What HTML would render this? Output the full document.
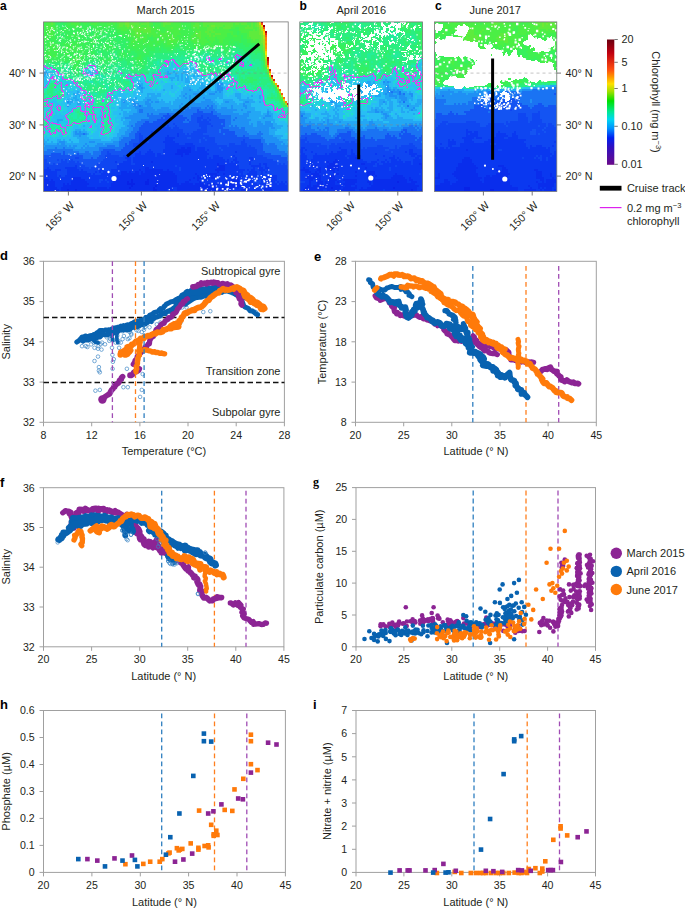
<!DOCTYPE html><html><head><meta charset="utf-8"><style>html,body{margin:0;padding:0;background:#fff;}svg{display:block;}</style></head><body><svg width="685" height="909" viewBox="0 0 685 909">
<rect width="685" height="909" fill="#fff"/>
<rect x="43.5" y="261.3" width="240.9" height="161" fill="none" stroke="#a0a0a0" stroke-width="1"/>
<line x1="43.5" y1="422.3" x2="43.5" y2="426.3" stroke="#a0a0a0" stroke-width="1" stroke-linecap="butt"/>
<text x="43.5" y="438.6" font-size="10.6" text-anchor="middle" font-weight="normal" fill="#231f20" font-family='"Liberation Sans", sans-serif'>8</text>
<line x1="91.7" y1="422.3" x2="91.7" y2="426.3" stroke="#a0a0a0" stroke-width="1" stroke-linecap="butt"/>
<text x="91.7" y="438.6" font-size="10.6" text-anchor="middle" font-weight="normal" fill="#231f20" font-family='"Liberation Sans", sans-serif'>12</text>
<line x1="139.9" y1="422.3" x2="139.9" y2="426.3" stroke="#a0a0a0" stroke-width="1" stroke-linecap="butt"/>
<text x="139.9" y="438.6" font-size="10.6" text-anchor="middle" font-weight="normal" fill="#231f20" font-family='"Liberation Sans", sans-serif'>16</text>
<line x1="188" y1="422.3" x2="188" y2="426.3" stroke="#a0a0a0" stroke-width="1" stroke-linecap="butt"/>
<text x="188" y="438.6" font-size="10.6" text-anchor="middle" font-weight="normal" fill="#231f20" font-family='"Liberation Sans", sans-serif'>20</text>
<line x1="236.2" y1="422.3" x2="236.2" y2="426.3" stroke="#a0a0a0" stroke-width="1" stroke-linecap="butt"/>
<text x="236.2" y="438.6" font-size="10.6" text-anchor="middle" font-weight="normal" fill="#231f20" font-family='"Liberation Sans", sans-serif'>24</text>
<line x1="284.4" y1="422.3" x2="284.4" y2="426.3" stroke="#a0a0a0" stroke-width="1" stroke-linecap="butt"/>
<text x="284.4" y="438.6" font-size="10.6" text-anchor="middle" font-weight="normal" fill="#231f20" font-family='"Liberation Sans", sans-serif'>28</text>
<line x1="39.5" y1="261.3" x2="43.5" y2="261.3" stroke="#a0a0a0" stroke-width="1" stroke-linecap="butt"/>
<text x="34.7" y="265.1" font-size="10.6" text-anchor="end" font-weight="normal" fill="#231f20" font-family='"Liberation Sans", sans-serif'>36</text>
<line x1="39.5" y1="301.6" x2="43.5" y2="301.6" stroke="#a0a0a0" stroke-width="1" stroke-linecap="butt"/>
<text x="34.7" y="305.4" font-size="10.6" text-anchor="end" font-weight="normal" fill="#231f20" font-family='"Liberation Sans", sans-serif'>35</text>
<line x1="39.5" y1="341.8" x2="43.5" y2="341.8" stroke="#a0a0a0" stroke-width="1" stroke-linecap="butt"/>
<text x="34.7" y="345.6" font-size="10.6" text-anchor="end" font-weight="normal" fill="#231f20" font-family='"Liberation Sans", sans-serif'>34</text>
<line x1="39.5" y1="382.1" x2="43.5" y2="382.1" stroke="#a0a0a0" stroke-width="1" stroke-linecap="butt"/>
<text x="34.7" y="385.9" font-size="10.6" text-anchor="end" font-weight="normal" fill="#231f20" font-family='"Liberation Sans", sans-serif'>33</text>
<line x1="39.5" y1="422.3" x2="43.5" y2="422.3" stroke="#a0a0a0" stroke-width="1" stroke-linecap="butt"/>
<text x="34.7" y="426.1" font-size="10.6" text-anchor="end" font-weight="normal" fill="#231f20" font-family='"Liberation Sans", sans-serif'>32</text>
<text x="163.9" y="455" font-size="11" text-anchor="middle" font-weight="normal" fill="#231f20" font-family='"Liberation Sans", sans-serif'>Temperature (°C)</text>
<text x="10" y="341.8" font-size="11" text-anchor="middle" font-weight="normal" fill="#231f20" font-family='"Liberation Sans", sans-serif' transform="rotate(-90 10 341.8)">Salinity</text>
<text x="0" y="260" font-size="13" text-anchor="start" font-weight="bold" fill="#000" font-family='"Liberation Sans", sans-serif'>d</text>
<line x1="43.5" y1="317.5" x2="284.4" y2="317.5" stroke="#111" stroke-width="1.5" stroke-dasharray="5.5,3" stroke-linecap="butt"/>
<line x1="43.5" y1="382.5" x2="284.4" y2="382.5" stroke="#111" stroke-width="1.5" stroke-dasharray="5.5,3" stroke-linecap="butt"/>
<text x="280.5" y="275.3" font-size="11" text-anchor="end" font-weight="normal" fill="#231f20" font-family='"Liberation Sans", sans-serif'>Subtropical gyre</text>
<text x="280.5" y="375" font-size="11" text-anchor="end" font-weight="normal" fill="#231f20" font-family='"Liberation Sans", sans-serif'>Transition zone</text>
<text x="280.5" y="416" font-size="11" text-anchor="end" font-weight="normal" fill="#231f20" font-family='"Liberation Sans", sans-serif'>Subpolar gyre</text>
<circle cx="85.8" cy="346.1" r="1.8" fill="none" stroke="#3a84c4" stroke-width="0.8" opacity="0.85"/>
<circle cx="94.5" cy="347.8" r="1.8" fill="none" stroke="#3a84c4" stroke-width="0.8" opacity="0.85"/>
<circle cx="98" cy="348.7" r="1.8" fill="none" stroke="#3a84c4" stroke-width="0.8" opacity="0.85"/>
<circle cx="101.5" cy="349.6" r="1.8" fill="none" stroke="#3a84c4" stroke-width="0.8" opacity="0.85"/>
<circle cx="98" cy="356.6" r="1.8" fill="none" stroke="#3a84c4" stroke-width="0.8" opacity="0.85"/>
<circle cx="94.5" cy="361" r="1.8" fill="none" stroke="#3a84c4" stroke-width="0.8" opacity="0.85"/>
<circle cx="98.9" cy="367.1" r="1.8" fill="none" stroke="#3a84c4" stroke-width="0.8" opacity="0.85"/>
<circle cx="99.8" cy="372.3" r="1.8" fill="none" stroke="#3a84c4" stroke-width="0.8" opacity="0.85"/>
<circle cx="95.4" cy="390.7" r="1.8" fill="none" stroke="#3a84c4" stroke-width="0.8" opacity="0.85"/>
<circle cx="99.8" cy="389.9" r="1.8" fill="none" stroke="#3a84c4" stroke-width="0.8" opacity="0.85"/>
<circle cx="105" cy="344.3" r="1.8" fill="none" stroke="#3a84c4" stroke-width="0.8" opacity="0.85"/>
<circle cx="112" cy="347.8" r="1.8" fill="none" stroke="#3a84c4" stroke-width="0.8" opacity="0.85"/>
<circle cx="112.4" cy="354.8" r="1.8" fill="none" stroke="#3a84c4" stroke-width="0.8" opacity="0.85"/>
<circle cx="112.9" cy="361.8" r="1.8" fill="none" stroke="#3a84c4" stroke-width="0.8" opacity="0.85"/>
<circle cx="112.6" cy="368.8" r="1.8" fill="none" stroke="#3a84c4" stroke-width="0.8" opacity="0.85"/>
<circle cx="117.3" cy="335.6" r="1.8" fill="none" stroke="#3a84c4" stroke-width="0.8" opacity="0.85"/>
<circle cx="118.2" cy="340.8" r="1.8" fill="none" stroke="#3a84c4" stroke-width="0.8" opacity="0.85"/>
<circle cx="119.1" cy="347.8" r="1.8" fill="none" stroke="#3a84c4" stroke-width="0.8" opacity="0.85"/>
<circle cx="122.6" cy="339.1" r="1.8" fill="none" stroke="#3a84c4" stroke-width="0.8" opacity="0.85"/>
<circle cx="127.8" cy="339.1" r="1.8" fill="none" stroke="#3a84c4" stroke-width="0.8" opacity="0.85"/>
<circle cx="131.3" cy="334.7" r="1.8" fill="none" stroke="#3a84c4" stroke-width="0.8" opacity="0.85"/>
<circle cx="141.8" cy="332" r="1.8" fill="none" stroke="#3a84c4" stroke-width="0.8" opacity="0.85"/>
<circle cx="126.9" cy="368.8" r="1.8" fill="none" stroke="#3a84c4" stroke-width="0.8" opacity="0.85"/>
<circle cx="123.4" cy="387.2" r="1.8" fill="none" stroke="#3a84c4" stroke-width="0.8" opacity="0.85"/>
<circle cx="127.8" cy="387.2" r="1.8" fill="none" stroke="#3a84c4" stroke-width="0.8" opacity="0.85"/>
<circle cx="141.8" cy="389.9" r="1.8" fill="none" stroke="#3a84c4" stroke-width="0.8" opacity="0.85"/>
<circle cx="140.1" cy="396.9" r="1.8" fill="none" stroke="#3a84c4" stroke-width="0.8" opacity="0.85"/>
<circle cx="142.7" cy="374.1" r="1.8" fill="none" stroke="#3a84c4" stroke-width="0.8" opacity="0.85"/>
<circle cx="182.1" cy="307.5" r="1.8" fill="none" stroke="#3a84c4" stroke-width="0.8" opacity="0.85"/>
<circle cx="186.5" cy="307.5" r="1.8" fill="none" stroke="#3a84c4" stroke-width="0.8" opacity="0.85"/>
<circle cx="93.7" cy="342.6" r="1.8" fill="none" stroke="#3a84c4" stroke-width="0.8" opacity="0.85"/>
<circle cx="96.3" cy="341.7" r="1.8" fill="none" stroke="#3a84c4" stroke-width="0.8" opacity="0.85"/>
<circle cx="100.7" cy="344.3" r="1.8" fill="none" stroke="#3a84c4" stroke-width="0.8" opacity="0.85"/>
<circle cx="106.8" cy="337.3" r="1.8" fill="none" stroke="#3a84c4" stroke-width="0.8" opacity="0.85"/>
<circle cx="110.3" cy="339.1" r="1.8" fill="none" stroke="#3a84c4" stroke-width="0.8" opacity="0.85"/>
<circle cx="115.6" cy="342.6" r="1.8" fill="none" stroke="#3a84c4" stroke-width="0.8" opacity="0.85"/>
<circle cx="120.8" cy="342.6" r="1.8" fill="none" stroke="#3a84c4" stroke-width="0.8" opacity="0.85"/>
<circle cx="113.8" cy="359.2" r="1.8" fill="none" stroke="#3a84c4" stroke-width="0.8" opacity="0.85"/>
<circle cx="98.9" cy="370.6" r="1.8" fill="none" stroke="#3a84c4" stroke-width="0.8" opacity="0.85"/>
<circle cx="122.6" cy="331.2" r="1.8" fill="none" stroke="#3a84c4" stroke-width="0.8" opacity="0.85"/>
<circle cx="129.6" cy="332" r="1.8" fill="none" stroke="#3a84c4" stroke-width="0.8" opacity="0.85"/>
<circle cx="136.6" cy="330.3" r="1.8" fill="none" stroke="#3a84c4" stroke-width="0.8" opacity="0.85"/>
<circle cx="145.3" cy="326.8" r="1.8" fill="none" stroke="#3a84c4" stroke-width="0.8" opacity="0.85"/>
<circle cx="152.3" cy="321.5" r="1.8" fill="none" stroke="#3a84c4" stroke-width="0.8" opacity="0.85"/>
<circle cx="161.1" cy="316.3" r="1.8" fill="none" stroke="#3a84c4" stroke-width="0.8" opacity="0.85"/>
<circle cx="177" cy="306.8" r="1.8" fill="none" stroke="#3a84c4" stroke-width="0.8" opacity="0.85"/>
<circle cx="180.5" cy="303.3" r="1.8" fill="none" stroke="#3a84c4" stroke-width="0.8" opacity="0.85"/>
<circle cx="185.8" cy="305" r="1.8" fill="none" stroke="#3a84c4" stroke-width="0.8" opacity="0.85"/>
<circle cx="191" cy="299.8" r="1.8" fill="none" stroke="#3a84c4" stroke-width="0.8" opacity="0.85"/>
<circle cx="196.3" cy="298" r="1.8" fill="none" stroke="#3a84c4" stroke-width="0.8" opacity="0.85"/>
<circle cx="203.3" cy="312" r="1.8" fill="none" stroke="#3a84c4" stroke-width="0.8" opacity="0.85"/>
<circle cx="210.3" cy="311.2" r="1.8" fill="none" stroke="#3a84c4" stroke-width="0.8" opacity="0.85"/>
<circle cx="231.3" cy="292.8" r="1.8" fill="none" stroke="#3a84c4" stroke-width="0.8" opacity="0.85"/>
<circle cx="243.6" cy="298" r="1.8" fill="none" stroke="#3a84c4" stroke-width="0.8" opacity="0.85"/>
<circle cx="248.8" cy="308.5" r="1.8" fill="none" stroke="#3a84c4" stroke-width="0.8" opacity="0.85"/>
<circle cx="252.3" cy="310.3" r="1.8" fill="none" stroke="#3a84c4" stroke-width="0.8" opacity="0.85"/>
<circle cx="255.8" cy="312" r="1.8" fill="none" stroke="#3a84c4" stroke-width="0.8" opacity="0.85"/>
<circle cx="257.6" cy="313.8" r="1.8" fill="none" stroke="#3a84c4" stroke-width="0.8" opacity="0.85"/>
<circle cx="180.5" cy="322.6" r="1.8" fill="none" stroke="#3a84c4" stroke-width="0.8" opacity="0.85"/>
<circle cx="177" cy="327.8" r="1.8" fill="none" stroke="#3a84c4" stroke-width="0.8" opacity="0.85"/>
<polyline points="76.8,342.1 78.4,340.9 79.4,340.3 79.9,339.5 81,338.4 82.2,336.9 83.9,336.9 85.2,335.9 87.7,336.9 89.4,336 91.7,335.4 93.3,335.6 93.7,334.4 95.3,334.5 96.5,333.2 98.6,331.9 99.9,330.5 100.7,330.5 103,330.6 104,330.5 105.7,329.9 107.7,330.2 108.4,329.8 110.3,330 112.1,328.7 113.9,328 114.6,328.5 115.6,327.7 116.9,327.5 119.4,326.9 121.1,326.1 122.3,326.2 123.7,325.6 125.6,325.9 126.5,325.1 127.4,324.8 129.8,324.9 131.5,323.4 132.4,323.4 133.4,322.6 135.1,321.6 136.4,322 138,320.8 139.9,321.2 140.9,319.9 143.1,319.8 144.9,319 145.6,317.6 147.2,317.6 149.5,315.8 149.8,315 151.4,314.5 153.3,313.3 154,312.7 155.9,312 158.2,311.3 158.9,310.3 160.5,308.6 162.1,308.8 163.4,307.9 164,306.5 164.9,306 166.2,304.3 167.7,303.5 169.4,302.6 170.4,302 172,301.6 173.4,301.6 175.8,299.8 176.8,299.3 178.4,298.2 180.4,298.5 181.1,296.7 181.8,295.2 183.4,294.4 185.3,293.3 185.4,293.4 187.4,291.2 185.8,292.5 184.1,295.2 185.9,294.1 186.5,292.9 187.7,292.8 189.7,292.1 190.8,290.6 193,291.5 194.5,291 196,290.6 196.6,290 198.3,289.1 199.4,289.2 201.2,289.5 203.7,289 205.2,289.5 206.8,288.4 207.3,288 208.8,287.8 210.9,288.5 212.8,287.7 214,288 214.7,287.6 217.4,287.7 218.7,287.1 219.3,287.4 221.1,287.3 223.5,286.6 224.2,287.3 226,287 226.6,287.9 229.1,289.7 229.4,290.6 232,291.2 232.4,292 233.4,292.1 235.9,293.9 236.6,295.2 237.8,295.9 239.7,295.9 240.2,296.9 241.5,298.2 241.9,299.7 242.2,302.1 242.9,303.2 243.7,305.6 244.6,306.8 245.9,307.4 247.1,307.8 248.8,309 249.9,310.7 251.9,311.1 254,312.1 254.7,312.9 256.4,314.2 257.6,314.7" fill="none" stroke="#0862b0" stroke-width="4.9559999999999995" stroke-linejoin="round" stroke-linecap="round"/>
<polyline points="82.9,340.9 84.7,339.8 87.4,339.8 88.3,340 90.6,338.7 91.4,338.4 92.6,338.4 93.9,337.5 95.4,338 97.4,337.4 99.5,335.4 100,336.7 102.1,334.4 101.9,334.8 103.2,333.9 104.7,334.6 107.8,334.8 107.8,334 110.5,332.2 112.5,333.9 112.3,333.5 114.2,332 117.1,332.4 116.6,331.1 118.9,330.5 119.6,330.1 122.3,329 123.3,329.7 123.5,329 126.4,329.1 126.5,329.9 129.7,329.4 129.6,327.3 130.9,328.1 132.9,326.1 134.7,327.5 137.1,325.5 137,326.7 139.4,325.7 139.7,323.7 142.6,324.2 142.6,324.7 145.4,323.8 145.6,323.2 147,322.6 149.4,320.7 151.1,321.4 151.9,318.9 153.9,318.5 154.4,317.6 155.7,317.1 157.7,316.6 160.1,315.8 160.8,314.8 161.7,313.7 162.8,313 165.3,313.5 165.3,312.6 168.4,311 169.5,311 170,311.3 171.1,309.8 173.1,309.9 173.4,308.5 175.5,307 176,305.3 176.4,303.8 177.7,304.2 179.3,301.8 180.1,302.5 182.3,300.6" fill="none" stroke="#0862b0" stroke-width="5.31" stroke-linejoin="round" stroke-linecap="round"/>
<circle cx="82" cy="346.2" r="1.8" fill="none" stroke="#3a84c4" stroke-width="0.8" opacity="0.85"/>
<circle cx="91.1" cy="344.4" r="1.8" fill="none" stroke="#3a84c4" stroke-width="0.8" opacity="0.85"/>
<circle cx="102" cy="342.6" r="1.8" fill="none" stroke="#3a84c4" stroke-width="0.8" opacity="0.85"/>
<circle cx="109.3" cy="340.8" r="1.8" fill="none" stroke="#3a84c4" stroke-width="0.8" opacity="0.85"/>
<circle cx="116.6" cy="338.9" r="1.8" fill="none" stroke="#3a84c4" stroke-width="0.8" opacity="0.85"/>
<circle cx="123.9" cy="336" r="1.8" fill="none" stroke="#3a84c4" stroke-width="0.8" opacity="0.85"/>
<circle cx="131.2" cy="333.5" r="1.8" fill="none" stroke="#3a84c4" stroke-width="0.8" opacity="0.85"/>
<circle cx="138.5" cy="330.9" r="1.8" fill="none" stroke="#3a84c4" stroke-width="0.8" opacity="0.85"/>
<circle cx="149.5" cy="327.3" r="1.8" fill="none" stroke="#3a84c4" stroke-width="0.8" opacity="0.85"/>
<circle cx="160.4" cy="322.5" r="1.8" fill="none" stroke="#3a84c4" stroke-width="0.8" opacity="0.85"/>
<circle cx="167.7" cy="318.9" r="1.8" fill="none" stroke="#3a84c4" stroke-width="0.8" opacity="0.85"/>
<circle cx="175" cy="313.4" r="1.8" fill="none" stroke="#3a84c4" stroke-width="0.8" opacity="0.85"/>
<circle cx="87.4" cy="347" r="1.8" fill="none" stroke="#3a84c4" stroke-width="0.8" opacity="0.85"/>
<circle cx="98.4" cy="346.2" r="1.8" fill="none" stroke="#3a84c4" stroke-width="0.8" opacity="0.85"/>
<circle cx="118.5" cy="342.6" r="1.8" fill="none" stroke="#3a84c4" stroke-width="0.8" opacity="0.85"/>
<circle cx="129.4" cy="338.2" r="1.8" fill="none" stroke="#3a84c4" stroke-width="0.8" opacity="0.85"/>
<circle cx="144" cy="329.8" r="1.8" fill="none" stroke="#3a84c4" stroke-width="0.8" opacity="0.85"/>
<circle cx="156.8" cy="324.3" r="1.8" fill="none" stroke="#3a84c4" stroke-width="0.8" opacity="0.85"/>
<polyline points="93.3,336.7 93,337.5 93.6,339.3 94,340.7 95.9,342.3 98,342.6" fill="none" stroke="#0862b0" stroke-width="4.13" stroke-linejoin="round" stroke-linecap="round"/>
<polyline points="112.7,332.1 111.9,334.5 112.1,335.3 111.9,337.1 112.7,339.1 112.9,340.8" fill="none" stroke="#0862b0" stroke-width="3.54" stroke-linejoin="round" stroke-linecap="round"/>
<polyline points="116.9,335.6 116.7,337 116.9,338.9 116.9,340.1 117.7,342.6" fill="none" stroke="#0862b0" stroke-width="3.54" stroke-linejoin="round" stroke-linecap="round"/>
<polygon points="178.8,305 184,292.8 192.8,289.3 205,286.6 215.6,284.9 224.3,284.9 231.3,287.5 222.6,291 208.5,294.5 196.3,299.8 185.8,306.8" fill="#0862b0"/>
<polyline points="180.2,301.1 182.1,301.1 183.9,300.8 185.3,300.6 186.4,299.3 188.7,298.5 189.8,298.7 190.4,298.5 193.1,298 194.5,298.1 195.2,297.5 197.3,297.7 199.2,297.5 200.5,297.4 202.2,296.9 203.1,295.8 204.5,296.1 206,296.3 208.1,295.5 209.7,295 211,293.6 213,294.1 214.1,293.3 215.8,292.2 217.4,292.2 217.9,291.9 220.4,291.6 221.9,292.5 223,291.4 224.5,291.5 226.4,291.2 227.8,290.9 228.6,291.7 230.9,292.2 232.2,292.3 232.9,293.2 235.3,294.3 236.8,294.2 238.1,295 239.5,295 241.6,295.6 243.3,297.2 243.4,297 246,298.2 247.1,298" fill="none" stroke="#0862b0" stroke-width="4.72" stroke-linejoin="round" stroke-linecap="round"/>
<circle cx="102.4" cy="399.5" r="4.2" fill="#8c2494" stroke="none" stroke-width="0"/>
<polyline points="102.3,399.2 103.1,399.1 104.2,397.6 105.3,396.5 107.6,395 108.5,394.5 109.7,393.8 109.9,393.1 111.2,390.6 111.5,390.1 113.1,388.6 113.6,387.4 114.7,386.9 115.2,385.6 117.4,383.5 118.5,383.1 119.4,381.3 119.5,380.2 121.4,379.3 121.4,377.8 122.6,376.7" fill="none" stroke="#8c2494" stroke-width="5.664" stroke-linejoin="round" stroke-linecap="round"/>
<polyline points="130.1,375.2 131.1,375.3 132.6,374.5 133.8,372.5 135.5,371.4 136.5,371.5 138.5,370.3 139.2,368.8" fill="none" stroke="#8c2494" stroke-width="5.8999999999999995" stroke-linejoin="round" stroke-linecap="round"/>
<polyline points="133.3,364.2 134.6,362.3 135.1,360.3 136,359.6 136.9,358.5 137.3,356.3 139.3,355 139.7,353.9 140.5,353.1 142.5,351 143.4,349.7 144.5,348.5 145.3,346.9 146.7,346.6 148,344.2 149.4,343.9 149.6,341.2 150.1,339.6 151.2,338.2 152,337 153.3,336.4 154.5,334.3 154.8,333 155.7,331.2 156.1,329.7 158.3,328 158.8,327.6 160.5,325.8 160.8,324.7 162.1,323.8 164.1,323.2 165.1,320.8 165.2,320.8 167.7,319.5 168.5,317.8 169.5,318.1 171.3,317 172.8,315.2 172.8,314 174.4,313.5 176,312.3 176.6,311.2 177.3,309.6 177.7,308.7 179,307.6 180.6,305.5 181,304.2 182.9,303.7 183.3,301.6 185.1,301.2 186.1,299.5 187.4,298.8" fill="none" stroke="#8c2494" stroke-width="5.31" stroke-linejoin="round" stroke-linecap="round"/>
<polyline points="192.9,286.8 193.9,286.8 196.4,286.4 197.7,285.6 198.2,284.6 200.7,284.6 201.3,283 203.1,283.8 204.5,283.1 206.4,283.9 207.3,282.5 209,282.9 211,282.4 212.7,283.1 213.8,282.2 216.2,282.7 217.8,282.9 218.7,284 220.5,284.7 222.6,283.6 223.9,283.9 226.3,284.7 227.3,283.9 229.2,285.6 230.8,285.1 232.4,286.5 234.5,288.5 235.2,290 236.3,290.3 236.1,292.5 237.8,292.5 238.6,294.4 238.6,295.8 238.8,296.8 239.5,298.8 241,300 241.5,301.6 241.1,304 241.8,305" fill="none" stroke="#8c2494" stroke-width="5.664" stroke-linejoin="round" stroke-linecap="round"/>
<polyline points="120.4,354.7 120.4,353.8 122,353.4 122.9,351.6 125,350.1 125.4,350.3 127.1,348.2 127.1,347.2 129.8,346.4 131,346.3 131.8,344.3 134.1,343.8 134.5,342.9 135.9,341.4 136.7,341.2 139.4,340.1 140.7,338.4 141.2,338.4 143.7,338.5 144.3,336.9 145.8,336.7 148,335.7 149.3,335.9 150.8,335.5 151.9,334.4 153,334 155.1,333.2 155.7,333.7 157.2,332.3 158.4,332.4 160.3,332.4 162.7,331.7 163.3,329.8 164.5,329.8 166.9,329.1 167.7,328.4 169.8,328.5 171.5,328.5 172.8,327.2 174.6,327.2 175.7,327.1 177.5,326.6 178.6,326.8" fill="none" stroke="#ff7a0a" stroke-width="5.8999999999999995" stroke-linejoin="round" stroke-linecap="round"/>
<polyline points="120.4,351.8 121.6,353.6 123.5,353.7 124.6,355.5 126.1,355.3 127.8,354.6 129.4,352.5 130,352.2 131.3,350.4" fill="none" stroke="#ff7a0a" stroke-width="4.72" stroke-linejoin="round" stroke-linecap="round"/>
<polyline points="144.1,350.2 144.4,349.6 146,349.9 148.8,350.8 150.2,350.9 151.6,351.4 152.2,352.2 154.7,351.6 155.7,352.6 156.7,352.5 158.1,352.5 159.7,353.3 161.8,353 162.4,353.4 164.6,353.9" fill="none" stroke="#ff7a0a" stroke-width="5.31" stroke-linejoin="round" stroke-linecap="round"/>
<polyline points="136,371.9 135.8,370.2 136.8,368.9 136.1,366.5 136.9,365.4 137.6,363 137.2,362.4 137.8,360.3 137.9,359.7 138.2,357.7 138.5,356 139.5,355.3 139,352.6 139.7,351.1 138.7,350.6 139.5,349 139.6,347.6 139.8,345.1 139.3,344.1 140.1,342.6" fill="none" stroke="#ff7a0a" stroke-width="5.31" stroke-linejoin="round" stroke-linecap="round"/>
<polyline points="170.2,326.7 170.9,325.7 172.7,324.9 173.9,324 175.9,324.3 176.7,323.1 179.2,323.2 179.2,320.6 181.1,320.3 181.4,317.5 182.9,316.6 183.7,315.4 184.5,313.3 185.9,312.8 186.8,313.1 188.9,311.6 189.4,311.3 191.3,310.7 192.2,309.9 194.6,310.3 195,309.2 197.5,307.9 199.1,307.4 200.2,307.4 201.7,306.5 202.6,305.7 203.8,304.7 205,303.2 205.5,302.3 207.4,300.6 208.9,300.2 209.9,298.3 211.3,297.1 212.2,296.5 213.6,295.5 215.6,293.9 217.1,292.9 218.7,292.8 219.8,290.7 221.2,290.1 223.2,288.7 224.8,290 226.4,289.7 227.4,290 229.6,289.9 231.9,288.4 233.5,289 234.2,287.7 236.9,287 238.5,287.9 239.8,288.4 240.8,290.2 241.8,290 243.6,290.8 244.1,291.7 245.4,294 247.3,295.1 247.8,296.1 248.9,296.9 250.8,297.8 252.5,299.2 253.5,300.7 254.2,301.9 256.4,302.1 258,302.9 259.7,304.4 260.2,305.8 261.7,306 263.6,306.8 264.6,308.5" fill="none" stroke="#ff7a0a" stroke-width="5.8999999999999995" stroke-linejoin="round" stroke-linecap="round"/>
<polyline points="244,294.2 244.9,296.4 246,297.1 246.8,297.3 247.6,298.7 249.6,300.3 250.6,302.1 251.5,301.8 253.6,302.2 254.1,303.4 255.6,304.1 257.2,305.2 259,305.7 260.4,307.2 261,309 262.9,309.4" fill="none" stroke="#ff7a0a" stroke-width="5.8999999999999995" stroke-linejoin="round" stroke-linecap="round"/>
<line x1="112.4" y1="261.3" x2="112.4" y2="422.3" stroke="#a04cb4" stroke-width="1.3" stroke-dasharray="4.8,3.2" stroke-linecap="butt"/>
<line x1="135.5" y1="261.3" x2="135.5" y2="422.3" stroke="#ff7f1e" stroke-width="1.3" stroke-dasharray="4.8,3.2" stroke-linecap="butt"/>
<line x1="144.1" y1="261.3" x2="144.1" y2="422.3" stroke="#2f7fc0" stroke-width="1.3" stroke-dasharray="4.8,3.2" stroke-linecap="butt"/>
<rect x="355.5" y="261.3" width="240.8" height="161" fill="none" stroke="#a0a0a0" stroke-width="1"/>
<line x1="355.5" y1="422.3" x2="355.5" y2="426.3" stroke="#a0a0a0" stroke-width="1" stroke-linecap="butt"/>
<text x="355.5" y="438.6" font-size="10.6" text-anchor="middle" font-weight="normal" fill="#231f20" font-family='"Liberation Sans", sans-serif'>20</text>
<line x1="403.7" y1="422.3" x2="403.7" y2="426.3" stroke="#a0a0a0" stroke-width="1" stroke-linecap="butt"/>
<text x="403.7" y="438.6" font-size="10.6" text-anchor="middle" font-weight="normal" fill="#231f20" font-family='"Liberation Sans", sans-serif'>25</text>
<line x1="451.8" y1="422.3" x2="451.8" y2="426.3" stroke="#a0a0a0" stroke-width="1" stroke-linecap="butt"/>
<text x="451.8" y="438.6" font-size="10.6" text-anchor="middle" font-weight="normal" fill="#231f20" font-family='"Liberation Sans", sans-serif'>30</text>
<line x1="500" y1="422.3" x2="500" y2="426.3" stroke="#a0a0a0" stroke-width="1" stroke-linecap="butt"/>
<text x="500" y="438.6" font-size="10.6" text-anchor="middle" font-weight="normal" fill="#231f20" font-family='"Liberation Sans", sans-serif'>35</text>
<line x1="548.1" y1="422.3" x2="548.1" y2="426.3" stroke="#a0a0a0" stroke-width="1" stroke-linecap="butt"/>
<text x="548.1" y="438.6" font-size="10.6" text-anchor="middle" font-weight="normal" fill="#231f20" font-family='"Liberation Sans", sans-serif'>40</text>
<line x1="596.3" y1="422.3" x2="596.3" y2="426.3" stroke="#a0a0a0" stroke-width="1" stroke-linecap="butt"/>
<text x="596.3" y="438.6" font-size="10.6" text-anchor="middle" font-weight="normal" fill="#231f20" font-family='"Liberation Sans", sans-serif'>45</text>
<line x1="351.5" y1="261.3" x2="355.5" y2="261.3" stroke="#a0a0a0" stroke-width="1" stroke-linecap="butt"/>
<text x="346.7" y="265.1" font-size="10.6" text-anchor="end" font-weight="normal" fill="#231f20" font-family='"Liberation Sans", sans-serif'>28</text>
<line x1="351.5" y1="301.6" x2="355.5" y2="301.6" stroke="#a0a0a0" stroke-width="1" stroke-linecap="butt"/>
<text x="346.7" y="305.4" font-size="10.6" text-anchor="end" font-weight="normal" fill="#231f20" font-family='"Liberation Sans", sans-serif'>23</text>
<line x1="351.5" y1="341.8" x2="355.5" y2="341.8" stroke="#a0a0a0" stroke-width="1" stroke-linecap="butt"/>
<text x="346.7" y="345.6" font-size="10.6" text-anchor="end" font-weight="normal" fill="#231f20" font-family='"Liberation Sans", sans-serif'>18</text>
<line x1="351.5" y1="382.1" x2="355.5" y2="382.1" stroke="#a0a0a0" stroke-width="1" stroke-linecap="butt"/>
<text x="346.7" y="385.9" font-size="10.6" text-anchor="end" font-weight="normal" fill="#231f20" font-family='"Liberation Sans", sans-serif'>13</text>
<line x1="351.5" y1="422.3" x2="355.5" y2="422.3" stroke="#a0a0a0" stroke-width="1" stroke-linecap="butt"/>
<text x="346.7" y="426.1" font-size="10.6" text-anchor="end" font-weight="normal" fill="#231f20" font-family='"Liberation Sans", sans-serif'>8</text>
<text x="475.9" y="455" font-size="11" text-anchor="middle" font-weight="normal" fill="#231f20" font-family='"Liberation Sans", sans-serif'>Latitude (° N)</text>
<text x="326" y="342" font-size="11" text-anchor="middle" font-weight="normal" fill="#231f20" font-family='"Liberation Sans", sans-serif' transform="rotate(-90 326 342)">Temperature (°C)</text>
<text x="314" y="261" font-size="13" text-anchor="start" font-weight="bold" fill="#000" font-family='"Liberation Sans", sans-serif'>e</text>
<line x1="472.8" y1="266" x2="472.8" y2="422.3" stroke="#2f7fc0" stroke-width="1.3" stroke-dasharray="4.8,3.2" stroke-linecap="butt"/>
<line x1="526" y1="266" x2="526" y2="422.3" stroke="#ff7f1e" stroke-width="1.3" stroke-dasharray="4.8,3.2" stroke-linecap="butt"/>
<line x1="558.7" y1="266" x2="558.7" y2="422.3" stroke="#a04cb4" stroke-width="1.3" stroke-dasharray="4.8,3.2" stroke-linecap="butt"/>
<polyline points="375.2,295.8 376.3,297.7 379.3,298.9 379.7,298.6 380.2,300.2 383.1,299 384.9,298.7 387.1,298.7 387.3,298.6 387.6,299.1 389.1,299.8 389.1,302.3 389.7,303.2 392.4,303.6 391.6,306 393,307.4 394.4,307.7 394,309.3 394.5,311.7 397.2,312.4 396.6,313.8 399.3,314 400.4,315.1 400.4,315.5 402,314.9 403.9,316 406.3,315.7 408,314.1 409.3,314.7 411.5,315.2 412,315.7 415.1,315 416.6,314.9 416.9,315.6 419.6,317.4 421.2,316.4 423.1,316.9 423.3,318.8 425.7,318.9 427.3,320 428.4,320.3 430.5,320.9 431.5,321.2 433.2,321.1 433.8,322.6 434.8,324 436.3,323 437.6,325.7 439.5,324.8 440.2,325.4 443,327.5 444.1,328.9 443.8,329.8 445.6,331.4 447.7,332.7 447.1,333.8 450,335.1 449.4,334.7 450.5,335.4 453.2,338.4 453.8,339.7 454.9,339.8 454.9,340.6 457.8,340.7 458.5,341 459.4,340.5 461.5,341.3 463.3,340.3 466.1,340.6 467.4,340.7 467.2,340.8 469.7,342.1 471,342.5 473,342 475.3,342.3 476.7,343.1 476.5,343.7 479.4,346.3 479.1,346.2 481.4,347.8 481.9,348.1 483.5,349.7 484.6,350.9 485.9,350.3 488.4,351.4 488.7,352.3 490.2,353.1 493.1,353.7 494.5,353.3 495.5,353.9 497.3,354.6" fill="none" stroke="#8c2494" stroke-width="5.31" stroke-linejoin="round" stroke-linecap="round"/>
<polyline points="473.1,335.9 474.3,337 474.1,338.7 476.8,340.5 476.9,342.5 477.8,342.8 480.1,343.9 482.2,344.1 483,343.8 484.2,345.3 486.9,345.5 487.3,345.4 490.1,346.3 490.1,346.6 493.2,346.7 493.2,347.5 495.8,349.2 496,348.3 497.9,348.8 500.2,348.7 501.5,348.9 504.6,350.2 504.4,350.9 506.1,349.8 508.7,352.2 508.9,353 508.4,355 508.9,355.6 510.2,356.7 510.9,359.9 513.2,359.6 514.8,359.9 515.4,360.5 517.7,361.2 520.5,360.8 521.5,361.9 522.7,360.9 524.9,362.4 526.5,362.1 528.2,362.2 529.3,361.9 530.1,362.4 531.2,362 533.6,362.3" fill="none" stroke="#8c2494" stroke-width="5.31" stroke-linejoin="round" stroke-linecap="round"/>
<polyline points="541.3,371 542.5,369.5 543.6,369.4 545.6,368.8 547.2,369.4 547.7,368.3 550.5,367.2 551.4,369.5 552,369.6 553.8,371.1 557,371.6 556.2,373.1 558.2,374.7 559.1,375.9 560.9,377 561,379.3 561.6,380.1 563.6,380.7 564.6,381.6 566.8,380 568.2,381.1 569.3,381.6 571.8,382.6 573.3,382.1 574.7,383.5 577.9,383.4 578.5,383.8" fill="none" stroke="#8c2494" stroke-width="5.664" stroke-linejoin="round" stroke-linecap="round"/>
<polyline points="368.6,279.7 369.9,279.9 370.3,282.6 372.6,283.8 372.8,285.1 373.2,287.4 374.4,288.1 376.9,289.1 377.6,288.5 379.2,288.7 381.3,289.7 382.8,290.1 383.2,290.6 384.6,289.6 385,289.9 386.9,288 388.3,287.6 389.9,287 392.1,286.5 394.5,287.5 394.3,287.5 397.9,287.4 398,287.5 400.7,286.5 401,289.4 404.1,288.7 404.5,289.3 405.9,291.7 407.2,291.5 409.5,293.9 409,295.3 411.1,296.1 411.9,296.6" fill="none" stroke="#0862b0" stroke-width="4.9559999999999995" stroke-linejoin="round" stroke-linecap="round"/>
<polyline points="377.4,293.4 379,294.1 378.7,294.5 380.9,295.5 382,296.8 383.6,295.9 384,296.4 386.1,297.1 387.3,298.2 388.7,300.1 390.1,302 390.1,302.3 392.9,301.9 394.9,303.1 395.5,302.2 398.7,301.6 399.2,303.6 398.5,304.6 401.5,306.6 401.6,307.8 403.2,307.5 405.4,307.3 406,310.1 405.3,312.2 405.7,312.6 406.5,314.9 406,315.4 407,317.2 408.5,317.9 409.5,317 409.5,315.4 410.5,316.2 411.9,314.5 411.9,311.9 412.8,311.4 414.8,310.8 414,309.4 417.4,307.7 415.7,305.5 416.3,303.7 419.7,303.5 419.7,302.5 421.1,300.6 421,299.2 421.5,300.7 421.8,301.2 422,303.6 422.5,304.2 421.1,305.7 423.1,309.8 423.1,309.9 423.8,312.8 424.2,312.3 424.5,313.9 425.6,315 427.7,317.6 427.1,317.6 428.1,317.4 431.4,319.8 432.8,320.5 431.8,321 435,323.2 437.7,322.5 437.6,322 439.9,323 440,323 441.2,325.6 443.1,326.4 444.7,326.1 446.4,323.7 449.8,324.3 450.8,325.4 449.8,328.3 452.7,329.7 453.7,328.7 454.4,331.8 454.9,333.6 455.3,334.9 457.6,333.4 456.5,336.4 460.1,335.7 459.9,338.6 460.7,339.9 462.9,338.5 463.8,340.9 465.2,342.2 465.6,343.4 467,344.5 468.5,345.3 468.5,347.8 470.9,349.2 470.5,349.3 469.8,352.7 473.3,352.8 473.9,352.7 477.4,353.9 477.9,353 478.2,356 478.9,356.8 480.4,358.8 481.8,358.4 480.3,359.7 482.3,362 484.3,364.2 482.9,365.4 486.7,366.1 487.7,364.9 490.1,367 491.3,367.9 491.4,366.6 493.1,369.7 493.2,370.7 496.4,370.3 496.5,372.7 497.2,372.4 498.2,374.8 501.2,374.9 500.7,376.8 504.2,376 505,377.6" fill="none" stroke="#0862b0" stroke-width="5.8999999999999995" stroke-linejoin="round" stroke-linecap="round"/>
<polyline points="445,310.7 446.9,310.7 447.2,311.8 447.8,311.8 449,314 450.7,314.6 452,315.4 452.7,315.2 455.2,317.5 453.6,319.5 455.7,319.9 455.7,321.8 456,322.5 455.3,326.2 457.8,326.5 457.6,327.4 458.6,329.3 460.6,329.5 462,329.5 462.2,326.7 463.8,326.5 464.1,327.7 465.9,331.3 466.3,333 468,332.5 467.8,334.8 467.3,337.7 468.9,338.2" fill="none" stroke="#0862b0" stroke-width="5.31" stroke-linejoin="round" stroke-linecap="round"/>
<polyline points="459.3,337 461.9,339.1 463.6,338.5 464.4,338.9 467.5,342.3 466.2,341 467.2,343.4 469.9,346.4 470.6,345.4 471.3,348.8 471.8,351 471,350.1 474.4,353 475.5,351.9 476.6,353.9 476.6,353.3 478.4,353.4 480.4,354.2 480.7,355.7 483,356.8 484.1,358.9 483.2,362.5 485.3,363.6 488.6,364.5 488.1,364.2 489.5,366.6 492.9,367 493,367.4 495.3,369 495.9,369.3 496,370.3 498.4,373.2 497.8,375.7 499.2,375.9 499.9,377 503.2,376.5 502.6,376.3 504.4,376.8 505.2,376.3 506.4,375.4 509.5,372.7 509.7,374.3 509.7,375.4 510.7,379.1 513.2,380.2 511.3,379.8 514.3,380.5 514.5,382.5 515.9,383.1 516.1,385.4 515.4,385.6 518.6,388.4 518,389.3 521.3,389.9 521.5,390.9 521.6,393.8 524.4,393.1 523.8,393.8 526.5,396 527.4,397.1" fill="none" stroke="#0862b0" stroke-width="5.8999999999999995" stroke-linejoin="round" stroke-linecap="round"/>
<polyline points="463.5,323.8 464.7,326.7 465.5,328.1 464.4,328.6 466,331.1 466.3,332 466.9,334.3 467.6,337 467.5,336.3 469.2,338.8 469.7,339.6 468.8,342.4 469.9,342.1 470.6,344.5 470.4,345.7 472.3,347" fill="none" stroke="#0862b0" stroke-width="5.31" stroke-linejoin="round" stroke-linecap="round"/>
<polyline points="374.6,290.1 375.3,289.2 376.9,287.8" fill="none" stroke="#ff7a0a" stroke-width="5.31" stroke-linejoin="round" stroke-linecap="round"/>
<polyline points="380.9,278.8 381.3,278 383,277.7 383.8,277.5 387.3,276.2 387.9,275.9 389.5,274.6 392,274.9 391.9,274.5 393.6,275.9 394.6,274.1 397.7,274.2 397.8,274.9 400.4,275.1 402.1,274.6 404,276.3 403.6,275.4 406.1,276.5 407.1,276.1 408.9,276.6 410.9,278.6 411.5,278.5 414.3,278 416.1,280.2 416.7,279.5 419.2,280.2 419.8,281.6 422.2,280.8 422.6,281.2 424.6,283.1 427,283.4 428.6,283.7 428.5,283.5 431.5,285.5 431.1,285.5 433,286.5 433.9,286.9 434.8,288.9 435,289.3 438.1,291.7 439.1,292.5 439.7,294.4 440.8,293.8 441.1,295.7 442.1,297 442.7,299.7 444.4,298.7 445.8,299.6 448.3,299.7 448.4,301 449.6,301.3 453,301.6 453,302 455,302 455.5,302.6 457.2,303.9 458.5,304.3 459.5,305.6 462.5,306.4 463.3,307.2 463.8,308 465.5,308.7 466.9,309.7 467.4,310.3 468.3,312 469.7,313.2 470,313.8 472.9,314.6 473.4,316.3 473.5,318.8 474.3,319.8 474.7,319.8 477,322 475.9,323.4 477.5,325.6 477.5,325.9 480.1,328.5 479.1,329.1 480.1,331.4 481.3,333.3 482.4,334.2 482.8,336.2 483.5,337.2 484.2,339.3 485.1,339.6 486.4,339.7 487.7,341.3 488.6,342.5 490.2,341.7 492.1,343 493.2,342.3 494.2,343.2 496.1,343.6 496.7,344.9 498,345.1 500.3,347 501,346.8 501.6,347.3 502.9,348.6 505,349.2" fill="none" stroke="#ff7a0a" stroke-width="5.664" stroke-linejoin="round" stroke-linecap="round"/>
<polyline points="401.2,287 403.5,287.2 404.9,287.9 406.7,286.3 407.1,287.5 407.7,285.3 410.5,286 412.8,286.2 413.5,287 415,286.1 416.9,286.1 417.8,286.7 419.3,287.7 421.5,287 421.8,286.9 424,287.5 425.9,288.4 428.3,287.8 428.3,289.1 430.8,289.5 431,291.4 431.4,291.3 434.4,293.4 434.6,292.8 436.6,295.1 437.7,296.7 439,296.4 438.7,297.1 440.7,298.6 441.2,298.8 443.4,300.7 444,302.5 445.8,301.5 446.5,304 447.5,304.8 448.1,304.9 451.3,306.4 452.3,306.3 453.3,307.9 454.1,309 456.1,310.5 457.5,310.1 457.9,310.4 460.7,311.1 460.3,312.3 462.3,314.8 463.6,315.9 463.5,315.3 466.2,317 467.1,318.2 467.1,319.1 468,321.6 470,321.6 470.6,322.9 470.7,325.3 472.8,326.7 473.4,327.2 473.9,327.2 475.4,329.4" fill="none" stroke="#ff7a0a" stroke-width="5.31" stroke-linejoin="round" stroke-linecap="round"/>
<polyline points="460.9,308.9 461,309.7 463.4,309.1 464.3,311.2 465.4,311.9 466.3,311.3 468.6,311.7 468.8,314.4 470.2,315.6 470.7,315.6 472,317 474.3,318.6 474.4,319.6 475,321.7 475.3,322.4 475.2,325.5 476.3,325.7 476.6,327.3 477.2,328.2 478.7,330.3 478.3,332.5 478.9,332.9 481.2,333.9 481,336.8 482.5,336.7 482.2,339.3 483.6,340.5 484.6,341.2 486.6,340.3 487.8,340.8 489.7,341.7 491.5,343.1 491.8,343.2 493.8,344 495.8,344.7 496.5,346.5 497.5,347.9 499.2,348.5 501,348.6 501.8,349.3 502.5,352.1 504,352.9 504.7,353.9 506.4,354.9 507.4,355.1 508.6,356.6 509.9,358 512,357.7 515,358.8 516.7,359.4 516.8,358.4 518.3,359.7 521.1,359.5 522,360.8 524.1,360.5 525.9,361.3 526.8,361.5 527.2,363.7 530,363.8 529.5,363.6 530.8,365.3 532.1,366.9 532.6,368.1 534.9,369.1 536.4,371.2 537.1,371.8 537.5,374 538.4,373.8 540.4,376.7 540.3,376.4 542.5,378.9 541.8,379.4 543,381.9 544.2,383.4 546.4,382.9 547.6,384.6 549.1,386.5 549.5,386 552.3,387.7 553.6,389.3 554.5,390.6 555.7,390.7 556,392.1 558.2,392.6 560.8,392.6 561.9,393.3 563.2,395.8 563.7,396.2 566.7,397.2 567.2,397.1 567.6,398.2 569.8,398.7 571.4,400.1" fill="none" stroke="#ff7a0a" stroke-width="5.8999999999999995" stroke-linejoin="round" stroke-linecap="round"/>
<polyline points="518,339.4 518.6,341.7 518.1,342.9 518.5,344.8 519.1,346.3 518.4,348.6 518.3,349.9 518.6,351.9 518.9,353.4 518.4,354.9 518.8,356.3 519,358.3 518.1,359.2 518.4,360.7 517.9,362.4 518,364.5 518.3,365.4 518.2,367.4" fill="none" stroke="#ff7a0a" stroke-width="4.9559999999999995" stroke-linejoin="round" stroke-linecap="round"/>
<rect x="43.5" y="487.7" width="240.4" height="159.1" fill="none" stroke="#a0a0a0" stroke-width="1"/>
<line x1="43.5" y1="646.8" x2="43.5" y2="650.8" stroke="#a0a0a0" stroke-width="1" stroke-linecap="butt"/>
<text x="43.5" y="663.1" font-size="10.6" text-anchor="middle" font-weight="normal" fill="#231f20" font-family='"Liberation Sans", sans-serif'>20</text>
<line x1="91.6" y1="646.8" x2="91.6" y2="650.8" stroke="#a0a0a0" stroke-width="1" stroke-linecap="butt"/>
<text x="91.6" y="663.1" font-size="10.6" text-anchor="middle" font-weight="normal" fill="#231f20" font-family='"Liberation Sans", sans-serif'>25</text>
<line x1="139.7" y1="646.8" x2="139.7" y2="650.8" stroke="#a0a0a0" stroke-width="1" stroke-linecap="butt"/>
<text x="139.7" y="663.1" font-size="10.6" text-anchor="middle" font-weight="normal" fill="#231f20" font-family='"Liberation Sans", sans-serif'>30</text>
<line x1="187.7" y1="646.8" x2="187.7" y2="650.8" stroke="#a0a0a0" stroke-width="1" stroke-linecap="butt"/>
<text x="187.7" y="663.1" font-size="10.6" text-anchor="middle" font-weight="normal" fill="#231f20" font-family='"Liberation Sans", sans-serif'>35</text>
<line x1="235.8" y1="646.8" x2="235.8" y2="650.8" stroke="#a0a0a0" stroke-width="1" stroke-linecap="butt"/>
<text x="235.8" y="663.1" font-size="10.6" text-anchor="middle" font-weight="normal" fill="#231f20" font-family='"Liberation Sans", sans-serif'>40</text>
<line x1="283.9" y1="646.8" x2="283.9" y2="650.8" stroke="#a0a0a0" stroke-width="1" stroke-linecap="butt"/>
<text x="283.9" y="663.1" font-size="10.6" text-anchor="middle" font-weight="normal" fill="#231f20" font-family='"Liberation Sans", sans-serif'>45</text>
<line x1="39.5" y1="487.7" x2="43.5" y2="487.7" stroke="#a0a0a0" stroke-width="1" stroke-linecap="butt"/>
<text x="34.7" y="491.5" font-size="10.6" text-anchor="end" font-weight="normal" fill="#231f20" font-family='"Liberation Sans", sans-serif'>36</text>
<line x1="39.5" y1="527.5" x2="43.5" y2="527.5" stroke="#a0a0a0" stroke-width="1" stroke-linecap="butt"/>
<text x="34.7" y="531.3" font-size="10.6" text-anchor="end" font-weight="normal" fill="#231f20" font-family='"Liberation Sans", sans-serif'>35</text>
<line x1="39.5" y1="567.2" x2="43.5" y2="567.2" stroke="#a0a0a0" stroke-width="1" stroke-linecap="butt"/>
<text x="34.7" y="571" font-size="10.6" text-anchor="end" font-weight="normal" fill="#231f20" font-family='"Liberation Sans", sans-serif'>34</text>
<line x1="39.5" y1="607" x2="43.5" y2="607" stroke="#a0a0a0" stroke-width="1" stroke-linecap="butt"/>
<text x="34.7" y="610.8" font-size="10.6" text-anchor="end" font-weight="normal" fill="#231f20" font-family='"Liberation Sans", sans-serif'>33</text>
<line x1="39.5" y1="646.8" x2="43.5" y2="646.8" stroke="#a0a0a0" stroke-width="1" stroke-linecap="butt"/>
<text x="34.7" y="650.6" font-size="10.6" text-anchor="end" font-weight="normal" fill="#231f20" font-family='"Liberation Sans", sans-serif'>32</text>
<text x="163.7" y="680.4" font-size="11" text-anchor="middle" font-weight="normal" fill="#231f20" font-family='"Liberation Sans", sans-serif'>Latitude (° N)</text>
<text x="10" y="566.8" font-size="11" text-anchor="middle" font-weight="normal" fill="#231f20" font-family='"Liberation Sans", sans-serif' transform="rotate(-90 10 566.8)">Salinity</text>
<text x="0" y="487" font-size="13" text-anchor="start" font-weight="bold" fill="#000" font-family='"Liberation Sans", sans-serif'>f</text>
<line x1="161.7" y1="490.7" x2="161.7" y2="646.8" stroke="#2f7fc0" stroke-width="1.3" stroke-dasharray="4.8,3.2" stroke-linecap="butt"/>
<line x1="214.4" y1="490.7" x2="214.4" y2="646.8" stroke="#ff7f1e" stroke-width="1.3" stroke-dasharray="4.8,3.2" stroke-linecap="butt"/>
<line x1="246" y1="490.7" x2="246" y2="646.8" stroke="#a04cb4" stroke-width="1.3" stroke-dasharray="4.8,3.2" stroke-linecap="butt"/>
<circle cx="57.7" cy="542.4" r="1.8" fill="none" stroke="#3a84c4" stroke-width="0.8" opacity="0.85"/>
<circle cx="127.7" cy="540.2" r="1.8" fill="none" stroke="#3a84c4" stroke-width="0.8" opacity="0.85"/>
<circle cx="124.4" cy="535.8" r="1.8" fill="none" stroke="#3a84c4" stroke-width="0.8" opacity="0.85"/>
<circle cx="131" cy="534.7" r="1.8" fill="none" stroke="#3a84c4" stroke-width="0.8" opacity="0.85"/>
<circle cx="122.3" cy="530.4" r="1.8" fill="none" stroke="#3a84c4" stroke-width="0.8" opacity="0.85"/>
<circle cx="128.8" cy="528.2" r="1.8" fill="none" stroke="#3a84c4" stroke-width="0.8" opacity="0.85"/>
<circle cx="168.2" cy="561" r="1.8" fill="none" stroke="#3a84c4" stroke-width="0.8" opacity="0.85"/>
<circle cx="172.6" cy="563.2" r="1.8" fill="none" stroke="#3a84c4" stroke-width="0.8" opacity="0.85"/>
<circle cx="177" cy="562.1" r="1.8" fill="none" stroke="#3a84c4" stroke-width="0.8" opacity="0.85"/>
<circle cx="169.4" cy="562.9" r="1.8" fill="none" stroke="#3a84c4" stroke-width="0.8" opacity="0.85"/>
<circle cx="172.5" cy="563.9" r="1.8" fill="none" stroke="#3a84c4" stroke-width="0.8" opacity="0.85"/>
<circle cx="198" cy="593.6" r="1.8" fill="none" stroke="#3a84c4" stroke-width="0.8" opacity="0.85"/>
<circle cx="205.2" cy="552.7" r="1.8" fill="none" stroke="#3a84c4" stroke-width="0.8" opacity="0.85"/>
<circle cx="162.3" cy="538.4" r="1.8" fill="none" stroke="#3a84c4" stroke-width="0.8" opacity="0.85"/>
<circle cx="158.2" cy="546.6" r="1.8" fill="none" stroke="#3a84c4" stroke-width="0.8" opacity="0.85"/>
<polyline points="62.7,512.8 64.5,511.5 65.4,510.6 69.2,511.8 68.7,511.2 71.1,512.4 69.3,513.9 70.4,514.8 70.9,516 72.1,519.2 71.7,521.6 72,521.6 71.3,522.9 71.5,525.9 74.2,526.2 74.1,528.2" fill="none" stroke="#8c2494" stroke-width="5.31" stroke-linejoin="round" stroke-linecap="round"/>
<polyline points="75.4,515.4 78,514.8 76.8,512.9 79.4,511.4 79.5,509.6 82.5,509.9 82.7,510.5 84.2,511.2 85.4,508.8 87.9,510.4 90.1,510.5 91.9,511.1 92.2,509.7 92.8,509 95.6,508.5 97.4,508.8 98.2,511.2 98.7,508.7 101.3,509.2 103.6,508.8 105.5,511.3 106.9,510.2 107,511 109.2,510.4 110.2,510.9 112.7,512.5 115,511.1 114.8,512.4 117.1,512.6 117.6,512.3 119.6,513.8 122.9,515.7 124,516.4 125.8,515.9 126.8,514.9 127.9,517 128.2,517.4 131.2,518.3 131.4,518.8 131.7,521.6 131.8,520.7 134.8,522.5 134.2,524.3 135.5,525.5 136.1,526.8 137,527.9 136.2,528.7 139,531.2 137.2,533.6 138.1,532.8 139.4,534.8 139.7,537.1 139.9,538.4 140.5,539.5 142.8,539.5 143.3,540.7 144.3,544.2 145.6,545.1 147.1,544.6 149.5,546.3 148.7,546.6 151.3,544.7 154.7,545.9 155.9,544.6 156.6,543 155.8,542.4 155.9,541.6 157.2,539.3 159.3,538.2 159.5,536.9" fill="none" stroke="#8c2494" stroke-width="6.194999999999999" stroke-linejoin="round" stroke-linecap="round"/>
<polyline points="138.5,528.5 139.2,529.8 140,532 139,533.1 140.1,534.6 141.7,536.3 141.1,536.6 143.3,539.5 144,538.8 144.4,540.3 145.5,543 145.7,544.2 148.3,543.5 148.4,544.9 151.2,546.2 150.7,545.8 152.9,547.9" fill="none" stroke="#8c2494" stroke-width="5.31" stroke-linejoin="round" stroke-linecap="round"/>
<polyline points="148.8,541.4 150.2,541.8 151.8,543.5 153.3,543 156.1,545.5 156.7,547.5 158.8,546.1 158.2,547.5 160,550.8 162.2,549.2 161.5,552.7 164.4,552.4 165,552.7 167.4,554.4 168.9,555.7 167.9,555.4 169.8,557.8 172.4,555.8 172.5,557.4 174.8,558.7 176,558.6 176.3,559.9 178.7,558.8 180.5,562.4 180.3,561 183.2,562.7 183,564.7 184,566.2 185.9,568.7 188.3,567.1 188,570.7 190,571.9 190.4,572.7 190.7,572.7 193.3,575.8 194.9,576.3 194.1,577.8 196.6,578.1 197.4,578.8 197.8,580.3 197,581.5 198.5,584.9 199.7,584.3 199.6,585.3 200.6,586.3 199.9,590.3 201.6,590.7 202.3,591.9 201.4,592.9 202.2,595.4 203.8,597.8 206.1,597.6 207.7,598.7 206.7,597.9 209.9,600.8 210.9,600.6 212.8,600.5 213.4,599 217.7,598 217.4,596.9 218.8,597.3 221.5,597.7" fill="none" stroke="#8c2494" stroke-width="5.7584" stroke-linejoin="round" stroke-linecap="round"/>
<polyline points="230.3,602.9 231.1,602.9 233.4,604.9 235.3,602.8 237.2,605.2 238.5,602.5 240.9,605 239.9,604.2 240,607 242.6,608.8 243.3,609 241.9,612.2 243.5,612.7 244.1,614 242.6,615.8 243.8,617.7 245.9,618.5 248,619 248.8,619.4 251.5,622.4 253.2,621.6 253.6,624.4 254.2,623.2 255.2,624.1 258.8,623.6 260.7,624.3 261.5,624.5 263.3,624.4 265.1,623 266.5,623.2" fill="none" stroke="#8c2494" stroke-width="5.31" stroke-linejoin="round" stroke-linecap="round"/>
<polyline points="58.4,539.5 59.4,539.9 60.6,537.5 61.7,538.3 61.9,535.2 63.2,536 63.4,532.5 65.7,533.4 67.9,531.7 69.8,530.5 70.4,529.2 69,527.7 69.7,527.2 71.7,524.8 73.5,523.7 71.8,521.6 74.1,522.2 73.1,518.1 76.3,518.3 78.4,518.7 78.9,517.9 80.8,517.8 80.9,518.8 81.7,517.9 83.1,517.3 85.5,517.5 86,516.3 88.6,517.3 91.8,516.5 91.4,515.4 93.1,515.9 94.7,515.3 97.8,516.5 98.1,517.6 99.5,516.3 100.9,517.4 104.5,515.9 105.7,517.7 105.9,516.5 108,518.3 108.6,518 111.4,517.5 112.9,519 113.3,519.2 115.3,519.1 118.2,518.3 119.7,521.6 119.5,519.7 120.4,523.3 121.6,524.1 123.4,524.5 124.2,524.2 126.7,525.2 126.6,528.9 128.6,530.1 128.8,530.4" fill="none" stroke="#0862b0" stroke-width="6.194999999999999" stroke-linejoin="round" stroke-linecap="round"/>
<polyline points="73.3,522.4 72.8,525.2 75.7,523.6 76.8,524.7 78.3,524.8 78.6,526.9 81.1,526.1 82.1,524.5 83.7,523.9 85.4,524.2 86.8,523.9 89.4,521.6 90.6,522.4 93.7,521.6 93.3,523.1 96.8,522.1 96.6,520.2 98.1,519.6 99,520.5 101.7,520.7 103.3,519.1 105.8,520.9 107.1,520.6 109.1,521.9 111.3,521.1 111.6,520 113.5,520.5" fill="none" stroke="#0862b0" stroke-width="5.31" stroke-linejoin="round" stroke-linecap="round"/>
<polyline points="124.2,525.3 125.6,522.9 127.1,521.7 130.4,520.8 130.6,523.2 131,521.7 132.8,520.1 133.7,519.2 137.2,520.8 138.9,518 139.8,519.5 141.2,520.8 141.7,522.8 142.3,522.7 146.5,522.6 147.3,524.7 147.7,524.2 150.6,524.3 151.8,525.2 152.6,526.8 154.3,526.7 155.5,528.3 155.6,529.4 157,531.2 159,531.5 160.4,531.6 160.8,531.4 163.9,533.9 163.6,535.1 165.5,535.5 164.4,538.6 166.2,539.2 168.3,541.3 169.4,539.9 169.3,543.1 172.2,541.6 171.5,542.7 172.8,543.8 176.5,545 176.9,544.4 178.1,547.7 180.5,546.5 181.3,548.1 183.6,546.5 184.9,547.7 185.8,547.8 186.8,548.6 188.3,548.1 189.2,550.3 190.4,549.4 194.1,550.1 194.5,550.4 197.7,550.3 198.8,553 200,552.3" fill="none" stroke="#0862b0" stroke-width="6.194999999999999" stroke-linejoin="round" stroke-linecap="round"/>
<polyline points="122.6,525.8 124.4,527.9 123.8,528.2 124.3,530.6 125.3,532.1 125,534.5 125.5,535.8" fill="none" stroke="#0862b0" stroke-width="5.31" stroke-linejoin="round" stroke-linecap="round"/>
<polyline points="131.8,525.6 131.3,527.8 133.1,528.5 133.8,531.4 133.2,532.6" fill="none" stroke="#0862b0" stroke-width="4.425" stroke-linejoin="round" stroke-linecap="round"/>
<polyline points="149.6,530.7 150.8,529.6 153.5,531.2 154.2,532.3 156.7,533.7 155.3,533.9 158.1,534.2 160.6,534.7 160.8,536.9 162.1,536.3 163.7,538.4 165.5,539.1 166,538 168.3,540.6 169.9,542.3 169.2,541.6 170.7,544 172.3,542.2 175.8,544.2 175.2,545.1 178.8,545 178.2,546.1 180.9,546.3 184.3,547.6 185.2,546.1 184.9,548 185.2,550.1 187.4,548.6 188.9,549.2 192,550.8 192.3,551.1 192.2,551.4 196.1,553.6 197.5,552.5 197,552.5 199.5,554.1 200.7,555 202.5,555.2 204.7,555.3 206.5,557 205.3,557.2 208.3,558.5 210,559.3 210.6,561.8 212,562.9 215,563.9 215.4,565" fill="none" stroke="#0862b0" stroke-width="7.08" stroke-linejoin="round" stroke-linecap="round"/>
<polyline points="70.7,528.3 72.1,527.6 72.5,525.8 75.7,524.1 77.9,523.7 78.6,523.4 81.1,524 82.2,523.2 83.3,523.2 83.8,521.6 86.9,521.1 88.7,520.9 88,520.3 91.5,522.4 92,521.3 93.1,521.7 96,519.4 95.8,520.8 97.4,521.1 99.8,519.2 102.2,519.3 103.8,518.7 106.5,519 107.9,518.4 109.4,520.9 109.9,518.3 111.5,520.2 112.7,520.1 114,520 117.4,520 118.9,519.3 120.1,520.5" fill="none" stroke="#0862b0" stroke-width="7.08" stroke-linejoin="round" stroke-linecap="round"/>
<polyline points="167.1,555.9 168.7,559 170.1,558.9 169.9,559.5 172.4,560.9 174.2,560.9 174.5,562.9" fill="none" stroke="#0862b0" stroke-width="4.425" stroke-linejoin="round" stroke-linecap="round"/>
<polyline points="74,540 75.1,537.8 74.6,535.3 75.7,535.7 77.8,532.6 78.8,530.7 78.7,531.5 79.2,532.5 81,531.5 81.3,533.5 82.2,535.3 81.9,537 82,536.8 82.5,538.5 82.3,541.7 82.3,542.5 80.8,544.2 81.7,545.7" fill="none" stroke="#ff7a0a" stroke-width="5.31" stroke-linejoin="round" stroke-linecap="round"/>
<polyline points="90.4,530.8 92,529.5 94.1,527.8 96.5,526.1 95.8,530.2 97,531.7 99.2,532.5 98,530.1 101,528.8 100.8,528.7 100.6,527.2 101.6,526.1 104,526.7 104.6,527.9 106.1,528.2 107.3,529 109.1,527.7 108.8,526.4 111.3,524.6 113,525.4 113.4,526.7 114.7,526.4 115.4,525.4 117.9,523.7 120.1,521.8 120.3,520.8 121.4,521.3 122.9,518.2 122.6,518.6 125.8,515.9 125.9,516.7 127.5,514.6 129.3,515.1 131.4,514.1 133.2,515.4 133.4,514.7 134.7,516.8 137.5,515.3 138.1,515.4 139.2,515.8 141.2,518.1 144.6,517.8 144.7,517.1 147.1,518.4 148.2,518.7 147.7,519.8 150.6,521.3 149.5,522.2 151.4,521.7 154.3,524.3 154.7,523.8 156,527.2 157,528.1 157.5,529.8 157.6,530.2 159,532.6 159.8,532.7 160.8,534.8 161.6,535 162.5,538.3 161.2,539.8 162,539.3 163.5,540.8 164.4,544.1 165.8,544.9 165.7,546.5 167.8,547.5 169.2,549.1 168.6,548.3 170.2,551.7 170.3,552.2 172.6,554 171.2,554.4 172.7,554.1 176.4,555.7 177.3,556.5 178,556.5 179.5,559.1 181.7,558.2 181.8,558.5 185.1,559.3 186.5,560.6 186.5,560.6 187.9,561.3 189.9,560 193.6,560.6 192.6,563.4 194.8,564.7 195.3,564.8 198,566 199.2,566.4 199.8,567.6 200,569.8" fill="none" stroke="#ff7a0a" stroke-width="5.7584" stroke-linejoin="round" stroke-linecap="round"/>
<polyline points="150.1,522.6 150.4,526.4 152.6,527 153.4,526.7 154.3,528.3 157.9,529.2 157.8,531.5 160.2,532.2 158.7,533.5 160.6,535.9 161.3,536.5 162.9,537.2 163.5,539.5 165.5,540.4 164.5,543.3 164.2,544.3 166.6,545 166.5,547 168.4,548.4 168.5,547.9 167.9,549.6 170.9,553 169.7,553.2 172.1,552.9 172.8,556 174.6,555.9 176.2,557.1 176.7,558.6 179.6,558.9 180.9,558.7 181.3,559.1 184,558 184.4,556.2 187,557.7 189,557.4 188.5,558.9 192,558.9 192.9,559.9 193.1,560.6 194.4,562.6 197.7,564.9 196.8,563.7 200.3,564.1 199.9,565.5 200.6,565.6 202.8,566.7 206,567.4 205.4,570.2 207.6,571 209.7,571.9 210.4,570.5 213.3,571.8 214.3,572.8 216.5,572.1 217,574.3 219.1,573.5 220.9,574.5 222.8,574.9 223.6,577.2" fill="none" stroke="#ff7a0a" stroke-width="6.194999999999999" stroke-linejoin="round" stroke-linecap="round"/>
<polyline points="205.8,571.2 205,573.6 204.9,574 204.6,576.3 205.9,578.2 205.4,580.2 204.8,580.9 206,583.9 206.1,585.1 206.4,586.2 206.8,588.6 205.8,589.6 206.2,591.5" fill="none" stroke="#ff7a0a" stroke-width="4.425" stroke-linejoin="round" stroke-linecap="round"/>
<circle cx="122.3" cy="530.4" r="1.8" fill="none" stroke="#3a84c4" stroke-width="0.8" opacity="0.85"/>
<circle cx="126.6" cy="539.1" r="1.8" fill="none" stroke="#3a84c4" stroke-width="0.8" opacity="0.85"/>
<circle cx="131" cy="534.7" r="1.8" fill="none" stroke="#3a84c4" stroke-width="0.8" opacity="0.85"/>
<circle cx="125.5" cy="533.6" r="1.8" fill="none" stroke="#3a84c4" stroke-width="0.8" opacity="0.85"/>
<circle cx="168.2" cy="561" r="1.8" fill="none" stroke="#3a84c4" stroke-width="0.8" opacity="0.85"/>
<circle cx="172.6" cy="564.3" r="1.8" fill="none" stroke="#3a84c4" stroke-width="0.8" opacity="0.85"/>
<circle cx="177" cy="563.2" r="1.8" fill="none" stroke="#3a84c4" stroke-width="0.8" opacity="0.85"/>
<circle cx="159.5" cy="543.5" r="1.8" fill="none" stroke="#3a84c4" stroke-width="0.8" opacity="0.85"/>
<circle cx="157.3" cy="539.1" r="1.8" fill="none" stroke="#3a84c4" stroke-width="0.8" opacity="0.85"/>
<circle cx="170.4" cy="563.9" r="1.8" fill="none" stroke="#3a84c4" stroke-width="0.8" opacity="0.85"/>
<circle cx="174.5" cy="564.6" r="1.8" fill="none" stroke="#3a84c4" stroke-width="0.8" opacity="0.85"/>
<circle cx="198" cy="594" r="1.8" fill="none" stroke="#3a84c4" stroke-width="0.8" opacity="0.85"/>
<circle cx="205.2" cy="552.7" r="1.8" fill="none" stroke="#3a84c4" stroke-width="0.8" opacity="0.85"/>
<circle cx="158.2" cy="546.6" r="1.8" fill="none" stroke="#3a84c4" stroke-width="0.8" opacity="0.85"/>
<rect x="356" y="487.6" width="239.5" height="159.2" fill="none" stroke="#a0a0a0" stroke-width="1"/>
<line x1="356" y1="646.8" x2="356" y2="650.8" stroke="#a0a0a0" stroke-width="1" stroke-linecap="butt"/>
<text x="356" y="663.1" font-size="10.6" text-anchor="middle" font-weight="normal" fill="#231f20" font-family='"Liberation Sans", sans-serif'>20</text>
<line x1="403.9" y1="646.8" x2="403.9" y2="650.8" stroke="#a0a0a0" stroke-width="1" stroke-linecap="butt"/>
<text x="403.9" y="663.1" font-size="10.6" text-anchor="middle" font-weight="normal" fill="#231f20" font-family='"Liberation Sans", sans-serif'>25</text>
<line x1="451.8" y1="646.8" x2="451.8" y2="650.8" stroke="#a0a0a0" stroke-width="1" stroke-linecap="butt"/>
<text x="451.8" y="663.1" font-size="10.6" text-anchor="middle" font-weight="normal" fill="#231f20" font-family='"Liberation Sans", sans-serif'>30</text>
<line x1="499.7" y1="646.8" x2="499.7" y2="650.8" stroke="#a0a0a0" stroke-width="1" stroke-linecap="butt"/>
<text x="499.7" y="663.1" font-size="10.6" text-anchor="middle" font-weight="normal" fill="#231f20" font-family='"Liberation Sans", sans-serif'>35</text>
<line x1="547.6" y1="646.8" x2="547.6" y2="650.8" stroke="#a0a0a0" stroke-width="1" stroke-linecap="butt"/>
<text x="547.6" y="663.1" font-size="10.6" text-anchor="middle" font-weight="normal" fill="#231f20" font-family='"Liberation Sans", sans-serif'>40</text>
<line x1="595.5" y1="646.8" x2="595.5" y2="650.8" stroke="#a0a0a0" stroke-width="1" stroke-linecap="butt"/>
<text x="595.5" y="663.1" font-size="10.6" text-anchor="middle" font-weight="normal" fill="#231f20" font-family='"Liberation Sans", sans-serif'>45</text>
<line x1="352" y1="487.6" x2="356" y2="487.6" stroke="#a0a0a0" stroke-width="1" stroke-linecap="butt"/>
<text x="347.2" y="491.4" font-size="10.6" text-anchor="end" font-weight="normal" fill="#231f20" font-family='"Liberation Sans", sans-serif'>25</text>
<line x1="352" y1="519.4" x2="356" y2="519.4" stroke="#a0a0a0" stroke-width="1" stroke-linecap="butt"/>
<text x="347.2" y="523.2" font-size="10.6" text-anchor="end" font-weight="normal" fill="#231f20" font-family='"Liberation Sans", sans-serif'>20</text>
<line x1="352" y1="551.3" x2="356" y2="551.3" stroke="#a0a0a0" stroke-width="1" stroke-linecap="butt"/>
<text x="347.2" y="555.1" font-size="10.6" text-anchor="end" font-weight="normal" fill="#231f20" font-family='"Liberation Sans", sans-serif'>15</text>
<line x1="352" y1="583.1" x2="356" y2="583.1" stroke="#a0a0a0" stroke-width="1" stroke-linecap="butt"/>
<text x="347.2" y="586.9" font-size="10.6" text-anchor="end" font-weight="normal" fill="#231f20" font-family='"Liberation Sans", sans-serif'>10</text>
<line x1="352" y1="615" x2="356" y2="615" stroke="#a0a0a0" stroke-width="1" stroke-linecap="butt"/>
<text x="347.2" y="618.8" font-size="10.6" text-anchor="end" font-weight="normal" fill="#231f20" font-family='"Liberation Sans", sans-serif'>5</text>
<line x1="352" y1="646.8" x2="356" y2="646.8" stroke="#a0a0a0" stroke-width="1" stroke-linecap="butt"/>
<text x="347.2" y="650.6" font-size="10.6" text-anchor="end" font-weight="normal" fill="#231f20" font-family='"Liberation Sans", sans-serif'>0</text>
<text x="475.8" y="680.4" font-size="11" text-anchor="middle" font-weight="normal" fill="#231f20" font-family='"Liberation Sans", sans-serif'>Latitude (° N)</text>
<text x="323" y="566.8" font-size="11" text-anchor="middle" font-weight="normal" fill="#231f20" font-family='"Liberation Sans", sans-serif' transform="rotate(-90 323 566.8)">Particulate carbon (µM)</text>
<text x="313" y="486" font-size="12" text-anchor="start" font-weight="bold" fill="#000" font-family='"Liberation Serif", serif'>g</text>
<line x1="473.2" y1="490.6" x2="473.2" y2="646.8" stroke="#2f7fc0" stroke-width="1.3" stroke-dasharray="4.8,3.2" stroke-linecap="butt"/>
<line x1="526" y1="490.6" x2="526" y2="646.8" stroke="#ff7f1e" stroke-width="1.3" stroke-dasharray="4.8,3.2" stroke-linecap="butt"/>
<line x1="558" y1="490.6" x2="558" y2="646.8" stroke="#a04cb4" stroke-width="1.3" stroke-dasharray="4.8,3.2" stroke-linecap="butt"/>
<circle cx="469.5" cy="627.8" r="2.3" fill="#8c2494" stroke="none" stroke-width="0"/>
<circle cx="515.3" cy="632.7" r="2.3" fill="#8c2494" stroke="none" stroke-width="0"/>
<circle cx="380.6" cy="624.4" r="2.3" fill="#8c2494" stroke="none" stroke-width="0"/>
<circle cx="474.2" cy="625.1" r="2.3" fill="#8c2494" stroke="none" stroke-width="0"/>
<circle cx="447.7" cy="619.5" r="2.3" fill="#8c2494" stroke="none" stroke-width="0"/>
<circle cx="464" cy="623.6" r="2.3" fill="#8c2494" stroke="none" stroke-width="0"/>
<circle cx="423.4" cy="621.4" r="2.3" fill="#8c2494" stroke="none" stroke-width="0"/>
<circle cx="403.7" cy="623.2" r="2.3" fill="#8c2494" stroke="none" stroke-width="0"/>
<circle cx="469" cy="624.2" r="2.3" fill="#8c2494" stroke="none" stroke-width="0"/>
<circle cx="505.8" cy="624.8" r="2.3" fill="#8c2494" stroke="none" stroke-width="0"/>
<circle cx="522.3" cy="631.2" r="2.3" fill="#8c2494" stroke="none" stroke-width="0"/>
<circle cx="515.4" cy="629.9" r="2.3" fill="#8c2494" stroke="none" stroke-width="0"/>
<circle cx="412.6" cy="622.7" r="2.3" fill="#8c2494" stroke="none" stroke-width="0"/>
<circle cx="520.2" cy="630.4" r="2.3" fill="#8c2494" stroke="none" stroke-width="0"/>
<circle cx="432.7" cy="618.1" r="2.3" fill="#8c2494" stroke="none" stroke-width="0"/>
<circle cx="389.3" cy="623.7" r="2.3" fill="#8c2494" stroke="none" stroke-width="0"/>
<circle cx="380.6" cy="626.2" r="2.3" fill="#8c2494" stroke="none" stroke-width="0"/>
<circle cx="425.8" cy="620.8" r="2.3" fill="#8c2494" stroke="none" stroke-width="0"/>
<circle cx="422.7" cy="618.3" r="2.3" fill="#8c2494" stroke="none" stroke-width="0"/>
<circle cx="389.4" cy="626.4" r="2.3" fill="#8c2494" stroke="none" stroke-width="0"/>
<circle cx="488.2" cy="624.8" r="2.3" fill="#8c2494" stroke="none" stroke-width="0"/>
<circle cx="491.8" cy="623" r="2.3" fill="#8c2494" stroke="none" stroke-width="0"/>
<circle cx="383.4" cy="624.4" r="2.3" fill="#8c2494" stroke="none" stroke-width="0"/>
<circle cx="518.4" cy="625.9" r="2.3" fill="#8c2494" stroke="none" stroke-width="0"/>
<circle cx="515.4" cy="628.4" r="2.3" fill="#8c2494" stroke="none" stroke-width="0"/>
<circle cx="428" cy="619.3" r="2.3" fill="#8c2494" stroke="none" stroke-width="0"/>
<circle cx="396.1" cy="627.2" r="2.3" fill="#8c2494" stroke="none" stroke-width="0"/>
<circle cx="508.3" cy="624.8" r="2.3" fill="#8c2494" stroke="none" stroke-width="0"/>
<circle cx="392.3" cy="622.5" r="2.3" fill="#8c2494" stroke="none" stroke-width="0"/>
<circle cx="509.8" cy="623.6" r="2.3" fill="#8c2494" stroke="none" stroke-width="0"/>
<circle cx="457.9" cy="621.7" r="2.3" fill="#8c2494" stroke="none" stroke-width="0"/>
<circle cx="406.9" cy="621.5" r="2.3" fill="#8c2494" stroke="none" stroke-width="0"/>
<circle cx="480.4" cy="624.5" r="2.3" fill="#8c2494" stroke="none" stroke-width="0"/>
<circle cx="390.2" cy="626.2" r="2.3" fill="#8c2494" stroke="none" stroke-width="0"/>
<circle cx="438.8" cy="617.7" r="2.3" fill="#8c2494" stroke="none" stroke-width="0"/>
<circle cx="497.1" cy="624.8" r="2.3" fill="#8c2494" stroke="none" stroke-width="0"/>
<circle cx="389.3" cy="626.5" r="2.3" fill="#8c2494" stroke="none" stroke-width="0"/>
<circle cx="451.6" cy="623.3" r="2.3" fill="#8c2494" stroke="none" stroke-width="0"/>
<circle cx="488" cy="625.3" r="2.3" fill="#8c2494" stroke="none" stroke-width="0"/>
<circle cx="495.1" cy="623.6" r="2.3" fill="#8c2494" stroke="none" stroke-width="0"/>
<circle cx="402.8" cy="623.7" r="2.3" fill="#8c2494" stroke="none" stroke-width="0"/>
<circle cx="449.1" cy="621.5" r="2.3" fill="#8c2494" stroke="none" stroke-width="0"/>
<circle cx="518.2" cy="629.2" r="2.3" fill="#8c2494" stroke="none" stroke-width="0"/>
<circle cx="483.5" cy="624.3" r="2.3" fill="#8c2494" stroke="none" stroke-width="0"/>
<circle cx="439.4" cy="618.7" r="2.3" fill="#8c2494" stroke="none" stroke-width="0"/>
<circle cx="524.6" cy="631" r="2.3" fill="#8c2494" stroke="none" stroke-width="0"/>
<circle cx="451.5" cy="621.9" r="2.3" fill="#8c2494" stroke="none" stroke-width="0"/>
<circle cx="420.3" cy="623.8" r="2.3" fill="#8c2494" stroke="none" stroke-width="0"/>
<circle cx="432.9" cy="622.2" r="2.3" fill="#8c2494" stroke="none" stroke-width="0"/>
<circle cx="478.4" cy="627.3" r="2.3" fill="#8c2494" stroke="none" stroke-width="0"/>
<circle cx="432.1" cy="620.6" r="2.3" fill="#8c2494" stroke="none" stroke-width="0"/>
<circle cx="450.3" cy="625.2" r="2.3" fill="#8c2494" stroke="none" stroke-width="0"/>
<circle cx="425.2" cy="620.2" r="2.3" fill="#8c2494" stroke="none" stroke-width="0"/>
<circle cx="466" cy="623.6" r="2.3" fill="#8c2494" stroke="none" stroke-width="0"/>
<circle cx="415.4" cy="622.5" r="2.3" fill="#8c2494" stroke="none" stroke-width="0"/>
<circle cx="495.6" cy="628" r="2.3" fill="#8c2494" stroke="none" stroke-width="0"/>
<circle cx="428.4" cy="621.1" r="2.3" fill="#8c2494" stroke="none" stroke-width="0"/>
<circle cx="497.1" cy="622.5" r="2.3" fill="#8c2494" stroke="none" stroke-width="0"/>
<circle cx="503.3" cy="630.9" r="2.3" fill="#8c2494" stroke="none" stroke-width="0"/>
<circle cx="515.2" cy="629.3" r="2.3" fill="#8c2494" stroke="none" stroke-width="0"/>
<circle cx="406.7" cy="626" r="2.3" fill="#8c2494" stroke="none" stroke-width="0"/>
<circle cx="447.7" cy="624.9" r="2.3" fill="#8c2494" stroke="none" stroke-width="0"/>
<circle cx="486.8" cy="621.6" r="2.3" fill="#8c2494" stroke="none" stroke-width="0"/>
<circle cx="462.6" cy="625.5" r="2.3" fill="#8c2494" stroke="none" stroke-width="0"/>
<circle cx="470.2" cy="627.1" r="2.3" fill="#8c2494" stroke="none" stroke-width="0"/>
<circle cx="484.9" cy="624.3" r="2.3" fill="#8c2494" stroke="none" stroke-width="0"/>
<circle cx="442.8" cy="622.2" r="2.3" fill="#8c2494" stroke="none" stroke-width="0"/>
<circle cx="478.4" cy="624.9" r="2.3" fill="#8c2494" stroke="none" stroke-width="0"/>
<circle cx="448.1" cy="621.3" r="2.3" fill="#8c2494" stroke="none" stroke-width="0"/>
<circle cx="399.1" cy="621.5" r="2.3" fill="#8c2494" stroke="none" stroke-width="0"/>
<circle cx="410.3" cy="621.3" r="2.3" fill="#8c2494" stroke="none" stroke-width="0"/>
<circle cx="433" cy="621.2" r="2.3" fill="#8c2494" stroke="none" stroke-width="0"/>
<circle cx="414.7" cy="621.1" r="2.3" fill="#8c2494" stroke="none" stroke-width="0"/>
<circle cx="438.1" cy="618.3" r="2.3" fill="#8c2494" stroke="none" stroke-width="0"/>
<circle cx="398" cy="625" r="2.3" fill="#8c2494" stroke="none" stroke-width="0"/>
<circle cx="385.4" cy="626.2" r="2.3" fill="#8c2494" stroke="none" stroke-width="0"/>
<circle cx="457.2" cy="621.1" r="2.3" fill="#8c2494" stroke="none" stroke-width="0"/>
<circle cx="518.6" cy="630.9" r="2.3" fill="#8c2494" stroke="none" stroke-width="0"/>
<circle cx="495.9" cy="626.6" r="2.3" fill="#8c2494" stroke="none" stroke-width="0"/>
<circle cx="398.8" cy="623.8" r="2.3" fill="#8c2494" stroke="none" stroke-width="0"/>
<circle cx="520.2" cy="629.5" r="2.3" fill="#8c2494" stroke="none" stroke-width="0"/>
<circle cx="430.8" cy="618.8" r="2.3" fill="#8c2494" stroke="none" stroke-width="0"/>
<circle cx="393.6" cy="624.9" r="2.3" fill="#8c2494" stroke="none" stroke-width="0"/>
<circle cx="397.9" cy="625.4" r="2.3" fill="#8c2494" stroke="none" stroke-width="0"/>
<circle cx="433" cy="618.9" r="2.3" fill="#8c2494" stroke="none" stroke-width="0"/>
<circle cx="424.1" cy="619.7" r="2.3" fill="#8c2494" stroke="none" stroke-width="0"/>
<circle cx="520.4" cy="630.5" r="2.3" fill="#8c2494" stroke="none" stroke-width="0"/>
<circle cx="420" cy="620.6" r="2.3" fill="#8c2494" stroke="none" stroke-width="0"/>
<circle cx="437.6" cy="615.5" r="2.3" fill="#8c2494" stroke="none" stroke-width="0"/>
<circle cx="450.3" cy="620.3" r="2.3" fill="#8c2494" stroke="none" stroke-width="0"/>
<circle cx="396.5" cy="624.5" r="2.3" fill="#8c2494" stroke="none" stroke-width="0"/>
<circle cx="423.2" cy="622.8" r="2.3" fill="#8c2494" stroke="none" stroke-width="0"/>
<circle cx="381.3" cy="625.2" r="2.3" fill="#8c2494" stroke="none" stroke-width="0"/>
<circle cx="514.8" cy="629.5" r="2.3" fill="#8c2494" stroke="none" stroke-width="0"/>
<circle cx="422.1" cy="615.4" r="2.3" fill="#8c2494" stroke="none" stroke-width="0"/>
<circle cx="420.8" cy="620.7" r="2.3" fill="#8c2494" stroke="none" stroke-width="0"/>
<circle cx="470.4" cy="626.4" r="2.3" fill="#8c2494" stroke="none" stroke-width="0"/>
<circle cx="397.6" cy="624.9" r="2.3" fill="#8c2494" stroke="none" stroke-width="0"/>
<circle cx="456" cy="621.7" r="2.3" fill="#8c2494" stroke="none" stroke-width="0"/>
<circle cx="454.6" cy="622.7" r="2.3" fill="#8c2494" stroke="none" stroke-width="0"/>
<circle cx="486.9" cy="624.8" r="2.3" fill="#8c2494" stroke="none" stroke-width="0"/>
<circle cx="412.6" cy="619.4" r="2.3" fill="#8c2494" stroke="none" stroke-width="0"/>
<circle cx="507.6" cy="626.4" r="2.3" fill="#8c2494" stroke="none" stroke-width="0"/>
<circle cx="489.9" cy="623.6" r="2.3" fill="#8c2494" stroke="none" stroke-width="0"/>
<circle cx="480.5" cy="626.1" r="2.3" fill="#8c2494" stroke="none" stroke-width="0"/>
<circle cx="509.8" cy="625.8" r="2.3" fill="#8c2494" stroke="none" stroke-width="0"/>
<circle cx="503.2" cy="624.3" r="2.3" fill="#8c2494" stroke="none" stroke-width="0"/>
<circle cx="502.9" cy="624" r="2.3" fill="#8c2494" stroke="none" stroke-width="0"/>
<circle cx="478.6" cy="623.9" r="2.3" fill="#8c2494" stroke="none" stroke-width="0"/>
<circle cx="493.4" cy="625.3" r="2.3" fill="#8c2494" stroke="none" stroke-width="0"/>
<circle cx="405.8" cy="607.3" r="2.3" fill="#8c2494" stroke="none" stroke-width="0"/>
<circle cx="433.6" cy="607.3" r="2.3" fill="#8c2494" stroke="none" stroke-width="0"/>
<circle cx="431.7" cy="613" r="2.3" fill="#8c2494" stroke="none" stroke-width="0"/>
<circle cx="486.3" cy="617.5" r="2.3" fill="#8c2494" stroke="none" stroke-width="0"/>
<circle cx="463.3" cy="618.1" r="2.3" fill="#8c2494" stroke="none" stroke-width="0"/>
<circle cx="559.6" cy="609.2" r="2.3" fill="#8c2494" stroke="none" stroke-width="0"/>
<circle cx="559.2" cy="618.5" r="2.3" fill="#8c2494" stroke="none" stroke-width="0"/>
<circle cx="568.8" cy="605.6" r="2.3" fill="#8c2494" stroke="none" stroke-width="0"/>
<circle cx="568.9" cy="610.9" r="2.3" fill="#8c2494" stroke="none" stroke-width="0"/>
<circle cx="539.3" cy="632" r="2.3" fill="#8c2494" stroke="none" stroke-width="0"/>
<circle cx="574.3" cy="596.9" r="2.3" fill="#8c2494" stroke="none" stroke-width="0"/>
<circle cx="570.2" cy="603.9" r="2.3" fill="#8c2494" stroke="none" stroke-width="0"/>
<circle cx="573" cy="601.5" r="2.3" fill="#8c2494" stroke="none" stroke-width="0"/>
<circle cx="558.1" cy="625.9" r="2.3" fill="#8c2494" stroke="none" stroke-width="0"/>
<circle cx="561.9" cy="595" r="2.3" fill="#8c2494" stroke="none" stroke-width="0"/>
<circle cx="563.2" cy="594.4" r="2.3" fill="#8c2494" stroke="none" stroke-width="0"/>
<circle cx="559.8" cy="616.9" r="2.3" fill="#8c2494" stroke="none" stroke-width="0"/>
<circle cx="562" cy="605.1" r="2.3" fill="#8c2494" stroke="none" stroke-width="0"/>
<circle cx="546.5" cy="621.6" r="2.3" fill="#8c2494" stroke="none" stroke-width="0"/>
<circle cx="559.7" cy="596.4" r="2.3" fill="#8c2494" stroke="none" stroke-width="0"/>
<circle cx="561" cy="616.3" r="2.3" fill="#8c2494" stroke="none" stroke-width="0"/>
<circle cx="547.7" cy="625.5" r="2.3" fill="#8c2494" stroke="none" stroke-width="0"/>
<circle cx="570.6" cy="605" r="2.3" fill="#8c2494" stroke="none" stroke-width="0"/>
<circle cx="555.4" cy="626.7" r="2.3" fill="#8c2494" stroke="none" stroke-width="0"/>
<circle cx="565.1" cy="602" r="2.3" fill="#8c2494" stroke="none" stroke-width="0"/>
<circle cx="553" cy="621.9" r="2.3" fill="#8c2494" stroke="none" stroke-width="0"/>
<circle cx="550.1" cy="627.8" r="2.3" fill="#8c2494" stroke="none" stroke-width="0"/>
<circle cx="543.8" cy="624.4" r="2.3" fill="#8c2494" stroke="none" stroke-width="0"/>
<circle cx="546.1" cy="623.9" r="2.3" fill="#8c2494" stroke="none" stroke-width="0"/>
<circle cx="570.2" cy="606.3" r="2.3" fill="#8c2494" stroke="none" stroke-width="0"/>
<circle cx="568.9" cy="604.8" r="2.3" fill="#8c2494" stroke="none" stroke-width="0"/>
<circle cx="543.4" cy="618" r="2.3" fill="#8c2494" stroke="none" stroke-width="0"/>
<circle cx="564" cy="594.4" r="2.3" fill="#8c2494" stroke="none" stroke-width="0"/>
<circle cx="572.6" cy="602.8" r="2.3" fill="#8c2494" stroke="none" stroke-width="0"/>
<circle cx="547.1" cy="624.6" r="2.3" fill="#8c2494" stroke="none" stroke-width="0"/>
<circle cx="553.5" cy="621.8" r="2.3" fill="#8c2494" stroke="none" stroke-width="0"/>
<circle cx="558.3" cy="619" r="2.3" fill="#8c2494" stroke="none" stroke-width="0"/>
<circle cx="567.9" cy="611.6" r="2.3" fill="#8c2494" stroke="none" stroke-width="0"/>
<circle cx="561.2" cy="615.2" r="2.3" fill="#8c2494" stroke="none" stroke-width="0"/>
<circle cx="560.6" cy="599.7" r="2.3" fill="#8c2494" stroke="none" stroke-width="0"/>
<circle cx="560.1" cy="615.4" r="2.3" fill="#8c2494" stroke="none" stroke-width="0"/>
<circle cx="554.4" cy="622.9" r="2.3" fill="#8c2494" stroke="none" stroke-width="0"/>
<circle cx="561" cy="608" r="2.3" fill="#8c2494" stroke="none" stroke-width="0"/>
<circle cx="562.1" cy="611.5" r="2.3" fill="#8c2494" stroke="none" stroke-width="0"/>
<circle cx="559.8" cy="612.5" r="2.3" fill="#8c2494" stroke="none" stroke-width="0"/>
<circle cx="549.4" cy="620.8" r="2.3" fill="#8c2494" stroke="none" stroke-width="0"/>
<circle cx="560.1" cy="617.9" r="2.3" fill="#8c2494" stroke="none" stroke-width="0"/>
<circle cx="555.5" cy="624.1" r="2.3" fill="#8c2494" stroke="none" stroke-width="0"/>
<circle cx="557.5" cy="622.3" r="2.3" fill="#8c2494" stroke="none" stroke-width="0"/>
<circle cx="541.3" cy="625.3" r="2.3" fill="#8c2494" stroke="none" stroke-width="0"/>
<circle cx="572.1" cy="605.3" r="2.3" fill="#8c2494" stroke="none" stroke-width="0"/>
<circle cx="561.4" cy="609.3" r="2.3" fill="#8c2494" stroke="none" stroke-width="0"/>
<circle cx="563.1" cy="590.5" r="2.3" fill="#8c2494" stroke="none" stroke-width="0"/>
<circle cx="565.5" cy="598.4" r="2.3" fill="#8c2494" stroke="none" stroke-width="0"/>
<circle cx="539.8" cy="623" r="2.3" fill="#8c2494" stroke="none" stroke-width="0"/>
<circle cx="561" cy="615.8" r="2.3" fill="#8c2494" stroke="none" stroke-width="0"/>
<circle cx="557" cy="622.9" r="2.3" fill="#8c2494" stroke="none" stroke-width="0"/>
<circle cx="565.1" cy="602" r="2.3" fill="#8c2494" stroke="none" stroke-width="0"/>
<circle cx="553.4" cy="631.4" r="2.3" fill="#8c2494" stroke="none" stroke-width="0"/>
<circle cx="560.1" cy="589.4" r="2.3" fill="#8c2494" stroke="none" stroke-width="0"/>
<circle cx="540.3" cy="622.6" r="2.3" fill="#8c2494" stroke="none" stroke-width="0"/>
<circle cx="561.5" cy="613.5" r="2.3" fill="#8c2494" stroke="none" stroke-width="0"/>
<circle cx="573.1" cy="597.1" r="2.3" fill="#8c2494" stroke="none" stroke-width="0"/>
<circle cx="546.8" cy="620.5" r="2.3" fill="#8c2494" stroke="none" stroke-width="0"/>
<circle cx="561.4" cy="607.4" r="2.3" fill="#8c2494" stroke="none" stroke-width="0"/>
<circle cx="556" cy="624.6" r="2.3" fill="#8c2494" stroke="none" stroke-width="0"/>
<circle cx="542.2" cy="620.7" r="2.3" fill="#8c2494" stroke="none" stroke-width="0"/>
<circle cx="558.1" cy="623.6" r="2.3" fill="#8c2494" stroke="none" stroke-width="0"/>
<circle cx="574.3" cy="595.3" r="2.3" fill="#8c2494" stroke="none" stroke-width="0"/>
<circle cx="559.5" cy="615.5" r="2.3" fill="#8c2494" stroke="none" stroke-width="0"/>
<circle cx="559.1" cy="620.9" r="2.3" fill="#8c2494" stroke="none" stroke-width="0"/>
<circle cx="570.5" cy="606" r="2.3" fill="#8c2494" stroke="none" stroke-width="0"/>
<circle cx="554.3" cy="624.3" r="2.3" fill="#8c2494" stroke="none" stroke-width="0"/>
<circle cx="560" cy="608.6" r="2.3" fill="#8c2494" stroke="none" stroke-width="0"/>
<circle cx="562.3" cy="600.8" r="2.3" fill="#8c2494" stroke="none" stroke-width="0"/>
<circle cx="576.2" cy="591.5" r="2.3" fill="#8c2494" stroke="none" stroke-width="0"/>
<circle cx="579" cy="596.2" r="2.3" fill="#8c2494" stroke="none" stroke-width="0"/>
<circle cx="578.6" cy="608.5" r="2.3" fill="#8c2494" stroke="none" stroke-width="0"/>
<circle cx="578.6" cy="591.8" r="2.3" fill="#8c2494" stroke="none" stroke-width="0"/>
<circle cx="579.3" cy="595.1" r="2.3" fill="#8c2494" stroke="none" stroke-width="0"/>
<circle cx="578.3" cy="576.9" r="2.3" fill="#8c2494" stroke="none" stroke-width="0"/>
<circle cx="579" cy="570.2" r="2.3" fill="#8c2494" stroke="none" stroke-width="0"/>
<circle cx="577.9" cy="593.2" r="2.3" fill="#8c2494" stroke="none" stroke-width="0"/>
<circle cx="577.5" cy="583.4" r="2.3" fill="#8c2494" stroke="none" stroke-width="0"/>
<circle cx="579.6" cy="580.4" r="2.3" fill="#8c2494" stroke="none" stroke-width="0"/>
<circle cx="577.1" cy="568.2" r="2.3" fill="#8c2494" stroke="none" stroke-width="0"/>
<circle cx="576.7" cy="568" r="2.3" fill="#8c2494" stroke="none" stroke-width="0"/>
<circle cx="578" cy="570.5" r="2.3" fill="#8c2494" stroke="none" stroke-width="0"/>
<circle cx="577.8" cy="563.7" r="2.3" fill="#8c2494" stroke="none" stroke-width="0"/>
<circle cx="578.7" cy="604.9" r="2.3" fill="#8c2494" stroke="none" stroke-width="0"/>
<circle cx="578.2" cy="571.3" r="2.3" fill="#8c2494" stroke="none" stroke-width="0"/>
<circle cx="578" cy="567.2" r="2.3" fill="#8c2494" stroke="none" stroke-width="0"/>
<circle cx="579" cy="605.7" r="2.3" fill="#8c2494" stroke="none" stroke-width="0"/>
<circle cx="579.8" cy="562.5" r="2.3" fill="#8c2494" stroke="none" stroke-width="0"/>
<circle cx="577.3" cy="596.1" r="2.3" fill="#8c2494" stroke="none" stroke-width="0"/>
<circle cx="579.8" cy="591.2" r="2.3" fill="#8c2494" stroke="none" stroke-width="0"/>
<circle cx="578.2" cy="564.4" r="2.3" fill="#8c2494" stroke="none" stroke-width="0"/>
<circle cx="579.1" cy="577.5" r="2.3" fill="#8c2494" stroke="none" stroke-width="0"/>
<circle cx="580.2" cy="586.1" r="2.3" fill="#8c2494" stroke="none" stroke-width="0"/>
<circle cx="577.2" cy="599.4" r="2.3" fill="#8c2494" stroke="none" stroke-width="0"/>
<circle cx="577.1" cy="583.2" r="2.3" fill="#8c2494" stroke="none" stroke-width="0"/>
<circle cx="579.6" cy="567.8" r="2.3" fill="#8c2494" stroke="none" stroke-width="0"/>
<circle cx="577.8" cy="556" r="2.3" fill="#8c2494" stroke="none" stroke-width="0"/>
<circle cx="577.9" cy="563.9" r="2.3" fill="#8c2494" stroke="none" stroke-width="0"/>
<circle cx="579.7" cy="554.5" r="2.3" fill="#8c2494" stroke="none" stroke-width="0"/>
<circle cx="579.1" cy="584.1" r="2.3" fill="#8c2494" stroke="none" stroke-width="0"/>
<circle cx="578.1" cy="596.5" r="2.3" fill="#8c2494" stroke="none" stroke-width="0"/>
<circle cx="577.1" cy="575.9" r="2.3" fill="#8c2494" stroke="none" stroke-width="0"/>
<circle cx="577.7" cy="595.2" r="2.3" fill="#8c2494" stroke="none" stroke-width="0"/>
<circle cx="579.5" cy="558" r="2.3" fill="#8c2494" stroke="none" stroke-width="0"/>
<circle cx="577.7" cy="574.6" r="2.3" fill="#8c2494" stroke="none" stroke-width="0"/>
<circle cx="577.9" cy="563.2" r="2.3" fill="#8c2494" stroke="none" stroke-width="0"/>
<circle cx="579.7" cy="598.6" r="2.3" fill="#8c2494" stroke="none" stroke-width="0"/>
<circle cx="578.9" cy="556.2" r="2.3" fill="#8c2494" stroke="none" stroke-width="0"/>
<circle cx="577.3" cy="595.2" r="2.3" fill="#8c2494" stroke="none" stroke-width="0"/>
<circle cx="578.6" cy="576.7" r="2.3" fill="#8c2494" stroke="none" stroke-width="0"/>
<circle cx="576.7" cy="609.5" r="2.3" fill="#8c2494" stroke="none" stroke-width="0"/>
<circle cx="577.5" cy="598.4" r="2.3" fill="#8c2494" stroke="none" stroke-width="0"/>
<circle cx="577.8" cy="606.6" r="2.3" fill="#8c2494" stroke="none" stroke-width="0"/>
<circle cx="577.9" cy="585" r="2.3" fill="#8c2494" stroke="none" stroke-width="0"/>
<circle cx="579.3" cy="558.8" r="2.3" fill="#8c2494" stroke="none" stroke-width="0"/>
<circle cx="577.6" cy="573.1" r="2.3" fill="#8c2494" stroke="none" stroke-width="0"/>
<circle cx="577.3" cy="563.2" r="2.3" fill="#8c2494" stroke="none" stroke-width="0"/>
<circle cx="577.3" cy="572" r="2.3" fill="#8c2494" stroke="none" stroke-width="0"/>
<circle cx="579.2" cy="604.6" r="2.3" fill="#8c2494" stroke="none" stroke-width="0"/>
<circle cx="578.4" cy="580.4" r="2.3" fill="#8c2494" stroke="none" stroke-width="0"/>
<circle cx="579.1" cy="593.3" r="2.3" fill="#8c2494" stroke="none" stroke-width="0"/>
<circle cx="580" cy="568.3" r="2.3" fill="#8c2494" stroke="none" stroke-width="0"/>
<circle cx="580.6" cy="573.4" r="2.3" fill="#8c2494" stroke="none" stroke-width="0"/>
<circle cx="579.2" cy="574" r="2.3" fill="#8c2494" stroke="none" stroke-width="0"/>
<circle cx="578.6" cy="573.4" r="2.3" fill="#8c2494" stroke="none" stroke-width="0"/>
<circle cx="578.5" cy="554.5" r="2.3" fill="#8c2494" stroke="none" stroke-width="0"/>
<circle cx="578.2" cy="579.3" r="2.3" fill="#8c2494" stroke="none" stroke-width="0"/>
<circle cx="579" cy="585.5" r="2.3" fill="#8c2494" stroke="none" stroke-width="0"/>
<circle cx="579.6" cy="560.9" r="2.3" fill="#8c2494" stroke="none" stroke-width="0"/>
<circle cx="579.6" cy="586.4" r="2.3" fill="#8c2494" stroke="none" stroke-width="0"/>
<circle cx="578" cy="580.7" r="2.3" fill="#8c2494" stroke="none" stroke-width="0"/>
<circle cx="578.5" cy="558.6" r="2.3" fill="#8c2494" stroke="none" stroke-width="0"/>
<circle cx="576.5" cy="597.7" r="2.3" fill="#8c2494" stroke="none" stroke-width="0"/>
<circle cx="576.9" cy="602.9" r="2.3" fill="#8c2494" stroke="none" stroke-width="0"/>
<circle cx="579.6" cy="596.3" r="2.3" fill="#8c2494" stroke="none" stroke-width="0"/>
<circle cx="579.6" cy="565.5" r="2.3" fill="#8c2494" stroke="none" stroke-width="0"/>
<circle cx="577" cy="585.4" r="2.3" fill="#8c2494" stroke="none" stroke-width="0"/>
<circle cx="578" cy="557.7" r="2.3" fill="#8c2494" stroke="none" stroke-width="0"/>
<circle cx="579" cy="576.2" r="2.3" fill="#8c2494" stroke="none" stroke-width="0"/>
<circle cx="590.9" cy="603.5" r="2.3" fill="#8c2494" stroke="none" stroke-width="0"/>
<circle cx="590.1" cy="575.2" r="2.3" fill="#8c2494" stroke="none" stroke-width="0"/>
<circle cx="588.7" cy="579.1" r="2.3" fill="#8c2494" stroke="none" stroke-width="0"/>
<circle cx="591" cy="569.2" r="2.3" fill="#8c2494" stroke="none" stroke-width="0"/>
<circle cx="590.7" cy="565.1" r="2.3" fill="#8c2494" stroke="none" stroke-width="0"/>
<circle cx="588.1" cy="567.4" r="2.3" fill="#8c2494" stroke="none" stroke-width="0"/>
<circle cx="589" cy="598.6" r="2.3" fill="#8c2494" stroke="none" stroke-width="0"/>
<circle cx="590.4" cy="582" r="2.3" fill="#8c2494" stroke="none" stroke-width="0"/>
<circle cx="590.3" cy="598.2" r="2.3" fill="#8c2494" stroke="none" stroke-width="0"/>
<circle cx="591.3" cy="573.7" r="2.3" fill="#8c2494" stroke="none" stroke-width="0"/>
<circle cx="590.6" cy="572.8" r="2.3" fill="#8c2494" stroke="none" stroke-width="0"/>
<circle cx="592.3" cy="573" r="2.3" fill="#8c2494" stroke="none" stroke-width="0"/>
<circle cx="590.3" cy="575.4" r="2.3" fill="#8c2494" stroke="none" stroke-width="0"/>
<circle cx="590.5" cy="601" r="2.3" fill="#8c2494" stroke="none" stroke-width="0"/>
<circle cx="588.1" cy="587.1" r="2.3" fill="#8c2494" stroke="none" stroke-width="0"/>
<circle cx="590.8" cy="568.3" r="2.3" fill="#8c2494" stroke="none" stroke-width="0"/>
<circle cx="589.3" cy="578.7" r="2.3" fill="#8c2494" stroke="none" stroke-width="0"/>
<circle cx="588.5" cy="574.6" r="2.3" fill="#8c2494" stroke="none" stroke-width="0"/>
<circle cx="592.4" cy="582.8" r="2.3" fill="#8c2494" stroke="none" stroke-width="0"/>
<circle cx="589.9" cy="606.1" r="2.3" fill="#8c2494" stroke="none" stroke-width="0"/>
<circle cx="590.7" cy="590.3" r="2.3" fill="#8c2494" stroke="none" stroke-width="0"/>
<circle cx="589.5" cy="593.1" r="2.3" fill="#8c2494" stroke="none" stroke-width="0"/>
<circle cx="589.4" cy="585.3" r="2.3" fill="#8c2494" stroke="none" stroke-width="0"/>
<circle cx="590.1" cy="574.1" r="2.3" fill="#8c2494" stroke="none" stroke-width="0"/>
<circle cx="588.6" cy="588.6" r="2.3" fill="#8c2494" stroke="none" stroke-width="0"/>
<circle cx="590.9" cy="579.9" r="2.3" fill="#8c2494" stroke="none" stroke-width="0"/>
<circle cx="589.5" cy="595.4" r="2.3" fill="#8c2494" stroke="none" stroke-width="0"/>
<circle cx="590.8" cy="591.8" r="2.3" fill="#8c2494" stroke="none" stroke-width="0"/>
<circle cx="588.7" cy="557.6" r="2.3" fill="#8c2494" stroke="none" stroke-width="0"/>
<circle cx="590.7" cy="558.7" r="2.3" fill="#8c2494" stroke="none" stroke-width="0"/>
<circle cx="591.7" cy="565.8" r="2.3" fill="#8c2494" stroke="none" stroke-width="0"/>
<circle cx="590.6" cy="588.4" r="2.3" fill="#8c2494" stroke="none" stroke-width="0"/>
<circle cx="588.7" cy="582.1" r="2.3" fill="#8c2494" stroke="none" stroke-width="0"/>
<circle cx="590.4" cy="598.9" r="2.3" fill="#8c2494" stroke="none" stroke-width="0"/>
<circle cx="589.3" cy="584.3" r="2.3" fill="#8c2494" stroke="none" stroke-width="0"/>
<circle cx="591.4" cy="593.5" r="2.3" fill="#8c2494" stroke="none" stroke-width="0"/>
<circle cx="590.8" cy="580.5" r="2.3" fill="#8c2494" stroke="none" stroke-width="0"/>
<circle cx="588.3" cy="566.5" r="2.3" fill="#8c2494" stroke="none" stroke-width="0"/>
<circle cx="588.8" cy="563.4" r="2.3" fill="#8c2494" stroke="none" stroke-width="0"/>
<circle cx="591.7" cy="604.4" r="2.3" fill="#8c2494" stroke="none" stroke-width="0"/>
<circle cx="591.3" cy="588.4" r="2.3" fill="#8c2494" stroke="none" stroke-width="0"/>
<circle cx="586.7" cy="555.7" r="2.3" fill="#8c2494" stroke="none" stroke-width="0"/>
<circle cx="590.3" cy="569.3" r="2.3" fill="#8c2494" stroke="none" stroke-width="0"/>
<circle cx="587" cy="565" r="2.3" fill="#8c2494" stroke="none" stroke-width="0"/>
<circle cx="590" cy="554.7" r="2.3" fill="#8c2494" stroke="none" stroke-width="0"/>
<circle cx="588.8" cy="592.8" r="2.3" fill="#8c2494" stroke="none" stroke-width="0"/>
<circle cx="590.3" cy="572.3" r="2.3" fill="#8c2494" stroke="none" stroke-width="0"/>
<circle cx="590.8" cy="582.8" r="2.3" fill="#8c2494" stroke="none" stroke-width="0"/>
<circle cx="590.3" cy="562.4" r="2.3" fill="#8c2494" stroke="none" stroke-width="0"/>
<circle cx="591.1" cy="610" r="2.3" fill="#8c2494" stroke="none" stroke-width="0"/>
<circle cx="590.3" cy="575.5" r="2.3" fill="#8c2494" stroke="none" stroke-width="0"/>
<circle cx="590" cy="560.6" r="2.3" fill="#8c2494" stroke="none" stroke-width="0"/>
<circle cx="588.9" cy="596.7" r="2.3" fill="#8c2494" stroke="none" stroke-width="0"/>
<circle cx="588.4" cy="566.4" r="2.3" fill="#8c2494" stroke="none" stroke-width="0"/>
<circle cx="586.7" cy="599.6" r="2.3" fill="#8c2494" stroke="none" stroke-width="0"/>
<circle cx="590.2" cy="570.9" r="2.3" fill="#8c2494" stroke="none" stroke-width="0"/>
<circle cx="589" cy="573" r="2.3" fill="#8c2494" stroke="none" stroke-width="0"/>
<circle cx="587.1" cy="585.1" r="2.3" fill="#8c2494" stroke="none" stroke-width="0"/>
<circle cx="588.9" cy="595.2" r="2.3" fill="#8c2494" stroke="none" stroke-width="0"/>
<circle cx="589.7" cy="580.3" r="2.3" fill="#8c2494" stroke="none" stroke-width="0"/>
<circle cx="589.7" cy="582.7" r="2.3" fill="#8c2494" stroke="none" stroke-width="0"/>
<circle cx="588.6" cy="566.8" r="2.3" fill="#8c2494" stroke="none" stroke-width="0"/>
<circle cx="589.9" cy="576.6" r="2.3" fill="#8c2494" stroke="none" stroke-width="0"/>
<circle cx="590.9" cy="581.1" r="2.3" fill="#8c2494" stroke="none" stroke-width="0"/>
<circle cx="590.7" cy="589.1" r="2.3" fill="#8c2494" stroke="none" stroke-width="0"/>
<circle cx="588.3" cy="587.6" r="2.3" fill="#8c2494" stroke="none" stroke-width="0"/>
<circle cx="588" cy="588.6" r="2.3" fill="#8c2494" stroke="none" stroke-width="0"/>
<circle cx="593" cy="561.3" r="2.3" fill="#8c2494" stroke="none" stroke-width="0"/>
<circle cx="591.1" cy="587.7" r="2.3" fill="#8c2494" stroke="none" stroke-width="0"/>
<circle cx="588" cy="601.8" r="2.3" fill="#8c2494" stroke="none" stroke-width="0"/>
<circle cx="569" cy="584.4" r="2.3" fill="#8c2494" stroke="none" stroke-width="0"/>
<circle cx="567.3" cy="601.8" r="2.3" fill="#8c2494" stroke="none" stroke-width="0"/>
<circle cx="568.2" cy="605" r="2.3" fill="#8c2494" stroke="none" stroke-width="0"/>
<circle cx="573.2" cy="584.9" r="2.3" fill="#8c2494" stroke="none" stroke-width="0"/>
<circle cx="570" cy="610.4" r="2.3" fill="#8c2494" stroke="none" stroke-width="0"/>
<circle cx="570.3" cy="608.2" r="2.3" fill="#8c2494" stroke="none" stroke-width="0"/>
<circle cx="570.2" cy="606.1" r="2.3" fill="#8c2494" stroke="none" stroke-width="0"/>
<circle cx="570.6" cy="605.6" r="2.3" fill="#8c2494" stroke="none" stroke-width="0"/>
<circle cx="569.4" cy="597.1" r="2.3" fill="#8c2494" stroke="none" stroke-width="0"/>
<circle cx="570.8" cy="604.1" r="2.3" fill="#8c2494" stroke="none" stroke-width="0"/>
<circle cx="584.2" cy="586" r="2.3" fill="#8c2494" stroke="none" stroke-width="0"/>
<circle cx="568.8" cy="616.4" r="2.3" fill="#8c2494" stroke="none" stroke-width="0"/>
<circle cx="571.3" cy="612.9" r="2.3" fill="#8c2494" stroke="none" stroke-width="0"/>
<circle cx="570.8" cy="590.6" r="2.3" fill="#8c2494" stroke="none" stroke-width="0"/>
<circle cx="575.3" cy="584.4" r="2.3" fill="#8c2494" stroke="none" stroke-width="0"/>
<circle cx="573.6" cy="588.9" r="2.3" fill="#8c2494" stroke="none" stroke-width="0"/>
<circle cx="585.3" cy="584.6" r="2.3" fill="#8c2494" stroke="none" stroke-width="0"/>
<circle cx="577.4" cy="585.9" r="2.3" fill="#8c2494" stroke="none" stroke-width="0"/>
<circle cx="561.7" cy="567.5" r="2.3" fill="#8c2494" stroke="none" stroke-width="0"/>
<circle cx="564.6" cy="561.5" r="2.3" fill="#8c2494" stroke="none" stroke-width="0"/>
<circle cx="564.8" cy="559.6" r="2.3" fill="#8c2494" stroke="none" stroke-width="0"/>
<circle cx="562.4" cy="565.5" r="2.3" fill="#8c2494" stroke="none" stroke-width="0"/>
<circle cx="561.4" cy="562.8" r="2.3" fill="#8c2494" stroke="none" stroke-width="0"/>
<circle cx="563.2" cy="563.1" r="2.3" fill="#8c2494" stroke="none" stroke-width="0"/>
<circle cx="563.1" cy="565.9" r="2.3" fill="#8c2494" stroke="none" stroke-width="0"/>
<circle cx="561.9" cy="566" r="2.3" fill="#8c2494" stroke="none" stroke-width="0"/>
<circle cx="432.3" cy="631.7" r="2.3" fill="#0862b0" stroke="none" stroke-width="0"/>
<circle cx="397.8" cy="629.5" r="2.3" fill="#0862b0" stroke="none" stroke-width="0"/>
<circle cx="472.4" cy="623.8" r="2.3" fill="#0862b0" stroke="none" stroke-width="0"/>
<circle cx="511.2" cy="617.6" r="2.3" fill="#0862b0" stroke="none" stroke-width="0"/>
<circle cx="440.4" cy="629.5" r="2.3" fill="#0862b0" stroke="none" stroke-width="0"/>
<circle cx="453.7" cy="629.9" r="2.3" fill="#0862b0" stroke="none" stroke-width="0"/>
<circle cx="491.4" cy="624.6" r="2.3" fill="#0862b0" stroke="none" stroke-width="0"/>
<circle cx="385.5" cy="630" r="2.3" fill="#0862b0" stroke="none" stroke-width="0"/>
<circle cx="506.3" cy="615.8" r="2.3" fill="#0862b0" stroke="none" stroke-width="0"/>
<circle cx="469.3" cy="626.4" r="2.3" fill="#0862b0" stroke="none" stroke-width="0"/>
<circle cx="487.5" cy="621.8" r="2.3" fill="#0862b0" stroke="none" stroke-width="0"/>
<circle cx="468.6" cy="629.3" r="2.3" fill="#0862b0" stroke="none" stroke-width="0"/>
<circle cx="379" cy="634.4" r="2.3" fill="#0862b0" stroke="none" stroke-width="0"/>
<circle cx="467.2" cy="628.3" r="2.3" fill="#0862b0" stroke="none" stroke-width="0"/>
<circle cx="431.7" cy="627.9" r="2.3" fill="#0862b0" stroke="none" stroke-width="0"/>
<circle cx="378.4" cy="636.4" r="2.3" fill="#0862b0" stroke="none" stroke-width="0"/>
<circle cx="505.4" cy="619.4" r="2.3" fill="#0862b0" stroke="none" stroke-width="0"/>
<circle cx="400.8" cy="633.7" r="2.3" fill="#0862b0" stroke="none" stroke-width="0"/>
<circle cx="506.5" cy="619.8" r="2.3" fill="#0862b0" stroke="none" stroke-width="0"/>
<circle cx="433.5" cy="628.3" r="2.3" fill="#0862b0" stroke="none" stroke-width="0"/>
<circle cx="456.2" cy="625.9" r="2.3" fill="#0862b0" stroke="none" stroke-width="0"/>
<circle cx="453.5" cy="630.8" r="2.3" fill="#0862b0" stroke="none" stroke-width="0"/>
<circle cx="444.4" cy="625.5" r="2.3" fill="#0862b0" stroke="none" stroke-width="0"/>
<circle cx="385.7" cy="632.9" r="2.3" fill="#0862b0" stroke="none" stroke-width="0"/>
<circle cx="519.2" cy="619.1" r="2.3" fill="#0862b0" stroke="none" stroke-width="0"/>
<circle cx="405" cy="633.5" r="2.3" fill="#0862b0" stroke="none" stroke-width="0"/>
<circle cx="436" cy="625.5" r="2.3" fill="#0862b0" stroke="none" stroke-width="0"/>
<circle cx="508.5" cy="616.5" r="2.3" fill="#0862b0" stroke="none" stroke-width="0"/>
<circle cx="509.1" cy="614.6" r="2.3" fill="#0862b0" stroke="none" stroke-width="0"/>
<circle cx="451.4" cy="627" r="2.3" fill="#0862b0" stroke="none" stroke-width="0"/>
<circle cx="511.7" cy="618.3" r="2.3" fill="#0862b0" stroke="none" stroke-width="0"/>
<circle cx="508.4" cy="620.8" r="2.3" fill="#0862b0" stroke="none" stroke-width="0"/>
<circle cx="412.9" cy="633.1" r="2.3" fill="#0862b0" stroke="none" stroke-width="0"/>
<circle cx="442" cy="632.3" r="2.3" fill="#0862b0" stroke="none" stroke-width="0"/>
<circle cx="390.8" cy="628.2" r="2.3" fill="#0862b0" stroke="none" stroke-width="0"/>
<circle cx="488.5" cy="618" r="2.3" fill="#0862b0" stroke="none" stroke-width="0"/>
<circle cx="390.1" cy="631.4" r="2.3" fill="#0862b0" stroke="none" stroke-width="0"/>
<circle cx="434.6" cy="632.5" r="2.3" fill="#0862b0" stroke="none" stroke-width="0"/>
<circle cx="393.9" cy="633.4" r="2.3" fill="#0862b0" stroke="none" stroke-width="0"/>
<circle cx="458.8" cy="624.3" r="2.3" fill="#0862b0" stroke="none" stroke-width="0"/>
<circle cx="376.8" cy="635.2" r="2.3" fill="#0862b0" stroke="none" stroke-width="0"/>
<circle cx="485.6" cy="619.8" r="2.3" fill="#0862b0" stroke="none" stroke-width="0"/>
<circle cx="463.1" cy="625.7" r="2.3" fill="#0862b0" stroke="none" stroke-width="0"/>
<circle cx="510.7" cy="616.7" r="2.3" fill="#0862b0" stroke="none" stroke-width="0"/>
<circle cx="506.3" cy="618" r="2.3" fill="#0862b0" stroke="none" stroke-width="0"/>
<circle cx="434.4" cy="629.2" r="2.3" fill="#0862b0" stroke="none" stroke-width="0"/>
<circle cx="470.6" cy="630.5" r="2.3" fill="#0862b0" stroke="none" stroke-width="0"/>
<circle cx="371.5" cy="638" r="2.3" fill="#0862b0" stroke="none" stroke-width="0"/>
<circle cx="499.6" cy="623.3" r="2.3" fill="#0862b0" stroke="none" stroke-width="0"/>
<circle cx="497.6" cy="623.5" r="2.3" fill="#0862b0" stroke="none" stroke-width="0"/>
<circle cx="478.5" cy="624.1" r="2.3" fill="#0862b0" stroke="none" stroke-width="0"/>
<circle cx="464.5" cy="628.1" r="2.3" fill="#0862b0" stroke="none" stroke-width="0"/>
<circle cx="449.8" cy="628.1" r="2.3" fill="#0862b0" stroke="none" stroke-width="0"/>
<circle cx="488.7" cy="623.6" r="2.3" fill="#0862b0" stroke="none" stroke-width="0"/>
<circle cx="450.7" cy="627.5" r="2.3" fill="#0862b0" stroke="none" stroke-width="0"/>
<circle cx="404.9" cy="632.7" r="2.3" fill="#0862b0" stroke="none" stroke-width="0"/>
<circle cx="407.5" cy="635" r="2.3" fill="#0862b0" stroke="none" stroke-width="0"/>
<circle cx="427.5" cy="631" r="2.3" fill="#0862b0" stroke="none" stroke-width="0"/>
<circle cx="414.9" cy="630.8" r="2.3" fill="#0862b0" stroke="none" stroke-width="0"/>
<circle cx="458.9" cy="630.4" r="2.3" fill="#0862b0" stroke="none" stroke-width="0"/>
<circle cx="435" cy="624.3" r="2.3" fill="#0862b0" stroke="none" stroke-width="0"/>
<circle cx="423.4" cy="632.3" r="2.3" fill="#0862b0" stroke="none" stroke-width="0"/>
<circle cx="437.5" cy="629.6" r="2.3" fill="#0862b0" stroke="none" stroke-width="0"/>
<circle cx="410" cy="632.5" r="2.3" fill="#0862b0" stroke="none" stroke-width="0"/>
<circle cx="381.8" cy="633.3" r="2.3" fill="#0862b0" stroke="none" stroke-width="0"/>
<circle cx="382.9" cy="631.9" r="2.3" fill="#0862b0" stroke="none" stroke-width="0"/>
<circle cx="490.3" cy="621.6" r="2.3" fill="#0862b0" stroke="none" stroke-width="0"/>
<circle cx="374.1" cy="640" r="2.3" fill="#0862b0" stroke="none" stroke-width="0"/>
<circle cx="467.2" cy="629.7" r="2.3" fill="#0862b0" stroke="none" stroke-width="0"/>
<circle cx="481.8" cy="627.5" r="2.3" fill="#0862b0" stroke="none" stroke-width="0"/>
<circle cx="377.7" cy="641.4" r="2.3" fill="#0862b0" stroke="none" stroke-width="0"/>
<circle cx="402.1" cy="630.7" r="2.3" fill="#0862b0" stroke="none" stroke-width="0"/>
<circle cx="383.7" cy="631.9" r="2.3" fill="#0862b0" stroke="none" stroke-width="0"/>
<circle cx="405.6" cy="631.5" r="2.3" fill="#0862b0" stroke="none" stroke-width="0"/>
<circle cx="415.1" cy="633.5" r="2.3" fill="#0862b0" stroke="none" stroke-width="0"/>
<circle cx="399.5" cy="633.9" r="2.3" fill="#0862b0" stroke="none" stroke-width="0"/>
<circle cx="476.2" cy="622.2" r="2.3" fill="#0862b0" stroke="none" stroke-width="0"/>
<circle cx="438.3" cy="628.2" r="2.3" fill="#0862b0" stroke="none" stroke-width="0"/>
<circle cx="439.9" cy="632.9" r="2.3" fill="#0862b0" stroke="none" stroke-width="0"/>
<circle cx="500.4" cy="625.1" r="2.3" fill="#0862b0" stroke="none" stroke-width="0"/>
<circle cx="507.3" cy="622.9" r="2.3" fill="#0862b0" stroke="none" stroke-width="0"/>
<circle cx="431.5" cy="632.5" r="2.3" fill="#0862b0" stroke="none" stroke-width="0"/>
<circle cx="504.9" cy="623.1" r="2.3" fill="#0862b0" stroke="none" stroke-width="0"/>
<circle cx="397.6" cy="630" r="2.3" fill="#0862b0" stroke="none" stroke-width="0"/>
<circle cx="474.8" cy="627" r="2.3" fill="#0862b0" stroke="none" stroke-width="0"/>
<circle cx="452.8" cy="630" r="2.3" fill="#0862b0" stroke="none" stroke-width="0"/>
<circle cx="381.8" cy="634.6" r="2.3" fill="#0862b0" stroke="none" stroke-width="0"/>
<circle cx="391.1" cy="632" r="2.3" fill="#0862b0" stroke="none" stroke-width="0"/>
<circle cx="391" cy="631.7" r="2.3" fill="#0862b0" stroke="none" stroke-width="0"/>
<circle cx="364.5" cy="639" r="2.3" fill="#0862b0" stroke="none" stroke-width="0"/>
<circle cx="495.5" cy="615.5" r="2.3" fill="#0862b0" stroke="none" stroke-width="0"/>
<circle cx="381.5" cy="633" r="2.3" fill="#0862b0" stroke="none" stroke-width="0"/>
<circle cx="374.8" cy="636.6" r="2.3" fill="#0862b0" stroke="none" stroke-width="0"/>
<circle cx="443.8" cy="631.2" r="2.3" fill="#0862b0" stroke="none" stroke-width="0"/>
<circle cx="508.7" cy="621.5" r="2.3" fill="#0862b0" stroke="none" stroke-width="0"/>
<circle cx="393.1" cy="630.7" r="2.3" fill="#0862b0" stroke="none" stroke-width="0"/>
<circle cx="496.5" cy="619.2" r="2.3" fill="#0862b0" stroke="none" stroke-width="0"/>
<circle cx="498" cy="620.2" r="2.3" fill="#0862b0" stroke="none" stroke-width="0"/>
<circle cx="401.3" cy="634.9" r="2.3" fill="#0862b0" stroke="none" stroke-width="0"/>
<circle cx="383.2" cy="635.9" r="2.3" fill="#0862b0" stroke="none" stroke-width="0"/>
<circle cx="421.2" cy="634.3" r="2.3" fill="#0862b0" stroke="none" stroke-width="0"/>
<circle cx="416.4" cy="631.9" r="2.3" fill="#0862b0" stroke="none" stroke-width="0"/>
<circle cx="452.3" cy="625.8" r="2.3" fill="#0862b0" stroke="none" stroke-width="0"/>
<circle cx="510.2" cy="619.9" r="2.3" fill="#0862b0" stroke="none" stroke-width="0"/>
<circle cx="445.9" cy="627.3" r="2.3" fill="#0862b0" stroke="none" stroke-width="0"/>
<circle cx="391.9" cy="629.2" r="2.3" fill="#0862b0" stroke="none" stroke-width="0"/>
<circle cx="379.1" cy="635.3" r="2.3" fill="#0862b0" stroke="none" stroke-width="0"/>
<circle cx="415.6" cy="629.5" r="2.3" fill="#0862b0" stroke="none" stroke-width="0"/>
<circle cx="512.7" cy="617.8" r="2.3" fill="#0862b0" stroke="none" stroke-width="0"/>
<circle cx="423.5" cy="630.4" r="2.3" fill="#0862b0" stroke="none" stroke-width="0"/>
<circle cx="422.9" cy="625.8" r="2.3" fill="#0862b0" stroke="none" stroke-width="0"/>
<circle cx="444.3" cy="625.1" r="2.3" fill="#0862b0" stroke="none" stroke-width="0"/>
<circle cx="418.7" cy="633.1" r="2.3" fill="#0862b0" stroke="none" stroke-width="0"/>
<circle cx="505.4" cy="619.6" r="2.3" fill="#0862b0" stroke="none" stroke-width="0"/>
<circle cx="412.8" cy="625.6" r="2.3" fill="#0862b0" stroke="none" stroke-width="0"/>
<circle cx="445.2" cy="625.2" r="2.3" fill="#0862b0" stroke="none" stroke-width="0"/>
<circle cx="497.4" cy="622.3" r="2.3" fill="#0862b0" stroke="none" stroke-width="0"/>
<circle cx="468.9" cy="627.7" r="2.3" fill="#0862b0" stroke="none" stroke-width="0"/>
<circle cx="436.7" cy="626.5" r="2.3" fill="#0862b0" stroke="none" stroke-width="0"/>
<circle cx="504.1" cy="617.6" r="2.3" fill="#0862b0" stroke="none" stroke-width="0"/>
<circle cx="461.2" cy="627.6" r="2.3" fill="#0862b0" stroke="none" stroke-width="0"/>
<circle cx="438" cy="629.4" r="2.3" fill="#0862b0" stroke="none" stroke-width="0"/>
<circle cx="385.9" cy="638.9" r="2.3" fill="#0862b0" stroke="none" stroke-width="0"/>
<circle cx="382.3" cy="631.5" r="2.3" fill="#0862b0" stroke="none" stroke-width="0"/>
<circle cx="412.7" cy="631.5" r="2.3" fill="#0862b0" stroke="none" stroke-width="0"/>
<circle cx="440.8" cy="626.3" r="2.3" fill="#0862b0" stroke="none" stroke-width="0"/>
<circle cx="471.7" cy="625.2" r="2.3" fill="#0862b0" stroke="none" stroke-width="0"/>
<circle cx="495.8" cy="624.9" r="2.3" fill="#0862b0" stroke="none" stroke-width="0"/>
<circle cx="394.3" cy="631.6" r="2.3" fill="#0862b0" stroke="none" stroke-width="0"/>
<circle cx="469.6" cy="622.5" r="2.3" fill="#0862b0" stroke="none" stroke-width="0"/>
<circle cx="427.5" cy="636.3" r="2.3" fill="#0862b0" stroke="none" stroke-width="0"/>
<circle cx="510.7" cy="615.4" r="2.3" fill="#0862b0" stroke="none" stroke-width="0"/>
<circle cx="525.9" cy="614.7" r="2.3" fill="#0862b0" stroke="none" stroke-width="0"/>
<circle cx="479.7" cy="623.4" r="2.3" fill="#0862b0" stroke="none" stroke-width="0"/>
<circle cx="391.1" cy="628.6" r="2.3" fill="#0862b0" stroke="none" stroke-width="0"/>
<circle cx="431.1" cy="625.1" r="2.3" fill="#0862b0" stroke="none" stroke-width="0"/>
<circle cx="434.7" cy="630.8" r="2.3" fill="#0862b0" stroke="none" stroke-width="0"/>
<circle cx="417.6" cy="629.7" r="2.3" fill="#0862b0" stroke="none" stroke-width="0"/>
<circle cx="471.1" cy="622.4" r="2.3" fill="#0862b0" stroke="none" stroke-width="0"/>
<circle cx="453.8" cy="627.1" r="2.3" fill="#0862b0" stroke="none" stroke-width="0"/>
<circle cx="488.7" cy="620.3" r="2.3" fill="#0862b0" stroke="none" stroke-width="0"/>
<circle cx="466.6" cy="620.8" r="2.3" fill="#0862b0" stroke="none" stroke-width="0"/>
<circle cx="374.1" cy="633.9" r="2.3" fill="#0862b0" stroke="none" stroke-width="0"/>
<circle cx="452.1" cy="627.2" r="2.3" fill="#0862b0" stroke="none" stroke-width="0"/>
<circle cx="522.4" cy="620.3" r="2.3" fill="#0862b0" stroke="none" stroke-width="0"/>
<circle cx="440.8" cy="628.2" r="2.3" fill="#0862b0" stroke="none" stroke-width="0"/>
<circle cx="400.7" cy="632.1" r="2.3" fill="#0862b0" stroke="none" stroke-width="0"/>
<circle cx="408.4" cy="630.7" r="2.3" fill="#0862b0" stroke="none" stroke-width="0"/>
<circle cx="522.6" cy="624.6" r="2.3" fill="#0862b0" stroke="none" stroke-width="0"/>
<circle cx="498.6" cy="623.4" r="2.3" fill="#0862b0" stroke="none" stroke-width="0"/>
<circle cx="395" cy="631.1" r="2.3" fill="#0862b0" stroke="none" stroke-width="0"/>
<circle cx="395.6" cy="635.3" r="2.3" fill="#0862b0" stroke="none" stroke-width="0"/>
<circle cx="369.3" cy="631.2" r="2.3" fill="#0862b0" stroke="none" stroke-width="0"/>
<circle cx="500.1" cy="625.5" r="2.3" fill="#0862b0" stroke="none" stroke-width="0"/>
<circle cx="507.8" cy="620.3" r="2.3" fill="#0862b0" stroke="none" stroke-width="0"/>
<circle cx="457.6" cy="626.3" r="2.3" fill="#0862b0" stroke="none" stroke-width="0"/>
<circle cx="408" cy="630.8" r="2.3" fill="#0862b0" stroke="none" stroke-width="0"/>
<circle cx="381.5" cy="630.5" r="2.3" fill="#0862b0" stroke="none" stroke-width="0"/>
<circle cx="512.5" cy="618.3" r="2.3" fill="#0862b0" stroke="none" stroke-width="0"/>
<circle cx="482.4" cy="625" r="2.3" fill="#0862b0" stroke="none" stroke-width="0"/>
<circle cx="428.4" cy="625.5" r="2.3" fill="#0862b0" stroke="none" stroke-width="0"/>
<circle cx="501.7" cy="623.1" r="2.3" fill="#0862b0" stroke="none" stroke-width="0"/>
<circle cx="395.3" cy="632.1" r="2.3" fill="#0862b0" stroke="none" stroke-width="0"/>
<circle cx="406.3" cy="631.4" r="2.3" fill="#0862b0" stroke="none" stroke-width="0"/>
<circle cx="405.3" cy="627.4" r="2.3" fill="#0862b0" stroke="none" stroke-width="0"/>
<circle cx="458.7" cy="622.4" r="2.3" fill="#0862b0" stroke="none" stroke-width="0"/>
<circle cx="402" cy="632.4" r="2.3" fill="#0862b0" stroke="none" stroke-width="0"/>
<circle cx="459.6" cy="631.3" r="2.3" fill="#0862b0" stroke="none" stroke-width="0"/>
<circle cx="446.8" cy="631.1" r="2.3" fill="#0862b0" stroke="none" stroke-width="0"/>
<circle cx="477.3" cy="624.1" r="2.3" fill="#0862b0" stroke="none" stroke-width="0"/>
<circle cx="389.5" cy="641.1" r="2.3" fill="#0862b0" stroke="none" stroke-width="0"/>
<circle cx="411.6" cy="640.4" r="2.3" fill="#0862b0" stroke="none" stroke-width="0"/>
<circle cx="447" cy="643" r="2.3" fill="#0862b0" stroke="none" stroke-width="0"/>
<circle cx="490.1" cy="643" r="2.3" fill="#0862b0" stroke="none" stroke-width="0"/>
<circle cx="514.1" cy="639.2" r="2.3" fill="#0862b0" stroke="none" stroke-width="0"/>
<circle cx="480.5" cy="608.6" r="2.3" fill="#0862b0" stroke="none" stroke-width="0"/>
<circle cx="494.9" cy="602.2" r="2.3" fill="#0862b0" stroke="none" stroke-width="0"/>
<circle cx="499.7" cy="589.5" r="2.3" fill="#0862b0" stroke="none" stroke-width="0"/>
<circle cx="502.6" cy="584.4" r="2.3" fill="#0862b0" stroke="none" stroke-width="0"/>
<circle cx="514.1" cy="583.1" r="2.3" fill="#0862b0" stroke="none" stroke-width="0"/>
<circle cx="518.9" cy="579.9" r="2.3" fill="#0862b0" stroke="none" stroke-width="0"/>
<circle cx="511.2" cy="595.9" r="2.3" fill="#0862b0" stroke="none" stroke-width="0"/>
<circle cx="521.7" cy="602.2" r="2.3" fill="#0862b0" stroke="none" stroke-width="0"/>
<circle cx="516.9" cy="592.7" r="2.3" fill="#0862b0" stroke="none" stroke-width="0"/>
<circle cx="507.4" cy="599" r="2.3" fill="#0862b0" stroke="none" stroke-width="0"/>
<circle cx="485.3" cy="611.8" r="2.3" fill="#0862b0" stroke="none" stroke-width="0"/>
<circle cx="497.8" cy="615" r="2.3" fill="#0862b0" stroke="none" stroke-width="0"/>
<circle cx="505.4" cy="607.3" r="2.3" fill="#0862b0" stroke="none" stroke-width="0"/>
<circle cx="509.3" cy="604.8" r="2.3" fill="#0862b0" stroke="none" stroke-width="0"/>
<circle cx="463.3" cy="615" r="2.3" fill="#0862b0" stroke="none" stroke-width="0"/>
<circle cx="466.2" cy="616.2" r="2.3" fill="#0862b0" stroke="none" stroke-width="0"/>
<circle cx="506.7" cy="612.6" r="2.3" fill="#0862b0" stroke="none" stroke-width="0"/>
<circle cx="513.7" cy="605.5" r="2.3" fill="#0862b0" stroke="none" stroke-width="0"/>
<circle cx="511.6" cy="615.3" r="2.3" fill="#0862b0" stroke="none" stroke-width="0"/>
<circle cx="506.6" cy="616" r="2.3" fill="#0862b0" stroke="none" stroke-width="0"/>
<circle cx="503.1" cy="607.3" r="2.3" fill="#0862b0" stroke="none" stroke-width="0"/>
<circle cx="510.9" cy="613.3" r="2.3" fill="#0862b0" stroke="none" stroke-width="0"/>
<circle cx="505.4" cy="613.4" r="2.3" fill="#0862b0" stroke="none" stroke-width="0"/>
<circle cx="498.6" cy="614.8" r="2.3" fill="#0862b0" stroke="none" stroke-width="0"/>
<circle cx="509" cy="610.6" r="2.3" fill="#0862b0" stroke="none" stroke-width="0"/>
<circle cx="504.7" cy="608.9" r="2.3" fill="#0862b0" stroke="none" stroke-width="0"/>
<circle cx="524.2" cy="606.9" r="2.3" fill="#0862b0" stroke="none" stroke-width="0"/>
<circle cx="514.3" cy="611.3" r="2.3" fill="#0862b0" stroke="none" stroke-width="0"/>
<circle cx="499.9" cy="602.9" r="2.3" fill="#0862b0" stroke="none" stroke-width="0"/>
<circle cx="507.4" cy="606.3" r="2.3" fill="#0862b0" stroke="none" stroke-width="0"/>
<circle cx="512.2" cy="605.8" r="2.3" fill="#0862b0" stroke="none" stroke-width="0"/>
<circle cx="510.9" cy="609.5" r="2.3" fill="#0862b0" stroke="none" stroke-width="0"/>
<circle cx="522.1" cy="612" r="2.3" fill="#0862b0" stroke="none" stroke-width="0"/>
<circle cx="490.5" cy="614.9" r="2.3" fill="#0862b0" stroke="none" stroke-width="0"/>
<circle cx="502.9" cy="617.3" r="2.3" fill="#0862b0" stroke="none" stroke-width="0"/>
<circle cx="508.3" cy="616" r="2.3" fill="#0862b0" stroke="none" stroke-width="0"/>
<circle cx="519.9" cy="616.8" r="2.3" fill="#0862b0" stroke="none" stroke-width="0"/>
<circle cx="515.8" cy="603.5" r="2.3" fill="#0862b0" stroke="none" stroke-width="0"/>
<circle cx="518.7" cy="607.8" r="2.3" fill="#0862b0" stroke="none" stroke-width="0"/>
<circle cx="496.8" cy="613.2" r="2.3" fill="#0862b0" stroke="none" stroke-width="0"/>
<circle cx="516.1" cy="616.1" r="2.3" fill="#0862b0" stroke="none" stroke-width="0"/>
<circle cx="412" cy="638.9" r="2.3" fill="#ff7a0a" stroke="none" stroke-width="0"/>
<circle cx="412.8" cy="638.3" r="2.3" fill="#ff7a0a" stroke="none" stroke-width="0"/>
<circle cx="414.7" cy="638.6" r="2.3" fill="#ff7a0a" stroke="none" stroke-width="0"/>
<circle cx="410.2" cy="639.4" r="2.3" fill="#ff7a0a" stroke="none" stroke-width="0"/>
<circle cx="413.5" cy="638.6" r="2.3" fill="#ff7a0a" stroke="none" stroke-width="0"/>
<circle cx="410.9" cy="640.7" r="2.3" fill="#ff7a0a" stroke="none" stroke-width="0"/>
<circle cx="507.1" cy="630.4" r="2.3" fill="#ff7a0a" stroke="none" stroke-width="0"/>
<circle cx="480.2" cy="637.7" r="2.3" fill="#ff7a0a" stroke="none" stroke-width="0"/>
<circle cx="500.2" cy="625.4" r="2.3" fill="#ff7a0a" stroke="none" stroke-width="0"/>
<circle cx="481.3" cy="636.8" r="2.3" fill="#ff7a0a" stroke="none" stroke-width="0"/>
<circle cx="510.3" cy="637" r="2.3" fill="#ff7a0a" stroke="none" stroke-width="0"/>
<circle cx="475.8" cy="633" r="2.3" fill="#ff7a0a" stroke="none" stroke-width="0"/>
<circle cx="492.9" cy="630.1" r="2.3" fill="#ff7a0a" stroke="none" stroke-width="0"/>
<circle cx="464.1" cy="634.5" r="2.3" fill="#ff7a0a" stroke="none" stroke-width="0"/>
<circle cx="456" cy="636.3" r="2.3" fill="#ff7a0a" stroke="none" stroke-width="0"/>
<circle cx="464" cy="636.8" r="2.3" fill="#ff7a0a" stroke="none" stroke-width="0"/>
<circle cx="489.5" cy="634.2" r="2.3" fill="#ff7a0a" stroke="none" stroke-width="0"/>
<circle cx="477.5" cy="631.1" r="2.3" fill="#ff7a0a" stroke="none" stroke-width="0"/>
<circle cx="470.3" cy="634.2" r="2.3" fill="#ff7a0a" stroke="none" stroke-width="0"/>
<circle cx="448.3" cy="630.5" r="2.3" fill="#ff7a0a" stroke="none" stroke-width="0"/>
<circle cx="517.3" cy="626.2" r="2.3" fill="#ff7a0a" stroke="none" stroke-width="0"/>
<circle cx="460.5" cy="637.2" r="2.3" fill="#ff7a0a" stroke="none" stroke-width="0"/>
<circle cx="445.3" cy="636.1" r="2.3" fill="#ff7a0a" stroke="none" stroke-width="0"/>
<circle cx="450.2" cy="637" r="2.3" fill="#ff7a0a" stroke="none" stroke-width="0"/>
<circle cx="475.7" cy="637.6" r="2.3" fill="#ff7a0a" stroke="none" stroke-width="0"/>
<circle cx="509.9" cy="621.6" r="2.3" fill="#ff7a0a" stroke="none" stroke-width="0"/>
<circle cx="443.6" cy="638.3" r="2.3" fill="#ff7a0a" stroke="none" stroke-width="0"/>
<circle cx="437.2" cy="627.1" r="2.3" fill="#ff7a0a" stroke="none" stroke-width="0"/>
<circle cx="498.8" cy="636.4" r="2.3" fill="#ff7a0a" stroke="none" stroke-width="0"/>
<circle cx="436.9" cy="633.2" r="2.3" fill="#ff7a0a" stroke="none" stroke-width="0"/>
<circle cx="517.2" cy="629.4" r="2.3" fill="#ff7a0a" stroke="none" stroke-width="0"/>
<circle cx="520.2" cy="628.7" r="2.3" fill="#ff7a0a" stroke="none" stroke-width="0"/>
<circle cx="441.4" cy="634.3" r="2.3" fill="#ff7a0a" stroke="none" stroke-width="0"/>
<circle cx="474" cy="626.3" r="2.3" fill="#ff7a0a" stroke="none" stroke-width="0"/>
<circle cx="476.7" cy="628.2" r="2.3" fill="#ff7a0a" stroke="none" stroke-width="0"/>
<circle cx="457.3" cy="634.2" r="2.3" fill="#ff7a0a" stroke="none" stroke-width="0"/>
<circle cx="462" cy="635" r="2.3" fill="#ff7a0a" stroke="none" stroke-width="0"/>
<circle cx="480.7" cy="637.1" r="2.3" fill="#ff7a0a" stroke="none" stroke-width="0"/>
<circle cx="481.4" cy="631.6" r="2.3" fill="#ff7a0a" stroke="none" stroke-width="0"/>
<circle cx="442.1" cy="634.2" r="2.3" fill="#ff7a0a" stroke="none" stroke-width="0"/>
<circle cx="437.1" cy="639.1" r="2.3" fill="#ff7a0a" stroke="none" stroke-width="0"/>
<circle cx="456.3" cy="631.5" r="2.3" fill="#ff7a0a" stroke="none" stroke-width="0"/>
<circle cx="457.5" cy="638" r="2.3" fill="#ff7a0a" stroke="none" stroke-width="0"/>
<circle cx="448.6" cy="632.7" r="2.3" fill="#ff7a0a" stroke="none" stroke-width="0"/>
<circle cx="486.2" cy="627.6" r="2.3" fill="#ff7a0a" stroke="none" stroke-width="0"/>
<circle cx="446.6" cy="641.1" r="2.3" fill="#ff7a0a" stroke="none" stroke-width="0"/>
<circle cx="497.6" cy="630.3" r="2.3" fill="#ff7a0a" stroke="none" stroke-width="0"/>
<circle cx="507.9" cy="630.2" r="2.3" fill="#ff7a0a" stroke="none" stroke-width="0"/>
<circle cx="460.9" cy="633.4" r="2.3" fill="#ff7a0a" stroke="none" stroke-width="0"/>
<circle cx="447.3" cy="633" r="2.3" fill="#ff7a0a" stroke="none" stroke-width="0"/>
<circle cx="510.1" cy="628.2" r="2.3" fill="#ff7a0a" stroke="none" stroke-width="0"/>
<circle cx="454.4" cy="637.6" r="2.3" fill="#ff7a0a" stroke="none" stroke-width="0"/>
<circle cx="480.9" cy="635" r="2.3" fill="#ff7a0a" stroke="none" stroke-width="0"/>
<circle cx="519.1" cy="621.4" r="2.3" fill="#ff7a0a" stroke="none" stroke-width="0"/>
<circle cx="513.8" cy="631" r="2.3" fill="#ff7a0a" stroke="none" stroke-width="0"/>
<circle cx="443" cy="631.5" r="2.3" fill="#ff7a0a" stroke="none" stroke-width="0"/>
<circle cx="515.4" cy="629.2" r="2.3" fill="#ff7a0a" stroke="none" stroke-width="0"/>
<circle cx="466.5" cy="632.7" r="2.3" fill="#ff7a0a" stroke="none" stroke-width="0"/>
<circle cx="454.1" cy="635.3" r="2.3" fill="#ff7a0a" stroke="none" stroke-width="0"/>
<circle cx="454.6" cy="630.7" r="2.3" fill="#ff7a0a" stroke="none" stroke-width="0"/>
<circle cx="489" cy="639.7" r="2.3" fill="#ff7a0a" stroke="none" stroke-width="0"/>
<circle cx="441" cy="637.3" r="2.3" fill="#ff7a0a" stroke="none" stroke-width="0"/>
<circle cx="454.1" cy="640.5" r="2.3" fill="#ff7a0a" stroke="none" stroke-width="0"/>
<circle cx="486" cy="631.3" r="2.3" fill="#ff7a0a" stroke="none" stroke-width="0"/>
<circle cx="475.1" cy="631.6" r="2.3" fill="#ff7a0a" stroke="none" stroke-width="0"/>
<circle cx="454.1" cy="634" r="2.3" fill="#ff7a0a" stroke="none" stroke-width="0"/>
<circle cx="517.6" cy="625.4" r="2.3" fill="#ff7a0a" stroke="none" stroke-width="0"/>
<circle cx="462.2" cy="638.3" r="2.3" fill="#ff7a0a" stroke="none" stroke-width="0"/>
<circle cx="457.1" cy="640.2" r="2.3" fill="#ff7a0a" stroke="none" stroke-width="0"/>
<circle cx="439.5" cy="635.7" r="2.3" fill="#ff7a0a" stroke="none" stroke-width="0"/>
<circle cx="491.1" cy="629.7" r="2.3" fill="#ff7a0a" stroke="none" stroke-width="0"/>
<circle cx="460.9" cy="636.9" r="2.3" fill="#ff7a0a" stroke="none" stroke-width="0"/>
<circle cx="478.2" cy="636.5" r="2.3" fill="#ff7a0a" stroke="none" stroke-width="0"/>
<circle cx="514.3" cy="626" r="2.3" fill="#ff7a0a" stroke="none" stroke-width="0"/>
<circle cx="514.9" cy="631.2" r="2.3" fill="#ff7a0a" stroke="none" stroke-width="0"/>
<circle cx="505.1" cy="631.6" r="2.3" fill="#ff7a0a" stroke="none" stroke-width="0"/>
<circle cx="473.8" cy="633.3" r="2.3" fill="#ff7a0a" stroke="none" stroke-width="0"/>
<circle cx="495.7" cy="628.9" r="2.3" fill="#ff7a0a" stroke="none" stroke-width="0"/>
<circle cx="443.9" cy="635.7" r="2.3" fill="#ff7a0a" stroke="none" stroke-width="0"/>
<circle cx="464.4" cy="632.4" r="2.3" fill="#ff7a0a" stroke="none" stroke-width="0"/>
<circle cx="515.1" cy="630.5" r="2.3" fill="#ff7a0a" stroke="none" stroke-width="0"/>
<circle cx="524.2" cy="623.9" r="2.3" fill="#ff7a0a" stroke="none" stroke-width="0"/>
<circle cx="491.6" cy="625.2" r="2.3" fill="#ff7a0a" stroke="none" stroke-width="0"/>
<circle cx="489.7" cy="633.8" r="2.3" fill="#ff7a0a" stroke="none" stroke-width="0"/>
<circle cx="508.2" cy="624.7" r="2.3" fill="#ff7a0a" stroke="none" stroke-width="0"/>
<circle cx="500" cy="628.1" r="2.3" fill="#ff7a0a" stroke="none" stroke-width="0"/>
<circle cx="470.1" cy="635" r="2.3" fill="#ff7a0a" stroke="none" stroke-width="0"/>
<circle cx="474.2" cy="635.1" r="2.3" fill="#ff7a0a" stroke="none" stroke-width="0"/>
<circle cx="461.3" cy="634.1" r="2.3" fill="#ff7a0a" stroke="none" stroke-width="0"/>
<circle cx="481.2" cy="637.5" r="2.3" fill="#ff7a0a" stroke="none" stroke-width="0"/>
<circle cx="496.1" cy="639.5" r="2.3" fill="#ff7a0a" stroke="none" stroke-width="0"/>
<circle cx="477.4" cy="631.4" r="2.3" fill="#ff7a0a" stroke="none" stroke-width="0"/>
<circle cx="469.8" cy="638.3" r="2.3" fill="#ff7a0a" stroke="none" stroke-width="0"/>
<circle cx="451.4" cy="636.7" r="2.3" fill="#ff7a0a" stroke="none" stroke-width="0"/>
<circle cx="498.3" cy="631.4" r="2.3" fill="#ff7a0a" stroke="none" stroke-width="0"/>
<circle cx="488.3" cy="631.3" r="2.3" fill="#ff7a0a" stroke="none" stroke-width="0"/>
<circle cx="499.6" cy="629.1" r="2.3" fill="#ff7a0a" stroke="none" stroke-width="0"/>
<circle cx="507.7" cy="634.6" r="2.3" fill="#ff7a0a" stroke="none" stroke-width="0"/>
<circle cx="474.1" cy="630.1" r="2.3" fill="#ff7a0a" stroke="none" stroke-width="0"/>
<circle cx="453.9" cy="639.3" r="2.3" fill="#ff7a0a" stroke="none" stroke-width="0"/>
<circle cx="464.9" cy="634.7" r="2.3" fill="#ff7a0a" stroke="none" stroke-width="0"/>
<circle cx="498.5" cy="634.4" r="2.3" fill="#ff7a0a" stroke="none" stroke-width="0"/>
<circle cx="456.8" cy="638.4" r="2.3" fill="#ff7a0a" stroke="none" stroke-width="0"/>
<circle cx="486.9" cy="630.2" r="2.3" fill="#ff7a0a" stroke="none" stroke-width="0"/>
<circle cx="479.9" cy="637" r="2.3" fill="#ff7a0a" stroke="none" stroke-width="0"/>
<circle cx="485.4" cy="632.2" r="2.3" fill="#ff7a0a" stroke="none" stroke-width="0"/>
<circle cx="531.3" cy="619.4" r="2.3" fill="#ff7a0a" stroke="none" stroke-width="0"/>
<circle cx="533.2" cy="609.9" r="2.3" fill="#ff7a0a" stroke="none" stroke-width="0"/>
<circle cx="542.8" cy="599" r="2.3" fill="#ff7a0a" stroke="none" stroke-width="0"/>
<circle cx="536.1" cy="589.5" r="2.3" fill="#ff7a0a" stroke="none" stroke-width="0"/>
<circle cx="546.6" cy="562.7" r="2.3" fill="#ff7a0a" stroke="none" stroke-width="0"/>
<circle cx="552.4" cy="583.1" r="2.3" fill="#ff7a0a" stroke="none" stroke-width="0"/>
<circle cx="562" cy="573.6" r="2.3" fill="#ff7a0a" stroke="none" stroke-width="0"/>
<circle cx="563.9" cy="562.7" r="2.3" fill="#ff7a0a" stroke="none" stroke-width="0"/>
<circle cx="566.8" cy="560.8" r="2.3" fill="#ff7a0a" stroke="none" stroke-width="0"/>
<circle cx="564.8" cy="530.9" r="2.3" fill="#ff7a0a" stroke="none" stroke-width="0"/>
<circle cx="550.5" cy="548.7" r="2.3" fill="#ff7a0a" stroke="none" stroke-width="0"/>
<circle cx="559.1" cy="548.7" r="2.3" fill="#ff7a0a" stroke="none" stroke-width="0"/>
<circle cx="553.3" cy="588.2" r="2.3" fill="#ff7a0a" stroke="none" stroke-width="0"/>
<circle cx="557.2" cy="585.7" r="2.3" fill="#ff7a0a" stroke="none" stroke-width="0"/>
<circle cx="549.5" cy="584.4" r="2.3" fill="#ff7a0a" stroke="none" stroke-width="0"/>
<circle cx="559.1" cy="576.8" r="2.3" fill="#ff7a0a" stroke="none" stroke-width="0"/>
<circle cx="568.7" cy="566.6" r="2.3" fill="#ff7a0a" stroke="none" stroke-width="0"/>
<circle cx="566.8" cy="570.4" r="2.3" fill="#ff7a0a" stroke="none" stroke-width="0"/>
<circle cx="562.9" cy="568.5" r="2.3" fill="#ff7a0a" stroke="none" stroke-width="0"/>
<circle cx="561" cy="571" r="2.3" fill="#ff7a0a" stroke="none" stroke-width="0"/>
<circle cx="551.4" cy="590.8" r="2.3" fill="#ff7a0a" stroke="none" stroke-width="0"/>
<circle cx="555.3" cy="592.7" r="2.3" fill="#ff7a0a" stroke="none" stroke-width="0"/>
<circle cx="524.6" cy="618.8" r="2.3" fill="#ff7a0a" stroke="none" stroke-width="0"/>
<circle cx="520.8" cy="613" r="2.3" fill="#ff7a0a" stroke="none" stroke-width="0"/>
<circle cx="513.1" cy="622.6" r="2.3" fill="#ff7a0a" stroke="none" stroke-width="0"/>
<circle cx="528.4" cy="604.8" r="2.3" fill="#ff7a0a" stroke="none" stroke-width="0"/>
<rect x="43.5" y="710.5" width="241.9" height="161.9" fill="none" stroke="#a0a0a0" stroke-width="1"/>
<line x1="43.5" y1="872.4" x2="43.5" y2="876.4" stroke="#a0a0a0" stroke-width="1" stroke-linecap="butt"/>
<text x="43.5" y="888.7" font-size="10.6" text-anchor="middle" font-weight="normal" fill="#231f20" font-family='"Liberation Sans", sans-serif'>20</text>
<line x1="91.9" y1="872.4" x2="91.9" y2="876.4" stroke="#a0a0a0" stroke-width="1" stroke-linecap="butt"/>
<text x="91.9" y="888.7" font-size="10.6" text-anchor="middle" font-weight="normal" fill="#231f20" font-family='"Liberation Sans", sans-serif'>25</text>
<line x1="140.3" y1="872.4" x2="140.3" y2="876.4" stroke="#a0a0a0" stroke-width="1" stroke-linecap="butt"/>
<text x="140.3" y="888.7" font-size="10.6" text-anchor="middle" font-weight="normal" fill="#231f20" font-family='"Liberation Sans", sans-serif'>30</text>
<line x1="188.6" y1="872.4" x2="188.6" y2="876.4" stroke="#a0a0a0" stroke-width="1" stroke-linecap="butt"/>
<text x="188.6" y="888.7" font-size="10.6" text-anchor="middle" font-weight="normal" fill="#231f20" font-family='"Liberation Sans", sans-serif'>35</text>
<line x1="237" y1="872.4" x2="237" y2="876.4" stroke="#a0a0a0" stroke-width="1" stroke-linecap="butt"/>
<text x="237" y="888.7" font-size="10.6" text-anchor="middle" font-weight="normal" fill="#231f20" font-family='"Liberation Sans", sans-serif'>40</text>
<line x1="285.4" y1="872.4" x2="285.4" y2="876.4" stroke="#a0a0a0" stroke-width="1" stroke-linecap="butt"/>
<text x="285.4" y="888.7" font-size="10.6" text-anchor="middle" font-weight="normal" fill="#231f20" font-family='"Liberation Sans", sans-serif'>45</text>
<line x1="39.5" y1="710.5" x2="43.5" y2="710.5" stroke="#a0a0a0" stroke-width="1" stroke-linecap="butt"/>
<text x="34.7" y="714.3" font-size="10.6" text-anchor="end" font-weight="normal" fill="#231f20" font-family='"Liberation Sans", sans-serif'>0.6</text>
<line x1="39.5" y1="737.5" x2="43.5" y2="737.5" stroke="#a0a0a0" stroke-width="1" stroke-linecap="butt"/>
<text x="34.7" y="741.3" font-size="10.6" text-anchor="end" font-weight="normal" fill="#231f20" font-family='"Liberation Sans", sans-serif'>0.5</text>
<line x1="39.5" y1="764.5" x2="43.5" y2="764.5" stroke="#a0a0a0" stroke-width="1" stroke-linecap="butt"/>
<text x="34.7" y="768.3" font-size="10.6" text-anchor="end" font-weight="normal" fill="#231f20" font-family='"Liberation Sans", sans-serif'>0.4</text>
<line x1="39.5" y1="791.5" x2="43.5" y2="791.5" stroke="#a0a0a0" stroke-width="1" stroke-linecap="butt"/>
<text x="34.7" y="795.2" font-size="10.6" text-anchor="end" font-weight="normal" fill="#231f20" font-family='"Liberation Sans", sans-serif'>0.3</text>
<line x1="39.5" y1="818.4" x2="43.5" y2="818.4" stroke="#a0a0a0" stroke-width="1" stroke-linecap="butt"/>
<text x="34.7" y="822.2" font-size="10.6" text-anchor="end" font-weight="normal" fill="#231f20" font-family='"Liberation Sans", sans-serif'>0.2</text>
<line x1="39.5" y1="845.4" x2="43.5" y2="845.4" stroke="#a0a0a0" stroke-width="1" stroke-linecap="butt"/>
<text x="34.7" y="849.2" font-size="10.6" text-anchor="end" font-weight="normal" fill="#231f20" font-family='"Liberation Sans", sans-serif'>0.1</text>
<line x1="39.5" y1="872.4" x2="43.5" y2="872.4" stroke="#a0a0a0" stroke-width="1" stroke-linecap="butt"/>
<text x="34.7" y="876.2" font-size="10.6" text-anchor="end" font-weight="normal" fill="#231f20" font-family='"Liberation Sans", sans-serif'>0</text>
<text x="164.4" y="906" font-size="11" text-anchor="middle" font-weight="normal" fill="#231f20" font-family='"Liberation Sans", sans-serif'>Latitude (° N)</text>
<text x="10" y="791.4" font-size="11" text-anchor="middle" font-weight="normal" fill="#231f20" font-family='"Liberation Sans", sans-serif' transform="rotate(-90 10 791.4)">Phosphate (µM)</text>
<text x="0" y="709" font-size="13" text-anchor="start" font-weight="bold" fill="#000" font-family='"Liberation Sans", sans-serif'>h</text>
<line x1="161.7" y1="713.5" x2="161.7" y2="872.4" stroke="#2f7fc0" stroke-width="1.3" stroke-dasharray="4.8,3.2" stroke-linecap="butt"/>
<line x1="214.5" y1="713.5" x2="214.5" y2="872.4" stroke="#ff7f1e" stroke-width="1.3" stroke-dasharray="4.8,3.2" stroke-linecap="butt"/>
<line x1="246.8" y1="713.5" x2="246.8" y2="872.4" stroke="#a04cb4" stroke-width="1.3" stroke-dasharray="4.8,3.2" stroke-linecap="butt"/>
<rect x="85.1" y="856.8" width="4.6" height="4.6" fill="#8c2494"/>
<rect x="95" y="858.3" width="4.6" height="4.6" fill="#8c2494"/>
<rect x="112.2" y="856.1" width="4.6" height="4.6" fill="#8c2494"/>
<rect x="129.7" y="853.2" width="4.6" height="4.6" fill="#8c2494"/>
<rect x="172.7" y="859.4" width="4.6" height="4.6" fill="#8c2494"/>
<rect x="181.1" y="857.2" width="4.6" height="4.6" fill="#8c2494"/>
<rect x="189.9" y="851.3" width="4.6" height="4.6" fill="#8c2494"/>
<rect x="205.9" y="811.2" width="4.6" height="4.6" fill="#8c2494"/>
<rect x="211.1" y="809" width="4.6" height="4.6" fill="#8c2494"/>
<rect x="219.1" y="802.1" width="4.6" height="4.6" fill="#8c2494"/>
<rect x="235.9" y="796.2" width="4.6" height="4.6" fill="#8c2494"/>
<rect x="240.6" y="797" width="4.6" height="4.6" fill="#8c2494"/>
<rect x="248.6" y="770.3" width="4.6" height="4.6" fill="#8c2494"/>
<rect x="265.8" y="740.4" width="4.6" height="4.6" fill="#8c2494"/>
<rect x="274.2" y="742.2" width="4.6" height="4.6" fill="#8c2494"/>
<rect x="123.1" y="861.9" width="4.6" height="4.6" fill="#ff7a0a"/>
<rect x="141" y="861.6" width="4.6" height="4.6" fill="#ff7a0a"/>
<rect x="147.9" y="859.4" width="4.6" height="4.6" fill="#ff7a0a"/>
<rect x="157.4" y="859.4" width="4.6" height="4.6" fill="#ff7a0a"/>
<rect x="160" y="856.8" width="4.6" height="4.6" fill="#ff7a0a"/>
<rect x="166.2" y="851" width="4.6" height="4.6" fill="#ff7a0a"/>
<rect x="174.6" y="845.9" width="4.6" height="4.6" fill="#ff7a0a"/>
<rect x="177.5" y="847.3" width="4.6" height="4.6" fill="#ff7a0a"/>
<rect x="180" y="846.6" width="4.6" height="4.6" fill="#ff7a0a"/>
<rect x="188.4" y="841.1" width="4.6" height="4.6" fill="#ff7a0a"/>
<rect x="196.1" y="845.5" width="4.6" height="4.6" fill="#ff7a0a"/>
<rect x="196.1" y="847.3" width="4.6" height="4.6" fill="#ff7a0a"/>
<rect x="202.3" y="843.7" width="4.6" height="4.6" fill="#ff7a0a"/>
<rect x="206.3" y="845.1" width="4.6" height="4.6" fill="#ff7a0a"/>
<rect x="205.9" y="843" width="4.6" height="4.6" fill="#ff7a0a"/>
<rect x="196.8" y="808.3" width="4.6" height="4.6" fill="#ff7a0a"/>
<rect x="208.9" y="822.5" width="4.6" height="4.6" fill="#ff7a0a"/>
<rect x="211.4" y="832" width="4.6" height="4.6" fill="#ff7a0a"/>
<rect x="214" y="828.4" width="4.6" height="4.6" fill="#ff7a0a"/>
<rect x="211.4" y="833.5" width="4.6" height="4.6" fill="#ff7a0a"/>
<rect x="215.1" y="832.7" width="4.6" height="4.6" fill="#ff7a0a"/>
<rect x="222.4" y="807.6" width="4.6" height="4.6" fill="#ff7a0a"/>
<rect x="230" y="808.6" width="4.6" height="4.6" fill="#ff7a0a"/>
<rect x="232.2" y="787.1" width="4.6" height="4.6" fill="#ff7a0a"/>
<rect x="241" y="776.5" width="4.6" height="4.6" fill="#ff7a0a"/>
<rect x="248.6" y="761.9" width="4.6" height="4.6" fill="#ff7a0a"/>
<rect x="255.2" y="767.8" width="4.6" height="4.6" fill="#ff7a0a"/>
<rect x="248.6" y="732.4" width="4.6" height="4.6" fill="#ff7a0a"/>
<rect x="248.6" y="738.9" width="4.6" height="4.6" fill="#ff7a0a"/>
<rect x="176.4" y="848.1" width="4.6" height="4.6" fill="#ff7a0a"/>
<rect x="167.3" y="850.3" width="4.6" height="4.6" fill="#ff7a0a"/>
<rect x="76" y="856.8" width="4.6" height="4.6" fill="#0862b0"/>
<rect x="102.7" y="864.1" width="4.6" height="4.6" fill="#0862b0"/>
<rect x="120.2" y="858.3" width="4.6" height="4.6" fill="#0862b0"/>
<rect x="132.6" y="857.6" width="4.6" height="4.6" fill="#0862b0"/>
<rect x="135.1" y="864.1" width="4.6" height="4.6" fill="#0862b0"/>
<rect x="163.6" y="852.4" width="4.6" height="4.6" fill="#0862b0"/>
<rect x="168" y="834.9" width="4.6" height="4.6" fill="#0862b0"/>
<rect x="177.1" y="811.2" width="4.6" height="4.6" fill="#0862b0"/>
<rect x="191" y="773.6" width="4.6" height="4.6" fill="#0862b0"/>
<rect x="201.6" y="731.3" width="4.6" height="4.6" fill="#0862b0"/>
<rect x="201.6" y="738.9" width="4.6" height="4.6" fill="#0862b0"/>
<rect x="208.9" y="739.3" width="4.6" height="4.6" fill="#0862b0"/>
<rect x="356" y="710.5" width="239.5" height="161.9" fill="none" stroke="#a0a0a0" stroke-width="1"/>
<line x1="356" y1="872.4" x2="356" y2="876.4" stroke="#a0a0a0" stroke-width="1" stroke-linecap="butt"/>
<text x="356" y="888.7" font-size="10.6" text-anchor="middle" font-weight="normal" fill="#231f20" font-family='"Liberation Sans", sans-serif'>20</text>
<line x1="403.9" y1="872.4" x2="403.9" y2="876.4" stroke="#a0a0a0" stroke-width="1" stroke-linecap="butt"/>
<text x="403.9" y="888.7" font-size="10.6" text-anchor="middle" font-weight="normal" fill="#231f20" font-family='"Liberation Sans", sans-serif'>25</text>
<line x1="451.8" y1="872.4" x2="451.8" y2="876.4" stroke="#a0a0a0" stroke-width="1" stroke-linecap="butt"/>
<text x="451.8" y="888.7" font-size="10.6" text-anchor="middle" font-weight="normal" fill="#231f20" font-family='"Liberation Sans", sans-serif'>30</text>
<line x1="499.7" y1="872.4" x2="499.7" y2="876.4" stroke="#a0a0a0" stroke-width="1" stroke-linecap="butt"/>
<text x="499.7" y="888.7" font-size="10.6" text-anchor="middle" font-weight="normal" fill="#231f20" font-family='"Liberation Sans", sans-serif'>35</text>
<line x1="547.6" y1="872.4" x2="547.6" y2="876.4" stroke="#a0a0a0" stroke-width="1" stroke-linecap="butt"/>
<text x="547.6" y="888.7" font-size="10.6" text-anchor="middle" font-weight="normal" fill="#231f20" font-family='"Liberation Sans", sans-serif'>40</text>
<line x1="595.5" y1="872.4" x2="595.5" y2="876.4" stroke="#a0a0a0" stroke-width="1" stroke-linecap="butt"/>
<text x="595.5" y="888.7" font-size="10.6" text-anchor="middle" font-weight="normal" fill="#231f20" font-family='"Liberation Sans", sans-serif'>45</text>
<line x1="352" y1="710.5" x2="356" y2="710.5" stroke="#a0a0a0" stroke-width="1" stroke-linecap="butt"/>
<text x="347.2" y="714.3" font-size="10.6" text-anchor="end" font-weight="normal" fill="#231f20" font-family='"Liberation Sans", sans-serif'>7</text>
<line x1="352" y1="733.6" x2="356" y2="733.6" stroke="#a0a0a0" stroke-width="1" stroke-linecap="butt"/>
<text x="347.2" y="737.4" font-size="10.6" text-anchor="end" font-weight="normal" fill="#231f20" font-family='"Liberation Sans", sans-serif'>6</text>
<line x1="352" y1="756.8" x2="356" y2="756.8" stroke="#a0a0a0" stroke-width="1" stroke-linecap="butt"/>
<text x="347.2" y="760.6" font-size="10.6" text-anchor="end" font-weight="normal" fill="#231f20" font-family='"Liberation Sans", sans-serif'>5</text>
<line x1="352" y1="779.9" x2="356" y2="779.9" stroke="#a0a0a0" stroke-width="1" stroke-linecap="butt"/>
<text x="347.2" y="783.7" font-size="10.6" text-anchor="end" font-weight="normal" fill="#231f20" font-family='"Liberation Sans", sans-serif'>4</text>
<line x1="352" y1="803" x2="356" y2="803" stroke="#a0a0a0" stroke-width="1" stroke-linecap="butt"/>
<text x="347.2" y="806.8" font-size="10.6" text-anchor="end" font-weight="normal" fill="#231f20" font-family='"Liberation Sans", sans-serif'>3</text>
<line x1="352" y1="826.1" x2="356" y2="826.1" stroke="#a0a0a0" stroke-width="1" stroke-linecap="butt"/>
<text x="347.2" y="829.9" font-size="10.6" text-anchor="end" font-weight="normal" fill="#231f20" font-family='"Liberation Sans", sans-serif'>2</text>
<line x1="352" y1="849.3" x2="356" y2="849.3" stroke="#a0a0a0" stroke-width="1" stroke-linecap="butt"/>
<text x="347.2" y="853.1" font-size="10.6" text-anchor="end" font-weight="normal" fill="#231f20" font-family='"Liberation Sans", sans-serif'>1</text>
<line x1="352" y1="872.4" x2="356" y2="872.4" stroke="#a0a0a0" stroke-width="1" stroke-linecap="butt"/>
<text x="347.2" y="876.2" font-size="10.6" text-anchor="end" font-weight="normal" fill="#231f20" font-family='"Liberation Sans", sans-serif'>0</text>
<text x="475.8" y="906" font-size="11" text-anchor="middle" font-weight="normal" fill="#231f20" font-family='"Liberation Sans", sans-serif'>Latitude (° N)</text>
<text x="331" y="791.2" font-size="11" text-anchor="middle" font-weight="normal" fill="#231f20" font-family='"Liberation Sans", sans-serif' transform="rotate(-90 331 791.2)">Nitrate + nitrite (µM)</text>
<text x="313" y="709" font-size="13" text-anchor="start" font-weight="bold" fill="#000" font-family='"Liberation Sans", sans-serif'>i</text>
<line x1="474" y1="713.5" x2="474" y2="872.4" stroke="#2f7fc0" stroke-width="1.3" stroke-dasharray="4.8,3.2" stroke-linecap="butt"/>
<line x1="527.2" y1="713.5" x2="527.2" y2="872.4" stroke="#ff7f1e" stroke-width="1.3" stroke-dasharray="4.8,3.2" stroke-linecap="butt"/>
<line x1="559.5" y1="713.5" x2="559.5" y2="872.4" stroke="#a04cb4" stroke-width="1.3" stroke-dasharray="4.8,3.2" stroke-linecap="butt"/>
<rect x="434.6" y="870.7" width="4.6" height="4.6" fill="#ff7a0a"/>
<rect x="452.4" y="869.6" width="4.6" height="4.6" fill="#ff7a0a"/>
<rect x="459" y="870.7" width="4.6" height="4.6" fill="#ff7a0a"/>
<rect x="468.5" y="870.7" width="4.6" height="4.6" fill="#ff7a0a"/>
<rect x="478" y="870.7" width="4.6" height="4.6" fill="#ff7a0a"/>
<rect x="483.8" y="870.7" width="4.6" height="4.6" fill="#ff7a0a"/>
<rect x="488.9" y="870.7" width="4.6" height="4.6" fill="#ff7a0a"/>
<rect x="497.3" y="870.7" width="4.6" height="4.6" fill="#ff7a0a"/>
<rect x="506.5" y="870.7" width="4.6" height="4.6" fill="#ff7a0a"/>
<rect x="512.3" y="870.3" width="4.6" height="4.6" fill="#ff7a0a"/>
<rect x="516.3" y="870.7" width="4.6" height="4.6" fill="#ff7a0a"/>
<rect x="522.2" y="870" width="4.6" height="4.6" fill="#ff7a0a"/>
<rect x="526.5" y="866.7" width="4.6" height="4.6" fill="#ff7a0a"/>
<rect x="533.1" y="865.9" width="4.6" height="4.6" fill="#ff7a0a"/>
<rect x="540" y="866.3" width="4.6" height="4.6" fill="#ff7a0a"/>
<rect x="540" y="869.2" width="4.6" height="4.6" fill="#ff7a0a"/>
<rect x="543" y="859" width="4.6" height="4.6" fill="#ff7a0a"/>
<rect x="551" y="837.5" width="4.6" height="4.6" fill="#ff7a0a"/>
<rect x="558.3" y="824" width="4.6" height="4.6" fill="#ff7a0a"/>
<rect x="558.3" y="826.2" width="4.6" height="4.6" fill="#ff7a0a"/>
<rect x="564.9" y="833.1" width="4.6" height="4.6" fill="#ff7a0a"/>
<rect x="521.4" y="869.6" width="4.6" height="4.6" fill="#ff7a0a"/>
<rect x="473.6" y="870.7" width="4.6" height="4.6" fill="#ff7a0a"/>
<rect x="480.9" y="870.7" width="4.6" height="4.6" fill="#ff7a0a"/>
<rect x="493.7" y="870.7" width="4.6" height="4.6" fill="#ff7a0a"/>
<rect x="501" y="870.7" width="4.6" height="4.6" fill="#ff7a0a"/>
<rect x="519.2" y="870.7" width="4.6" height="4.6" fill="#ff7a0a"/>
<rect x="524.7" y="870.7" width="4.6" height="4.6" fill="#ff7a0a"/>
<rect x="537.5" y="870.7" width="4.6" height="4.6" fill="#ff7a0a"/>
<rect x="397.3" y="868.1" width="4.6" height="4.6" fill="#8c2494"/>
<rect x="405.4" y="868.1" width="4.6" height="4.6" fill="#8c2494"/>
<rect x="407.2" y="868.1" width="4.6" height="4.6" fill="#8c2494"/>
<rect x="423.2" y="868.1" width="4.6" height="4.6" fill="#8c2494"/>
<rect x="432.4" y="867.8" width="4.6" height="4.6" fill="#8c2494"/>
<rect x="441.1" y="861.6" width="4.6" height="4.6" fill="#8c2494"/>
<rect x="453.5" y="868.5" width="4.6" height="4.6" fill="#8c2494"/>
<rect x="483.5" y="868.5" width="4.6" height="4.6" fill="#8c2494"/>
<rect x="491.1" y="868.9" width="4.6" height="4.6" fill="#8c2494"/>
<rect x="499.9" y="869.6" width="4.6" height="4.6" fill="#8c2494"/>
<rect x="515.9" y="867.8" width="4.6" height="4.6" fill="#8c2494"/>
<rect x="519.6" y="868.1" width="4.6" height="4.6" fill="#8c2494"/>
<rect x="528.4" y="868.5" width="4.6" height="4.6" fill="#8c2494"/>
<rect x="545.9" y="867.8" width="4.6" height="4.6" fill="#8c2494"/>
<rect x="550.6" y="867.8" width="4.6" height="4.6" fill="#8c2494"/>
<rect x="558.6" y="859.7" width="4.6" height="4.6" fill="#8c2494"/>
<rect x="575.4" y="834.9" width="4.6" height="4.6" fill="#8c2494"/>
<rect x="584.2" y="829.1" width="4.6" height="4.6" fill="#8c2494"/>
<rect x="548.4" y="867.8" width="4.6" height="4.6" fill="#8c2494"/>
<rect x="388.2" y="870.3" width="4.6" height="4.6" fill="#0862b0"/>
<rect x="430.9" y="870.3" width="4.6" height="4.6" fill="#0862b0"/>
<rect x="443.3" y="870.3" width="4.6" height="4.6" fill="#0862b0"/>
<rect x="446.2" y="870" width="4.6" height="4.6" fill="#0862b0"/>
<rect x="478.7" y="847.3" width="4.6" height="4.6" fill="#0862b0"/>
<rect x="487.8" y="816.7" width="4.6" height="4.6" fill="#0862b0"/>
<rect x="501.3" y="771.8" width="4.6" height="4.6" fill="#0862b0"/>
<rect x="511.9" y="737.1" width="4.6" height="4.6" fill="#0862b0"/>
<rect x="511.9" y="738.9" width="4.6" height="4.6" fill="#0862b0"/>
<rect x="518.9" y="733.8" width="4.6" height="4.6" fill="#0862b0"/>
<circle cx="616.3" cy="553.3" r="5.7" fill="#8c2494" stroke="none" stroke-width="0"/>
<circle cx="616.3" cy="571.4" r="5.7" fill="#0862b0" stroke="none" stroke-width="0"/>
<circle cx="616.3" cy="589.5" r="5.7" fill="#ff7a0a" stroke="none" stroke-width="0"/>
<text x="626.5" y="557.3" font-size="11" text-anchor="start" font-weight="normal" fill="#231f20" font-family='"Liberation Sans", sans-serif'>March 2015</text>
<text x="626.5" y="575.4" font-size="11" text-anchor="start" font-weight="normal" fill="#231f20" font-family='"Liberation Sans", sans-serif'>April 2016</text>
<text x="626.5" y="593.5" font-size="11" text-anchor="start" font-weight="normal" fill="#231f20" font-family='"Liberation Sans", sans-serif'>June 2017</text>
<defs>
<linearGradient id="ga" x1="0" y1="0" x2="0" y2="1">
<stop offset="0" stop-color="#2ee26a"/><stop offset="0.28" stop-color="#30dc8c"/><stop offset="0.42" stop-color="#2cc4e4"/>
<stop offset="0.62" stop-color="#1f8cf2"/><stop offset="0.78" stop-color="#1650ea"/><stop offset="1" stop-color="#0c2ee0"/></linearGradient>
<linearGradient id="gb" x1="0" y1="0" x2="0" y2="1">
<stop offset="0" stop-color="#40e07a"/><stop offset="0.4" stop-color="#38d8a8"/><stop offset="0.52" stop-color="#2cc0ee"/>
<stop offset="0.7" stop-color="#1c78f0"/><stop offset="0.85" stop-color="#1448e8"/><stop offset="1" stop-color="#0c30e0"/></linearGradient>
<linearGradient id="gc" x1="0" y1="0" x2="0" y2="1">
<stop offset="0" stop-color="#50e070"/><stop offset="0.38" stop-color="#40d8a0"/><stop offset="0.45" stop-color="#2a9cf0"/>
<stop offset="0.55" stop-color="#1a5ae8"/><stop offset="1" stop-color="#0e34e2"/></linearGradient>
<linearGradient id="cb" x1="0" y1="0" x2="0" y2="1">
<stop offset="0" stop-color="#6a0010"/><stop offset="0.108" stop-color="#c00010"/><stop offset="0.243" stop-color="#ff5010"/>
<stop offset="0.293" stop-color="#ff9000"/><stop offset="0.354" stop-color="#ffe000"/><stop offset="0.416" stop-color="#a0e000"/>
<stop offset="0.49" stop-color="#00e000"/><stop offset="0.575" stop-color="#00e890"/><stop offset="0.637" stop-color="#00d8f0"/>
<stop offset="0.711" stop-color="#0090ff"/><stop offset="0.785" stop-color="#0020f0"/><stop offset="0.859" stop-color="#3010c0"/>
<stop offset="1" stop-color="#6a0a8a"/></linearGradient>
<clipPath id="ca"><rect x="43.6" y="21.9" width="244.6" height="169.5"/></clipPath>
<clipPath id="cbp"><rect x="299.8" y="21.9" width="122.8" height="169.5"/></clipPath>
<clipPath id="ccp"><rect x="434.5" y="21.9" width="122.3" height="169.5"/></clipPath>
<filter id="bl3" x="-20%" y="-20%" width="140%" height="140%"><feGaussianBlur stdDeviation="3"/></filter>
<filter id="bl2" x="-20%" y="-20%" width="140%" height="140%"><feGaussianBlur stdDeviation="1.5"/></filter>
</defs>
<g clip-path="url(#ca)">
<path fill="#4bef45" shape-rendering="crispEdges" d="M43 21h8v2h-8zM71 21h8v2h-8zM95 21h4v2h-4zM101 21h4v2h-4zM111 21h6v2h-6zM139 21h6v2h-6zM149 21h2v2h-2zM161 21h2v2h-2zM173 21h6v2h-6zM191 21h12v2h-12zM247 21h4v2h-4zM253 21h2v2h-2zM47 23h4v2h-4zM53 23h2v2h-2zM71 23h8v2h-8zM91 23h6v2h-6zM107 23h4v2h-4zM113 23h2v2h-2zM117 23h2v2h-2zM139 23h2v2h-2zM149 23h4v2h-4zM161 23h2v2h-2zM171 23h10v2h-10zM191 23h4v2h-4zM199 23h4v2h-4zM233 23h2v2h-2zM239 23h2v2h-2zM247 23h4v2h-4zM253 23h2v2h-2zM45 25h8v2h-8zM75 25h4v2h-4zM117 25h2v2h-2zM123 25h2v2h-2zM135 25h2v2h-2zM141 25h6v2h-6zM149 25h2v2h-2zM161 25h2v2h-2zM165 25h16v2h-16zM191 25h2v2h-2zM199 25h4v2h-4zM207 25h2v2h-2zM223 25h2v2h-2zM233 25h14v2h-14zM249 25h2v2h-2zM253 25h2v2h-2zM47 27h8v2h-8zM117 27h10v2h-10zM129 27h2v2h-2zM151 27h4v2h-4zM157 27h2v2h-2zM165 27h6v2h-6zM173 27h10v2h-10zM191 27h6v2h-6zM199 27h8v2h-8zM215 27h2v2h-2zM219 27h4v2h-4zM231 27h4v2h-4zM239 27h6v2h-6zM253 27h4v2h-4zM47 29h6v2h-6zM121 29h6v2h-6zM129 29h4v2h-4zM151 29h8v2h-8zM167 29h14v2h-14zM193 29h14v2h-14zM213 29h16v2h-16zM239 29h14v2h-14zM255 29h2v2h-2zM47 31h6v2h-6zM129 31h6v2h-6zM141 31h2v2h-2zM151 31h4v2h-4zM157 31h4v2h-4zM165 31h14v2h-14zM197 31h2v2h-2zM201 31h4v2h-4zM209 31h2v2h-2zM215 31h18v2h-18zM241 31h8v2h-8zM49 33h4v2h-4zM131 33h4v2h-4zM141 33h16v2h-16zM159 33h12v2h-12zM173 33h8v2h-8zM193 33h2v2h-2zM201 33h6v2h-6zM211 33h4v2h-4zM221 33h6v2h-6zM231 33h2v2h-2zM247 33h2v2h-2zM51 35h2v2h-2zM131 35h6v2h-6zM139 35h4v2h-4zM145 35h2v2h-2zM149 35h2v2h-2zM153 35h24v2h-24zM191 35h6v2h-6zM201 35h8v2h-8zM211 35h2v2h-2zM215 35h12v2h-12zM233 35h4v2h-4zM247 35h2v2h-2zM135 37h12v2h-12zM161 37h4v2h-4zM167 37h4v2h-4zM173 37h2v2h-2zM177 37h2v2h-2zM191 37h8v2h-8zM201 37h4v2h-4zM207 37h8v2h-8zM217 37h8v2h-8zM247 37h4v2h-4zM133 39h8v2h-8zM143 39h2v2h-2zM161 39h4v2h-4zM167 39h4v2h-4zM173 39h6v2h-6zM191 39h16v2h-16zM209 39h6v2h-6zM219 39h4v2h-4zM251 39h2v2h-2zM255 39h4v2h-4zM131 41h4v2h-4zM143 41h2v2h-2zM157 41h2v2h-2zM167 41h10v2h-10zM193 41h16v2h-16zM211 41h2v2h-2zM219 41h4v2h-4zM251 41h8v2h-8zM167 43h6v2h-6zM201 43h4v2h-4zM209 43h2v2h-2zM257 43h2v2h-2zM51 45h2v2h-2zM69 45h2v2h-2zM259 45h4v2h-4zM261 47h2v2h-2zM53 49h2v2h-2zM49 53h2v2h-2zM263 53h2v2h-2zM53 55h2v2h-2zM263 55h2v2h-2zM75 59h2v2h-2zM269 77h2v2h-2z"/>
<path fill="#5eeb3d" shape-rendering="crispEdges" d="M51 21h2v2h-2zM117 21h8v2h-8zM129 21h10v2h-10zM145 21h2v2h-2zM163 21h2v2h-2zM167 21h6v2h-6zM203 21h44v2h-44zM251 21h2v2h-2zM255 21h2v2h-2zM51 23h2v2h-2zM119 23h6v2h-6zM129 23h10v2h-10zM141 23h8v2h-8zM163 23h8v2h-8zM195 23h4v2h-4zM203 23h30v2h-30zM235 23h4v2h-4zM241 23h6v2h-6zM251 23h2v2h-2zM255 23h2v2h-2zM119 25h4v2h-4zM125 25h2v2h-2zM129 25h2v2h-2zM133 25h2v2h-2zM137 25h4v2h-4zM147 25h2v2h-2zM163 25h2v2h-2zM193 25h6v2h-6zM203 25h4v2h-4zM209 25h2v2h-2zM215 25h8v2h-8zM225 25h8v2h-8zM247 25h2v2h-2zM251 25h2v2h-2zM255 25h2v2h-2zM127 27h2v2h-2zM131 27h20v2h-20zM171 27h2v2h-2zM197 27h2v2h-2zM207 27h8v2h-8zM217 27h2v2h-2zM223 27h8v2h-8zM245 27h8v2h-8zM257 27h2v2h-2zM133 29h18v2h-18zM207 29h6v2h-6zM253 29h2v2h-2zM257 29h2v2h-2zM135 31h6v2h-6zM143 31h8v2h-8zM195 31h2v2h-2zM199 31h2v2h-2zM205 31h4v2h-4zM211 31h4v2h-4zM249 31h10v2h-10zM135 33h6v2h-6zM195 33h6v2h-6zM207 33h4v2h-4zM215 33h6v2h-6zM249 33h10v2h-10zM137 35h2v2h-2zM197 35h4v2h-4zM209 35h2v2h-2zM213 35h2v2h-2zM249 35h12v2h-12zM171 37h2v2h-2zM199 37h2v2h-2zM251 37h10v2h-10zM171 39h2v2h-2zM253 39h2v2h-2zM259 39h2v2h-2zM259 41h2v2h-2zM259 43h4v2h-4zM263 51h2v2h-2zM265 65h2v2h-2zM267 71h2v2h-2zM273 83h2v2h-2zM277 89h2v2h-2zM279 93h2v2h-2zM281 97h2v2h-2z"/>
<path fill="#3ff050" shape-rendering="crispEdges" d="M53 21h2v2h-2zM67 21h4v2h-4zM79 21h16v2h-16zM99 21h2v2h-2zM105 21h6v2h-6zM151 21h2v2h-2zM155 21h2v2h-2zM159 21h2v2h-2zM179 21h4v2h-4zM187 21h4v2h-4zM43 23h4v2h-4zM67 23h4v2h-4zM79 23h2v2h-2zM83 23h4v2h-4zM89 23h2v2h-2zM97 23h10v2h-10zM111 23h2v2h-2zM115 23h2v2h-2zM155 23h6v2h-6zM181 23h10v2h-10zM43 25h2v2h-2zM53 25h2v2h-2zM67 25h8v2h-8zM79 25h2v2h-2zM93 25h6v2h-6zM101 25h16v2h-16zM151 25h10v2h-10zM181 25h10v2h-10zM43 27h4v2h-4zM55 27h2v2h-2zM67 27h2v2h-2zM73 27h4v2h-4zM79 27h2v2h-2zM85 27h2v2h-2zM95 27h6v2h-6zM103 27h2v2h-2zM107 27h2v2h-2zM115 27h2v2h-2zM155 27h2v2h-2zM159 27h6v2h-6zM183 27h2v2h-2zM187 27h4v2h-4zM235 27h4v2h-4zM43 29h4v2h-4zM53 29h2v2h-2zM65 29h2v2h-2zM81 29h4v2h-4zM95 29h8v2h-8zM117 29h4v2h-4zM127 29h2v2h-2zM159 29h8v2h-8zM181 29h12v2h-12zM229 29h10v2h-10zM43 31h4v2h-4zM53 31h2v2h-2zM77 31h2v2h-2zM117 31h12v2h-12zM155 31h2v2h-2zM161 31h4v2h-4zM179 31h16v2h-16zM233 31h4v2h-4zM239 31h2v2h-2zM43 33h6v2h-6zM53 33h2v2h-2zM73 33h4v2h-4zM95 33h2v2h-2zM121 33h10v2h-10zM157 33h2v2h-2zM171 33h2v2h-2zM181 33h12v2h-12zM227 33h4v2h-4zM233 33h4v2h-4zM239 33h8v2h-8zM43 35h8v2h-8zM53 35h2v2h-2zM67 35h4v2h-4zM73 35h4v2h-4zM95 35h2v2h-2zM127 35h4v2h-4zM143 35h2v2h-2zM147 35h2v2h-2zM151 35h2v2h-2zM177 35h14v2h-14zM227 35h6v2h-6zM237 35h4v2h-4zM243 35h4v2h-4zM43 37h12v2h-12zM75 37h4v2h-4zM127 37h8v2h-8zM147 37h2v2h-2zM153 37h8v2h-8zM165 37h2v2h-2zM175 37h2v2h-2zM179 37h12v2h-12zM205 37h2v2h-2zM215 37h2v2h-2zM225 37h16v2h-16zM243 37h4v2h-4zM43 39h6v2h-6zM53 39h2v2h-2zM73 39h2v2h-2zM129 39h4v2h-4zM141 39h2v2h-2zM145 39h6v2h-6zM153 39h8v2h-8zM165 39h2v2h-2zM179 39h12v2h-12zM207 39h2v2h-2zM215 39h4v2h-4zM223 39h8v2h-8zM233 39h8v2h-8zM247 39h4v2h-4zM43 41h2v2h-2zM49 41h4v2h-4zM71 41h2v2h-2zM75 41h4v2h-4zM85 41h2v2h-2zM91 41h4v2h-4zM135 41h8v2h-8zM145 41h12v2h-12zM159 41h8v2h-8zM177 41h4v2h-4zM183 41h2v2h-2zM191 41h2v2h-2zM209 41h2v2h-2zM213 41h6v2h-6zM223 41h6v2h-6zM231 41h2v2h-2zM239 41h2v2h-2zM247 41h4v2h-4zM43 43h2v2h-2zM47 43h10v2h-10zM63 43h6v2h-6zM71 43h8v2h-8zM81 43h2v2h-2zM129 43h24v2h-24zM155 43h6v2h-6zM163 43h4v2h-4zM173 43h4v2h-4zM193 43h8v2h-8zM205 43h4v2h-4zM211 43h18v2h-18zM255 43h2v2h-2zM47 45h4v2h-4zM53 45h4v2h-4zM65 45h4v2h-4zM71 45h8v2h-8zM85 45h2v2h-2zM111 45h2v2h-2zM129 45h14v2h-14zM145 45h2v2h-2zM149 45h4v2h-4zM155 45h2v2h-2zM165 45h10v2h-10zM193 45h22v2h-22zM223 45h6v2h-6zM255 45h4v2h-4zM49 47h10v2h-10zM65 47h16v2h-16zM133 47h4v2h-4zM139 47h4v2h-4zM171 47h2v2h-2zM197 47h4v2h-4zM211 47h2v2h-2zM259 47h2v2h-2zM47 49h6v2h-6zM55 49h4v2h-4zM61 49h4v2h-4zM67 49h12v2h-12zM81 49h2v2h-2zM137 49h2v2h-2zM261 49h2v2h-2zM45 51h12v2h-12zM65 51h4v2h-4zM71 51h2v2h-2zM75 51h2v2h-2zM79 51h2v2h-2zM83 51h2v2h-2zM47 53h2v2h-2zM51 53h6v2h-6zM65 53h4v2h-4zM73 53h2v2h-2zM47 55h6v2h-6zM55 55h2v2h-2zM75 55h2v2h-2zM81 55h4v2h-4zM139 55h2v2h-2zM47 57h2v2h-2zM55 57h2v2h-2zM73 57h10v2h-10zM137 57h4v2h-4zM263 57h2v2h-2zM71 59h4v2h-4zM77 59h2v2h-2zM137 59h4v2h-4zM263 59h2v2h-2zM77 61h2v2h-2zM75 65h2v2h-2zM265 67h2v2h-2zM267 73h2v2h-2zM271 81h2v2h-2zM277 91h2v2h-2zM279 95h2v2h-2zM281 99h2v2h-2zM283 103h2v2h-2zM285 105h2v2h-2z"/>
<path fill="#37f05c" shape-rendering="crispEdges" d="M55 21h6v2h-6zM65 21h2v2h-2zM153 21h2v2h-2zM157 21h2v2h-2zM183 21h4v2h-4zM55 23h2v2h-2zM63 23h4v2h-4zM81 23h2v2h-2zM87 23h2v2h-2zM153 23h2v2h-2zM55 25h4v2h-4zM65 25h2v2h-2zM81 25h12v2h-12zM99 25h2v2h-2zM57 27h2v2h-2zM61 27h6v2h-6zM69 27h4v2h-4zM77 27h2v2h-2zM81 27h4v2h-4zM87 27h8v2h-8zM101 27h2v2h-2zM105 27h2v2h-2zM109 27h6v2h-6zM185 27h2v2h-2zM55 29h10v2h-10zM67 29h14v2h-14zM85 29h2v2h-2zM93 29h2v2h-2zM103 29h14v2h-14zM55 31h22v2h-22zM79 31h8v2h-8zM89 31h2v2h-2zM93 31h18v2h-18zM113 31h4v2h-4zM237 31h2v2h-2zM55 33h6v2h-6zM65 33h8v2h-8zM77 33h14v2h-14zM93 33h2v2h-2zM97 33h2v2h-2zM101 33h2v2h-2zM111 33h4v2h-4zM117 33h4v2h-4zM237 33h2v2h-2zM55 35h6v2h-6zM65 35h2v2h-2zM71 35h2v2h-2zM77 35h18v2h-18zM97 35h4v2h-4zM113 35h6v2h-6zM121 35h6v2h-6zM241 35h2v2h-2zM55 37h4v2h-4zM61 37h14v2h-14zM79 37h8v2h-8zM89 37h10v2h-10zM109 37h4v2h-4zM121 37h6v2h-6zM149 37h4v2h-4zM241 37h2v2h-2zM49 39h4v2h-4zM55 39h4v2h-4zM61 39h12v2h-12zM75 39h22v2h-22zM99 39h2v2h-2zM105 39h2v2h-2zM109 39h6v2h-6zM121 39h2v2h-2zM125 39h4v2h-4zM151 39h2v2h-2zM231 39h2v2h-2zM241 39h6v2h-6zM45 41h4v2h-4zM53 41h6v2h-6zM61 41h10v2h-10zM73 41h2v2h-2zM79 41h6v2h-6zM87 41h4v2h-4zM95 41h6v2h-6zM105 41h6v2h-6zM115 41h2v2h-2zM119 41h2v2h-2zM129 41h2v2h-2zM181 41h2v2h-2zM185 41h6v2h-6zM229 41h2v2h-2zM233 41h6v2h-6zM241 41h6v2h-6zM45 43h2v2h-2zM57 43h6v2h-6zM69 43h2v2h-2zM79 43h2v2h-2zM83 43h14v2h-14zM105 43h8v2h-8zM125 43h4v2h-4zM153 43h2v2h-2zM161 43h2v2h-2zM177 43h16v2h-16zM229 43h6v2h-6zM237 43h2v2h-2zM243 43h12v2h-12zM43 45h4v2h-4zM57 45h8v2h-8zM79 45h6v2h-6zM87 45h6v2h-6zM101 45h10v2h-10zM127 45h2v2h-2zM143 45h2v2h-2zM147 45h2v2h-2zM153 45h2v2h-2zM157 45h8v2h-8zM175 45h4v2h-4zM185 45h8v2h-8zM215 45h8v2h-8zM229 45h4v2h-4zM245 45h4v2h-4zM253 45h2v2h-2zM43 47h6v2h-6zM59 47h6v2h-6zM81 47h14v2h-14zM101 47h16v2h-16zM125 47h8v2h-8zM137 47h2v2h-2zM143 47h12v2h-12zM159 47h2v2h-2zM163 47h8v2h-8zM173 47h2v2h-2zM185 47h6v2h-6zM193 47h4v2h-4zM201 47h10v2h-10zM213 47h4v2h-4zM221 47h8v2h-8zM257 47h2v2h-2zM43 49h4v2h-4zM59 49h2v2h-2zM65 49h2v2h-2zM79 49h2v2h-2zM83 49h10v2h-10zM105 49h4v2h-4zM111 49h2v2h-2zM127 49h10v2h-10zM139 49h16v2h-16zM159 49h2v2h-2zM167 49h6v2h-6zM193 49h2v2h-2zM225 49h4v2h-4zM257 49h4v2h-4zM43 51h2v2h-2zM57 51h8v2h-8zM69 51h2v2h-2zM73 51h2v2h-2zM77 51h2v2h-2zM81 51h2v2h-2zM85 51h10v2h-10zM121 51h4v2h-4zM127 51h4v2h-4zM135 51h14v2h-14zM261 51h2v2h-2zM43 53h4v2h-4zM57 53h8v2h-8zM69 53h4v2h-4zM75 53h20v2h-20zM119 53h8v2h-8zM137 53h12v2h-12zM43 55h4v2h-4zM57 55h18v2h-18zM77 55h4v2h-4zM85 55h8v2h-8zM121 55h6v2h-6zM137 55h2v2h-2zM141 55h4v2h-4zM43 57h4v2h-4zM49 57h6v2h-6zM57 57h16v2h-16zM83 57h2v2h-2zM103 57h2v2h-2zM109 57h4v2h-4zM133 57h4v2h-4zM141 57h2v2h-2zM43 59h28v2h-28zM79 59h8v2h-8zM101 59h4v2h-4zM107 59h4v2h-4zM135 59h2v2h-2zM141 59h2v2h-2zM43 61h2v2h-2zM65 61h2v2h-2zM71 61h6v2h-6zM79 61h2v2h-2zM137 61h6v2h-6zM263 61h2v2h-2zM71 63h8v2h-8zM137 63h2v2h-2zM141 63h2v2h-2zM73 65h2v2h-2zM77 65h2v2h-2zM263 65h2v2h-2zM73 67h6v2h-6zM275 87h2v2h-2zM279 97h2v2h-2zM283 105h2v2h-2z"/>
<path fill="#30f06a" shape-rendering="crispEdges" d="M61 21h4v2h-4zM57 23h6v2h-6zM59 25h6v2h-6zM59 27h2v2h-2zM87 29h6v2h-6zM87 31h2v2h-2zM91 31h2v2h-2zM111 31h2v2h-2zM61 33h4v2h-4zM91 33h2v2h-2zM99 33h2v2h-2zM103 33h8v2h-8zM115 33h2v2h-2zM61 35h4v2h-4zM101 35h12v2h-12zM119 35h2v2h-2zM59 37h2v2h-2zM87 37h2v2h-2zM99 37h10v2h-10zM113 37h8v2h-8zM59 39h2v2h-2zM97 39h2v2h-2zM101 39h4v2h-4zM107 39h2v2h-2zM115 39h6v2h-6zM123 39h2v2h-2zM59 41h2v2h-2zM101 41h4v2h-4zM111 41h4v2h-4zM117 41h2v2h-2zM121 41h8v2h-8zM97 43h8v2h-8zM113 43h12v2h-12zM235 43h2v2h-2zM239 43h4v2h-4zM93 45h8v2h-8zM113 45h14v2h-14zM179 45h6v2h-6zM233 45h12v2h-12zM249 45h4v2h-4zM95 47h6v2h-6zM117 47h8v2h-8zM155 47h4v2h-4zM161 47h2v2h-2zM175 47h10v2h-10zM191 47h2v2h-2zM217 47h4v2h-4zM229 47h4v2h-4zM239 47h18v2h-18zM93 49h12v2h-12zM109 49h2v2h-2zM113 49h14v2h-14zM155 49h4v2h-4zM161 49h6v2h-6zM173 49h4v2h-4zM179 49h14v2h-14zM195 49h22v2h-22zM221 49h4v2h-4zM243 49h14v2h-14zM95 51h2v2h-2zM101 51h14v2h-14zM117 51h4v2h-4zM125 51h2v2h-2zM131 51h4v2h-4zM149 51h24v2h-24zM175 51h2v2h-2zM187 51h4v2h-4zM199 51h2v2h-2zM213 51h2v2h-2zM223 51h8v2h-8zM245 51h2v2h-2zM251 51h10v2h-10zM95 53h14v2h-14zM117 53h2v2h-2zM127 53h10v2h-10zM149 53h6v2h-6zM225 53h4v2h-4zM255 53h2v2h-2zM261 53h2v2h-2zM93 55h20v2h-20zM117 55h4v2h-4zM127 55h10v2h-10zM145 55h8v2h-8zM225 55h2v2h-2zM261 55h2v2h-2zM85 57h18v2h-18zM105 57h4v2h-4zM119 57h14v2h-14zM143 57h4v2h-4zM149 57h2v2h-2zM261 57h2v2h-2zM87 59h8v2h-8zM97 59h4v2h-4zM105 59h2v2h-2zM111 59h4v2h-4zM117 59h6v2h-6zM125 59h10v2h-10zM143 59h4v2h-4zM261 59h2v2h-2zM45 61h20v2h-20zM67 61h4v2h-4zM81 61h6v2h-6zM99 61h18v2h-18zM127 61h4v2h-4zM133 61h4v2h-4zM143 61h4v2h-4zM53 63h2v2h-2zM59 63h2v2h-2zM69 63h2v2h-2zM79 63h6v2h-6zM99 63h10v2h-10zM127 63h2v2h-2zM133 63h4v2h-4zM139 63h2v2h-2zM143 63h4v2h-4zM263 63h2v2h-2zM55 65h4v2h-4zM61 65h2v2h-2zM79 65h6v2h-6zM105 65h2v2h-2zM133 65h12v2h-12zM205 65h2v2h-2zM71 67h2v2h-2zM101 67h6v2h-6zM133 67h2v2h-2zM137 67h8v2h-8zM209 67h2v2h-2zM263 67h2v2h-2zM71 69h8v2h-8zM103 69h2v2h-2zM131 69h4v2h-4zM139 69h2v2h-2zM263 69h4v2h-4zM73 71h6v2h-6zM265 71h2v2h-2zM75 73h4v2h-4zM267 75h2v2h-2zM247 77h6v2h-6zM241 79h2v2h-2zM245 79h2v2h-2zM249 79h8v2h-8zM269 79h2v2h-2zM243 81h2v2h-2zM247 81h6v2h-6zM119 83h2v2h-2zM271 83h2v2h-2zM273 85h2v2h-2zM51 87h2v2h-2zM93 87h2v2h-2zM99 87h4v2h-4zM275 89h2v2h-2zM277 93h2v2h-2zM277 95h2v2h-2zM271 97h2v2h-2zM277 97h2v2h-2zM279 99h2v2h-2zM281 101h2v2h-2zM281 103h2v2h-2z"/>
<path fill="#72e834" shape-rendering="crispEdges" d="M125 21h4v2h-4zM147 21h2v2h-2zM165 21h2v2h-2zM125 23h4v2h-4zM257 23h2v2h-2zM127 25h2v2h-2zM131 25h2v2h-2zM211 25h4v2h-4zM257 25h2v2h-2zM259 29h2v2h-2zM259 31h2v2h-2zM259 33h2v2h-2zM261 35h2v2h-2zM261 37h2v2h-2zM261 39h2v2h-2zM261 41h2v2h-2zM263 47h2v2h-2zM263 49h2v2h-2zM267 69h2v2h-2zM275 85h2v2h-2zM283 101h2v2h-2z"/>
<path fill="#85e52c" shape-rendering="crispEdges" d="M257 21h2v2h-2zM259 27h2v2h-2zM261 31h2v2h-2zM261 33h2v2h-2zM263 45h2v2h-2zM265 61h2v2h-2zM265 63h2v2h-2zM271 79h2v2h-2z"/>
<path fill="#f7e003" shape-rendering="crispEdges" d="M259 21h2v2h-2zM265 53h2v2h-2zM269 73h2v2h-2z"/>
<path fill="#c10110" shape-rendering="crispEdges" d="M261 21h2v2h-2zM271 75h2v2h-2z"/>
<path fill="#ffffff" shape-rendering="crispEdges" d="M263 21h26v2h-26zM263 23h26v2h-26zM265 25h24v2h-24zM265 27h24v2h-24zM265 29h24v2h-24zM267 31h22v2h-22zM267 33h22v2h-22zM267 35h22v2h-22zM267 37h22v2h-22zM267 39h22v2h-22zM267 41h22v2h-22zM267 43h22v2h-22zM267 45h22v2h-22zM267 47h22v2h-22zM267 49h22v2h-22zM267 51h22v2h-22zM267 53h22v2h-22zM267 55h22v2h-22zM269 57h20v2h-20zM269 59h20v2h-20zM269 61h20v2h-20zM269 63h20v2h-20zM269 65h20v2h-20zM269 67h20v2h-20zM271 69h18v2h-18zM271 71h18v2h-18zM271 73h18v2h-18zM273 75h16v2h-16zM273 77h16v2h-16zM275 79h14v2h-14zM275 81h14v2h-14zM277 83h12v2h-12zM279 85h10v2h-10zM279 87h10v2h-10zM281 89h8v2h-8zM281 91h8v2h-8zM283 93h6v2h-6zM283 95h6v2h-6zM285 97h4v2h-4zM285 99h4v2h-4zM287 101h2v2h-2z"/>
<path fill="#c7e013" shape-rendering="crispEdges" d="M259 23h2v2h-2zM265 55h2v2h-2zM265 57h2v2h-2zM273 81h2v2h-2zM277 87h2v2h-2zM279 91h2v2h-2zM281 95h2v2h-2zM283 99h2v2h-2z"/>
<path fill="#fb4b10" shape-rendering="crispEdges" d="M261 23h2v2h-2zM263 27h2v2h-2z"/>
<path fill="#99e123" shape-rendering="crispEdges" d="M259 25h2v2h-2zM263 39h2v2h-2zM263 41h2v2h-2zM263 43h2v2h-2zM265 59h2v2h-2zM269 75h2v2h-2zM285 103h2v2h-2z"/>
<path fill="#ffd300" shape-rendering="crispEdges" d="M261 25h2v2h-2zM263 31h2v2h-2zM265 51h2v2h-2z"/>
<path fill="#8f0010" shape-rendering="crispEdges" d="M263 25h2v2h-2z"/>
<path fill="#afe01b" shape-rendering="crispEdges" d="M261 27h2v2h-2zM261 29h2v2h-2zM263 35h2v2h-2zM263 37h2v2h-2z"/>
<path fill="#ffaa00" shape-rendering="crispEdges" d="M263 29h2v2h-2zM265 49h2v2h-2zM275 83h2v2h-2z"/>
<path fill="#a80010" shape-rendering="crispEdges" d="M265 31h2v2h-2zM267 57h2v2h-2z"/>
<path fill="#dfe00b" shape-rendering="crispEdges" d="M263 33h2v2h-2zM267 67h2v2h-2zM287 105h2v2h-2z"/>
<path fill="#e52f10" shape-rendering="crispEdges" d="M265 33h2v2h-2z"/>
<path fill="#ff590e" shape-rendering="crispEdges" d="M265 35h2v2h-2zM279 89h2v2h-2zM281 93h2v2h-2z"/>
<path fill="#ff8104" shape-rendering="crispEdges" d="M265 37h2v2h-2zM265 39h2v2h-2zM265 43h2v2h-2zM269 71h2v2h-2zM271 77h2v2h-2zM285 101h2v2h-2z"/>
<path fill="#ff9500" shape-rendering="crispEdges" d="M265 41h2v2h-2zM265 45h2v2h-2zM265 47h2v2h-2zM267 65h2v2h-2z"/>
<path fill="#2aee80" shape-rendering="crispEdges" d="M233 47h6v2h-6zM177 49h2v2h-2zM217 49h4v2h-4zM229 49h14v2h-14zM97 51h4v2h-4zM115 51h2v2h-2zM173 51h2v2h-2zM177 51h10v2h-10zM191 51h8v2h-8zM201 51h12v2h-12zM215 51h8v2h-8zM231 51h4v2h-4zM239 51h6v2h-6zM247 51h4v2h-4zM109 53h8v2h-8zM155 53h48v2h-48zM209 53h16v2h-16zM229 53h2v2h-2zM241 53h14v2h-14zM257 53h4v2h-4zM113 55h4v2h-4zM153 55h24v2h-24zM179 55h2v2h-2zM183 55h2v2h-2zM187 55h6v2h-6zM211 55h8v2h-8zM221 55h4v2h-4zM227 55h4v2h-4zM251 55h10v2h-10zM113 57h6v2h-6zM147 57h2v2h-2zM151 57h18v2h-18zM187 57h2v2h-2zM227 57h2v2h-2zM251 57h10v2h-10zM95 59h2v2h-2zM115 59h2v2h-2zM123 59h2v2h-2zM147 59h10v2h-10zM215 59h2v2h-2zM253 59h2v2h-2zM259 59h2v2h-2zM87 61h6v2h-6zM95 61h4v2h-4zM117 61h10v2h-10zM131 61h2v2h-2zM147 61h6v2h-6zM183 61h4v2h-4zM199 61h4v2h-4zM231 61h2v2h-2zM261 61h2v2h-2zM43 63h10v2h-10zM55 63h4v2h-4zM61 63h8v2h-8zM85 63h4v2h-4zM97 63h2v2h-2zM109 63h18v2h-18zM129 63h4v2h-4zM147 63h6v2h-6zM199 63h10v2h-10zM231 63h4v2h-4zM261 63h2v2h-2zM53 65h2v2h-2zM59 65h2v2h-2zM63 65h2v2h-2zM67 65h6v2h-6zM97 65h8v2h-8zM107 65h4v2h-4zM113 65h4v2h-4zM119 65h14v2h-14zM145 65h6v2h-6zM199 65h6v2h-6zM207 65h4v2h-4zM219 65h2v2h-2zM223 65h2v2h-2zM235 65h4v2h-4zM261 65h2v2h-2zM55 67h8v2h-8zM69 67h2v2h-2zM79 67h2v2h-2zM99 67h2v2h-2zM107 67h8v2h-8zM125 67h8v2h-8zM135 67h2v2h-2zM145 67h8v2h-8zM155 67h2v2h-2zM199 67h10v2h-10zM211 67h14v2h-14zM257 67h2v2h-2zM261 67h2v2h-2zM59 69h6v2h-6zM79 69h2v2h-2zM97 69h6v2h-6zM105 69h2v2h-2zM113 69h2v2h-2zM123 69h2v2h-2zM129 69h2v2h-2zM135 69h4v2h-4zM141 69h6v2h-6zM201 69h12v2h-12zM217 69h8v2h-8zM237 69h2v2h-2zM241 69h2v2h-2zM247 69h8v2h-8zM257 69h6v2h-6zM61 71h2v2h-2zM71 71h2v2h-2zM79 71h2v2h-2zM99 71h10v2h-10zM113 71h2v2h-2zM131 71h18v2h-18zM207 71h8v2h-8zM219 71h4v2h-4zM235 71h2v2h-2zM243 71h4v2h-4zM253 71h12v2h-12zM67 73h4v2h-4zM73 73h2v2h-2zM79 73h4v2h-4zM103 73h2v2h-2zM109 73h2v2h-2zM113 73h2v2h-2zM141 73h2v2h-2zM239 73h6v2h-6zM249 73h14v2h-14zM265 73h2v2h-2zM65 75h4v2h-4zM73 75h6v2h-6zM239 75h2v2h-2zM245 75h22v2h-22zM69 77h2v2h-2zM73 77h2v2h-2zM77 77h2v2h-2zM81 77h2v2h-2zM85 77h2v2h-2zM93 77h4v2h-4zM121 77h2v2h-2zM151 77h2v2h-2zM239 77h4v2h-4zM245 77h2v2h-2zM253 77h6v2h-6zM261 77h2v2h-2zM267 77h2v2h-2zM93 79h2v2h-2zM97 79h2v2h-2zM107 79h2v2h-2zM111 79h6v2h-6zM119 79h2v2h-2zM123 79h2v2h-2zM239 79h2v2h-2zM243 79h2v2h-2zM247 79h2v2h-2zM257 79h12v2h-12zM79 81h4v2h-4zM95 81h2v2h-2zM101 81h2v2h-2zM109 81h2v2h-2zM115 81h6v2h-6zM123 81h6v2h-6zM239 81h4v2h-4zM245 81h2v2h-2zM253 81h6v2h-6zM261 81h10v2h-10zM51 83h2v2h-2zM79 83h2v2h-2zM85 83h2v2h-2zM89 83h2v2h-2zM97 83h2v2h-2zM111 83h8v2h-8zM121 83h2v2h-2zM125 83h4v2h-4zM241 83h2v2h-2zM245 83h4v2h-4zM251 83h6v2h-6zM259 83h8v2h-8zM49 85h6v2h-6zM87 85h8v2h-8zM97 85h8v2h-8zM109 85h6v2h-6zM117 85h8v2h-8zM255 85h4v2h-4zM263 85h2v2h-2zM267 85h6v2h-6zM49 87h2v2h-2zM83 87h2v2h-2zM87 87h6v2h-6zM95 87h4v2h-4zM109 87h2v2h-2zM253 87h4v2h-4zM269 87h2v2h-2zM273 87h2v2h-2zM47 89h6v2h-6zM85 89h22v2h-22zM47 91h6v2h-6zM95 91h2v2h-2zM99 91h6v2h-6zM275 91h2v2h-2zM43 93h2v2h-2zM47 93h2v2h-2zM51 93h2v2h-2zM59 93h4v2h-4zM99 93h2v2h-2zM271 93h2v2h-2zM49 95h4v2h-4zM271 95h4v2h-4zM95 97h2v2h-2zM267 97h4v2h-4zM273 97h4v2h-4zM275 99h4v2h-4zM97 101h4v2h-4zM279 101h2v2h-2zM97 103h6v2h-6zM281 105h2v2h-2zM77 111h2v2h-2zM79 113h4v2h-4zM81 119h2v2h-2z"/>
<path fill="#24ed96" shape-rendering="crispEdges" d="M235 51h4v2h-4zM203 53h6v2h-6zM231 53h10v2h-10zM177 55h2v2h-2zM181 55h2v2h-2zM185 55h2v2h-2zM193 55h8v2h-8zM203 55h4v2h-4zM209 55h2v2h-2zM219 55h2v2h-2zM233 55h2v2h-2zM241 55h10v2h-10zM169 57h18v2h-18zM189 57h8v2h-8zM211 57h6v2h-6zM219 57h2v2h-2zM223 57h4v2h-4zM229 57h6v2h-6zM243 57h2v2h-2zM249 57h2v2h-2zM157 59h14v2h-14zM177 59h16v2h-16zM195 59h6v2h-6zM203 59h4v2h-4zM211 59h2v2h-2zM223 59h2v2h-2zM229 59h8v2h-8zM249 59h4v2h-4zM255 59h4v2h-4zM93 61h2v2h-2zM153 61h4v2h-4zM159 61h6v2h-6zM179 61h4v2h-4zM187 61h2v2h-2zM195 61h4v2h-4zM203 61h2v2h-2zM207 61h2v2h-2zM215 61h10v2h-10zM229 61h2v2h-2zM233 61h2v2h-2zM243 61h2v2h-2zM247 61h2v2h-2zM251 61h10v2h-10zM89 63h8v2h-8zM153 63h4v2h-4zM159 63h4v2h-4zM179 63h4v2h-4zM185 63h4v2h-4zM197 63h2v2h-2zM213 63h2v2h-2zM217 63h2v2h-2zM223 63h2v2h-2zM235 63h4v2h-4zM251 63h2v2h-2zM255 63h6v2h-6zM47 65h4v2h-4zM65 65h2v2h-2zM85 65h2v2h-2zM111 65h2v2h-2zM117 65h2v2h-2zM151 65h8v2h-8zM211 65h8v2h-8zM221 65h2v2h-2zM225 65h2v2h-2zM229 65h6v2h-6zM245 65h2v2h-2zM253 65h8v2h-8zM49 67h2v2h-2zM53 67h2v2h-2zM63 67h6v2h-6zM81 67h6v2h-6zM97 67h2v2h-2zM115 67h10v2h-10zM153 67h2v2h-2zM157 67h2v2h-2zM225 67h4v2h-4zM231 67h8v2h-8zM241 67h2v2h-2zM251 67h6v2h-6zM259 67h2v2h-2zM55 69h2v2h-2zM65 69h2v2h-2zM69 69h2v2h-2zM107 69h6v2h-6zM115 69h8v2h-8zM125 69h4v2h-4zM147 69h12v2h-12zM199 69h2v2h-2zM213 69h4v2h-4zM225 69h2v2h-2zM231 69h6v2h-6zM243 69h4v2h-4zM255 69h2v2h-2zM59 71h2v2h-2zM63 71h8v2h-8zM109 71h4v2h-4zM115 71h4v2h-4zM121 71h10v2h-10zM149 71h6v2h-6zM201 71h6v2h-6zM215 71h4v2h-4zM223 71h4v2h-4zM231 71h4v2h-4zM237 71h6v2h-6zM247 71h6v2h-6zM63 73h4v2h-4zM71 73h2v2h-2zM99 73h4v2h-4zM105 73h4v2h-4zM111 73h2v2h-2zM115 73h2v2h-2zM119 73h2v2h-2zM123 73h2v2h-2zM129 73h2v2h-2zM133 73h8v2h-8zM143 73h6v2h-6zM155 73h2v2h-2zM203 73h4v2h-4zM209 73h2v2h-2zM213 73h2v2h-2zM217 73h2v2h-2zM221 73h2v2h-2zM231 73h8v2h-8zM245 73h4v2h-4zM263 73h2v2h-2zM69 75h4v2h-4zM79 75h6v2h-6zM95 75h4v2h-4zM103 75h22v2h-22zM131 75h2v2h-2zM139 75h2v2h-2zM237 75h2v2h-2zM241 75h4v2h-4zM65 77h4v2h-4zM71 77h2v2h-2zM75 77h2v2h-2zM83 77h2v2h-2zM87 77h6v2h-6zM97 77h4v2h-4zM107 77h14v2h-14zM123 77h2v2h-2zM237 77h2v2h-2zM243 77h2v2h-2zM259 77h2v2h-2zM263 77h4v2h-4zM67 79h2v2h-2zM73 79h20v2h-20zM95 79h2v2h-2zM99 79h2v2h-2zM103 79h4v2h-4zM109 79h2v2h-2zM117 79h2v2h-2zM121 79h2v2h-2zM125 79h4v2h-4zM149 79h4v2h-4zM235 79h4v2h-4zM53 81h2v2h-2zM75 81h4v2h-4zM83 81h6v2h-6zM93 81h2v2h-2zM97 81h2v2h-2zM103 81h6v2h-6zM111 81h4v2h-4zM121 81h2v2h-2zM129 81h2v2h-2zM259 81h2v2h-2zM49 83h2v2h-2zM53 83h2v2h-2zM81 83h4v2h-4zM87 83h2v2h-2zM91 83h6v2h-6zM99 83h12v2h-12zM123 83h2v2h-2zM129 83h2v2h-2zM239 83h2v2h-2zM243 83h2v2h-2zM249 83h2v2h-2zM257 83h2v2h-2zM267 83h4v2h-4zM55 85h2v2h-2zM81 85h6v2h-6zM95 85h2v2h-2zM125 85h6v2h-6zM231 85h2v2h-2zM239 85h4v2h-4zM247 85h8v2h-8zM259 85h4v2h-4zM265 85h2v2h-2zM47 87h2v2h-2zM53 87h2v2h-2zM81 87h2v2h-2zM85 87h2v2h-2zM103 87h4v2h-4zM111 87h16v2h-16zM247 87h2v2h-2zM251 87h2v2h-2zM261 87h8v2h-8zM271 87h2v2h-2zM53 89h4v2h-4zM59 89h2v2h-2zM83 89h2v2h-2zM107 89h8v2h-8zM117 89h2v2h-2zM123 89h2v2h-2zM249 89h4v2h-4zM255 89h2v2h-2zM267 89h8v2h-8zM45 91h2v2h-2zM53 91h2v2h-2zM57 91h4v2h-4zM89 91h6v2h-6zM97 91h2v2h-2zM105 91h4v2h-4zM267 91h6v2h-6zM45 93h2v2h-2zM49 93h2v2h-2zM53 93h6v2h-6zM91 93h2v2h-2zM97 93h2v2h-2zM101 93h4v2h-4zM269 93h2v2h-2zM273 93h4v2h-4zM43 95h2v2h-2zM53 95h4v2h-4zM59 95h4v2h-4zM93 95h12v2h-12zM267 95h4v2h-4zM275 95h2v2h-2zM43 97h6v2h-6zM51 97h2v2h-2zM59 97h2v2h-2zM85 97h2v2h-2zM97 97h8v2h-8zM95 99h6v2h-6zM105 99h4v2h-4zM265 99h10v2h-10zM95 101h2v2h-2zM105 101h6v2h-6zM265 101h2v2h-2zM275 101h4v2h-4zM45 103h2v2h-2zM95 103h2v2h-2zM103 103h6v2h-6zM267 103h2v2h-2zM271 103h2v2h-2zM277 103h4v2h-4zM43 105h4v2h-4zM51 105h2v2h-2zM97 105h2v2h-2zM101 105h4v2h-4zM275 105h2v2h-2zM279 105h2v2h-2zM105 107h2v2h-2zM275 107h2v2h-2zM279 107h2v2h-2zM283 107h2v2h-2zM59 109h2v2h-2zM75 109h6v2h-6zM89 109h4v2h-4zM105 109h2v2h-2zM75 111h2v2h-2zM79 111h2v2h-2zM87 111h6v2h-6zM287 111h2v2h-2zM71 113h2v2h-2zM77 113h2v2h-2zM83 113h2v2h-2zM91 113h4v2h-4zM69 115h2v2h-2zM77 115h6v2h-6zM69 117h4v2h-4zM77 117h2v2h-2zM81 117h6v2h-6zM103 117h2v2h-2zM107 117h2v2h-2zM71 119h6v2h-6zM79 119h2v2h-2zM95 119h2v2h-2zM107 119h2v2h-2zM45 121h2v2h-2zM71 121h4v2h-4zM77 121h6v2h-6zM105 121h2v2h-2zM43 123h4v2h-4zM105 123h4v2h-4zM51 125h2v2h-2zM103 125h8v2h-8zM51 127h4v2h-4zM57 127h4v2h-4zM105 127h2v2h-2zM105 129h2v2h-2zM63 131h2v2h-2zM103 131h2v2h-2zM103 133h2v2h-2z"/>
<path fill="#20ebab" shape-rendering="crispEdges" d="M201 55h2v2h-2zM207 55h2v2h-2zM231 55h2v2h-2zM239 55h2v2h-2zM199 57h8v2h-8zM217 57h2v2h-2zM171 59h2v2h-2zM175 59h2v2h-2zM201 59h2v2h-2zM213 59h2v2h-2zM217 59h2v2h-2zM225 59h2v2h-2zM241 59h8v2h-8zM157 61h2v2h-2zM177 61h2v2h-2zM189 61h2v2h-2zM193 61h2v2h-2zM205 61h2v2h-2zM157 63h2v2h-2zM163 63h4v2h-4zM177 63h2v2h-2zM183 63h2v2h-2zM211 63h2v2h-2zM215 63h2v2h-2zM225 63h2v2h-2zM241 63h2v2h-2zM245 63h6v2h-6zM253 63h2v2h-2zM43 65h4v2h-4zM51 65h2v2h-2zM87 65h2v2h-2zM91 65h2v2h-2zM95 65h2v2h-2zM159 65h2v2h-2zM167 65h2v2h-2zM179 65h2v2h-2zM227 65h2v2h-2zM47 67h2v2h-2zM51 67h2v2h-2zM87 67h2v2h-2zM159 67h2v2h-2zM197 67h2v2h-2zM229 67h2v2h-2zM239 67h2v2h-2zM243 67h8v2h-8zM53 69h2v2h-2zM57 69h2v2h-2zM81 69h4v2h-4zM159 69h2v2h-2zM227 69h2v2h-2zM239 69h2v2h-2zM57 71h2v2h-2zM81 71h4v2h-4zM157 71h2v2h-2zM199 71h2v2h-2zM117 73h2v2h-2zM125 73h4v2h-4zM131 73h2v2h-2zM151 73h4v2h-4zM159 73h2v2h-2zM207 73h2v2h-2zM225 73h4v2h-4zM125 75h2v2h-2zM145 75h2v2h-2zM223 75h2v2h-2zM229 75h4v2h-4zM235 75h2v2h-2zM63 77h2v2h-2zM79 77h2v2h-2zM101 77h6v2h-6zM125 77h2v2h-2zM147 77h2v2h-2zM153 77h2v2h-2zM165 77h2v2h-2zM221 77h2v2h-2zM231 77h4v2h-4zM51 79h2v2h-2zM65 79h2v2h-2zM101 79h2v2h-2zM147 79h2v2h-2zM153 79h2v2h-2zM51 81h2v2h-2zM55 81h2v2h-2zM99 81h2v2h-2zM147 81h2v2h-2zM237 81h2v2h-2zM131 83h2v2h-2zM59 85h2v2h-2zM77 85h4v2h-4zM105 85h4v2h-4zM115 85h2v2h-2zM131 85h2v2h-2zM151 85h2v2h-2zM237 85h2v2h-2zM245 85h2v2h-2zM57 87h2v2h-2zM61 87h2v2h-2zM107 87h2v2h-2zM241 87h2v2h-2zM249 87h2v2h-2zM257 87h2v2h-2zM43 89h4v2h-4zM115 89h2v2h-2zM121 89h2v2h-2zM129 89h4v2h-4zM227 89h2v2h-2zM253 89h2v2h-2zM263 89h4v2h-4zM43 91h2v2h-2zM61 91h2v2h-2zM109 91h4v2h-4zM265 91h2v2h-2zM273 91h2v2h-2zM87 93h2v2h-2zM93 93h2v2h-2zM105 93h4v2h-4zM265 93h4v2h-4zM45 95h4v2h-4zM87 95h6v2h-6zM49 97h2v2h-2zM83 97h2v2h-2zM109 97h2v2h-2zM265 97h2v2h-2zM45 99h2v2h-2zM85 99h2v2h-2zM101 99h2v2h-2zM109 99h2v2h-2zM91 101h2v2h-2zM101 101h2v2h-2zM111 101h2v2h-2zM267 101h4v2h-4zM273 101h2v2h-2zM43 103h2v2h-2zM87 103h2v2h-2zM93 103h2v2h-2zM269 103h2v2h-2zM273 103h4v2h-4zM49 105h2v2h-2zM93 105h4v2h-4zM99 105h2v2h-2zM105 105h2v2h-2zM277 105h2v2h-2zM59 107h2v2h-2zM79 107h2v2h-2zM87 107h2v2h-2zM91 107h2v2h-2zM277 107h2v2h-2zM281 107h2v2h-2zM285 107h4v2h-4zM73 109h2v2h-2zM107 109h2v2h-2zM275 109h2v2h-2zM279 109h2v2h-2zM287 109h2v2h-2zM81 111h2v2h-2zM103 111h2v2h-2zM107 111h4v2h-4zM47 113h4v2h-4zM73 113h4v2h-4zM103 113h6v2h-6zM67 115h2v2h-2zM71 115h6v2h-6zM83 115h2v2h-2zM93 115h2v2h-2zM103 115h2v2h-2zM107 115h2v2h-2zM73 117h4v2h-4zM79 117h2v2h-2zM93 117h2v2h-2zM109 117h2v2h-2zM281 117h2v2h-2zM69 119h2v2h-2zM77 119h2v2h-2zM83 119h4v2h-4zM105 119h2v2h-2zM109 119h2v2h-2zM43 121h2v2h-2zM75 121h2v2h-2zM83 121h2v2h-2zM103 121h2v2h-2zM47 123h2v2h-2zM69 123h4v2h-4zM77 123h4v2h-4zM111 123h2v2h-2zM43 125h4v2h-4zM55 125h6v2h-6zM111 125h2v2h-2zM49 127h2v2h-2zM107 127h2v2h-2zM53 129h4v2h-4zM59 129h2v2h-2zM65 129h2v2h-2zM51 131h4v2h-4zM105 131h2v2h-2zM109 131h2v2h-2zM51 133h2v2h-2zM63 133h2v2h-2zM105 133h2v2h-2z"/>
<path fill="#20e0c7" shape-rendering="crispEdges" d="M235 55h4v2h-4zM207 57h4v2h-4zM207 59h2v2h-2zM219 59h4v2h-4zM165 61h4v2h-4zM213 61h2v2h-2zM227 61h2v2h-2zM239 61h2v2h-2zM245 61h2v2h-2zM169 63h2v2h-2zM175 63h2v2h-2zM195 63h2v2h-2zM227 63h2v2h-2zM243 63h2v2h-2zM89 65h2v2h-2zM163 65h4v2h-4zM161 67h2v2h-2zM165 67h2v2h-2zM179 67h2v2h-2zM49 69h2v2h-2zM197 69h2v2h-2zM229 69h2v2h-2zM119 71h2v2h-2zM83 73h2v2h-2zM121 73h2v2h-2zM161 73h2v2h-2zM211 73h2v2h-2zM215 73h2v2h-2zM219 73h2v2h-2zM229 73h2v2h-2zM55 75h2v2h-2zM59 75h2v2h-2zM63 75h2v2h-2zM85 75h2v2h-2zM89 75h2v2h-2zM93 75h2v2h-2zM99 75h2v2h-2zM135 75h2v2h-2zM143 75h2v2h-2zM203 75h2v2h-2zM225 75h2v2h-2zM51 77h2v2h-2zM133 77h2v2h-2zM145 77h2v2h-2zM219 77h2v2h-2zM235 77h2v2h-2zM55 79h2v2h-2zM59 79h2v2h-2zM69 79h2v2h-2zM145 79h2v2h-2zM155 79h4v2h-4zM163 79h2v2h-2zM231 79h4v2h-4zM73 81h2v2h-2zM153 81h4v2h-4zM165 81h2v2h-2zM229 81h2v2h-2zM55 83h2v2h-2zM59 83h2v2h-2zM65 83h2v2h-2zM77 83h2v2h-2zM231 83h2v2h-2zM237 83h2v2h-2zM65 85h2v2h-2zM69 85h2v2h-2zM155 85h2v2h-2zM55 87h2v2h-2zM133 87h2v2h-2zM153 87h2v2h-2zM229 87h2v2h-2zM243 87h2v2h-2zM81 89h2v2h-2zM239 89h2v2h-2zM245 89h4v2h-4zM85 91h2v2h-2zM113 91h2v2h-2zM131 91h2v2h-2zM247 91h2v2h-2zM89 93h2v2h-2zM85 95h2v2h-2zM53 97h2v2h-2zM87 97h4v2h-4zM107 97h2v2h-2zM111 97h2v2h-2zM57 99h4v2h-4zM103 99h2v2h-2zM111 99h2v2h-2zM47 103h2v2h-2zM85 103h2v2h-2zM89 103h2v2h-2zM85 105h2v2h-2zM91 105h2v2h-2zM107 105h4v2h-4zM267 105h6v2h-6zM51 107h2v2h-2zM85 107h2v2h-2zM93 107h2v2h-2zM97 107h2v2h-2zM85 109h2v2h-2zM101 109h4v2h-4zM109 109h2v2h-2zM43 111h2v2h-2zM47 111h2v2h-2zM93 111h4v2h-4zM105 111h2v2h-2zM275 111h4v2h-4zM283 111h2v2h-2zM51 113h4v2h-4zM85 113h2v2h-2zM89 113h2v2h-2zM109 113h2v2h-2zM49 115h2v2h-2zM85 115h2v2h-2zM89 115h2v2h-2zM95 115h2v2h-2zM105 115h2v2h-2zM45 117h2v2h-2zM105 117h2v2h-2zM283 117h2v2h-2zM287 119h2v2h-2zM101 121h2v2h-2zM53 123h2v2h-2zM73 123h2v2h-2zM103 123h2v2h-2zM109 123h2v2h-2zM47 125h2v2h-2zM45 127h2v2h-2zM55 127h2v2h-2zM89 127h2v2h-2zM101 127h2v2h-2zM43 129h2v2h-2zM47 129h2v2h-2zM61 129h2v2h-2zM43 131h2v2h-2zM91 131h2v2h-2zM45 133h2v2h-2zM55 133h2v2h-2zM65 133h4v2h-4zM53 135h2v2h-2zM63 135h2v2h-2z"/>
<path fill="#20e5b9" shape-rendering="crispEdges" d="M197 57h2v2h-2zM221 57h2v2h-2zM235 57h2v2h-2zM245 57h4v2h-4zM173 59h2v2h-2zM193 59h2v2h-2zM227 59h2v2h-2zM169 61h2v2h-2zM175 61h2v2h-2zM191 61h2v2h-2zM209 61h4v2h-4zM225 61h2v2h-2zM235 61h2v2h-2zM249 61h2v2h-2zM167 63h2v2h-2zM209 63h2v2h-2zM219 63h4v2h-4zM229 63h2v2h-2zM239 63h2v2h-2zM93 65h2v2h-2zM161 65h2v2h-2zM181 65h2v2h-2zM197 65h2v2h-2zM239 65h2v2h-2zM247 65h4v2h-4zM67 69h2v2h-2zM95 69h2v2h-2zM175 69h2v2h-2zM97 71h2v2h-2zM155 71h2v2h-2zM229 71h2v2h-2zM59 73h4v2h-4zM85 73h2v2h-2zM149 73h2v2h-2zM157 73h2v2h-2zM223 73h2v2h-2zM87 75h2v2h-2zM101 75h2v2h-2zM127 75h2v2h-2zM133 75h2v2h-2zM137 75h2v2h-2zM147 75h6v2h-6zM157 75h4v2h-4zM205 75h2v2h-2zM217 75h2v2h-2zM233 75h2v2h-2zM53 77h2v2h-2zM149 77h2v2h-2zM161 77h2v2h-2zM167 77h2v2h-2zM223 77h2v2h-2zM71 79h2v2h-2zM129 79h4v2h-4zM223 79h2v2h-2zM89 81h4v2h-4zM131 81h2v2h-2zM149 81h4v2h-4zM235 81h2v2h-2zM61 83h2v2h-2zM75 83h2v2h-2zM133 83h2v2h-2zM153 83h2v2h-2zM157 83h2v2h-2zM233 83h2v2h-2zM47 85h2v2h-2zM57 85h2v2h-2zM67 85h2v2h-2zM133 85h2v2h-2zM229 85h2v2h-2zM233 85h2v2h-2zM243 85h2v2h-2zM59 87h2v2h-2zM127 87h6v2h-6zM237 87h2v2h-2zM259 87h2v2h-2zM57 89h2v2h-2zM61 89h2v2h-2zM125 89h2v2h-2zM257 89h2v2h-2zM261 89h2v2h-2zM55 91h2v2h-2zM87 91h2v2h-2zM253 91h2v2h-2zM263 91h2v2h-2zM63 93h2v2h-2zM95 93h2v2h-2zM111 93h2v2h-2zM263 93h2v2h-2zM57 95h2v2h-2zM63 95h2v2h-2zM83 95h2v2h-2zM105 95h4v2h-4zM263 95h4v2h-4zM81 97h2v2h-2zM93 97h2v2h-2zM105 97h2v2h-2zM43 99h2v2h-2zM83 99h2v2h-2zM89 99h2v2h-2zM93 99h2v2h-2zM43 101h2v2h-2zM47 101h2v2h-2zM271 101h2v2h-2zM265 103h2v2h-2zM47 105h2v2h-2zM89 105h2v2h-2zM273 105h2v2h-2zM43 107h2v2h-2zM57 107h2v2h-2zM77 107h2v2h-2zM95 107h2v2h-2zM99 107h2v2h-2zM103 107h2v2h-2zM107 107h2v2h-2zM51 109h2v2h-2zM87 109h2v2h-2zM93 109h2v2h-2zM283 109h4v2h-4zM49 111h4v2h-4zM73 111h2v2h-2zM285 111h2v2h-2zM69 113h2v2h-2zM285 113h4v2h-4zM47 115h2v2h-2zM51 115h2v2h-2zM87 115h2v2h-2zM281 115h2v2h-2zM285 115h2v2h-2zM49 117h2v2h-2zM67 117h2v2h-2zM95 117h2v2h-2zM279 117h2v2h-2zM285 117h2v2h-2zM43 119h2v2h-2zM49 119h2v2h-2zM93 119h2v2h-2zM103 119h2v2h-2zM69 121h2v2h-2zM85 121h2v2h-2zM89 121h2v2h-2zM95 121h2v2h-2zM107 121h2v2h-2zM51 123h2v2h-2zM53 125h2v2h-2zM67 125h6v2h-6zM47 127h2v2h-2zM61 127h2v2h-2zM91 127h2v2h-2zM109 127h2v2h-2zM51 129h2v2h-2zM57 129h2v2h-2zM63 129h2v2h-2zM103 129h2v2h-2zM107 129h6v2h-6zM49 131h2v2h-2zM55 131h2v2h-2zM59 131h2v2h-2zM65 131h2v2h-2zM107 131h2v2h-2zM43 133h2v2h-2zM101 133h2v2h-2zM107 133h2v2h-2z"/>
<path fill="#25cce5" shape-rendering="crispEdges" d="M237 57h4v2h-4zM171 61h2v2h-2zM237 61h2v2h-2zM241 61h2v2h-2zM189 63h2v2h-2zM193 63h2v2h-2zM173 65h4v2h-4zM183 65h6v2h-6zM191 65h2v2h-2zM195 65h2v2h-2zM241 65h2v2h-2zM43 67h2v2h-2zM91 67h2v2h-2zM163 67h2v2h-2zM171 67h8v2h-8zM181 67h4v2h-4zM189 67h4v2h-4zM47 69h2v2h-2zM51 69h2v2h-2zM85 69h2v2h-2zM89 69h4v2h-4zM161 69h4v2h-4zM171 69h4v2h-4zM177 69h2v2h-2zM187 69h2v2h-2zM191 69h2v2h-2zM51 71h6v2h-6zM85 71h4v2h-4zM95 71h2v2h-2zM161 71h4v2h-4zM189 71h2v2h-2zM53 73h6v2h-6zM95 73h2v2h-2zM163 73h2v2h-2zM191 73h2v2h-2zM199 73h2v2h-2zM51 75h4v2h-4zM129 75h2v2h-2zM155 75h2v2h-2zM209 75h2v2h-2zM215 75h2v2h-2zM219 75h2v2h-2zM227 75h2v2h-2zM49 77h2v2h-2zM57 77h4v2h-4zM127 77h6v2h-6zM137 77h4v2h-4zM155 77h2v2h-2zM203 77h2v2h-2zM209 77h2v2h-2zM213 77h2v2h-2zM217 77h2v2h-2zM229 77h2v2h-2zM135 79h2v2h-2zM143 79h2v2h-2zM159 79h4v2h-4zM165 79h4v2h-4zM207 79h6v2h-6zM215 79h2v2h-2zM227 79h2v2h-2zM47 81h2v2h-2zM63 81h2v2h-2zM71 81h2v2h-2zM133 81h4v2h-4zM157 81h4v2h-4zM163 81h2v2h-2zM167 81h4v2h-4zM173 81h6v2h-6zM209 81h4v2h-4zM223 81h4v2h-4zM231 81h2v2h-2zM43 83h2v2h-2zM47 83h2v2h-2zM63 83h2v2h-2zM145 83h2v2h-2zM149 83h2v2h-2zM159 83h6v2h-6zM181 83h2v2h-2zM229 83h2v2h-2zM43 85h2v2h-2zM71 85h2v2h-2zM75 85h2v2h-2zM153 85h2v2h-2zM157 85h2v2h-2zM161 85h2v2h-2zM177 85h2v2h-2zM183 85h2v2h-2zM227 85h2v2h-2zM235 85h2v2h-2zM67 87h2v2h-2zM71 87h8v2h-8zM135 87h2v2h-2zM149 87h2v2h-2zM155 87h4v2h-4zM161 87h2v2h-2zM179 87h4v2h-4zM211 87h2v2h-2zM231 87h2v2h-2zM235 87h2v2h-2zM245 87h2v2h-2zM63 89h2v2h-2zM67 89h4v2h-4zM127 89h2v2h-2zM133 89h4v2h-4zM153 89h2v2h-2zM157 89h4v2h-4zM177 89h2v2h-2zM229 89h2v2h-2zM243 89h2v2h-2zM65 91h2v2h-2zM81 91h2v2h-2zM117 91h2v2h-2zM121 91h4v2h-4zM127 91h4v2h-4zM165 91h2v2h-2zM169 91h2v2h-2zM175 91h2v2h-2zM227 91h4v2h-4zM233 91h2v2h-2zM239 91h2v2h-2zM245 91h2v2h-2zM255 91h4v2h-4zM65 93h2v2h-2zM71 93h2v2h-2zM85 93h2v2h-2zM129 93h4v2h-4zM163 93h2v2h-2zM169 93h6v2h-6zM225 93h8v2h-8zM243 93h4v2h-4zM249 93h2v2h-2zM255 93h2v2h-2zM259 93h2v2h-2zM65 95h2v2h-2zM81 95h2v2h-2zM111 95h2v2h-2zM117 95h2v2h-2zM127 95h2v2h-2zM131 95h2v2h-2zM171 95h4v2h-4zM227 95h2v2h-2zM261 95h2v2h-2zM55 97h2v2h-2zM91 97h2v2h-2zM113 97h2v2h-2zM117 97h2v2h-2zM127 97h2v2h-2zM261 97h2v2h-2zM55 99h2v2h-2zM81 99h2v2h-2zM87 99h2v2h-2zM91 99h2v2h-2zM113 99h4v2h-4zM255 99h2v2h-2zM263 99h2v2h-2zM49 101h2v2h-2zM59 101h4v2h-4zM81 101h4v2h-4zM87 101h4v2h-4zM117 101h2v2h-2zM263 101h2v2h-2zM51 103h2v2h-2zM59 103h2v2h-2zM63 103h2v2h-2zM83 103h2v2h-2zM113 103h2v2h-2zM117 103h2v2h-2zM57 105h2v2h-2zM61 105h4v2h-4zM81 105h4v2h-4zM87 105h2v2h-2zM111 105h6v2h-6zM47 107h2v2h-2zM53 107h2v2h-2zM63 107h4v2h-4zM75 107h2v2h-2zM81 107h4v2h-4zM115 107h2v2h-2zM273 107h2v2h-2zM43 109h6v2h-6zM53 109h4v2h-4zM63 109h4v2h-4zM81 109h2v2h-2zM111 109h6v2h-6zM271 109h2v2h-2zM53 111h2v2h-2zM57 111h6v2h-6zM65 111h2v2h-2zM69 111h4v2h-4zM85 111h2v2h-2zM99 111h2v2h-2zM111 111h2v2h-2zM279 111h4v2h-4zM45 113h2v2h-2zM57 113h2v2h-2zM61 113h8v2h-8zM95 113h2v2h-2zM99 113h4v2h-4zM111 113h2v2h-2zM277 113h2v2h-2zM281 113h4v2h-4zM45 115h2v2h-2zM65 115h2v2h-2zM91 115h2v2h-2zM97 115h2v2h-2zM101 115h2v2h-2zM111 115h6v2h-6zM43 117h2v2h-2zM51 117h2v2h-2zM87 117h4v2h-4zM101 117h2v2h-2zM111 117h4v2h-4zM277 117h2v2h-2zM287 117h2v2h-2zM47 119h2v2h-2zM53 119h2v2h-2zM63 119h2v2h-2zM87 119h2v2h-2zM97 119h4v2h-4zM113 119h2v2h-2zM117 119h2v2h-2zM279 119h6v2h-6zM47 121h4v2h-4zM61 121h2v2h-2zM91 121h4v2h-4zM97 121h4v2h-4zM109 121h2v2h-2zM285 121h2v2h-2zM49 123h2v2h-2zM59 123h10v2h-10zM81 123h2v2h-2zM85 123h2v2h-2zM89 123h6v2h-6zM113 123h6v2h-6zM287 123h2v2h-2zM63 125h4v2h-4zM93 125h2v2h-2zM99 125h2v2h-2zM113 125h4v2h-4zM43 127h2v2h-2zM67 127h2v2h-2zM71 127h2v2h-2zM87 127h2v2h-2zM93 127h4v2h-4zM99 127h2v2h-2zM45 129h2v2h-2zM67 129h6v2h-6zM87 129h2v2h-2zM91 129h6v2h-6zM101 129h2v2h-2zM113 129h2v2h-2zM45 131h2v2h-2zM57 131h2v2h-2zM67 131h2v2h-2zM93 131h2v2h-2zM99 131h4v2h-4zM113 131h2v2h-2zM47 133h4v2h-4zM61 133h2v2h-2zM69 133h2v2h-2zM89 133h4v2h-4zM99 133h2v2h-2zM109 133h4v2h-4zM285 133h4v2h-4zM47 135h4v2h-4zM57 135h2v2h-2zM69 135h2v2h-2zM99 135h8v2h-8zM109 135h4v2h-4zM53 137h2v2h-2zM91 137h2v2h-2zM107 137h2v2h-2z"/>
<path fill="#21d8d5" shape-rendering="crispEdges" d="M241 57h2v2h-2zM209 59h2v2h-2zM237 59h4v2h-4zM173 61h2v2h-2zM173 63h2v2h-2zM191 63h2v2h-2zM169 65h2v2h-2zM177 65h2v2h-2zM243 65h2v2h-2zM251 65h2v2h-2zM45 67h2v2h-2zM89 67h2v2h-2zM93 67h4v2h-4zM167 67h2v2h-2zM187 67h2v2h-2zM87 69h2v2h-2zM159 71h2v2h-2zM227 71h2v2h-2zM97 73h2v2h-2zM201 73h2v2h-2zM57 75h2v2h-2zM61 75h2v2h-2zM91 75h2v2h-2zM141 75h2v2h-2zM153 75h2v2h-2zM161 75h6v2h-6zM201 75h2v2h-2zM207 75h2v2h-2zM213 75h2v2h-2zM221 75h2v2h-2zM55 77h2v2h-2zM143 77h2v2h-2zM159 77h2v2h-2zM163 77h2v2h-2zM205 77h4v2h-4zM215 77h2v2h-2zM225 77h4v2h-4zM49 79h2v2h-2zM53 79h2v2h-2zM57 79h2v2h-2zM63 79h2v2h-2zM205 79h2v2h-2zM221 79h2v2h-2zM225 79h2v2h-2zM229 79h2v2h-2zM49 81h2v2h-2zM57 81h6v2h-6zM69 81h2v2h-2zM145 81h2v2h-2zM207 81h2v2h-2zM227 81h2v2h-2zM233 81h2v2h-2zM57 83h2v2h-2zM73 83h2v2h-2zM147 83h2v2h-2zM151 83h2v2h-2zM155 83h2v2h-2zM175 83h2v2h-2zM235 83h2v2h-2zM61 85h4v2h-4zM73 85h2v2h-2zM149 85h2v2h-2zM159 85h2v2h-2zM179 85h2v2h-2zM43 87h4v2h-4zM79 87h2v2h-2zM151 87h2v2h-2zM159 87h2v2h-2zM227 87h2v2h-2zM233 87h2v2h-2zM239 87h2v2h-2zM71 89h2v2h-2zM119 89h2v2h-2zM231 89h2v2h-2zM237 89h2v2h-2zM259 89h2v2h-2zM63 91h2v2h-2zM83 91h2v2h-2zM115 91h2v2h-2zM125 91h2v2h-2zM231 91h2v2h-2zM241 91h2v2h-2zM249 91h4v2h-4zM261 91h2v2h-2zM83 93h2v2h-2zM109 93h2v2h-2zM113 93h4v2h-4zM109 95h2v2h-2zM57 97h2v2h-2zM61 97h2v2h-2zM263 97h2v2h-2zM47 99h6v2h-6zM61 99h2v2h-2zM45 101h2v2h-2zM57 101h2v2h-2zM85 101h2v2h-2zM93 101h2v2h-2zM103 101h2v2h-2zM113 101h2v2h-2zM49 103h2v2h-2zM53 103h2v2h-2zM91 103h2v2h-2zM109 103h4v2h-4zM53 105h2v2h-2zM59 105h2v2h-2zM79 105h2v2h-2zM265 105h2v2h-2zM45 107h2v2h-2zM49 107h2v2h-2zM55 107h2v2h-2zM61 107h2v2h-2zM89 107h2v2h-2zM101 107h2v2h-2zM109 107h2v2h-2zM271 107h2v2h-2zM49 109h2v2h-2zM57 109h2v2h-2zM61 109h2v2h-2zM95 109h6v2h-6zM273 109h2v2h-2zM277 109h2v2h-2zM281 109h2v2h-2zM45 111h2v2h-2zM83 111h2v2h-2zM97 111h2v2h-2zM101 111h2v2h-2zM43 113h2v2h-2zM97 113h2v2h-2zM43 115h2v2h-2zM109 115h2v2h-2zM279 115h2v2h-2zM283 115h2v2h-2zM287 115h2v2h-2zM47 117h2v2h-2zM65 117h2v2h-2zM91 117h2v2h-2zM45 119h2v2h-2zM65 119h4v2h-4zM89 119h4v2h-4zM111 119h2v2h-2zM285 119h2v2h-2zM51 121h2v2h-2zM87 121h2v2h-2zM111 121h4v2h-4zM287 121h2v2h-2zM55 123h2v2h-2zM75 123h2v2h-2zM95 123h2v2h-2zM101 123h2v2h-2zM49 125h2v2h-2zM61 125h2v2h-2zM79 125h2v2h-2zM91 125h2v2h-2zM101 125h2v2h-2zM63 127h4v2h-4zM69 127h2v2h-2zM103 127h2v2h-2zM111 127h4v2h-4zM49 129h2v2h-2zM89 129h2v2h-2zM61 131h2v2h-2zM69 131h2v2h-2zM111 131h2v2h-2zM53 133h2v2h-2zM57 133h2v2h-2zM43 135h2v2h-2zM51 135h2v2h-2zM55 135h2v2h-2zM65 135h2v2h-2zM107 135h2v2h-2z"/>
<path fill="#c80a10" shape-rendering="crispEdges" d="M267 59h2v2h-2zM287 103h2v2h-2z"/>
<path fill="#de2610" shape-rendering="crispEdges" d="M267 61h2v2h-2z"/>
<path fill="#28bef4" shape-rendering="crispEdges" d="M171 63h2v2h-2zM171 65h2v2h-2zM189 65h2v2h-2zM193 65h2v2h-2zM169 67h2v2h-2zM185 67h2v2h-2zM193 67h4v2h-4zM43 69h4v2h-4zM93 69h2v2h-2zM165 69h6v2h-6zM179 69h8v2h-8zM189 69h2v2h-2zM193 69h4v2h-4zM47 71h4v2h-4zM89 71h2v2h-2zM93 71h2v2h-2zM165 71h2v2h-2zM169 71h4v2h-4zM175 71h8v2h-8zM187 71h2v2h-2zM191 71h8v2h-8zM49 73h4v2h-4zM87 73h4v2h-4zM93 73h2v2h-2zM165 73h2v2h-2zM171 73h4v2h-4zM177 73h4v2h-4zM183 73h2v2h-2zM189 73h2v2h-2zM193 73h6v2h-6zM45 75h6v2h-6zM167 75h8v2h-8zM179 75h2v2h-2zM183 75h4v2h-4zM189 75h4v2h-4zM195 75h2v2h-2zM199 75h2v2h-2zM211 75h2v2h-2zM43 77h6v2h-6zM61 77h2v2h-2zM135 77h2v2h-2zM141 77h2v2h-2zM157 77h2v2h-2zM175 77h2v2h-2zM179 77h2v2h-2zM183 77h2v2h-2zM189 77h14v2h-14zM211 77h2v2h-2zM43 79h6v2h-6zM61 79h2v2h-2zM133 79h2v2h-2zM137 79h6v2h-6zM169 79h2v2h-2zM173 79h4v2h-4zM179 79h2v2h-2zM183 79h2v2h-2zM189 79h2v2h-2zM193 79h6v2h-6zM201 79h4v2h-4zM213 79h2v2h-2zM217 79h4v2h-4zM43 81h4v2h-4zM65 81h4v2h-4zM141 81h4v2h-4zM161 81h2v2h-2zM171 81h2v2h-2zM179 81h6v2h-6zM193 81h14v2h-14zM213 81h6v2h-6zM221 81h2v2h-2zM45 83h2v2h-2zM67 83h6v2h-6zM135 83h2v2h-2zM143 83h2v2h-2zM165 83h10v2h-10zM177 83h4v2h-4zM183 83h6v2h-6zM191 83h10v2h-10zM203 83h12v2h-12zM223 83h6v2h-6zM45 85h2v2h-2zM135 85h4v2h-4zM143 85h6v2h-6zM163 85h8v2h-8zM173 85h4v2h-4zM181 85h2v2h-2zM185 85h2v2h-2zM189 85h12v2h-12zM205 85h2v2h-2zM209 85h6v2h-6zM223 85h4v2h-4zM63 87h4v2h-4zM69 87h2v2h-2zM145 87h4v2h-4zM163 87h8v2h-8zM173 87h6v2h-6zM191 87h8v2h-8zM209 87h2v2h-2zM213 87h2v2h-2zM225 87h2v2h-2zM65 89h2v2h-2zM73 89h8v2h-8zM137 89h2v2h-2zM143 89h10v2h-10zM155 89h2v2h-2zM161 89h2v2h-2zM165 89h12v2h-12zM179 89h4v2h-4zM193 89h4v2h-4zM199 89h2v2h-2zM211 89h4v2h-4zM223 89h4v2h-4zM233 89h4v2h-4zM241 89h2v2h-2zM67 91h10v2h-10zM79 91h2v2h-2zM119 91h2v2h-2zM133 91h8v2h-8zM143 91h22v2h-22zM167 91h2v2h-2zM171 91h4v2h-4zM177 91h4v2h-4zM223 91h4v2h-4zM235 91h4v2h-4zM243 91h2v2h-2zM259 91h2v2h-2zM69 93h2v2h-2zM79 93h4v2h-4zM117 93h12v2h-12zM133 93h14v2h-14zM155 93h2v2h-2zM161 93h2v2h-2zM165 93h4v2h-4zM175 93h6v2h-6zM205 93h2v2h-2zM223 93h2v2h-2zM233 93h2v2h-2zM241 93h2v2h-2zM247 93h2v2h-2zM251 93h4v2h-4zM257 93h2v2h-2zM261 93h2v2h-2zM67 95h8v2h-8zM77 95h2v2h-2zM113 95h4v2h-4zM119 95h8v2h-8zM129 95h2v2h-2zM133 95h14v2h-14zM149 95h2v2h-2zM161 95h10v2h-10zM175 95h4v2h-4zM223 95h4v2h-4zM229 95h6v2h-6zM241 95h10v2h-10zM253 95h6v2h-6zM63 97h6v2h-6zM71 97h2v2h-2zM77 97h4v2h-4zM115 97h2v2h-2zM119 97h8v2h-8zM129 97h6v2h-6zM137 97h8v2h-8zM157 97h20v2h-20zM179 97h2v2h-2zM217 97h2v2h-2zM223 97h14v2h-14zM241 97h6v2h-6zM249 97h10v2h-10zM53 99h2v2h-2zM63 99h4v2h-4zM69 99h2v2h-2zM73 99h2v2h-2zM79 99h2v2h-2zM117 99h4v2h-4zM137 99h6v2h-6zM159 99h2v2h-2zM163 99h12v2h-12zM215 99h8v2h-8zM233 99h6v2h-6zM253 99h2v2h-2zM257 99h6v2h-6zM51 101h6v2h-6zM63 101h4v2h-4zM75 101h2v2h-2zM115 101h2v2h-2zM119 101h2v2h-2zM127 101h2v2h-2zM165 101h4v2h-4zM171 101h2v2h-2zM217 101h6v2h-6zM235 101h8v2h-8zM255 101h4v2h-4zM261 101h2v2h-2zM55 103h4v2h-4zM61 103h2v2h-2zM65 103h2v2h-2zM71 103h6v2h-6zM81 103h2v2h-2zM115 103h2v2h-2zM119 103h2v2h-2zM129 103h2v2h-2zM171 103h2v2h-2zM219 103h2v2h-2zM237 103h2v2h-2zM251 103h14v2h-14zM55 105h2v2h-2zM65 105h2v2h-2zM69 105h10v2h-10zM117 105h4v2h-4zM127 105h2v2h-2zM251 105h14v2h-14zM67 107h8v2h-8zM111 107h4v2h-4zM117 107h2v2h-2zM255 107h16v2h-16zM67 109h6v2h-6zM83 109h2v2h-2zM117 109h4v2h-4zM123 109h8v2h-8zM255 109h12v2h-12zM269 109h2v2h-2zM55 111h2v2h-2zM63 111h2v2h-2zM67 111h2v2h-2zM113 111h10v2h-10zM127 111h2v2h-2zM261 111h6v2h-6zM271 111h4v2h-4zM55 113h2v2h-2zM59 113h2v2h-2zM87 113h2v2h-2zM113 113h6v2h-6zM121 113h2v2h-2zM261 113h2v2h-2zM273 113h4v2h-4zM279 113h2v2h-2zM53 115h12v2h-12zM99 115h2v2h-2zM117 115h6v2h-6zM273 115h6v2h-6zM53 117h12v2h-12zM97 117h4v2h-4zM115 117h6v2h-6zM259 117h2v2h-2zM273 117h4v2h-4zM51 119h2v2h-2zM55 119h2v2h-2zM101 119h2v2h-2zM115 119h2v2h-2zM119 119h2v2h-2zM123 119h2v2h-2zM275 119h4v2h-4zM53 121h4v2h-4zM59 121h2v2h-2zM63 121h6v2h-6zM115 121h8v2h-8zM271 121h2v2h-2zM275 121h10v2h-10zM57 123h2v2h-2zM83 123h2v2h-2zM87 123h2v2h-2zM97 123h4v2h-4zM119 123h4v2h-4zM277 123h10v2h-10zM73 125h6v2h-6zM81 125h2v2h-2zM85 125h6v2h-6zM95 125h4v2h-4zM117 125h8v2h-8zM283 125h4v2h-4zM73 127h14v2h-14zM97 127h2v2h-2zM115 127h6v2h-6zM281 127h8v2h-8zM73 129h2v2h-2zM81 129h2v2h-2zM85 129h2v2h-2zM97 129h4v2h-4zM115 129h4v2h-4zM277 129h12v2h-12zM47 131h2v2h-2zM71 131h2v2h-2zM87 131h4v2h-4zM95 131h4v2h-4zM115 131h4v2h-4zM275 131h14v2h-14zM59 133h2v2h-2zM71 133h2v2h-2zM93 133h6v2h-6zM113 133h4v2h-4zM275 133h10v2h-10zM45 135h2v2h-2zM59 135h4v2h-4zM67 135h2v2h-2zM71 135h2v2h-2zM87 135h12v2h-12zM113 135h4v2h-4zM283 135h6v2h-6zM43 137h10v2h-10zM55 137h22v2h-22zM89 137h2v2h-2zM93 137h14v2h-14zM109 137h4v2h-4zM281 137h8v2h-8zM45 139h2v2h-2zM49 139h8v2h-8zM61 139h2v2h-2zM65 139h4v2h-4zM71 139h8v2h-8zM101 139h10v2h-10zM47 141h4v2h-4zM53 141h4v2h-4zM67 141h4v2h-4zM73 141h6v2h-6zM287 141h2v2h-2z"/>
<path fill="#ec3810" shape-rendering="crispEdges" d="M267 63h2v2h-2zM277 85h2v2h-2z"/>
<path fill="#d71d10" shape-rendering="crispEdges" d="M269 69h2v2h-2zM273 79h2v2h-2z"/>
<path fill="#1f90f4" shape-rendering="crispEdges" d="M43 71h2v2h-2zM217 83h6v2h-6zM139 85h2v2h-2zM217 85h4v2h-4zM141 87h2v2h-2zM217 87h6v2h-6zM189 89h2v2h-2zM217 89h6v2h-6zM215 91h2v2h-2zM219 91h2v2h-2zM185 93h2v2h-2zM193 93h6v2h-6zM209 93h6v2h-6zM183 95h2v2h-2zM189 95h2v2h-2zM195 95h2v2h-2zM185 97h2v2h-2zM189 97h2v2h-2zM203 97h2v2h-2zM147 99h4v2h-4zM189 99h2v2h-2zM205 99h6v2h-6zM67 101h2v2h-2zM123 101h2v2h-2zM133 101h2v2h-2zM145 101h4v2h-4zM151 101h2v2h-2zM155 101h4v2h-4zM189 101h6v2h-6zM201 101h12v2h-12zM225 101h4v2h-4zM245 101h4v2h-4zM133 103h6v2h-6zM145 103h6v2h-6zM181 103h2v2h-2zM187 103h2v2h-2zM191 103h24v2h-24zM243 103h2v2h-2zM67 105h2v2h-2zM133 105h6v2h-6zM141 105h2v2h-2zM147 105h4v2h-4zM179 105h2v2h-2zM185 105h22v2h-22zM209 105h2v2h-2zM213 105h4v2h-4zM231 105h2v2h-2zM243 105h4v2h-4zM135 107h18v2h-18zM161 107h8v2h-8zM179 107h8v2h-8zM189 107h2v2h-2zM201 107h4v2h-4zM207 107h2v2h-2zM213 107h4v2h-4zM221 107h6v2h-6zM231 107h2v2h-2zM245 107h2v2h-2zM137 109h2v2h-2zM143 109h12v2h-12zM157 109h14v2h-14zM173 109h6v2h-6zM181 109h4v2h-4zM215 109h22v2h-22zM241 109h2v2h-2zM137 111h2v2h-2zM143 111h34v2h-34zM217 111h16v2h-16zM247 111h4v2h-4zM267 111h2v2h-2zM133 113h14v2h-14zM149 113h2v2h-2zM153 113h6v2h-6zM221 113h18v2h-18zM243 113h6v2h-6zM267 113h2v2h-2zM129 115h18v2h-18zM231 115h18v2h-18zM265 115h6v2h-6zM125 117h24v2h-24zM231 117h4v2h-4zM237 117h10v2h-10zM263 117h2v2h-2zM131 119h10v2h-10zM231 119h2v2h-2zM235 119h16v2h-16zM129 121h8v2h-8zM231 121h18v2h-18zM257 121h4v2h-4zM265 121h6v2h-6zM129 123h6v2h-6zM231 123h18v2h-18zM251 123h2v2h-2zM257 123h6v2h-6zM265 123h8v2h-8zM127 125h4v2h-4zM133 125h2v2h-2zM229 125h2v2h-2zM233 125h2v2h-2zM237 125h16v2h-16zM257 125h16v2h-16zM129 127h4v2h-4zM239 127h2v2h-2zM245 127h24v2h-24zM271 127h4v2h-4zM127 129h6v2h-6zM245 129h24v2h-24zM75 131h2v2h-2zM79 131h2v2h-2zM125 131h6v2h-6zM247 131h12v2h-12zM261 131h8v2h-8zM75 133h8v2h-8zM85 133h2v2h-2zM125 133h4v2h-4zM249 133h8v2h-8zM263 133h6v2h-6zM79 135h2v2h-2zM121 135h8v2h-8zM261 135h12v2h-12zM119 137h4v2h-4zM263 137h14v2h-14zM119 139h2v2h-2zM265 139h14v2h-14zM59 141h6v2h-6zM89 141h6v2h-6zM113 141h6v2h-6zM265 141h18v2h-18zM43 143h2v2h-2zM57 143h2v2h-2zM61 143h4v2h-4zM85 143h2v2h-2zM97 143h6v2h-6zM105 143h14v2h-14zM267 143h2v2h-2zM275 143h6v2h-6zM283 143h2v2h-2zM45 145h22v2h-22zM69 145h2v2h-2zM73 145h4v2h-4zM83 145h2v2h-2zM87 145h2v2h-2zM95 145h12v2h-12zM115 145h4v2h-4zM277 145h12v2h-12zM43 147h12v2h-12zM57 147h6v2h-6zM65 147h10v2h-10zM81 147h2v2h-2zM85 147h14v2h-14zM277 147h10v2h-10zM43 149h4v2h-4zM73 149h26v2h-26zM279 149h8v2h-8zM79 151h6v2h-6zM89 151h4v2h-4zM285 151h4v2h-4zM91 153h2v2h-2zM287 153h2v2h-2z"/>
<path fill="#23a7f4" shape-rendering="crispEdges" d="M45 71h2v2h-2zM91 71h2v2h-2zM167 71h2v2h-2zM173 71h2v2h-2zM183 71h4v2h-4zM43 73h6v2h-6zM91 73h2v2h-2zM167 73h4v2h-4zM175 73h2v2h-2zM181 73h2v2h-2zM185 73h4v2h-4zM43 75h2v2h-2zM175 75h4v2h-4zM181 75h2v2h-2zM187 75h2v2h-2zM193 75h2v2h-2zM197 75h2v2h-2zM169 77h6v2h-6zM177 77h2v2h-2zM181 77h2v2h-2zM185 77h4v2h-4zM171 79h2v2h-2zM177 79h2v2h-2zM181 79h2v2h-2zM185 79h4v2h-4zM191 79h2v2h-2zM199 79h2v2h-2zM137 81h4v2h-4zM185 81h8v2h-8zM219 81h2v2h-2zM137 83h6v2h-6zM189 83h2v2h-2zM201 83h2v2h-2zM215 83h2v2h-2zM141 85h2v2h-2zM171 85h2v2h-2zM187 85h2v2h-2zM201 85h4v2h-4zM207 85h2v2h-2zM215 85h2v2h-2zM221 85h2v2h-2zM137 87h4v2h-4zM143 87h2v2h-2zM171 87h2v2h-2zM183 87h8v2h-8zM199 87h10v2h-10zM215 87h2v2h-2zM223 87h2v2h-2zM139 89h4v2h-4zM163 89h2v2h-2zM183 89h6v2h-6zM191 89h2v2h-2zM197 89h2v2h-2zM201 89h10v2h-10zM215 89h2v2h-2zM77 91h2v2h-2zM141 91h2v2h-2zM181 91h34v2h-34zM217 91h2v2h-2zM221 91h2v2h-2zM67 93h2v2h-2zM73 93h6v2h-6zM147 93h8v2h-8zM157 93h4v2h-4zM181 93h4v2h-4zM187 93h6v2h-6zM199 93h6v2h-6zM207 93h2v2h-2zM215 93h8v2h-8zM235 93h6v2h-6zM75 95h2v2h-2zM79 95h2v2h-2zM147 95h2v2h-2zM151 95h10v2h-10zM179 95h4v2h-4zM185 95h4v2h-4zM191 95h4v2h-4zM197 95h26v2h-26zM235 95h6v2h-6zM251 95h2v2h-2zM259 95h2v2h-2zM69 97h2v2h-2zM73 97h4v2h-4zM135 97h2v2h-2zM145 97h12v2h-12zM177 97h2v2h-2zM181 97h4v2h-4zM187 97h2v2h-2zM191 97h12v2h-12zM205 97h12v2h-12zM219 97h4v2h-4zM237 97h4v2h-4zM247 97h2v2h-2zM259 97h2v2h-2zM67 99h2v2h-2zM71 99h2v2h-2zM75 99h4v2h-4zM121 99h16v2h-16zM143 99h4v2h-4zM151 99h8v2h-8zM161 99h2v2h-2zM175 99h14v2h-14zM191 99h14v2h-14zM211 99h4v2h-4zM223 99h10v2h-10zM239 99h14v2h-14zM69 101h6v2h-6zM77 101h4v2h-4zM121 101h2v2h-2zM125 101h2v2h-2zM129 101h4v2h-4zM135 101h10v2h-10zM149 101h2v2h-2zM153 101h2v2h-2zM159 101h6v2h-6zM169 101h2v2h-2zM173 101h16v2h-16zM195 101h6v2h-6zM213 101h4v2h-4zM223 101h2v2h-2zM229 101h6v2h-6zM243 101h2v2h-2zM249 101h6v2h-6zM259 101h2v2h-2zM67 103h4v2h-4zM77 103h4v2h-4zM121 103h8v2h-8zM131 103h2v2h-2zM139 103h6v2h-6zM151 103h20v2h-20zM173 103h8v2h-8zM183 103h4v2h-4zM189 103h2v2h-2zM215 103h4v2h-4zM221 103h16v2h-16zM239 103h4v2h-4zM245 103h6v2h-6zM121 105h6v2h-6zM129 105h4v2h-4zM143 105h4v2h-4zM151 105h28v2h-28zM181 105h4v2h-4zM217 105h14v2h-14zM233 105h10v2h-10zM247 105h4v2h-4zM119 107h16v2h-16zM153 107h8v2h-8zM169 107h10v2h-10zM217 107h4v2h-4zM227 107h4v2h-4zM233 107h12v2h-12zM247 107h8v2h-8zM121 109h2v2h-2zM131 109h6v2h-6zM155 109h2v2h-2zM171 109h2v2h-2zM179 109h2v2h-2zM237 109h4v2h-4zM243 109h12v2h-12zM267 109h2v2h-2zM123 111h4v2h-4zM129 111h8v2h-8zM233 111h14v2h-14zM251 111h10v2h-10zM269 111h2v2h-2zM119 113h2v2h-2zM123 113h10v2h-10zM239 113h4v2h-4zM249 113h12v2h-12zM263 113h4v2h-4zM269 113h4v2h-4zM123 115h6v2h-6zM249 115h16v2h-16zM271 115h2v2h-2zM121 117h4v2h-4zM247 117h12v2h-12zM261 117h2v2h-2zM265 117h8v2h-8zM57 119h6v2h-6zM121 119h2v2h-2zM125 119h6v2h-6zM251 119h24v2h-24zM57 121h2v2h-2zM123 121h6v2h-6zM249 121h8v2h-8zM261 121h4v2h-4zM273 121h2v2h-2zM123 123h6v2h-6zM249 123h2v2h-2zM253 123h4v2h-4zM263 123h2v2h-2zM273 123h4v2h-4zM83 125h2v2h-2zM125 125h2v2h-2zM253 125h4v2h-4zM273 125h10v2h-10zM287 125h2v2h-2zM121 127h8v2h-8zM269 127h2v2h-2zM275 127h6v2h-6zM75 129h6v2h-6zM83 129h2v2h-2zM119 129h8v2h-8zM269 129h8v2h-8zM73 131h2v2h-2zM77 131h2v2h-2zM81 131h6v2h-6zM119 131h6v2h-6zM269 131h6v2h-6zM73 133h2v2h-2zM87 133h2v2h-2zM117 133h8v2h-8zM269 133h6v2h-6zM73 135h6v2h-6zM81 135h6v2h-6zM117 135h4v2h-4zM273 135h10v2h-10zM77 137h12v2h-12zM113 137h6v2h-6zM277 137h4v2h-4zM43 139h2v2h-2zM47 139h2v2h-2zM57 139h4v2h-4zM63 139h2v2h-2zM69 139h2v2h-2zM79 139h22v2h-22zM111 139h8v2h-8zM279 139h10v2h-10zM43 141h4v2h-4zM51 141h2v2h-2zM57 141h2v2h-2zM65 141h2v2h-2zM71 141h2v2h-2zM79 141h10v2h-10zM95 141h18v2h-18zM283 141h4v2h-4zM45 143h12v2h-12zM59 143h2v2h-2zM65 143h20v2h-20zM87 143h10v2h-10zM103 143h2v2h-2zM281 143h2v2h-2zM285 143h4v2h-4zM43 145h2v2h-2zM67 145h2v2h-2zM71 145h2v2h-2zM77 145h6v2h-6zM85 145h2v2h-2zM89 145h6v2h-6zM75 147h6v2h-6zM83 147h2v2h-2zM287 147h2v2h-2zM287 149h2v2h-2z"/>
<path fill="#ff6d09" shape-rendering="crispEdges" d="M283 97h2v2h-2z"/>
<path fill="#1a73f3" shape-rendering="crispEdges" d="M139 105h2v2h-2zM207 105h2v2h-2zM211 105h2v2h-2zM187 107h2v2h-2zM191 107h10v2h-10zM205 107h2v2h-2zM209 107h4v2h-4zM139 109h4v2h-4zM185 109h12v2h-12zM199 109h16v2h-16zM139 111h4v2h-4zM177 111h20v2h-20zM203 111h8v2h-8zM213 111h4v2h-4zM147 113h2v2h-2zM151 113h2v2h-2zM159 113h8v2h-8zM169 113h24v2h-24zM213 113h8v2h-8zM147 115h16v2h-16zM171 115h2v2h-2zM183 115h8v2h-8zM217 115h14v2h-14zM149 117h12v2h-12zM163 117h2v2h-2zM187 117h4v2h-4zM219 117h12v2h-12zM235 117h2v2h-2zM141 119h16v2h-16zM185 119h2v2h-2zM189 119h2v2h-2zM225 119h6v2h-6zM233 119h2v2h-2zM137 121h8v2h-8zM149 121h4v2h-4zM183 121h6v2h-6zM225 121h6v2h-6zM135 123h8v2h-8zM221 123h2v2h-2zM225 123h6v2h-6zM131 125h2v2h-2zM135 125h6v2h-6zM225 125h4v2h-4zM231 125h2v2h-2zM235 125h2v2h-2zM133 127h6v2h-6zM223 127h16v2h-16zM241 127h4v2h-4zM133 129h6v2h-6zM219 129h2v2h-2zM229 129h16v2h-16zM131 131h6v2h-6zM219 131h2v2h-2zM235 131h12v2h-12zM259 131h2v2h-2zM83 133h2v2h-2zM129 133h6v2h-6zM223 133h2v2h-2zM235 133h14v2h-14zM257 133h6v2h-6zM129 135h6v2h-6zM237 135h6v2h-6zM245 135h16v2h-16zM123 137h12v2h-12zM249 137h14v2h-14zM121 139h10v2h-10zM261 139h4v2h-4zM119 141h10v2h-10zM261 141h4v2h-4zM119 143h6v2h-6zM127 143h2v2h-2zM263 143h4v2h-4zM269 143h6v2h-6zM107 145h8v2h-8zM119 145h6v2h-6zM263 145h14v2h-14zM55 147h2v2h-2zM63 147h2v2h-2zM99 147h24v2h-24zM263 147h14v2h-14zM47 149h26v2h-26zM99 149h4v2h-4zM115 149h6v2h-6zM263 149h16v2h-16zM43 151h20v2h-20zM65 151h14v2h-14zM85 151h4v2h-4zM93 151h8v2h-8zM265 151h20v2h-20zM43 153h8v2h-8zM61 153h2v2h-2zM65 153h12v2h-12zM79 153h12v2h-12zM93 153h8v2h-8zM271 153h16v2h-16zM83 155h16v2h-16zM281 155h8v2h-8zM83 157h8v2h-8zM93 157h4v2h-4zM287 157h2v2h-2zM287 159h2v2h-2z"/>
<path fill="#1454f2" shape-rendering="crispEdges" d="M197 109h2v2h-2zM197 111h6v2h-6zM211 111h2v2h-2zM167 113h2v2h-2zM193 113h20v2h-20zM163 115h8v2h-8zM173 115h10v2h-10zM191 115h10v2h-10zM203 115h14v2h-14zM161 117h2v2h-2zM165 117h22v2h-22zM191 117h6v2h-6zM203 117h4v2h-4zM209 117h10v2h-10zM157 119h28v2h-28zM187 119h2v2h-2zM191 119h6v2h-6zM201 119h2v2h-2zM207 119h2v2h-2zM211 119h14v2h-14zM145 121h4v2h-4zM153 121h30v2h-30zM189 121h8v2h-8zM209 121h16v2h-16zM143 123h30v2h-30zM175 123h24v2h-24zM211 123h10v2h-10zM223 123h2v2h-2zM141 125h26v2h-26zM169 125h6v2h-6zM177 125h22v2h-22zM207 125h4v2h-4zM213 125h12v2h-12zM139 127h24v2h-24zM171 127h2v2h-2zM179 127h22v2h-22zM207 127h16v2h-16zM139 129h18v2h-18zM183 129h14v2h-14zM207 129h12v2h-12zM221 129h8v2h-8zM137 131h14v2h-14zM153 131h2v2h-2zM183 131h10v2h-10zM207 131h12v2h-12zM221 131h14v2h-14zM135 133h4v2h-4zM141 133h10v2h-10zM185 133h2v2h-2zM189 133h2v2h-2zM203 133h20v2h-20zM225 133h10v2h-10zM135 135h4v2h-4zM143 135h8v2h-8zM209 135h28v2h-28zM243 135h2v2h-2zM135 137h4v2h-4zM143 137h2v2h-2zM187 137h4v2h-4zM203 137h2v2h-2zM215 137h34v2h-34zM131 139h8v2h-8zM145 139h2v2h-2zM199 139h2v2h-2zM205 139h2v2h-2zM215 139h28v2h-28zM245 139h16v2h-16zM129 141h10v2h-10zM147 141h2v2h-2zM199 141h2v2h-2zM215 141h26v2h-26zM245 141h16v2h-16zM125 143h2v2h-2zM129 143h4v2h-4zM217 143h12v2h-12zM235 143h6v2h-6zM247 143h16v2h-16zM125 145h8v2h-8zM227 145h2v2h-2zM247 145h2v2h-2zM251 145h12v2h-12zM123 147h12v2h-12zM219 147h2v2h-2zM255 147h8v2h-8zM103 149h12v2h-12zM121 149h14v2h-14zM221 149h2v2h-2zM257 149h6v2h-6zM63 151h2v2h-2zM101 151h6v2h-6zM109 151h20v2h-20zM131 151h2v2h-2zM257 151h8v2h-8zM51 153h10v2h-10zM63 153h2v2h-2zM77 153h2v2h-2zM101 153h6v2h-6zM111 153h16v2h-16zM129 153h2v2h-2zM257 153h14v2h-14zM43 155h40v2h-40zM99 155h6v2h-6zM119 155h4v2h-4zM263 155h18v2h-18zM43 157h32v2h-32zM79 157h4v2h-4zM91 157h2v2h-2zM97 157h8v2h-8zM267 157h20v2h-20zM47 159h10v2h-10zM59 159h2v2h-2zM63 159h2v2h-2zM67 159h4v2h-4zM73 159h30v2h-30zM273 159h14v2h-14zM47 161h14v2h-14zM67 161h2v2h-2zM75 161h2v2h-2zM79 161h22v2h-22zM277 161h12v2h-12zM49 163h4v2h-4zM55 163h2v2h-2zM81 163h16v2h-16zM277 163h2v2h-2zM281 163h2v2h-2zM285 163h4v2h-4zM79 165h2v2h-2zM85 165h12v2h-12zM287 165h2v2h-2zM89 167h2v2h-2zM287 167h2v2h-2z"/>
<path fill="#0f46f1" shape-rendering="crispEdges" d="M201 115h2v2h-2zM197 117h6v2h-6zM207 117h2v2h-2zM197 119h4v2h-4zM203 119h4v2h-4zM209 119h2v2h-2zM197 121h12v2h-12zM173 123h2v2h-2zM199 123h12v2h-12zM167 125h2v2h-2zM175 125h2v2h-2zM199 125h8v2h-8zM211 125h2v2h-2zM163 127h8v2h-8zM173 127h6v2h-6zM201 127h6v2h-6zM157 129h26v2h-26zM197 129h10v2h-10zM151 131h2v2h-2zM155 131h28v2h-28zM193 131h14v2h-14zM139 133h2v2h-2zM151 133h26v2h-26zM179 133h6v2h-6zM187 133h2v2h-2zM191 133h12v2h-12zM139 135h4v2h-4zM151 135h16v2h-16zM169 135h8v2h-8zM179 135h30v2h-30zM139 137h4v2h-4zM145 137h20v2h-20zM175 137h12v2h-12zM191 137h12v2h-12zM205 137h10v2h-10zM139 139h6v2h-6zM147 139h18v2h-18zM173 139h26v2h-26zM201 139h4v2h-4zM207 139h8v2h-8zM243 139h2v2h-2zM139 141h8v2h-8zM149 141h14v2h-14zM175 141h24v2h-24zM201 141h14v2h-14zM241 141h4v2h-4zM133 143h32v2h-32zM179 143h6v2h-6zM193 143h24v2h-24zM229 143h6v2h-6zM241 143h6v2h-6zM133 145h32v2h-32zM195 145h32v2h-32zM229 145h18v2h-18zM249 145h2v2h-2zM135 147h30v2h-30zM195 147h2v2h-2zM205 147h14v2h-14zM221 147h34v2h-34zM135 149h14v2h-14zM151 149h12v2h-12zM195 149h2v2h-2zM205 149h2v2h-2zM209 149h12v2h-12zM223 149h34v2h-34zM107 151h2v2h-2zM129 151h2v2h-2zM133 151h6v2h-6zM141 151h6v2h-6zM153 151h10v2h-10zM207 151h28v2h-28zM237 151h20v2h-20zM107 153h4v2h-4zM127 153h2v2h-2zM131 153h4v2h-4zM141 153h4v2h-4zM155 153h2v2h-2zM161 153h2v2h-2zM209 153h48v2h-48zM105 155h14v2h-14zM123 155h12v2h-12zM155 155h2v2h-2zM207 155h6v2h-6zM219 155h14v2h-14zM235 155h28v2h-28zM75 157h4v2h-4zM105 157h20v2h-20zM131 157h2v2h-2zM207 157h2v2h-2zM211 157h2v2h-2zM223 157h12v2h-12zM237 157h12v2h-12zM253 157h14v2h-14zM43 159h4v2h-4zM57 159h2v2h-2zM61 159h2v2h-2zM65 159h2v2h-2zM71 159h2v2h-2zM103 159h24v2h-24zM131 159h2v2h-2zM225 159h2v2h-2zM229 159h4v2h-4zM237 159h12v2h-12zM253 159h20v2h-20zM43 161h4v2h-4zM61 161h6v2h-6zM69 161h6v2h-6zM77 161h2v2h-2zM101 161h14v2h-14zM117 161h6v2h-6zM131 161h2v2h-2zM229 161h2v2h-2zM233 161h2v2h-2zM239 161h10v2h-10zM251 161h26v2h-26zM43 163h6v2h-6zM53 163h2v2h-2zM57 163h24v2h-24zM97 163h22v2h-22zM131 163h4v2h-4zM237 163h12v2h-12zM251 163h8v2h-8zM261 163h2v2h-2zM267 163h10v2h-10zM279 163h2v2h-2zM283 163h2v2h-2zM43 165h32v2h-32zM77 165h2v2h-2zM81 165h4v2h-4zM97 165h20v2h-20zM175 165h2v2h-2zM239 165h12v2h-12zM261 165h4v2h-4zM267 165h20v2h-20zM43 167h4v2h-4zM49 167h16v2h-16zM77 167h12v2h-12zM91 167h26v2h-26zM179 167h2v2h-2zM239 167h14v2h-14zM255 167h2v2h-2zM263 167h2v2h-2zM269 167h18v2h-18zM51 169h4v2h-4zM61 169h6v2h-6zM79 169h2v2h-2zM83 169h16v2h-16zM103 169h8v2h-8zM179 169h2v2h-2zM245 169h2v2h-2zM249 169h2v2h-2zM255 169h4v2h-4zM265 169h2v2h-2zM269 169h20v2h-20zM57 171h10v2h-10zM87 171h8v2h-8zM97 171h2v2h-2zM101 171h2v2h-2zM109 171h2v2h-2zM243 171h6v2h-6zM257 171h4v2h-4zM263 171h2v2h-2zM267 171h22v2h-22zM57 173h10v2h-10zM91 173h2v2h-2zM95 173h6v2h-6zM239 173h2v2h-2zM243 173h4v2h-4zM257 173h4v2h-4zM263 173h26v2h-26zM57 175h2v2h-2zM61 175h4v2h-4zM245 175h2v2h-2zM257 175h2v2h-2zM263 175h2v2h-2zM277 175h12v2h-12zM59 177h2v2h-2zM243 177h2v2h-2zM259 177h4v2h-4zM277 177h12v2h-12zM99 179h4v2h-4zM105 179h2v2h-2zM253 179h2v2h-2zM259 179h2v2h-2zM277 179h12v2h-12zM99 181h2v2h-2zM107 181h2v2h-2zM253 181h8v2h-8zM275 181h2v2h-2zM279 181h2v2h-2zM283 181h2v2h-2zM287 181h2v2h-2zM257 183h2v2h-2zM277 183h2v2h-2zM285 183h2v2h-2z"/>
<path fill="#0a38f0" shape-rendering="crispEdges" d="M177 133h2v2h-2zM167 135h2v2h-2zM177 135h2v2h-2zM165 137h10v2h-10zM165 139h8v2h-8zM163 141h12v2h-12zM165 143h14v2h-14zM185 143h8v2h-8zM165 145h30v2h-30zM165 147h16v2h-16zM185 147h2v2h-2zM191 147h4v2h-4zM197 147h8v2h-8zM149 149h2v2h-2zM163 149h14v2h-14zM191 149h4v2h-4zM197 149h8v2h-8zM207 149h2v2h-2zM139 151h2v2h-2zM147 151h6v2h-6zM163 151h14v2h-14zM191 151h16v2h-16zM235 151h2v2h-2zM135 153h6v2h-6zM145 153h10v2h-10zM157 153h4v2h-4zM163 153h12v2h-12zM183 153h2v2h-2zM189 153h20v2h-20zM135 155h20v2h-20zM157 155h24v2h-24zM183 155h24v2h-24zM213 155h6v2h-6zM233 155h2v2h-2zM125 157h6v2h-6zM133 157h74v2h-74zM209 157h2v2h-2zM213 157h10v2h-10zM235 157h2v2h-2zM249 157h4v2h-4zM127 159h4v2h-4zM133 159h92v2h-92zM227 159h2v2h-2zM233 159h4v2h-4zM249 159h4v2h-4zM115 161h2v2h-2zM123 161h8v2h-8zM133 161h18v2h-18zM153 161h76v2h-76zM231 161h2v2h-2zM235 161h4v2h-4zM249 161h2v2h-2zM119 163h12v2h-12zM135 163h82v2h-82zM219 163h18v2h-18zM249 163h2v2h-2zM259 163h2v2h-2zM263 163h4v2h-4zM75 165h2v2h-2zM117 165h58v2h-58zM177 165h40v2h-40zM225 165h14v2h-14zM251 165h10v2h-10zM265 165h2v2h-2zM47 167h2v2h-2zM65 167h12v2h-12zM117 167h28v2h-28zM149 167h30v2h-30zM181 167h36v2h-36zM225 167h14v2h-14zM253 167h2v2h-2zM257 167h6v2h-6zM265 167h4v2h-4zM43 169h8v2h-8zM55 169h6v2h-6zM67 169h12v2h-12zM81 169h2v2h-2zM99 169h4v2h-4zM111 169h28v2h-28zM141 169h4v2h-4zM163 169h4v2h-4zM169 169h10v2h-10zM181 169h34v2h-34zM225 169h20v2h-20zM247 169h2v2h-2zM251 169h4v2h-4zM259 169h6v2h-6zM267 169h2v2h-2zM43 171h14v2h-14zM67 171h20v2h-20zM95 171h2v2h-2zM99 171h2v2h-2zM103 171h6v2h-6zM111 171h10v2h-10zM127 171h2v2h-2zM131 171h4v2h-4zM139 171h2v2h-2zM143 171h2v2h-2zM173 171h44v2h-44zM219 171h24v2h-24zM249 171h8v2h-8zM261 171h2v2h-2zM265 171h2v2h-2zM43 173h14v2h-14zM67 173h24v2h-24zM93 173h2v2h-2zM101 173h20v2h-20zM139 173h2v2h-2zM175 173h20v2h-20zM197 173h10v2h-10zM217 173h6v2h-6zM225 173h14v2h-14zM241 173h2v2h-2zM247 173h10v2h-10zM261 173h2v2h-2zM43 175h4v2h-4zM49 175h8v2h-8zM59 175h2v2h-2zM65 175h52v2h-52zM177 175h20v2h-20zM199 175h12v2h-12zM213 175h2v2h-2zM219 175h26v2h-26zM247 175h10v2h-10zM259 175h4v2h-4zM265 175h12v2h-12zM43 177h16v2h-16zM61 177h12v2h-12zM81 177h32v2h-32zM177 177h16v2h-16zM195 177h2v2h-2zM201 177h10v2h-10zM215 177h20v2h-20zM239 177h4v2h-4zM245 177h14v2h-14zM263 177h14v2h-14zM49 179h2v2h-2zM53 179h20v2h-20zM85 179h14v2h-14zM103 179h2v2h-2zM107 179h6v2h-6zM177 179h12v2h-12zM191 179h6v2h-6zM199 179h32v2h-32zM239 179h14v2h-14zM255 179h4v2h-4zM261 179h16v2h-16zM55 181h16v2h-16zM87 181h12v2h-12zM101 181h6v2h-6zM109 181h4v2h-4zM177 181h8v2h-8zM189 181h10v2h-10zM201 181h24v2h-24zM239 181h14v2h-14zM261 181h6v2h-6zM269 181h6v2h-6zM277 181h2v2h-2zM281 181h2v2h-2zM285 181h2v2h-2zM55 183h8v2h-8zM65 183h2v2h-2zM69 183h2v2h-2zM89 183h22v2h-22zM179 183h2v2h-2zM193 183h2v2h-2zM205 183h2v2h-2zM211 183h2v2h-2zM215 183h2v2h-2zM219 183h4v2h-4zM239 183h18v2h-18zM259 183h8v2h-8zM271 183h6v2h-6zM279 183h6v2h-6zM287 183h2v2h-2zM55 185h8v2h-8zM87 185h24v2h-24zM217 185h6v2h-6zM225 185h4v2h-4zM241 185h26v2h-26zM271 185h18v2h-18zM57 187h4v2h-4zM95 187h2v2h-2zM107 187h2v2h-2zM171 187h6v2h-6zM235 187h2v2h-2zM239 187h4v2h-4zM249 187h16v2h-16zM271 187h18v2h-18zM59 189h2v2h-2zM167 189h2v2h-2zM173 189h4v2h-4zM231 189h10v2h-10zM249 189h14v2h-14zM273 189h16v2h-16zM59 191h2v2h-2zM167 191h2v2h-2zM233 191h6v2h-6zM241 191h8v2h-8zM253 191h12v2h-12zM273 191h16v2h-16z"/>
<path fill="#092dec" shape-rendering="crispEdges" d="M181 147h4v2h-4zM187 147h4v2h-4zM177 149h14v2h-14zM177 151h14v2h-14zM175 153h8v2h-8zM185 153h4v2h-4zM181 155h2v2h-2zM151 161h2v2h-2zM217 163h2v2h-2zM217 165h8v2h-8zM145 167h4v2h-4zM217 167h8v2h-8zM139 169h2v2h-2zM145 169h18v2h-18zM167 169h2v2h-2zM215 169h10v2h-10zM121 171h6v2h-6zM129 171h2v2h-2zM135 171h4v2h-4zM141 171h2v2h-2zM145 171h28v2h-28zM217 171h2v2h-2zM121 173h18v2h-18zM141 173h34v2h-34zM195 173h2v2h-2zM207 173h10v2h-10zM223 173h2v2h-2zM47 175h2v2h-2zM117 175h60v2h-60zM197 175h2v2h-2zM211 175h2v2h-2zM215 175h4v2h-4zM73 177h8v2h-8zM113 177h64v2h-64zM193 177h2v2h-2zM197 177h4v2h-4zM211 177h4v2h-4zM235 177h4v2h-4zM43 179h6v2h-6zM51 179h2v2h-2zM73 179h12v2h-12zM113 179h18v2h-18zM133 179h14v2h-14zM149 179h28v2h-28zM189 179h2v2h-2zM197 179h2v2h-2zM231 179h8v2h-8zM43 181h12v2h-12zM71 181h16v2h-16zM113 181h14v2h-14zM129 181h2v2h-2zM133 181h12v2h-12zM149 181h28v2h-28zM185 181h4v2h-4zM199 181h2v2h-2zM225 181h14v2h-14zM267 181h2v2h-2zM43 183h12v2h-12zM63 183h2v2h-2zM67 183h2v2h-2zM71 183h18v2h-18zM111 183h16v2h-16zM135 183h10v2h-10zM149 183h30v2h-30zM181 183h12v2h-12zM195 183h10v2h-10zM207 183h4v2h-4zM213 183h2v2h-2zM217 183h2v2h-2zM223 183h16v2h-16zM267 183h4v2h-4zM43 185h12v2h-12zM63 185h24v2h-24zM111 185h20v2h-20zM133 185h22v2h-22zM157 185h60v2h-60zM223 185h2v2h-2zM229 185h12v2h-12zM267 185h4v2h-4zM43 187h14v2h-14zM61 187h34v2h-34zM97 187h10v2h-10zM109 187h20v2h-20zM131 187h22v2h-22zM155 187h16v2h-16zM177 187h58v2h-58zM237 187h2v2h-2zM243 187h6v2h-6zM265 187h6v2h-6zM43 189h16v2h-16zM61 189h6v2h-6zM69 189h6v2h-6zM77 189h76v2h-76zM157 189h10v2h-10zM169 189h4v2h-4zM177 189h28v2h-28zM207 189h24v2h-24zM241 189h8v2h-8zM263 189h10v2h-10zM43 191h16v2h-16zM61 191h12v2h-12zM77 191h76v2h-76zM159 191h8v2h-8zM169 191h64v2h-64zM239 191h2v2h-2zM249 191h4v2h-4zM265 191h8v2h-8z"/>
<path fill="#0823e7" shape-rendering="crispEdges" d="M131 179h2v2h-2zM147 179h2v2h-2zM127 181h2v2h-2zM131 181h2v2h-2zM145 181h4v2h-4zM127 183h8v2h-8zM145 183h4v2h-4zM131 185h2v2h-2zM155 185h2v2h-2zM129 187h2v2h-2zM153 187h2v2h-2zM67 189h2v2h-2zM75 189h2v2h-2zM153 189h4v2h-4zM205 189h2v2h-2zM73 191h4v2h-4zM153 191h6v2h-6z"/>
<path fill="#dc40f4" shape-rendering="crispEdges" d="M236 54h2v1h-2zM235 55h1v1h-1zM237 55h3v1h-3zM207 56h3v1h-3zM234 56h2v1h-2zM239 56h3v1h-3zM206 57h1v1h-1zM209 57h1v1h-1zM235 57h1v1h-1zM241 57h1v1h-1zM206 58h1v1h-1zM209 58h1v1h-1zM219 58h3v1h-3zM235 58h2v1h-2zM240 58h1v1h-1zM171 59h3v1h-3zM206 59h4v1h-4zM218 59h4v1h-4zM236 59h1v1h-1zM240 59h2v1h-2zM165 60h3v1h-3zM170 60h1v1h-1zM173 60h2v1h-2zM208 60h2v1h-2zM212 60h2v1h-2zM236 60h1v1h-1zM239 60h1v1h-1zM241 60h1v1h-1zM164 61h6v1h-6zM174 61h1v1h-1zM189 61h4v1h-4zM210 61h4v1h-4zM227 61h1v1h-1zM235 61h5v1h-5zM241 61h1v1h-1zM166 62h3v1h-3zM174 62h2v1h-2zM188 62h1v1h-1zM192 62h4v1h-4zM209 62h2v1h-2zM226 62h2v1h-2zM239 62h3v1h-3zM243 62h1v1h-1zM168 63h1v1h-1zM175 63h2v1h-2zM183 63h6v1h-6zM195 63h2v1h-2zM241 63h3v1h-3zM89 64h1v1h-1zM163 64h2v1h-2zM168 64h1v1h-1zM176 64h2v1h-2zM182 64h1v1h-1zM196 64h1v1h-1zM240 64h1v1h-1zM243 64h1v1h-1zM250 64h2v1h-2zM43 65h2v1h-2zM88 65h7v1h-7zM162 65h1v1h-1zM164 65h2v1h-2zM168 65h1v1h-1zM177 65h2v1h-2zM181 65h1v1h-1zM196 65h1v1h-1zM239 65h5v1h-5zM249 65h3v1h-3zM44 66h2v1h-2zM87 66h1v1h-1zM94 66h2v1h-2zM161 66h1v1h-1zM165 66h3v1h-3zM178 66h3v1h-3zM196 66h1v1h-1zM242 66h2v1h-2zM45 67h3v1h-3zM50 67h2v1h-2zM87 67h1v1h-1zM95 67h1v1h-1zM160 67h1v1h-1zM196 67h1v1h-1zM47 68h3v1h-3zM51 68h2v1h-2zM84 68h4v1h-4zM95 68h1v1h-1zM160 68h1v1h-1zM175 68h1v1h-1zM196 68h2v1h-2zM52 69h4v1h-4zM83 69h1v1h-1zM94 69h2v1h-2zM159 69h1v1h-1zM174 69h2v1h-2zM197 69h1v1h-1zM228 69h1v1h-1zM55 70h2v1h-2zM83 70h1v1h-1zM95 70h2v1h-2zM119 70h1v1h-1zM158 70h1v1h-1zM197 70h2v1h-2zM227 70h2v1h-2zM56 71h2v1h-2zM83 71h1v1h-1zM96 71h2v1h-2zM118 71h2v1h-2zM158 71h1v1h-1zM198 71h2v1h-2zM226 71h3v1h-3zM57 72h2v1h-2zM83 72h3v1h-3zM97 72h1v1h-1zM121 72h1v1h-1zM158 72h3v1h-3zM199 72h3v1h-3zM211 72h1v1h-1zM215 72h1v1h-1zM229 72h1v1h-1zM58 73h1v1h-1zM82 73h2v1h-2zM85 73h1v1h-1zM95 73h3v1h-3zM120 73h2v1h-2zM160 73h1v1h-1zM201 73h1v1h-1zM210 73h3v1h-3zM214 73h3v1h-3zM219 73h2v1h-2zM228 73h2v1h-2zM58 74h1v1h-1zM60 74h4v1h-4zM84 74h1v1h-1zM86 74h3v1h-3zM94 74h1v1h-1zM128 74h2v1h-2zM135 74h2v1h-2zM141 74h3v1h-3zM153 74h4v1h-4zM160 74h1v1h-1zM201 74h2v1h-2zM207 74h3v1h-3zM212 74h2v1h-2zM216 74h1v1h-1zM218 74h1v1h-1zM220 74h2v1h-2zM225 74h4v1h-4zM58 75h2v1h-2zM63 75h1v1h-1zM84 75h2v1h-2zM88 75h6v1h-6zM127 75h1v1h-1zM129 75h2v1h-2zM134 75h1v1h-1zM136 75h5v1h-5zM143 75h2v1h-2zM152 75h2v1h-2zM156 75h4v1h-4zM165 75h2v1h-2zM202 75h5v1h-5zM216 75h2v1h-2zM221 75h1v1h-1zM224 75h1v1h-1zM228 75h2v1h-2zM52 76h2v1h-2zM62 76h1v1h-1zM126 76h1v1h-1zM130 76h4v1h-4zM144 76h1v1h-1zM153 76h1v1h-1zM160 76h3v1h-3zM164 76h1v1h-1zM166 76h2v1h-2zM221 76h1v1h-1zM224 76h1v1h-1zM229 76h2v1h-2zM51 77h3v1h-3zM62 77h1v1h-1zM125 77h3v1h-3zM144 77h2v1h-2zM153 77h1v1h-1zM159 77h4v1h-4zM164 77h4v1h-4zM220 77h2v1h-2zM224 77h1v1h-1zM230 77h1v1h-1zM50 78h3v1h-3zM55 78h1v1h-1zM62 78h2v1h-2zM69 78h1v1h-1zM127 78h5v1h-5zM145 78h1v1h-1zM153 78h2v1h-2zM221 78h2v1h-2zM224 78h1v1h-1zM230 78h1v1h-1zM232 78h2v1h-2zM49 79h1v1h-1zM52 79h5v1h-5zM63 79h9v1h-9zM131 79h1v1h-1zM145 79h1v1h-1zM154 79h1v1h-1zM222 79h2v1h-2zM230 79h2v1h-2zM233 79h1v1h-1zM49 80h1v1h-1zM56 80h1v1h-1zM71 80h3v1h-3zM131 80h1v1h-1zM145 80h1v1h-1zM154 80h1v1h-1zM233 80h2v1h-2zM49 81h1v1h-1zM56 81h1v1h-1zM73 81h1v1h-1zM131 81h2v1h-2zM145 81h2v1h-2zM149 81h3v1h-3zM153 81h1v1h-1zM234 81h3v1h-3zM48 82h1v1h-1zM55 82h1v1h-1zM59 82h3v1h-3zM73 82h2v1h-2zM76 82h2v1h-2zM132 82h2v1h-2zM146 82h3v1h-3zM151 82h1v1h-1zM153 82h1v1h-1zM157 82h1v1h-1zM231 82h3v1h-3zM236 82h2v1h-2zM48 83h1v1h-1zM54 83h3v1h-3zM58 83h1v1h-1zM61 83h1v1h-1zM74 83h2v1h-2zM77 83h1v1h-1zM133 83h1v1h-1zM151 83h1v1h-1zM153 83h1v1h-1zM156 83h2v1h-2zM230 83h1v1h-1zM233 83h1v1h-1zM237 83h1v1h-1zM47 84h1v1h-1zM56 84h2v1h-2zM61 84h1v1h-1zM66 84h2v1h-2zM76 84h1v1h-1zM133 84h1v1h-1zM150 84h1v1h-1zM152 84h1v1h-1zM229 84h1v1h-1zM233 84h1v1h-1zM236 84h1v1h-1zM46 85h1v1h-1zM60 85h2v1h-2zM65 85h3v1h-3zM76 85h2v1h-2zM133 85h1v1h-1zM149 85h2v1h-2zM152 85h1v1h-1zM228 85h1v1h-1zM233 85h1v1h-1zM236 85h1v1h-1zM244 85h1v1h-1zM46 86h1v1h-1zM55 86h1v1h-1zM61 86h1v1h-1zM77 86h3v1h-3zM133 86h1v1h-1zM150 86h2v1h-2zM228 86h1v1h-1zM230 86h3v1h-3zM236 86h1v1h-1zM239 86h1v1h-1zM243 86h3v1h-3zM43 87h3v1h-3zM54 87h2v1h-2zM61 87h1v1h-1zM79 87h2v1h-2zM127 87h2v1h-2zM133 87h1v1h-1zM227 87h3v1h-3zM236 87h1v1h-1zM238 87h5v1h-5zM245 87h1v1h-1zM258 87h3v1h-3zM61 88h1v1h-1zM80 88h2v1h-2zM119 88h2v1h-2zM126 88h1v1h-1zM128 88h1v1h-1zM132 88h1v1h-1zM226 88h2v1h-2zM236 88h2v1h-2zM245 88h1v1h-1zM257 88h1v1h-1zM260 88h1v1h-1zM61 89h1v1h-1zM81 89h1v1h-1zM118 89h1v1h-1zM120 89h2v1h-2zM125 89h1v1h-1zM128 89h2v1h-2zM131 89h1v1h-1zM226 89h2v1h-2zM245 89h3v1h-3zM257 89h1v1h-1zM260 89h2v1h-2zM61 90h2v1h-2zM81 90h5v1h-5zM113 90h5v1h-5zM121 90h4v1h-4zM129 90h3v1h-3zM247 90h6v1h-6zM254 90h3v1h-3zM261 90h2v1h-2zM62 91h2v1h-2zM85 91h2v1h-2zM112 91h1v1h-1zM252 91h2v1h-2zM262 91h1v1h-1zM63 92h1v1h-1zM86 92h1v1h-1zM89 92h1v1h-1zM108 92h3v1h-3zM112 92h1v1h-1zM262 92h1v1h-1zM63 93h1v1h-1zM86 93h1v1h-1zM88 93h2v1h-2zM107 93h1v1h-1zM110 93h3v1h-3zM262 93h1v1h-1zM63 94h1v1h-1zM83 94h3v1h-3zM107 94h1v1h-1zM262 94h1v1h-1zM56 95h2v1h-2zM62 95h2v1h-2zM82 95h1v1h-1zM84 95h2v1h-2zM91 95h1v1h-1zM107 95h3v1h-3zM262 95h2v1h-2zM53 96h3v1h-3zM57 96h1v1h-1zM61 96h1v1h-1zM81 96h1v1h-1zM87 96h6v1h-6zM107 96h1v1h-1zM109 96h2v1h-2zM263 96h1v1h-1zM52 97h1v1h-1zM57 97h1v1h-1zM60 97h1v1h-1zM80 97h2v1h-2zM86 97h1v1h-1zM92 97h1v1h-1zM106 97h2v1h-2zM110 97h1v1h-1zM263 97h1v1h-1zM46 98h6v1h-6zM57 98h4v1h-4zM81 98h2v1h-2zM86 98h1v1h-1zM89 98h1v1h-1zM92 98h1v1h-1zM110 98h1v1h-1zM263 98h1v1h-1zM43 99h3v1h-3zM82 99h4v1h-4zM88 99h2v1h-2zM92 99h2v1h-2zM103 99h1v1h-1zM110 99h2v1h-2zM263 99h1v1h-1zM43 100h1v1h-1zM47 100h1v1h-1zM84 100h2v1h-2zM91 100h3v1h-3zM102 100h2v1h-2zM111 100h2v1h-2zM263 100h1v1h-1zM43 101h5v1h-5zM90 101h1v1h-1zM92 101h2v1h-2zM102 101h2v1h-2zM112 101h1v1h-1zM263 101h2v1h-2zM47 102h1v1h-1zM86 102h3v1h-3zM90 102h3v1h-3zM109 102h3v1h-3zM264 102h1v1h-1zM46 103h1v1h-1zM49 103h4v1h-4zM85 103h5v1h-5zM92 103h1v1h-1zM108 103h1v1h-1zM264 103h1v1h-1zM46 104h3v1h-3zM52 104h1v1h-1zM85 104h1v1h-1zM88 104h5v1h-5zM107 104h2v1h-2zM264 104h2v1h-2zM269 104h4v1h-4zM47 105h2v1h-2zM52 105h1v1h-1zM58 105h2v1h-2zM84 105h2v1h-2zM88 105h1v1h-1zM106 105h1v1h-1zM265 105h4v1h-4zM272 105h2v1h-2zM44 106h3v1h-3zM48 106h5v1h-5zM57 106h1v1h-1zM59 106h2v1h-2zM77 106h4v1h-4zM85 106h5v1h-5zM93 106h1v1h-1zM100 106h3v1h-3zM106 106h3v1h-3zM273 106h1v1h-1zM43 107h1v1h-1zM51 107h1v1h-1zM56 107h2v1h-2zM60 107h1v1h-1zM76 107h1v1h-1zM80 107h1v1h-1zM84 107h2v1h-2zM88 107h2v1h-2zM92 107h8v1h-8zM102 107h2v1h-2zM108 107h1v1h-1zM273 107h1v1h-1zM277 107h1v1h-1zM50 108h2v1h-2zM57 108h1v1h-1zM60 108h1v1h-1zM73 108h3v1h-3zM80 108h1v1h-1zM85 108h1v1h-1zM93 108h1v1h-1zM102 108h2v1h-2zM108 108h1v1h-1zM273 108h1v1h-1zM276 108h2v1h-2zM281 108h2v1h-2zM49 109h1v1h-1zM51 109h1v1h-1zM57 109h2v1h-2zM60 109h1v1h-1zM72 109h1v1h-1zM80 109h1v1h-1zM85 109h1v1h-1zM93 109h1v1h-1zM101 109h1v1h-1zM108 109h2v1h-2zM273 109h2v1h-2zM276 109h5v1h-5zM282 109h1v1h-1zM49 110h1v1h-1zM51 110h1v1h-1zM58 110h2v1h-2zM72 110h1v1h-1zM80 110h2v1h-2zM85 110h1v1h-1zM92 110h1v1h-1zM101 110h1v1h-1zM105 110h1v1h-1zM109 110h1v1h-1zM274 110h3v1h-3zM282 110h1v1h-1zM47 111h2v1h-2zM51 111h2v1h-2zM71 111h2v1h-2zM81 111h8v1h-8zM92 111h2v1h-2zM101 111h2v1h-2zM104 111h2v1h-2zM109 111h1v1h-1zM282 111h3v1h-3zM46 112h1v1h-1zM51 112h2v1h-2zM69 112h2v1h-2zM84 112h2v1h-2zM88 112h1v1h-1zM93 112h1v1h-1zM102 112h1v1h-1zM109 112h1v1h-1zM284 112h1v1h-1zM46 113h1v1h-1zM50 113h3v1h-3zM68 113h1v1h-1zM85 113h1v1h-1zM88 113h2v1h-2zM93 113h1v1h-1zM102 113h1v1h-1zM108 113h1v1h-1zM284 113h1v1h-1zM287 113h2v1h-2zM46 114h1v1h-1zM49 114h3v1h-3zM66 114h2v1h-2zM84 114h2v1h-2zM87 114h1v1h-1zM89 114h7v1h-7zM102 114h1v1h-1zM105 114h1v1h-1zM108 114h1v1h-1zM281 114h2v1h-2zM284 114h1v1h-1zM286 114h1v1h-1zM46 115h1v1h-1zM48 115h4v1h-4zM65 115h1v1h-1zM85 115h3v1h-3zM92 115h1v1h-1zM95 115h1v1h-1zM102 115h1v1h-1zM104 115h2v1h-2zM108 115h2v1h-2zM279 115h2v1h-2zM282 115h4v1h-4zM46 116h2v1h-2zM49 116h1v1h-1zM65 116h2v1h-2zM86 116h1v1h-1zM92 116h1v1h-1zM95 116h1v1h-1zM101 116h1v1h-1zM104 116h2v1h-2zM109 116h1v1h-1zM278 116h1v1h-1zM283 116h1v1h-1zM285 116h1v1h-1zM45 117h3v1h-3zM49 117h1v1h-1zM66 117h1v1h-1zM86 117h1v1h-1zM92 117h1v1h-1zM95 117h1v1h-1zM101 117h2v1h-2zM104 117h2v1h-2zM109 117h1v1h-1zM278 117h8v1h-8zM43 118h1v1h-1zM47 118h3v1h-3zM66 118h2v1h-2zM86 118h1v1h-1zM92 118h1v1h-1zM95 118h2v1h-2zM102 118h1v1h-1zM109 118h2v1h-2zM43 119h3v1h-3zM48 119h2v1h-2zM67 119h2v1h-2zM85 119h2v1h-2zM92 119h2v1h-2zM96 119h1v1h-1zM102 119h1v1h-1zM109 119h2v1h-2zM45 120h2v1h-2zM68 120h1v1h-1zM86 120h1v1h-1zM88 120h2v1h-2zM93 120h3v1h-3zM102 120h1v1h-1zM108 120h1v1h-1zM46 121h2v1h-2zM68 121h1v1h-1zM82 121h4v1h-4zM87 121h3v1h-3zM94 121h2v1h-2zM101 121h1v1h-1zM107 121h2v1h-2zM47 122h2v1h-2zM51 122h2v1h-2zM68 122h1v1h-1zM73 122h3v1h-3zM80 122h2v1h-2zM94 122h2v1h-2zM101 122h3v1h-3zM108 122h1v1h-1zM110 122h2v1h-2zM48 123h1v1h-1zM50 123h1v1h-1zM52 123h5v1h-5zM68 123h1v1h-1zM72 123h1v1h-1zM75 123h5v1h-5zM102 123h2v1h-2zM108 123h2v1h-2zM111 123h1v1h-1zM47 124h1v1h-1zM49 124h1v1h-1zM56 124h5v1h-5zM67 124h1v1h-1zM71 124h1v1h-1zM101 124h1v1h-1zM111 124h2v1h-2zM43 125h1v1h-1zM46 125h1v1h-1zM49 125h1v1h-1zM60 125h1v1h-1zM66 125h6v1h-6zM91 125h1v1h-1zM101 125h1v1h-1zM112 125h1v1h-1zM43 126h6v1h-6zM60 126h2v1h-2zM90 126h2v1h-2zM101 126h3v1h-3zM110 126h2v1h-2zM45 127h2v1h-2zM61 127h5v1h-5zM89 127h3v1h-3zM100 127h2v1h-2zM103 127h1v1h-1zM109 127h2v1h-2zM43 128h1v1h-1zM46 128h1v1h-1zM48 128h3v1h-3zM65 128h1v1h-1zM103 128h1v1h-1zM110 128h2v1h-2zM43 129h1v1h-1zM46 129h2v1h-2zM50 129h1v1h-1zM56 129h2v1h-2zM61 129h1v1h-1zM65 129h1v1h-1zM102 129h1v1h-1zM111 129h1v1h-1zM49 130h1v1h-1zM55 130h1v1h-1zM57 130h2v1h-2zM60 130h2v1h-2zM65 130h1v1h-1zM102 130h1v1h-1zM110 130h1v1h-1zM43 131h2v1h-2zM48 131h2v1h-2zM55 131h1v1h-1zM58 131h2v1h-2zM61 131h1v1h-1zM65 131h1v1h-1zM101 131h1v1h-1zM109 131h2v1h-2zM44 132h1v1h-1zM49 132h2v1h-2zM53 132h3v1h-3zM61 132h2v1h-2zM65 132h2v1h-2zM101 132h1v1h-1zM108 132h1v1h-1zM44 133h1v1h-1zM50 133h1v1h-1zM52 133h1v1h-1zM54 133h2v1h-2zM62 133h1v1h-1zM65 133h2v1h-2zM100 133h2v1h-2zM105 133h3v1h-3zM43 134h1v1h-1zM50 134h2v1h-2zM62 134h3v1h-3zM101 134h4v1h-4z"/>
<path d="M76.1,55.8h1.2v1.2h-1.2zM77.1,52.9h1v1h-1zM57.1,53.2h1v1h-1zM100.3,30.2h0.8v0.8h-0.8zM50.4,69.5h1.1v1.1h-1.1zM47,79h1.3v1.3h-1.3zM90.4,58.9h0.7v0.7h-0.7zM45.1,54.1h0.6v0.6h-0.6zM57.5,38.3h0.6v0.6h-0.6zM76.9,49.2h1.2v1.2h-1.2zM80.9,60.2h0.9v0.9h-0.9zM91,50.2h0.8v0.8h-0.8zM114.8,79.8h1.2v1.2h-1.2zM94.3,42.3h0.8v0.8h-0.8zM64.5,28.9h1.1v1.1h-1.1zM72.4,71.6h0.9v0.9h-0.9zM112,71.6h0.6v0.6h-0.6zM58.9,75.1h0.9v0.9h-0.9zM113.6,46.9h0.7v0.7h-0.7zM88.7,67.8h0.8v0.8h-0.8zM50.2,43.3h1.3v1.3h-1.3zM97.8,31.5h0.8v0.8h-0.8zM51.2,28.3h1.2v1.2h-1.2zM56.6,55.8h0.9v0.9h-0.9zM57.5,65.3h0.7v0.7h-0.7zM89.7,31.4h0.9v0.9h-0.9zM59.1,39.8h1.3v1.3h-1.3zM101,41.7h1.2v1.2h-1.2zM59,46.7h1.2v1.2h-1.2zM89.6,30.5h1.3v1.3h-1.3zM59.1,39.2h1.1v1.1h-1.1zM67.4,41.3h0.7v0.7h-0.7zM50.4,57.1h0.8v0.8h-0.8zM86.7,45.4h0.9v0.9h-0.9zM112.1,51.6h1v1h-1zM105.5,35.1h0.7v0.7h-0.7zM108.5,70h0.8v0.8h-0.8zM57.5,65.7h1.3v1.3h-1.3zM58,77.3h1.2v1.2h-1.2zM86.9,48.2h0.7v0.7h-0.7zM46.7,77.9h0.8v0.8h-0.8zM94,39.1h1.2v1.2h-1.2zM86.3,41.1h0.7v0.7h-0.7zM95.1,28.8h0.8v0.8h-0.8zM83.7,71.9h1v1h-1zM63.9,75.5h0.7v0.7h-0.7zM45.2,39.8h0.9v0.9h-0.9zM48.3,34.7h0.9v0.9h-0.9zM84.6,32.2h0.9v0.9h-0.9zM107.3,78.9h1.1v1.1h-1.1zM93.1,57.1h0.7v0.7h-0.7zM46.5,26h1.2v1.2h-1.2zM93.8,78h0.6v0.6h-0.6zM89.2,51.5h1.1v1.1h-1.1zM66.6,80h0.7v0.7h-0.7zM82.8,65.5h1.2v1.2h-1.2zM96.3,63.7h1.2v1.2h-1.2zM109,44.4h1.1v1.1h-1.1zM108,72.9h0.9v0.9h-0.9zM100.1,72.5h1v1h-1zM88.4,46h1v1h-1zM87.2,29.4h1v1h-1zM114.5,73.4h1.1v1.1h-1.1zM71.6,65.4h1v1h-1zM75.3,71.1h0.7v0.7h-0.7zM97.3,26.6h1v1h-1zM78.1,37.7h1.1v1.1h-1.1zM79.3,58.8h1.2v1.2h-1.2zM62.2,25.6h0.8v0.8h-0.8zM92.1,36.1h0.7v0.7h-0.7zM108.3,61.3h0.9v0.9h-0.9zM107.3,43h1.1v1.1h-1.1zM58.1,48.7h1.2v1.2h-1.2zM108.9,73.4h0.9v0.9h-0.9zM85.4,42.4h0.7v0.7h-0.7zM79.2,71h1.2v1.2h-1.2zM94.5,77.3h0.8v0.8h-0.8zM56,49.8h0.8v0.8h-0.8zM59.2,47.8h1v1h-1zM79.1,42.3h1.2v1.2h-1.2zM113.7,49.9h0.7v0.7h-0.7zM46.2,73h0.6v0.6h-0.6zM94.3,56.4h0.8v0.8h-0.8zM100.2,26.1h0.7v0.7h-0.7zM76.3,26.4h1.2v1.2h-1.2zM60.9,32.7h0.6v0.6h-0.6zM88.7,49.6h1v1h-1zM90.5,69.4h1.3v1.3h-1.3zM92.6,36h0.9v0.9h-0.9zM56.7,25.6h0.9v0.9h-0.9zM94.7,34.9h0.8v0.8h-0.8zM68.5,63.4h1v1h-1zM87.6,66.6h0.9v0.9h-0.9zM100.2,74.8h0.7v0.7h-0.7zM110.2,64.7h0.7v0.7h-0.7zM76.2,59.4h1.2v1.2h-1.2zM70.8,56.3h1.2v1.2h-1.2zM100.6,76.9h0.9v0.9h-0.9zM90.2,36.3h1.1v1.1h-1.1zM102.1,60.3h1.1v1.1h-1.1zM59.1,74.5h1.3v1.3h-1.3zM113.4,54.5h1.2v1.2h-1.2zM66.7,75h1.2v1.2h-1.2zM68.7,29.6h0.9v0.9h-0.9zM83.1,67.3h0.9v0.9h-0.9zM46,69.5h0.6v0.6h-0.6zM100.8,34.5h0.8v0.8h-0.8zM99.9,32.7h0.7v0.7h-0.7zM80.7,64.8h1.2v1.2h-1.2zM92.9,77h0.9v0.9h-0.9zM111.4,29.7h0.8v0.8h-0.8zM81.4,41h1.1v1.1h-1.1zM89.4,53.8h1.2v1.2h-1.2zM83.8,42.1h0.9v0.9h-0.9zM104,74.5h0.7v0.7h-0.7zM104.4,78.3h1v1h-1zM84.7,36.1h1v1h-1zM79.7,58.3h0.6v0.6h-0.6zM112.8,53.4h0.9v0.9h-0.9zM100.9,56h0.9v0.9h-0.9zM93.1,28.6h1v1h-1zM73.4,77.6h1.2v1.2h-1.2zM63.1,51h0.7v0.7h-0.7zM74.8,69.9h1.2v1.2h-1.2zM77.8,42.4h0.7v0.7h-0.7zM87.9,75.9h0.7v0.7h-0.7zM99.3,26.3h0.7v0.7h-0.7zM60.1,62.8h0.8v0.8h-0.8zM69.2,59.1h0.7v0.7h-0.7zM95.9,31.8h1v1h-1zM61.8,35.9h1v1h-1zM75,45.7h0.9v0.9h-0.9zM81.6,33.8h0.7v0.7h-0.7zM88.8,60.1h1v1h-1zM104.4,58.6h1.2v1.2h-1.2zM60.5,65.7h1.2v1.2h-1.2zM108.1,42.4h0.8v0.8h-0.8zM109.5,37h1.3v1.3h-1.3zM107,32.4h0.8v0.8h-0.8zM95.6,39.3h0.7v0.7h-0.7zM103.1,48.2h1.2v1.2h-1.2zM52.9,47.2h1.1v1.1h-1.1zM45.3,36.1h1.1v1.1h-1.1zM108.7,78.3h0.7v0.7h-0.7zM79.9,66.7h1v1h-1zM92.7,35.4h0.6v0.6h-0.6zM51.5,27.1h1v1h-1zM80.6,56.3h0.7v0.7h-0.7zM57.1,36.2h1.2v1.2h-1.2zM114.3,76h0.7v0.7h-0.7zM48.4,77.3h0.9v0.9h-0.9zM98.3,43h0.9v0.9h-0.9zM80.6,48.7h1v1h-1zM44.9,63.6h1.2v1.2h-1.2zM56.9,50h1.1v1.1h-1.1zM72.8,35.7h0.7v0.7h-0.7zM80.4,25.8h1.2v1.2h-1.2zM100.9,63.8h1.2v1.2h-1.2zM88.7,47.2h1v1h-1zM79.8,79h1.2v1.2h-1.2zM62.3,75.1h1.1v1.1h-1.1zM99.2,69.8h0.9v0.9h-0.9zM107.7,73.4h1.1v1.1h-1.1zM98.5,67.1h0.9v0.9h-0.9zM95.3,28.9h0.8v0.8h-0.8zM77.3,25.6h0.8v0.8h-0.8zM89.3,59.3h0.8v0.8h-0.8zM111.1,61.6h0.8v0.8h-0.8zM90.8,56.3h1v1h-1zM71.7,80h1v1h-1zM93.8,66.9h1.3v1.3h-1.3zM45.6,58.8h1.1v1.1h-1.1zM62.2,47.1h0.6v0.6h-0.6zM57.9,45.7h0.7v0.7h-0.7zM61.8,74.8h1v1h-1zM80.1,78.2h1v1h-1zM114.7,60.1h1.2v1.2h-1.2zM49.4,57.9h1.1v1.1h-1.1zM47.2,76.2h0.7v0.7h-0.7zM77.5,34.3h0.9v0.9h-0.9zM87.4,28.2h1.3v1.3h-1.3zM73.9,54h1v1h-1zM70,40.7h1.1v1.1h-1.1zM83.8,40.6h1.1v1.1h-1.1zM65,25.8h0.8v0.8h-0.8zM47,33.6h1.1v1.1h-1.1zM71.7,74.4h1.1v1.1h-1.1zM47.6,79.4h1.3v1.3h-1.3zM49.2,74.8h0.9v0.9h-0.9zM77.9,78.5h0.8v0.8h-0.8zM81.2,76.5h1.1v1.1h-1.1zM77.3,78.8h1.2v1.2h-1.2zM86.9,31.3h1v1h-1zM76.4,36.2h0.6v0.6h-0.6zM81.5,31.8h0.9v0.9h-0.9zM91.4,50.1h0.8v0.8h-0.8zM85.3,48.1h1.1v1.1h-1.1zM81.7,79.9h1.3v1.3h-1.3zM96.1,38.1h0.7v0.7h-0.7zM107.4,68.1h1v1h-1zM69.5,39.9h1.1v1.1h-1.1zM84.1,57.5h1v1h-1zM97.5,35.4h0.8v0.8h-0.8zM113.6,75.4h1.2v1.2h-1.2zM46.8,28.3h0.8v0.8h-0.8zM74.2,59.3h0.7v0.7h-0.7zM82.5,29h0.7v0.7h-0.7zM92,55.3h1v1h-1zM70.5,51.3h0.7v0.7h-0.7zM68.4,66h1.2v1.2h-1.2zM49.3,31.6h1.2v1.2h-1.2zM88.3,67.3h0.7v0.7h-0.7zM74.1,39.2h1.2v1.2h-1.2zM70.2,61h1.3v1.3h-1.3zM67.1,55.2h1.1v1.1h-1.1zM109.4,48.5h0.9v0.9h-0.9zM50.9,73.1h0.7v0.7h-0.7zM49.9,56h0.9v0.9h-0.9zM92.7,41.4h1.1v1.1h-1.1zM49.4,36.7h1.1v1.1h-1.1zM49.8,41.7h1.1v1.1h-1.1zM93.3,40.6h0.7v0.7h-0.7zM69.4,64.9h0.9v0.9h-0.9zM52.3,64h1v1h-1zM109.2,76.7h1.2v1.2h-1.2zM75.1,69.2h0.8v0.8h-0.8zM66.6,47h1.3v1.3h-1.3zM107.5,38.7h0.9v0.9h-0.9zM70,45h0.9v0.9h-0.9zM71.5,35.7h1v1h-1zM100.6,54.7h1.2v1.2h-1.2zM84,34.7h1.1v1.1h-1.1zM106.5,40.5h0.6v0.6h-0.6zM80.6,54.9h1v1h-1zM112.6,60.8h1.2v1.2h-1.2zM48.5,55.1h1.2v1.2h-1.2zM50,29.5h1.1v1.1h-1.1zM107.8,29.7h1v1h-1zM54.2,66h1.1v1.1h-1.1zM61.4,37.1h1.1v1.1h-1.1zM81,67.1h0.9v0.9h-0.9zM68,78.3h1.1v1.1h-1.1zM79,54.6h1.1v1.1h-1.1zM94.3,75.3h0.9v0.9h-0.9zM102.7,61.7h1.2v1.2h-1.2zM101.2,70.9h1.2v1.2h-1.2zM112,60.2h1v1h-1zM94.4,69.1h0.9v0.9h-0.9zM73.9,33h1.1v1.1h-1.1zM114.4,45.7h0.7v0.7h-0.7zM58.5,48.4h0.8v0.8h-0.8zM112.9,28.3h0.8v0.8h-0.8zM52.2,60.6h1.1v1.1h-1.1zM56.7,28.4h0.9v0.9h-0.9zM85.5,75h0.6v0.6h-0.6zM51.7,35.1h0.8v0.8h-0.8zM60.7,64.4h1v1h-1zM59.9,35.2h0.8v0.8h-0.8zM56.2,66.7h0.8v0.8h-0.8zM82.9,69.9h0.9v0.9h-0.9zM62.5,73.8h1.2v1.2h-1.2zM68.3,55.1h1.3v1.3h-1.3zM78.3,37.2h0.6v0.6h-0.6zM111.3,69.1h0.9v0.9h-0.9zM81.5,53.4h0.8v0.8h-0.8zM114.3,61.2h0.8v0.8h-0.8zM44.8,51h0.9v0.9h-0.9zM100.6,64.2h1v1h-1zM55.2,33.6h0.8v0.8h-0.8zM62.4,72.8h1v1h-1zM89.2,79.6h0.8v0.8h-0.8zM82,33.3h1.1v1.1h-1.1zM44.1,70.2h1.2v1.2h-1.2zM102.4,29.5h0.8v0.8h-0.8zM94.9,30.3h0.9v0.9h-0.9zM77.3,77.6h1v1h-1zM104.9,41.7h1.2v1.2h-1.2zM73.6,75.4h0.7v0.7h-0.7zM102.7,36.5h1v1h-1zM81.3,33.7h1.2v1.2h-1.2zM66.1,42.1h0.7v0.7h-0.7zM65.7,50.7h1.1v1.1h-1.1zM69.5,62.8h0.7v0.7h-0.7zM72,50.4h1.3v1.3h-1.3zM102.9,61h0.6v0.6h-0.6zM70.8,64.1h0.8v0.8h-0.8zM84.1,50.2h0.6v0.6h-0.6zM114.4,69h0.7v0.7h-0.7zM87.7,41h0.9v0.9h-0.9zM82.3,41.4h0.8v0.8h-0.8zM71.8,61.7h0.8v0.8h-0.8zM58.2,65.2h0.8v0.8h-0.8zM111.1,56h1.1v1.1h-1.1zM67.5,70.5h0.7v0.7h-0.7zM54,30.2h1.1v1.1h-1.1zM94.3,34.9h0.9v0.9h-0.9zM103.4,57.6h0.7v0.7h-0.7zM60.1,33.6h0.7v0.7h-0.7zM72.9,29h1.2v1.2h-1.2zM74.3,53.1h1.1v1.1h-1.1zM98.4,70.2h0.9v0.9h-0.9zM67.5,47.7h0.6v0.6h-0.6zM72.5,63.5h1.3v1.3h-1.3zM100.1,61.3h1v1h-1zM45.3,43.2h0.8v0.8h-0.8zM90.2,30.8h0.9v0.9h-0.9zM80.2,68.4h1.2v1.2h-1.2zM87.4,33.7h1.1v1.1h-1.1zM108.1,55.2h0.8v0.8h-0.8zM79.5,32.8h1.1v1.1h-1.1zM114.1,53.4h1.1v1.1h-1.1zM103.3,35.8h1.3v1.3h-1.3zM88.5,35.9h0.7v0.7h-0.7zM61.4,56.7h1.1v1.1h-1.1zM67.4,76.1h0.9v0.9h-0.9zM76.9,31.8h1.3v1.3h-1.3zM53.6,74.7h1v1h-1zM83.8,55.8h0.8v0.8h-0.8zM108.6,79.6h1.2v1.2h-1.2zM86.7,31.7h1.2v1.2h-1.2zM64.5,74.3h0.8v0.8h-0.8zM84.7,70.7h0.7v0.7h-0.7zM82.9,29.2h0.6v0.6h-0.6zM56.8,79.3h1.3v1.3h-1.3zM90.7,41.9h1.1v1.1h-1.1zM96.4,46h1v1h-1zM101.1,25.9h0.7v0.7h-0.7zM77.2,32.9h0.9v0.9h-0.9zM84.4,34.6h1v1h-1zM62.7,56.2h0.8v0.8h-0.8zM89.6,27.1h1.1v1.1h-1.1zM54.3,77.8h1v1h-1zM77.4,47.6h1v1h-1zM92.9,66.7h1.1v1.1h-1.1zM78.5,79.7h1.2v1.2h-1.2zM104.7,47.5h0.9v0.9h-0.9zM84.2,74.8h1v1h-1zM81.3,48.8h1.2v1.2h-1.2zM66.8,28h1.1v1.1h-1.1zM107.9,65.3h1v1h-1zM97.4,41.8h1v1h-1zM49,31.8h0.9v0.9h-0.9zM79.7,46.8h0.6v0.6h-0.6zM93.3,53.9h0.8v0.8h-0.8zM65.7,46.8h0.8v0.8h-0.8zM48.9,75.1h1.3v1.3h-1.3zM91.3,72.7h0.9v0.9h-0.9zM101.2,37.2h1.1v1.1h-1.1zM84.2,74.7h0.7v0.7h-0.7zM100.3,31.8h1v1h-1zM111.5,25h0.8v0.8h-0.8zM65.2,42.9h0.6v0.6h-0.6zM107.6,69.8h0.9v0.9h-0.9zM69.3,57.2h0.6v0.6h-0.6zM46.2,74.4h0.8v0.8h-0.8zM79.4,76.4h1.3v1.3h-1.3zM77.6,36.4h0.8v0.8h-0.8zM109.5,74.3h0.7v0.7h-0.7zM103.5,44.5h0.9v0.9h-0.9zM56.2,73.4h1.3v1.3h-1.3zM58.3,59.8h0.7v0.7h-0.7zM106.5,27.8h0.7v0.7h-0.7zM95.5,42.2h1.2v1.2h-1.2zM105.7,64.2h0.7v0.7h-0.7zM93.4,76.6h0.9v0.9h-0.9zM49.6,37.3h0.8v0.8h-0.8zM94.4,35.8h0.7v0.7h-0.7zM60.7,61.6h1.2v1.2h-1.2zM70.4,61.4h1.2v1.2h-1.2zM85.9,37.6h0.8v0.8h-0.8zM109.8,61.7h0.8v0.8h-0.8zM89.4,29.9h1.3v1.3h-1.3zM75.3,54.1h1v1h-1zM47.2,58h0.8v0.8h-0.8zM61.8,69.2h0.7v0.7h-0.7zM64.2,66.6h0.8v0.8h-0.8zM63.8,55.1h0.7v0.7h-0.7zM107.7,79.3h0.6v0.6h-0.6zM76.8,66.3h0.9v0.9h-0.9zM110,52.5h0.7v0.7h-0.7zM83.5,60.5h0.9v0.9h-0.9zM90.7,68.1h1v1h-1zM79.9,71.5h1.1v1.1h-1.1zM81,77.3h0.7v0.7h-0.7zM99.4,34.1h1v1h-1zM60.7,49.2h1.1v1.1h-1.1zM99.8,68.5h0.8v0.8h-0.8zM78.7,37.2h1v1h-1zM79.4,26.9h1v1h-1zM94.7,56.5h1.2v1.2h-1.2zM56.8,33.3h0.6v0.6h-0.6zM79.2,48.9h0.9v0.9h-0.9zM62.7,68.9h0.7v0.7h-0.7zM108.4,56.3h1v1h-1zM100.2,38.1h0.7v0.7h-0.7zM66.1,27.3h0.8v0.8h-0.8zM88.1,53.9h0.8v0.8h-0.8zM85.8,29.9h1.2v1.2h-1.2zM56.2,39h0.7v0.7h-0.7zM93,70.7h1.2v1.2h-1.2zM48.3,47.6h0.9v0.9h-0.9zM59.4,78.4h0.6v0.6h-0.6zM78.8,66.9h1.3v1.3h-1.3zM54.3,50h1.1v1.1h-1.1zM46.8,38.2h1.2v1.2h-1.2zM54,46.6h0.8v0.8h-0.8zM74.1,29.2h0.6v0.6h-0.6zM114.7,67h1.1v1.1h-1.1zM60.3,38.9h1v1h-1zM61.2,50.4h1.3v1.3h-1.3zM69.8,43.5h1.3v1.3h-1.3zM87.4,27.2h0.9v0.9h-0.9zM90.1,28.2h0.8v0.8h-0.8zM93.3,72.5h1v1h-1zM106.9,50.4h0.9v0.9h-0.9zM103.9,46h1.1v1.1h-1.1zM59.3,44.1h0.7v0.7h-0.7zM83,34h0.7v0.7h-0.7zM59.2,50.7h0.8v0.8h-0.8zM75.7,79.6h1.1v1.1h-1.1zM105.3,36.3h0.9v0.9h-0.9zM49.2,63h0.9v0.9h-0.9zM63.5,26h0.7v0.7h-0.7zM62.6,46.6h1.2v1.2h-1.2zM94.8,39.8h0.9v0.9h-0.9zM54.9,76.5h0.9v0.9h-0.9zM98.4,64.8h1.2v1.2h-1.2zM45.4,42.7h0.9v0.9h-0.9zM49.9,73.5h0.8v0.8h-0.8zM98.7,53.6h0.6v0.6h-0.6zM72,38.1h0.6v0.6h-0.6zM54.7,57.7h0.6v0.6h-0.6zM66.2,48.3h1v1h-1zM53.7,63.9h0.8v0.8h-0.8zM95.5,61.6h0.7v0.7h-0.7zM58.5,40.4h1.1v1.1h-1.1zM72.8,46.3h1.2v1.2h-1.2zM60,41.1h0.8v0.8h-0.8zM59.3,27.2h0.6v0.6h-0.6zM88.8,56.1h1.2v1.2h-1.2zM113.3,41.4h1.1v1.1h-1.1zM109.3,36.9h1.1v1.1h-1.1zM91.3,77.5h1.2v1.2h-1.2zM60.7,59.8h0.7v0.7h-0.7zM74.4,46.6h0.6v0.6h-0.6zM71.2,43.1h0.9v0.9h-0.9zM63.9,33.7h0.9v0.9h-0.9zM77.7,34.2h1.1v1.1h-1.1zM61,30.1h0.8v0.8h-0.8zM74,33.3h1v1h-1zM93.8,55.4h1.1v1.1h-1.1zM45.6,46.5h0.9v0.9h-0.9zM48.5,47.2h0.6v0.6h-0.6zM79.2,57.2h0.9v0.9h-0.9zM67.1,38.9h0.6v0.6h-0.6zM68.6,74h1v1h-1zM62.6,61.7h0.7v0.7h-0.7zM77.3,58.8h1.3v1.3h-1.3zM69.7,56.7h1.3v1.3h-1.3zM98.8,59.5h1v1h-1zM73.2,47.9h0.8v0.8h-0.8zM102.9,73.4h0.9v0.9h-0.9zM108.6,27.1h0.7v0.7h-0.7zM80,42h0.9v0.9h-0.9zM113.4,33.2h0.7v0.7h-0.7zM60.2,62.4h0.8v0.8h-0.8zM44.1,54.9h0.9v0.9h-0.9zM61,52.1h1.1v1.1h-1.1zM82.9,59.3h1v1h-1zM103,78.3h0.8v0.8h-0.8zM68.6,73.7h0.8v0.8h-0.8zM94.8,63.2h1.1v1.1h-1.1zM112.4,70.3h0.7v0.7h-0.7zM88.1,52h1v1h-1zM70.2,40.7h1.1v1.1h-1.1zM81.9,38h0.8v0.8h-0.8zM67.1,34.8h1v1h-1zM52.9,28.5h0.6v0.6h-0.6zM51.3,63.8h0.7v0.7h-0.7zM76.1,67.5h0.9v0.9h-0.9zM55.5,72.6h1.2v1.2h-1.2zM47.8,39h1v1h-1zM100.5,46.6h1.1v1.1h-1.1zM61.9,64.4h0.8v0.8h-0.8zM67.7,66.8h1.2v1.2h-1.2zM102.8,56.2h0.9v0.9h-0.9zM94.2,59.3h1.2v1.2h-1.2zM100.9,31.9h0.9v0.9h-0.9zM91.5,37.7h0.7v0.7h-0.7zM45,57.2h1.3v1.3h-1.3zM112.9,32.4h1.1v1.1h-1.1zM73.8,59.7h0.9v0.9h-0.9zM110.3,79.4h0.6v0.6h-0.6zM94.6,31.5h0.6v0.6h-0.6zM64.3,65.2h1.3v1.3h-1.3zM52.5,43.2h0.6v0.6h-0.6zM82.5,51.6h0.9v0.9h-0.9zM66,69h1.2v1.2h-1.2zM64.1,46.5h1v1h-1zM98.3,79h0.9v0.9h-0.9zM93.3,55h1.2v1.2h-1.2zM54.4,34.6h0.7v0.7h-0.7zM110.3,38.8h0.9v0.9h-0.9zM52.5,42.8h0.6v0.6h-0.6zM84.2,32.9h1v1h-1zM63.5,37.5h0.9v0.9h-0.9zM70,39.3h0.6v0.6h-0.6zM48.6,74.1h0.8v0.8h-0.8zM49.6,35h0.9v0.9h-0.9zM114.8,36.1h1.2v1.2h-1.2zM78.4,47.8h1.2v1.2h-1.2zM72.1,28.2h1v1h-1zM90.6,59.3h0.8v0.8h-0.8zM110.7,72.6h1.3v1.3h-1.3zM75.5,70.9h1.1v1.1h-1.1zM56.5,26.5h0.7v0.7h-0.7zM52.4,29.1h0.9v0.9h-0.9zM97.5,42.1h1v1h-1zM44.7,36.6h1.3v1.3h-1.3zM44.8,54h1.2v1.2h-1.2zM100.3,65.4h0.9v0.9h-0.9zM101,70.5h1.1v1.1h-1.1zM114,30.5h1.3v1.3h-1.3zM72.6,63.8h0.8v0.8h-0.8zM108.6,26.3h1v1h-1zM60.1,46.4h0.9v0.9h-0.9zM90.6,69.6h0.9v0.9h-0.9zM89.3,44.5h0.8v0.8h-0.8zM108.3,42.7h0.7v0.7h-0.7zM67.8,65.8h0.7v0.7h-0.7zM96.8,55h1.1v1.1h-1.1zM56.6,30.8h0.7v0.7h-0.7zM68.9,48.7h0.6v0.6h-0.6zM79.7,47.2h0.8v0.8h-0.8zM82.1,77.4h0.7v0.7h-0.7zM106.5,42.6h1.1v1.1h-1.1zM51.7,79.3h0.9v0.9h-0.9zM112.3,37.1h0.9v0.9h-0.9zM94.1,34.8h0.8v0.8h-0.8zM92.1,77.1h0.8v0.8h-0.8zM57,44.6h1.3v1.3h-1.3zM54.5,59.9h0.9v0.9h-0.9zM89.7,36.7h1v1h-1zM107,72.1h1v1h-1zM79.8,56.2h0.7v0.7h-0.7zM103.5,62.9h0.9v0.9h-0.9zM91.2,48.1h0.9v0.9h-0.9zM60.3,58h1v1h-1zM80.6,26.8h1v1h-1zM75.7,57.6h1v1h-1zM110.1,33.4h0.9v0.9h-0.9zM114.5,65.6h0.8v0.8h-0.8zM96.3,79.4h0.9v0.9h-0.9zM105.6,32h1.3v1.3h-1.3zM78.9,37.9h1.2v1.2h-1.2zM90.1,76.6h1.2v1.2h-1.2zM100.6,53.1h1.3v1.3h-1.3zM48.6,72.9h1.1v1.1h-1.1zM61.8,69.4h0.9v0.9h-0.9zM82.1,72.6h0.7v0.7h-0.7zM63.9,60.4h0.7v0.7h-0.7zM83.4,68.3h0.9v0.9h-0.9zM61.2,69h1.2v1.2h-1.2zM98.7,55.2h1.2v1.2h-1.2zM100.6,33.3h0.9v0.9h-0.9zM51.1,27h0.8v0.8h-0.8zM105.4,70.9h0.7v0.7h-0.7zM56.9,46.4h1.2v1.2h-1.2zM87.8,74.6h0.7v0.7h-0.7zM114.1,36.4h1v1h-1zM106.2,65h0.7v0.7h-0.7zM91.5,48.7h0.6v0.6h-0.6zM68.1,42.3h1v1h-1zM63.8,58.2h1.1v1.1h-1.1zM56.8,32h1.1v1.1h-1.1zM77.1,32.1h0.7v0.7h-0.7zM110.8,58.6h0.9v0.9h-0.9zM57.9,79.7h1.1v1.1h-1.1zM96.3,44.8h0.8v0.8h-0.8zM73,33h1v1h-1zM74.2,70.1h0.9v0.9h-0.9zM76.4,52.9h1.3v1.3h-1.3zM68.6,63.7h0.8v0.8h-0.8zM85.1,40.7h1.2v1.2h-1.2zM64.3,72h1.1v1.1h-1.1zM76.3,76.4h0.9v0.9h-0.9zM96.8,58.1h0.9v0.9h-0.9zM48.6,48.1h0.8v0.8h-0.8zM75.3,77.5h0.8v0.8h-0.8zM93.3,62h0.8v0.8h-0.8zM73.2,32.3h1.2v1.2h-1.2zM61.9,48.1h0.8v0.8h-0.8zM102.3,71.8h1v1h-1zM82.8,30.5h1.2v1.2h-1.2zM50.3,45h0.9v0.9h-0.9zM95.3,61.8h0.8v0.8h-0.8zM107.8,77.2h0.6v0.6h-0.6zM88.9,50.8h0.9v0.9h-0.9zM77,42.4h1.1v1.1h-1.1zM87,78.4h1.3v1.3h-1.3zM114.5,46.7h1.2v1.2h-1.2zM90.1,63.6h1.3v1.3h-1.3zM48.7,50.4h0.9v0.9h-0.9zM90.6,37h1.3v1.3h-1.3zM58.9,45.3h0.7v0.7h-0.7zM72,65.8h0.7v0.7h-0.7zM55.8,60.7h1v1h-1zM96.7,38.9h1.2v1.2h-1.2zM95.9,67.7h0.7v0.7h-0.7zM77.3,25.9h1.2v1.2h-1.2zM111.1,74.3h0.6v0.6h-0.6zM68.9,54.5h1v1h-1zM51.9,68.4h0.8v0.8h-0.8zM80,31.9h1v1h-1zM53.2,29.9h1v1h-1zM64.9,67.8h0.8v0.8h-0.8zM73.4,28h0.8v0.8h-0.8zM76.1,55.7h0.9v0.9h-0.9zM104.4,30.7h1.2v1.2h-1.2zM55,78.4h1v1h-1zM72.9,58.7h1.2v1.2h-1.2zM112.4,47.7h0.6v0.6h-0.6zM54.9,70h1.1v1.1h-1.1zM94.6,33.6h1v1h-1zM46,31.1h0.8v0.8h-0.8zM112.6,60.4h1.2v1.2h-1.2zM47.3,47.9h0.7v0.7h-0.7zM62.5,31.1h1.2v1.2h-1.2zM67.3,51.9h1.1v1.1h-1.1zM107,77.1h1v1h-1zM79.6,74.7h0.9v0.9h-0.9zM65.3,65.7h0.8v0.8h-0.8zM70.1,48.6h0.9v0.9h-0.9zM69.5,48.7h0.9v0.9h-0.9zM47.5,71h0.6v0.6h-0.6zM81.5,55.1h0.9v0.9h-0.9zM59.8,30.5h0.9v0.9h-0.9zM66.3,51.6h0.8v0.8h-0.8zM97.2,51.8h0.6v0.6h-0.6zM72.9,78.1h0.6v0.6h-0.6zM86.1,77.8h0.9v0.9h-0.9zM86.5,45.3h0.8v0.8h-0.8zM87.3,57.4h0.8v0.8h-0.8zM79.3,53.4h1.1v1.1h-1.1zM47.8,30.1h0.8v0.8h-0.8zM63.2,68.8h0.9v0.9h-0.9zM105.1,47.1h0.8v0.8h-0.8zM92.3,29.7h1.3v1.3h-1.3zM103,43.1h0.8v0.8h-0.8zM102.2,68.4h1v1h-1zM48,67h0.6v0.6h-0.6zM88.4,55.4h1.2v1.2h-1.2zM89.3,26.2h1.3v1.3h-1.3zM97.4,56.9h0.6v0.6h-0.6zM96.3,48h1.1v1.1h-1.1zM113.8,75.4h0.7v0.7h-0.7zM99.5,49.2h1.1v1.1h-1.1zM70.8,49.6h0.9v0.9h-0.9zM52.4,42.6h1.1v1.1h-1.1zM49.1,31.4h1.2v1.2h-1.2zM91.3,55.1h0.7v0.7h-0.7zM52.4,42.1h1.3v1.3h-1.3zM83.8,75.7h0.7v0.7h-0.7zM73.5,54.5h1.2v1.2h-1.2zM52.8,73.1h0.9v0.9h-0.9zM46.2,48.8h0.9v0.9h-0.9zM91.9,76h0.9v0.9h-0.9zM93,46.3h1.1v1.1h-1.1zM51.5,65.8h0.7v0.7h-0.7zM85.6,36.1h0.8v0.8h-0.8zM55.6,44.2h1v1h-1zM80.9,46.4h1v1h-1zM103.8,44.7h1v1h-1zM78.1,78.9h0.8v0.8h-0.8zM93.5,37.8h0.8v0.8h-0.8zM95.9,56.6h0.8v0.8h-0.8zM48.6,70.4h0.9v0.9h-0.9zM94.9,48.8h1v1h-1zM83.7,78.7h1.2v1.2h-1.2zM76.4,51.8h0.8v0.8h-0.8zM97.5,30.6h0.8v0.8h-0.8zM104.2,26.9h1.1v1.1h-1.1zM84.3,55.3h0.8v0.8h-0.8zM54.8,77.3h1.1v1.1h-1.1zM101.2,30.4h1.1v1.1h-1.1zM59.5,36h1v1h-1zM87.3,31.6h1.1v1.1h-1.1zM85.4,74.5h1.2v1.2h-1.2zM92.9,45h1.3v1.3h-1.3zM95,41h1.2v1.2h-1.2zM95.6,39.6h0.8v0.8h-0.8zM45.4,54.5h0.8v0.8h-0.8zM64.8,38.9h0.7v0.7h-0.7zM78.4,40h0.8v0.8h-0.8zM63.7,53h1.2v1.2h-1.2zM55.4,72.3h1.2v1.2h-1.2zM87.3,54.9h1.1v1.1h-1.1zM82,61.3h1.2v1.2h-1.2zM99,39.3h0.6v0.6h-0.6zM110.5,44.9h1.2v1.2h-1.2z" fill="#fff"/>
<path d="M98,89.6h1.1v1.1h-1.1zM71.4,60.5h0.9v0.9h-0.9zM81.9,96.5h1.1v1.1h-1.1zM108.1,85.1h1.1v1.1h-1.1zM71.6,79.8h0.7v0.7h-0.7zM132.5,62.6h1.2v1.2h-1.2zM66,90.9h0.8v0.8h-0.8zM92.4,97.9h0.6v0.6h-0.6zM64.9,101.2h1v1h-1zM67.3,104.4h1.3v1.3h-1.3zM69,79h0.7v0.7h-0.7zM85,88h0.7v0.7h-0.7zM115.7,62.3h0.7v0.7h-0.7zM125.3,78h0.9v0.9h-0.9zM107.7,81.5h0.9v0.9h-0.9zM62.4,92.7h1.3v1.3h-1.3zM138.1,89.9h0.8v0.8h-0.8zM89.1,91.1h1.1v1.1h-1.1zM69.1,70.6h0.9v0.9h-0.9zM100.9,96.5h1v1h-1zM62.3,97h0.9v0.9h-0.9zM101.5,70h0.9v0.9h-0.9zM91.1,94.7h0.7v0.7h-0.7zM104,68h1.1v1.1h-1.1zM62.9,72.4h0.8v0.8h-0.8zM111,62.3h0.9v0.9h-0.9zM76.7,72.7h0.9v0.9h-0.9zM136.7,81.6h1.3v1.3h-1.3zM73.4,101.6h0.9v0.9h-0.9zM75.1,93.7h1.2v1.2h-1.2zM60.5,72.1h1.1v1.1h-1.1zM87.3,70.9h0.6v0.6h-0.6zM63.2,87.9h1.3v1.3h-1.3zM139.9,82.7h0.6v0.6h-0.6zM85.8,95.4h1.2v1.2h-1.2zM111.2,70.3h1v1h-1zM98.2,88.2h0.8v0.8h-0.8zM135.7,100.2h0.7v0.7h-0.7zM83.3,99.3h0.8v0.8h-0.8zM135.5,83.2h1.1v1.1h-1.1zM116.4,69.6h0.8v0.8h-0.8zM80.4,90.7h1.1v1.1h-1.1zM70.5,99.9h0.9v0.9h-0.9zM79.3,79.6h1.3v1.3h-1.3zM104.8,88.1h1.2v1.2h-1.2zM137,94.2h0.9v0.9h-0.9zM107.1,100.5h1.2v1.2h-1.2zM106.4,75.6h0.9v0.9h-0.9zM118.9,85.3h0.6v0.6h-0.6zM116.8,100.7h1.2v1.2h-1.2zM131.8,101h1v1h-1zM123.1,77.1h0.7v0.7h-0.7zM88.3,74h1.3v1.3h-1.3zM115.1,84.4h1v1h-1zM70,84h1.1v1.1h-1.1zM91.5,71.1h0.9v0.9h-0.9zM85.9,90.8h0.7v0.7h-0.7zM67.2,74.1h1.1v1.1h-1.1zM120.8,89.7h1.3v1.3h-1.3zM89.2,61.3h0.9v0.9h-0.9zM95.5,68.1h1.1v1.1h-1.1zM87.3,70.7h0.8v0.8h-0.8zM135.5,60.3h0.9v0.9h-0.9zM82.4,69.1h0.9v0.9h-0.9zM77.6,101.3h1v1h-1zM115.8,67.3h0.9v0.9h-0.9zM108.5,97.9h0.8v0.8h-0.8zM96.8,98.5h1.2v1.2h-1.2zM78.2,84.2h1.1v1.1h-1.1zM91.6,90.3h1.1v1.1h-1.1zM137.8,84.9h1.1v1.1h-1.1zM88,93h0.8v0.8h-0.8zM100,76.2h0.8v0.8h-0.8zM70.9,70.2h1v1h-1zM80.1,62.1h1.2v1.2h-1.2zM82.9,102.1h1v1h-1zM91.1,99.3h1.2v1.2h-1.2zM85.7,65.7h1v1h-1zM127.4,87.4h1.1v1.1h-1.1zM93,87.8h0.8v0.8h-0.8zM92.6,77.1h0.9v0.9h-0.9zM92,96.3h0.7v0.7h-0.7zM76.4,71.5h1.3v1.3h-1.3zM101.8,62.4h1.2v1.2h-1.2zM129.9,97h0.9v0.9h-0.9zM118.8,73.7h0.7v0.7h-0.7zM129.2,97.5h0.7v0.7h-0.7zM130.4,61.1h0.8v0.8h-0.8zM61,67.7h0.7v0.7h-0.7zM117.3,73.3h0.7v0.7h-0.7zM74.7,74h1.2v1.2h-1.2zM108.5,64.6h1.1v1.1h-1.1zM102.9,80.2h1v1h-1zM112.1,96h1v1h-1zM110.8,81h1v1h-1zM91.1,78.7h1v1h-1zM117.2,72.5h1.2v1.2h-1.2zM99.3,98.5h1.1v1.1h-1.1zM136.5,90.7h0.9v0.9h-0.9zM92.5,87.3h1.1v1.1h-1.1zM127.1,65.8h0.6v0.6h-0.6zM68.7,63.8h0.6v0.6h-0.6zM60.7,71.2h0.7v0.7h-0.7zM114.8,87.7h1.3v1.3h-1.3zM136.8,93.6h1.3v1.3h-1.3zM62.2,70.3h1.2v1.2h-1.2zM98,69.3h1.1v1.1h-1.1zM93.9,84.4h0.8v0.8h-0.8zM79.3,63.9h1v1h-1zM136.2,104.4h1.1v1.1h-1.1zM134.7,76.3h0.8v0.8h-0.8zM133.9,87h1.1v1.1h-1.1zM61,70.3h0.9v0.9h-0.9zM118.5,97.2h1.1v1.1h-1.1zM87.2,77.2h1.2v1.2h-1.2zM139.2,81.8h0.7v0.7h-0.7zM110,84.1h0.9v0.9h-0.9zM78.4,77.3h1v1h-1zM70.1,84.3h1.3v1.3h-1.3zM119.6,71.3h0.9v0.9h-0.9zM68.2,93.2h1v1h-1zM73.8,84.7h1v1h-1zM106.2,77h0.8v0.8h-0.8zM88.4,104.9h0.8v0.8h-0.8zM100.2,80.7h0.7v0.7h-0.7zM92,69.2h0.8v0.8h-0.8zM89.4,75.7h1.3v1.3h-1.3zM83.7,75h1.1v1.1h-1.1zM91.8,83.2h1.1v1.1h-1.1zM65.9,90.2h0.7v0.7h-0.7zM80,96.4h1.3v1.3h-1.3zM113.9,67.7h0.9v0.9h-0.9zM82.6,97.9h0.8v0.8h-0.8zM75.7,88.7h1v1h-1zM107.2,81.5h1.3v1.3h-1.3zM96.7,102.2h0.9v0.9h-0.9zM97.2,76.2h1.1v1.1h-1.1zM120.1,70.8h1v1h-1zM118.1,82.6h1.1v1.1h-1.1zM109.3,92.1h0.8v0.8h-0.8zM84.5,61.1h1.2v1.2h-1.2zM123.2,77.6h1.3v1.3h-1.3zM132.2,66.8h1.2v1.2h-1.2zM93.7,74.1h0.8v0.8h-0.8zM93.1,62.3h0.6v0.6h-0.6zM69.3,73.8h0.7v0.7h-0.7zM69.7,97.4h0.9v0.9h-0.9zM99.2,87.1h1.3v1.3h-1.3zM71.7,70.3h1.2v1.2h-1.2zM132.8,101.9h1v1h-1zM89.4,68.5h1.2v1.2h-1.2zM121.2,84.8h1.2v1.2h-1.2zM80.9,84h1.2v1.2h-1.2zM68.7,87.8h0.7v0.7h-0.7zM127,97.8h1.1v1.1h-1.1zM94.9,61h0.9v0.9h-0.9zM88.7,78h0.7v0.7h-0.7zM133.6,83.5h1v1h-1zM127.4,100.3h1v1h-1zM103.5,98.1h0.9v0.9h-0.9zM132,61.1h1.2v1.2h-1.2zM102.2,88h1.3v1.3h-1.3zM77.6,78.3h1.2v1.2h-1.2zM119.7,83.6h1.1v1.1h-1.1zM114.2,99.1h1.1v1.1h-1.1zM89.1,72.9h0.7v0.7h-0.7zM69.9,61.9h1.3v1.3h-1.3zM71.3,87.1h0.7v0.7h-0.7zM137.3,84h0.7v0.7h-0.7zM126.1,98.7h1.3v1.3h-1.3zM77.9,78.1h1.1v1.1h-1.1zM82.6,85.6h1.1v1.1h-1.1zM120.1,97.1h1.1v1.1h-1.1zM82.8,94h0.9v0.9h-0.9zM73.6,60.9h1v1h-1zM88.6,64.2h0.9v0.9h-0.9zM93.2,74.6h1v1h-1zM103.1,83.8h1.3v1.3h-1.3zM132.4,73.4h1.2v1.2h-1.2zM85.2,102.2h0.6v0.6h-0.6zM85.4,101.9h1.1v1.1h-1.1zM116.5,69.2h0.7v0.7h-0.7zM136.8,63h0.7v0.7h-0.7zM94.5,96.9h1.1v1.1h-1.1zM139.9,95.1h0.9v0.9h-0.9zM132.9,74.2h0.6v0.6h-0.6zM136.8,99.7h1.1v1.1h-1.1zM98.4,69.2h0.8v0.8h-0.8zM65.4,64.2h0.9v0.9h-0.9zM131.7,102h1v1h-1zM113.9,81.1h1.1v1.1h-1.1zM116.5,104.3h1.2v1.2h-1.2zM114.2,86.6h0.7v0.7h-0.7zM97.7,80.1h0.7v0.7h-0.7zM76.1,78.5h0.7v0.7h-0.7zM109.9,74.8h1.3v1.3h-1.3zM114.7,83.2h0.9v0.9h-0.9zM91.3,69h1.3v1.3h-1.3zM133.1,89.3h1.1v1.1h-1.1zM71.5,84.4h0.7v0.7h-0.7zM85.9,86.4h0.7v0.7h-0.7zM78.7,92.9h0.9v0.9h-0.9zM131.2,67.2h0.7v0.7h-0.7zM135.1,87.4h1.1v1.1h-1.1zM104.5,66.7h1.3v1.3h-1.3zM99.6,100.9h0.7v0.7h-0.7zM82,84.7h0.8v0.8h-0.8zM128.8,71.7h0.7v0.7h-0.7zM73,72.2h1.3v1.3h-1.3zM130.3,90.1h0.9v0.9h-0.9zM63.3,97.4h0.7v0.7h-0.7zM76,79.6h1.2v1.2h-1.2zM74.6,62.8h1.2v1.2h-1.2zM60.7,93h0.7v0.7h-0.7zM83.9,69.3h0.9v0.9h-0.9zM133.7,97.8h1v1h-1zM67,67.9h0.8v0.8h-0.8zM123.5,101.2h0.6v0.6h-0.6zM86.7,103.2h0.7v0.7h-0.7zM66.4,72h1.2v1.2h-1.2zM81.1,92.5h0.7v0.7h-0.7zM112.6,67.6h1v1h-1zM119.4,99.5h0.9v0.9h-0.9zM138.8,78.3h1.3v1.3h-1.3zM133.1,104.9h0.7v0.7h-0.7zM81.9,91.3h1.2v1.2h-1.2zM80.5,94.6h0.9v0.9h-0.9zM60.3,63.8h0.6v0.6h-0.6zM78.3,102h1.1v1.1h-1.1zM129,101.2h0.9v0.9h-0.9zM115.7,89.5h1.1v1.1h-1.1zM67.4,100h0.7v0.7h-0.7zM95.6,90.9h1.1v1.1h-1.1zM126.1,74.1h0.8v0.8h-0.8zM118.2,62.1h1.2v1.2h-1.2zM85.2,77.7h0.8v0.8h-0.8zM117.1,67.8h0.7v0.7h-0.7zM65.3,65.9h1v1h-1zM139.1,60.3h0.9v0.9h-0.9zM88.4,73.9h0.8v0.8h-0.8zM68.6,79.1h0.8v0.8h-0.8zM64.8,66.1h1.2v1.2h-1.2zM117.5,104.2h1.2v1.2h-1.2zM119.1,70.2h0.7v0.7h-0.7zM138.7,90.8h1.1v1.1h-1.1zM71.5,95.6h1v1h-1zM67,69.5h1.3v1.3h-1.3zM109.8,64.1h0.7v0.7h-0.7zM120,75.8h0.9v0.9h-0.9zM71,68h0.9v0.9h-0.9zM94.2,68.4h0.7v0.7h-0.7zM95.6,65.1h0.6v0.6h-0.6zM97.9,62.3h1.1v1.1h-1.1zM121.4,91.7h1.3v1.3h-1.3zM73.3,79h0.9v0.9h-0.9zM65.8,98.7h0.6v0.6h-0.6zM138.6,90.4h1.3v1.3h-1.3zM64.8,100.2h1.3v1.3h-1.3zM122.3,86.1h1.1v1.1h-1.1zM98.5,98.4h1v1h-1z" fill="#fff"/>
<path d="M198,72.4h1.3v1.3h-1.3zM227.5,52.4h0.9v0.9h-0.9zM192.4,54h1.4v1.4h-1.4zM191.5,66.3h0.9v0.9h-0.9zM199.7,62.3h1.5v1.5h-1.5zM215.4,45.6h0.9v0.9h-0.9zM192.3,79.9h1.4v1.4h-1.4zM225.3,78.1h1.4v1.4h-1.4zM232.5,76.8h0.9v0.9h-0.9zM227.5,64.5h1.4v1.4h-1.4zM213.2,62.2h1v1h-1zM206.5,57.6h0.8v0.8h-0.8zM226,76.9h1.6v1.6h-1.6zM219.5,67.2h1.4v1.4h-1.4zM191.7,72.1h1.1v1.1h-1.1zM193.8,53.1h1.2v1.2h-1.2zM197.7,63.4h1.2v1.2h-1.2zM204.8,50.2h1.1v1.1h-1.1zM196.8,54.4h0.9v0.9h-0.9zM203.3,47.9h1.3v1.3h-1.3zM232.7,60.6h1.3v1.3h-1.3zM231.6,46.7h0.8v0.8h-0.8zM225.3,78.5h1.3v1.3h-1.3zM193,61.5h1.5v1.5h-1.5zM229.3,77.1h0.9v0.9h-0.9zM227.7,60h1.3v1.3h-1.3zM191.9,83.9h1.2v1.2h-1.2zM221.1,53.5h1.3v1.3h-1.3zM214,68.6h1v1h-1zM221.4,58.7h1v1h-1zM193.2,72.4h0.8v0.8h-0.8zM196.3,47.8h1.3v1.3h-1.3zM212.8,66.7h0.7v0.7h-0.7zM207,58.7h0.8v0.8h-0.8zM185.1,84.9h0.8v0.8h-0.8zM200.1,55.8h1.2v1.2h-1.2zM188.9,63.8h1v1h-1zM226.7,45.2h1v1h-1zM209.8,83.8h1.2v1.2h-1.2zM208.7,71.8h1v1h-1zM186.6,65.1h1.5v1.5h-1.5zM221.9,55.3h1.3v1.3h-1.3zM227.5,55.3h1.2v1.2h-1.2zM202.8,54.8h1v1h-1zM195.2,59h0.7v0.7h-0.7zM204.9,48.5h1.4v1.4h-1.4zM215,45.2h1.4v1.4h-1.4zM194.5,64.2h1.2v1.2h-1.2zM201.6,56.6h1.1v1.1h-1.1zM191.8,79.5h0.8v0.8h-0.8zM226.2,53.7h1v1h-1zM204.4,46.3h0.8v0.8h-0.8zM203.1,62.7h1.5v1.5h-1.5zM234.5,46.7h1.2v1.2h-1.2zM191.5,77.1h1v1h-1zM229.6,66.8h0.8v0.8h-0.8zM185.2,54.9h1.5v1.5h-1.5zM192.5,64.2h1v1h-1zM202.2,77.1h0.9v0.9h-0.9zM220.9,71.7h1.5v1.5h-1.5zM211,81.8h1.1v1.1h-1.1zM213.7,69.8h1.5v1.5h-1.5zM229.9,49.6h0.8v0.8h-0.8zM211.7,77.5h1.2v1.2h-1.2zM200,83.5h1v1h-1zM189.3,47.1h0.7v0.7h-0.7zM221.3,49.3h1.3v1.3h-1.3zM228.3,85h1.4v1.4h-1.4zM206.2,69.9h1.4v1.4h-1.4zM220.8,56.6h1.4v1.4h-1.4zM190.5,57.3h1.6v1.6h-1.6zM208.6,55.7h1.4v1.4h-1.4zM207.5,45.1h0.7v0.7h-0.7zM198,58.3h1.5v1.5h-1.5zM197.4,79h1.5v1.5h-1.5zM205.8,84.7h1.4v1.4h-1.4zM209.2,55.5h1.1v1.1h-1.1zM230.1,66.5h0.9v0.9h-0.9zM203.8,64h0.9v0.9h-0.9zM213.6,46.4h1.4v1.4h-1.4zM193.9,49.1h1.2v1.2h-1.2zM200.4,80.4h1.1v1.1h-1.1zM211.1,78.4h0.9v0.9h-0.9zM222.3,71h1.1v1.1h-1.1zM233,45.9h1.5v1.5h-1.5zM192.2,78.6h0.8v0.8h-0.8zM187.7,65h1.5v1.5h-1.5zM197.9,64.5h1.2v1.2h-1.2zM197.2,66.2h0.7v0.7h-0.7zM207.5,75.4h1v1h-1zM196,47h1.3v1.3h-1.3zM206.4,81.6h1.4v1.4h-1.4zM190,81.6h1.5v1.5h-1.5zM225.8,78.3h1.3v1.3h-1.3zM221,71.7h1.2v1.2h-1.2zM197.9,50.3h1.4v1.4h-1.4zM214.8,47.3h1.3v1.3h-1.3zM215.5,65.5h1.4v1.4h-1.4zM228.8,60.2h1.4v1.4h-1.4zM210,67.9h1.1v1.1h-1.1zM231.7,62.8h1.6v1.6h-1.6zM201.9,71.9h1.5v1.5h-1.5zM219.2,60h0.8v0.8h-0.8zM208.9,61.6h1.4v1.4h-1.4zM224.2,84.4h1.1v1.1h-1.1zM205.5,67.6h1.4v1.4h-1.4zM189,53.6h0.8v0.8h-0.8zM201.2,57h1.6v1.6h-1.6zM195.4,82.3h1v1h-1zM195.2,84h0.8v0.8h-0.8zM190.6,50.1h0.8v0.8h-0.8zM204.3,53.5h0.8v0.8h-0.8zM185.8,72.9h0.7v0.7h-0.7zM196.6,67.6h1.5v1.5h-1.5zM218,73.4h1.3v1.3h-1.3zM224.9,79.1h0.8v0.8h-0.8zM187.7,69.8h1.2v1.2h-1.2zM211,76.3h0.9v0.9h-0.9zM220.3,62.1h1.1v1.1h-1.1zM197.2,56.3h1.2v1.2h-1.2zM212.7,81.3h1v1h-1zM220.8,48.9h1.3v1.3h-1.3zM193,79.3h1.6v1.6h-1.6zM197.7,77.3h0.9v0.9h-0.9zM200.3,49.1h1.1v1.1h-1.1zM190.2,73.2h1.2v1.2h-1.2zM206,73.4h0.9v0.9h-0.9zM201.6,59.5h0.7v0.7h-0.7zM229.3,48.5h0.8v0.8h-0.8zM224.9,77.7h1.1v1.1h-1.1zM206.1,50.6h0.7v0.7h-0.7zM211,54.8h0.8v0.8h-0.8zM230.3,45.8h1v1h-1zM222.6,74.9h0.8v0.8h-0.8zM222.1,67.5h1.3v1.3h-1.3zM232.2,76.9h1.2v1.2h-1.2zM223.5,64.7h1.2v1.2h-1.2zM225.9,69.8h1v1h-1zM186,76.6h1v1h-1zM206.5,56.5h1.2v1.2h-1.2zM205,78.4h1.2v1.2h-1.2zM212.9,76.3h1.1v1.1h-1.1zM211.8,75h1.4v1.4h-1.4zM222.2,80.6h1.2v1.2h-1.2zM212.8,52.5h0.9v0.9h-0.9zM206.7,65h1.5v1.5h-1.5zM187.1,59h1.4v1.4h-1.4zM207.9,78.9h0.8v0.8h-0.8zM223.6,62.2h1.2v1.2h-1.2zM187.8,61.1h1.4v1.4h-1.4zM221.8,67.6h1.1v1.1h-1.1zM187,73h1.1v1.1h-1.1zM221.2,69.5h1.1v1.1h-1.1zM228.7,50.3h1.6v1.6h-1.6zM189.3,83.8h1.2v1.2h-1.2zM207.4,82.4h1.2v1.2h-1.2zM210.4,47.4h1.4v1.4h-1.4zM217,54.6h0.8v0.8h-0.8zM206,82.4h1.5v1.5h-1.5zM208.3,46.4h1.4v1.4h-1.4zM195.1,74.2h1.1v1.1h-1.1zM233.2,50.9h1.4v1.4h-1.4zM221,45.7h1.2v1.2h-1.2zM199.7,72.8h1.6v1.6h-1.6zM218.3,64.8h1.2v1.2h-1.2zM197.4,63.7h0.8v0.8h-0.8zM221,47.6h1.2v1.2h-1.2zM194,67.5h0.8v0.8h-0.8zM186.4,70h1.3v1.3h-1.3zM229.4,72.1h1.6v1.6h-1.6zM192.1,70.2h1.3v1.3h-1.3zM193.8,50.6h0.9v0.9h-0.9zM211.2,76.5h1.3v1.3h-1.3zM213.6,48.1h1.3v1.3h-1.3zM210.6,51.8h1.3v1.3h-1.3zM197.3,57.4h1.1v1.1h-1.1zM222.6,49.3h1.1v1.1h-1.1zM196.8,71.8h1.4v1.4h-1.4zM198.2,73.8h1.1v1.1h-1.1zM195.9,56h1.2v1.2h-1.2zM225.3,69.1h0.7v0.7h-0.7zM224.1,68.2h1.1v1.1h-1.1zM197.1,62.6h1.3v1.3h-1.3zM198.6,50.5h1.5v1.5h-1.5zM207.1,47.8h1.5v1.5h-1.5zM190.5,59.6h1.3v1.3h-1.3zM218.2,81h0.9v0.9h-0.9zM213.5,80.2h1.1v1.1h-1.1zM220.7,63.7h1.3v1.3h-1.3zM232.9,58.6h1.4v1.4h-1.4zM202.2,80.5h1.4v1.4h-1.4zM227.9,80h1.2v1.2h-1.2zM232.5,51.2h1.2v1.2h-1.2zM188.7,68.3h1.3v1.3h-1.3zM199.3,77.5h1.1v1.1h-1.1zM194.9,52.7h1.2v1.2h-1.2zM204.2,46.9h1v1h-1zM233.7,63.9h1.3v1.3h-1.3zM206.3,47.8h1.3v1.3h-1.3zM195.5,49.9h1.3v1.3h-1.3zM218.8,45.4h1.6v1.6h-1.6zM186,51.6h1v1h-1zM224.9,74.7h1.4v1.4h-1.4zM206.5,81.5h0.8v0.8h-0.8zM233,47h0.8v0.8h-0.8zM222.5,75.8h1.3v1.3h-1.3zM197.4,79.7h1.2v1.2h-1.2zM195.3,48.9h1.6v1.6h-1.6zM187.8,53.8h1v1h-1zM229.7,78.2h1.5v1.5h-1.5zM216.5,45.5h1.4v1.4h-1.4zM194.5,82.9h1.6v1.6h-1.6zM188.3,74.3h0.9v0.9h-0.9zM190.2,80h1.1v1.1h-1.1zM199.7,67.4h0.8v0.8h-0.8zM206.2,71h1.5v1.5h-1.5zM191.1,80.7h0.8v0.8h-0.8zM195.3,58.3h0.9v0.9h-0.9zM189.6,71.2h1.1v1.1h-1.1zM194.5,65.6h0.8v0.8h-0.8zM219.1,83.6h1.1v1.1h-1.1zM206.1,60.9h1v1h-1zM205.7,52.1h1v1h-1zM219.5,64.2h0.8v0.8h-0.8zM192.3,78.6h1v1h-1zM226.5,69.7h1.3v1.3h-1.3zM202.8,68.2h1.1v1.1h-1.1zM210.8,82.8h0.8v0.8h-0.8zM195.7,81.1h1.5v1.5h-1.5zM225.6,79.4h0.8v0.8h-0.8zM220.9,50h1.5v1.5h-1.5zM204.8,64.6h1.2v1.2h-1.2zM195.3,67.7h1.5v1.5h-1.5zM207.4,62.6h1v1h-1zM194.5,56.4h1.5v1.5h-1.5zM233.2,60h1v1h-1zM201.9,79.5h0.9v0.9h-0.9zM194.1,57.6h0.8v0.8h-0.8zM192.3,54.3h1.3v1.3h-1.3zM231.5,55.4h1v1h-1zM214.3,46.2h0.8v0.8h-0.8zM213.7,63.6h1v1h-1zM205.8,45.8h0.9v0.9h-0.9zM193.9,54.5h0.8v0.8h-0.8zM225.8,45.7h1.1v1.1h-1.1zM193.6,53.1h1.4v1.4h-1.4zM233.1,83.6h1v1h-1zM212.1,62.3h0.8v0.8h-0.8zM206.1,69.5h1.1v1.1h-1.1zM224.2,62.9h1v1h-1zM229.8,67.8h0.9v0.9h-0.9zM230.2,64.2h1.2v1.2h-1.2zM208.4,79.4h1.4v1.4h-1.4zM207.1,59.6h1.4v1.4h-1.4zM226.9,69.1h1.5v1.5h-1.5zM211.4,61.6h1v1h-1zM198.5,51.1h1.5v1.5h-1.5zM212.6,48.3h0.9v0.9h-0.9zM206.2,77.2h1.5v1.5h-1.5zM223,56.7h1.1v1.1h-1.1z" fill="#fff"/>
<path d="M119.6,56.6h1v1h-1zM194.6,37.2h0.8v0.8h-0.8zM176.1,54.6h0.8v0.8h-0.8zM171.6,42.9h1.1v1.1h-1.1zM120.7,35h1.1v1.1h-1.1zM142.2,36.7h1.1v1.1h-1.1zM166.8,31.7h0.9v0.9h-0.9zM169.8,32.4h1v1h-1zM121.1,40.2h0.6v0.6h-0.6zM128.4,69h0.8v0.8h-0.8zM199.1,44.7h1v1h-1zM188.5,55.9h0.7v0.7h-0.7zM163,53.5h0.7v0.7h-0.7zM118.5,64.4h0.9v0.9h-0.9zM127.4,45.4h0.7v0.7h-0.7zM181.8,47.5h0.7v0.7h-0.7zM183.6,29h0.8v0.8h-0.8zM112.5,58.3h0.7v0.7h-0.7zM157.3,29.2h0.9v0.9h-0.9zM171.7,49.1h0.9v0.9h-0.9zM153.6,44.7h1v1h-1zM118.5,46.4h0.7v0.7h-0.7zM187.9,67.3h0.6v0.6h-0.6zM122.9,56.7h0.9v0.9h-0.9zM111.7,56.7h1.2v1.2h-1.2zM148.1,40.6h0.9v0.9h-0.9zM194.5,36.9h0.8v0.8h-0.8zM127,53.3h0.9v0.9h-0.9zM133,42.5h0.6v0.6h-0.6zM138.1,69.2h1v1h-1zM135.4,67.1h0.8v0.8h-0.8zM132.6,26.6h0.7v0.7h-0.7zM127.9,35.4h1.1v1.1h-1.1zM133.8,36.2h1v1h-1zM192.5,38.1h1.1v1.1h-1.1zM143.2,50.3h1v1h-1zM194.8,59.1h0.9v0.9h-0.9zM185.7,41.5h0.8v0.8h-0.8zM196.4,49.6h1.1v1.1h-1.1zM138.3,66.2h1v1h-1zM132.3,67h0.9v0.9h-0.9zM140.5,36.8h0.7v0.7h-0.7zM128.1,56.2h0.7v0.7h-0.7zM133.3,45.1h0.9v0.9h-0.9zM144.2,60.3h0.8v0.8h-0.8zM143.2,44.1h0.7v0.7h-0.7zM130,31.6h1v1h-1zM123.2,55.1h0.7v0.7h-0.7zM168.2,54.5h0.8v0.8h-0.8zM194,54.6h0.9v0.9h-0.9zM114.2,43.3h0.8v0.8h-0.8zM152.3,67h1.1v1.1h-1.1zM115.6,55.6h1.2v1.2h-1.2zM158.8,29.4h1.1v1.1h-1.1zM148.4,69.1h1.1v1.1h-1.1zM184.6,66.9h0.6v0.6h-0.6zM181.4,38.7h0.7v0.7h-0.7zM144.1,51.5h0.6v0.6h-0.6zM150.5,60.3h0.9v0.9h-0.9zM157.5,38.3h1.2v1.2h-1.2zM132.3,55.7h1v1h-1zM110.1,69.8h0.7v0.7h-0.7zM199,66.8h1.1v1.1h-1.1zM187,42.9h0.9v0.9h-0.9zM141.1,67.1h0.6v0.6h-0.6zM122.3,68h1.1v1.1h-1.1zM173.5,68.6h0.9v0.9h-0.9zM185.2,44.9h1.1v1.1h-1.1zM116.3,44.7h0.9v0.9h-0.9zM181.5,44h1v1h-1zM197.1,43.8h0.7v0.7h-0.7zM112.7,63.8h0.9v0.9h-0.9zM144.9,48.4h0.7v0.7h-0.7zM130,35.6h0.8v0.8h-0.8zM187.4,36.1h0.7v0.7h-0.7zM188,50.1h0.6v0.6h-0.6zM170.8,55.9h1v1h-1zM179.7,44.1h0.7v0.7h-0.7zM177,53.1h1v1h-1zM126.5,41.8h1v1h-1zM144.6,52.1h0.9v0.9h-0.9zM177.9,40.7h0.9v0.9h-0.9zM184.6,39h0.7v0.7h-0.7zM167.3,31h1.1v1.1h-1.1zM134.7,65.7h0.9v0.9h-0.9zM123.9,48.4h1v1h-1zM153.8,53.6h0.8v0.8h-0.8zM196.3,32.9h1.1v1.1h-1.1zM112.1,47.8h0.6v0.6h-0.6zM121.9,51.5h1.1v1.1h-1.1zM137.8,43.1h0.9v0.9h-0.9zM164.5,40.8h0.8v0.8h-0.8zM186.8,50h0.8v0.8h-0.8zM183.6,70h0.9v0.9h-0.9zM111.4,38.7h1.1v1.1h-1.1zM125.5,33.9h1.1v1.1h-1.1zM120.3,63.2h0.7v0.7h-0.7zM144.9,51.7h0.7v0.7h-0.7zM179.7,44.7h1.1v1.1h-1.1zM178.8,28.5h1.1v1.1h-1.1zM183.9,35.9h1v1h-1zM128.5,49.2h1.1v1.1h-1.1zM143.9,49h0.7v0.7h-0.7zM187.7,53.2h1.1v1.1h-1.1zM117.3,58.5h0.7v0.7h-0.7zM160.1,35.4h1.1v1.1h-1.1zM119.6,46.3h0.9v0.9h-0.9zM144.7,27.9h1v1h-1zM197.5,41.2h1.1v1.1h-1.1zM140.5,37.3h0.9v0.9h-0.9zM197.6,60.1h1v1h-1zM113.6,45.3h0.6v0.6h-0.6zM115.6,41.9h0.7v0.7h-0.7zM119.4,48h1.1v1.1h-1.1zM193.3,66.2h0.9v0.9h-0.9zM126.1,68.4h0.9v0.9h-0.9zM140.9,62.1h0.9v0.9h-0.9zM195.7,56.6h1.2v1.2h-1.2zM123.8,67.4h0.9v0.9h-0.9zM172.7,38.5h0.7v0.7h-0.7zM136.7,32.6h1.2v1.2h-1.2zM120.7,35.9h1v1h-1zM128.4,34.6h0.8v0.8h-0.8zM131.1,25.5h1v1h-1zM169.3,39h1.1v1.1h-1.1zM160.3,34.9h1.2v1.2h-1.2zM130.7,61.4h1.1v1.1h-1.1zM110.3,63.1h0.9v0.9h-0.9zM155.2,67.6h0.9v0.9h-0.9zM131.7,27.2h1.1v1.1h-1.1zM150.9,57h1v1h-1zM198.2,67.1h1.2v1.2h-1.2zM155.4,66h0.8v0.8h-0.8zM121.2,53.8h0.6v0.6h-0.6zM197.5,39.6h0.9v0.9h-0.9zM136.2,39.5h0.9v0.9h-0.9zM182.1,25.6h0.8v0.8h-0.8zM132.2,68.1h0.9v0.9h-0.9zM150,67.2h0.8v0.8h-0.8zM144.6,43h0.7v0.7h-0.7zM173.4,37.9h0.9v0.9h-0.9zM161.4,59.5h1v1h-1zM153.3,67.7h1.2v1.2h-1.2zM194.4,57.1h0.9v0.9h-0.9zM142.4,63.7h0.9v0.9h-0.9zM177.3,42.4h0.8v0.8h-0.8zM111.6,57.9h0.8v0.8h-0.8zM154.5,57.7h1.1v1.1h-1.1zM195,54.9h0.7v0.7h-0.7zM193.6,27.4h0.8v0.8h-0.8zM193.3,63h1v1h-1zM188.2,33h0.6v0.6h-0.6zM136.7,66.9h0.6v0.6h-0.6zM139.3,47.9h0.7v0.7h-0.7zM188.4,29.8h0.7v0.7h-0.7zM199.8,25.5h0.7v0.7h-0.7zM146.8,64.6h0.8v0.8h-0.8zM161.3,61.2h1v1h-1zM184.8,25.7h0.9v0.9h-0.9zM111.9,63.4h0.6v0.6h-0.6zM118.5,44.3h1v1h-1zM111.3,53.8h0.7v0.7h-0.7zM139.1,26.9h1v1h-1zM184.8,59.6h0.8v0.8h-0.8zM132.5,68.3h1.1v1.1h-1.1zM197.2,43.7h1.1v1.1h-1.1zM171,60.4h0.9v0.9h-0.9zM180.6,47.4h0.8v0.8h-0.8zM153,26.8h1v1h-1zM140.1,33.1h1.1v1.1h-1.1zM157.3,39.2h1.2v1.2h-1.2zM194.4,44.1h0.9v0.9h-0.9zM110,41h1.2v1.2h-1.2zM155.9,69.7h0.6v0.6h-0.6zM111.6,27.8h0.6v0.6h-0.6zM178,69.5h1.1v1.1h-1.1zM164.4,42.2h0.8v0.8h-0.8zM121.7,42.9h0.7v0.7h-0.7zM182.9,49.2h0.8v0.8h-0.8zM186.7,38.5h1.1v1.1h-1.1zM174.6,53.3h1v1h-1zM167,65.6h1.2v1.2h-1.2zM160.3,68.2h0.7v0.7h-0.7zM193.4,64.8h1v1h-1zM119.9,64.9h0.8v0.8h-0.8zM140,67.8h0.7v0.7h-0.7zM168,35.2h1.1v1.1h-1.1zM129.5,29.8h0.9v0.9h-0.9zM151.2,58.8h0.8v0.8h-0.8zM136.3,38.2h0.9v0.9h-0.9zM121.9,50.2h1.1v1.1h-1.1zM171.9,36.5h0.9v0.9h-0.9zM118.5,46.2h1.1v1.1h-1.1zM110.1,54.1h1.2v1.2h-1.2zM135.2,39.3h1v1h-1zM124,37.1h1v1h-1zM156.6,32.5h0.7v0.7h-0.7zM154.2,64h0.7v0.7h-0.7zM171.6,48.9h0.8v0.8h-0.8zM147.2,62h0.7v0.7h-0.7zM159.2,46.5h0.7v0.7h-0.7zM147.3,32.7h0.8v0.8h-0.8zM112.7,50.5h1.1v1.1h-1.1zM188.6,67h0.8v0.8h-0.8zM182,41.1h1v1h-1zM152.4,58.4h0.8v0.8h-0.8zM196.3,46h1.1v1.1h-1.1zM126.2,57.8h0.7v0.7h-0.7zM146.8,42.1h1v1h-1zM162,37.4h1.2v1.2h-1.2zM113.6,46.5h0.7v0.7h-0.7zM119.8,34.9h1.2v1.2h-1.2zM112,57.4h0.9v0.9h-0.9zM185.2,63.3h0.7v0.7h-0.7zM193.2,31.4h0.7v0.7h-0.7zM131.4,56.4h0.9v0.9h-0.9zM172.1,34.7h0.9v0.9h-0.9zM139.4,68.3h0.9v0.9h-0.9zM172.9,45.2h0.7v0.7h-0.7zM118.7,35.1h1v1h-1z" fill="#fff"/>
<path d="M267.6,174.2h1.7v1.7h-1.7zM211.1,190.8h0.8v0.8h-0.8zM261.6,185.6h1.8v1.8h-1.8zM270,178.1h1.2v1.2h-1.2zM249.6,178.8h1.1v1.1h-1.1zM216,188.6h1.8v1.8h-1.8zM255.8,177.8h1.9v1.9h-1.9zM235.8,177.9h1.3v1.3h-1.3zM229.4,175.3h1.5v1.5h-1.5zM225.2,183.7h1.9v1.9h-1.9zM245.2,180.9h1.8v1.8h-1.8zM269.7,182.3h1.9v1.9h-1.9zM201.3,176.4h1v1h-1zM265.7,185.7h1.7v1.7h-1.7zM220.1,182.4h1.9v1.9h-1.9zM207,176h0.9v0.9h-0.9zM232.8,188.3h1.5v1.5h-1.5zM228.1,182.5h1v1h-1zM266.4,180h1.1v1.1h-1.1zM221.8,188h1.2v1.2h-1.2zM263.3,179.7h1.3v1.3h-1.3zM205.2,189.4h1.8v1.8h-1.8zM233.2,176h1.4v1.4h-1.4zM226.3,188.3h1.9v1.9h-1.9zM251.9,178.9h0.8v0.8h-0.8zM262.6,190.1h1v1h-1zM235,182.2h2v2h-2zM203,175h1.8v1.8h-1.8zM239.9,181.9h1.7v1.7h-1.7zM241.5,185.8h1.1v1.1h-1.1zM205.9,174.2h1.2v1.2h-1.2zM245.4,180.5h1.2v1.2h-1.2zM243.3,186h1.5v1.5h-1.5zM221.8,188h1.8v1.8h-1.8zM262.5,189.2h0.8v0.8h-0.8zM246.8,179.9h1.3v1.3h-1.3zM236.3,176.4h1.1v1.1h-1.1zM269,179.6h1.9v1.9h-1.9zM247.9,179.4h1.2v1.2h-1.2zM242.3,185.9h1.2v1.2h-1.2zM204.1,176.9h1.8v1.8h-1.8zM251,175.8h1.8v1.8h-1.8zM240.3,179.7h1.9v1.9h-1.9zM209,175.7h1.2v1.2h-1.2zM251.6,183.3h1.4v1.4h-1.4zM263.5,180.7h1.7v1.7h-1.7zM200.3,187.3h1v1h-1zM245.9,188.3h1.6v1.6h-1.6zM240.5,183.4h1.7v1.7h-1.7zM225.8,178h1.5v1.5h-1.5zM236.4,176h1.4v1.4h-1.4zM232.7,176.7h1.6v1.6h-1.6zM254.5,179.8h1.8v1.8h-1.8zM269.1,185.3h1.3v1.3h-1.3zM219.1,176.2h1.1v1.1h-1.1zM269.9,175h1.9v1.9h-1.9zM248.8,187.3h0.9v0.9h-0.9zM245.2,177.5h1.6v1.6h-1.6zM255.6,186.3h1.4v1.4h-1.4zM261.9,177.9h1v1h-1zM260.6,174.9h1.3v1.3h-1.3zM229.4,188.9h1.2v1.2h-1.2zM239.9,182.5h1.4v1.4h-1.4zM233.1,182h1.5v1.5h-1.5zM230.3,181.2h1.9v1.9h-1.9zM268.4,178.2h1.9v1.9h-1.9zM201.7,179.7h1.9v1.9h-1.9zM211.8,185.4h2v2h-2zM242.8,181.8h0.8v0.8h-0.8zM231.6,181.9h1.7v1.7h-1.7zM227.3,187.7h1.3v1.3h-1.3zM244.5,186.9h1v1h-1zM266.7,181.7h1.4v1.4h-1.4zM268.1,183.7h1.4v1.4h-1.4zM215,177.7h1.7v1.7h-1.7zM235.4,185.2h1.6v1.6h-1.6zM247.8,179.5h1.8v1.8h-1.8zM231.5,177h1.8v1.8h-1.8zM263.1,176h1.9v1.9h-1.9zM248.2,178.6h1.5v1.5h-1.5zM264.5,176.6h1.6v1.6h-1.6zM216.8,176.5h1.9v1.9h-1.9zM269.7,185.1h1.8v1.8h-1.8zM227.7,181.3h1.5v1.5h-1.5zM257,185.9h1.4v1.4h-1.4zM243.9,180.8h1.8v1.8h-1.8zM260.8,187.2h1.2v1.2h-1.2zM226.7,190.7h1.3v1.3h-1.3zM246.5,175.6h1v1h-1zM215.8,185.4h1.1v1.1h-1.1zM246,175.2h1.6v1.6h-1.6zM249.1,178.4h1.1v1.1h-1.1zM217.6,182.4h1v1h-1zM216.4,187.7h1.9v1.9h-1.9zM211.3,182.8h1.6v1.6h-1.6zM266.4,183.5h1.4v1.4h-1.4zM254,187.4h1.7v1.7h-1.7zM243.6,187.8h0.9v0.9h-0.9zM253.7,177.8h1.2v1.2h-1.2zM227.6,182.8h1.5v1.5h-1.5zM241.1,179.4h1.2v1.2h-1.2zM245.9,189.8h1.3v1.3h-1.3zM200.6,188.5h1.9v1.9h-1.9zM258.9,184.8h1.3v1.3h-1.3zM204.6,189.7h1.3v1.3h-1.3zM208.6,184.6h0.9v0.9h-0.9zM227.2,184.3h1.8v1.8h-1.8zM225.1,177.3h1.2v1.2h-1.2zM257.4,175.5h1v1h-1zM224.3,190.2h1.9v1.9h-1.9z" fill="#fff"/>
<path d="M132.2,169.7h0.9v0.9h-0.9zM153,166.8h1v1h-1zM107.2,176h0.6v0.6h-0.6zM117.7,163.7h0.7v0.7h-0.7zM225.4,162.7h1.1v1.1h-1.1zM277.3,160.4h1.1v1.1h-1.1zM241.1,177.4h0.6v0.6h-0.6zM155.5,175.7h0.8v0.8h-0.8zM98.7,162.7h0.8v0.8h-0.8zM236.2,164.3h0.9v0.9h-0.9zM200.9,188.9h0.8v0.8h-0.8zM54.7,189.9h1.1v1.1h-1.1zM236.8,171.5h0.7v0.7h-0.7zM81.7,162.5h0.9v0.9h-0.9zM60,178.7h1v1h-1zM47.2,184.5h0.9v0.9h-0.9zM268.2,169.5h1.1v1.1h-1.1zM154.8,175.1h0.9v0.9h-0.9zM49.6,155.9h0.7v0.7h-0.7zM143.1,165.1h0.9v0.9h-0.9zM204.9,166.4h0.8v0.8h-0.8zM168.7,189.1h1.1v1.1h-1.1zM203.9,183.5h0.7v0.7h-0.7zM68.6,153.8h0.7v0.7h-0.7zM46.2,175.6h1.2v1.2h-1.2zM71.7,178.2h1.2v1.2h-1.2zM230.8,156.3h1v1h-1zM106.3,157.3h0.6v0.6h-0.6zM172.2,187.7h0.7v0.7h-0.7zM79.9,165.9h0.6v0.6h-0.6zM157.3,179.9h0.9v0.9h-0.9zM53.5,151.2h0.7v0.7h-0.7zM206.8,187.9h0.9v0.9h-0.9zM69.2,158.9h0.8v0.8h-0.8zM70.4,154.8h0.9v0.9h-0.9zM249.1,159.7h1.1v1.1h-1.1zM257.8,167.7h0.7v0.7h-0.7zM89,177.4h1.1v1.1h-1.1zM254,158.6h0.9v0.9h-0.9zM49.4,162.5h0.8v0.8h-0.8zM74.2,153.1h1.2v1.2h-1.2zM118.4,170.5h0.9v0.9h-0.9zM159.2,174.2h0.9v0.9h-0.9zM163.6,153.3h1v1h-1zM207.2,179.7h0.8v0.8h-0.8zM156.8,183.1h1v1h-1zM56.8,163.7h0.7v0.7h-0.7zM217.5,166.5h0.8v0.8h-0.8zM98.4,168.6h1v1h-1zM198,159.1h0.8v0.8h-0.8z" fill="#fff"/>
<circle cx="95.5" cy="166.5" r="1" fill="#fff" stroke="none" stroke-width="0"/>
<circle cx="103" cy="169" r="1" fill="#fff" stroke="none" stroke-width="0"/>
<circle cx="108.5" cy="172" r="1.2" fill="#fff" stroke="none" stroke-width="0"/>
<circle cx="114" cy="178.5" r="2.6" fill="#fff" stroke="none" stroke-width="0"/>
<line x1="43.6" y1="73.1" x2="288.2" y2="73.1" stroke="#888" stroke-width="0.5" stroke-dasharray="3,3" stroke-linecap="butt"/>
<line x1="259.3" y1="43.8" x2="127" y2="156.4" stroke="#000" stroke-width="3"/>
</g>
<rect x="43.6" y="21.9" width="244.6" height="169.5" fill="none" stroke="#777" stroke-width="0.8"/>
<g clip-path="url(#cbp)">
<path fill="#24ed96" shape-rendering="crispEdges" d="M299 21h4v2h-4zM305 21h2v2h-2zM311 21h4v2h-4zM319 21h2v2h-2zM355 21h8v2h-8zM365 21h6v2h-6zM373 21h2v2h-2zM393 21h8v2h-8zM305 23h6v2h-6zM313 23h2v2h-2zM317 23h4v2h-4zM353 23h8v2h-8zM391 23h8v2h-8zM309 25h4v2h-4zM317 25h8v2h-8zM357 25h8v2h-8zM391 25h4v2h-4zM311 27h2v2h-2zM317 27h6v2h-6zM379 27h2v2h-2zM389 27h2v2h-2zM299 29h4v2h-4zM313 29h8v2h-8zM377 29h4v2h-4zM383 29h2v2h-2zM391 29h2v2h-2zM381 31h4v2h-4zM389 31h6v2h-6zM397 31h2v2h-2zM331 33h2v2h-2zM375 33h4v2h-4zM383 33h2v2h-2zM387 33h6v2h-6zM397 33h2v2h-2zM387 35h8v2h-8zM397 35h2v2h-2zM411 35h4v2h-4zM329 37h2v2h-2zM351 37h2v2h-2zM389 37h2v2h-2zM393 37h4v2h-4zM409 37h6v2h-6zM385 39h2v2h-2zM389 39h8v2h-8zM409 39h4v2h-4zM415 39h2v2h-2zM391 41h2v2h-2zM411 41h2v2h-2zM415 41h2v2h-2zM399 43h2v2h-2zM299 45h2v2h-2zM299 47h2v2h-2zM355 51h6v2h-6zM371 51h2v2h-2zM395 51h4v2h-4zM353 53h8v2h-8zM367 53h8v2h-8zM393 53h8v2h-8zM355 55h6v2h-6zM367 55h4v2h-4zM375 55h2v2h-2zM391 55h4v2h-4zM397 55h4v2h-4zM417 55h2v2h-2zM367 57h4v2h-4zM375 57h2v2h-2zM393 57h4v2h-4zM403 57h2v2h-2zM415 57h4v2h-4zM421 57h2v2h-2zM349 59h2v2h-2zM409 59h2v2h-2zM413 59h2v2h-2zM417 59h2v2h-2zM331 61h4v2h-4zM345 61h4v2h-4zM351 61h2v2h-2zM371 61h2v2h-2zM379 61h2v2h-2zM327 63h2v2h-2zM331 63h2v2h-2zM345 63h4v2h-4zM351 63h2v2h-2zM377 63h2v2h-2zM403 63h2v2h-2zM411 63h6v2h-6zM333 65h4v2h-4zM351 65h2v2h-2zM371 65h2v2h-2zM377 65h4v2h-4zM393 65h2v2h-2zM401 65h2v2h-2zM405 65h6v2h-6zM335 67h2v2h-2zM341 67h6v2h-6zM349 67h4v2h-4zM375 67h4v2h-4zM381 67h2v2h-2zM391 67h4v2h-4zM397 67h2v2h-2zM405 67h4v2h-4zM411 67h2v2h-2zM327 69h2v2h-2zM337 69h10v2h-10zM349 69h4v2h-4zM355 69h2v2h-2zM375 69h8v2h-8zM391 69h2v2h-2zM405 69h6v2h-6zM415 69h4v2h-4zM327 71h2v2h-2zM337 71h14v2h-14zM353 71h4v2h-4zM373 71h2v2h-2zM381 71h2v2h-2zM391 71h2v2h-2zM397 71h4v2h-4zM405 71h8v2h-8zM415 71h2v2h-2zM419 71h2v2h-2zM327 73h2v2h-2zM339 73h2v2h-2zM349 73h2v2h-2zM353 73h2v2h-2zM371 73h2v2h-2zM377 73h2v2h-2zM381 73h10v2h-10zM399 73h6v2h-6zM419 73h2v2h-2zM327 75h2v2h-2zM347 75h2v2h-2zM355 75h4v2h-4zM365 75h4v2h-4zM375 75h4v2h-4zM401 75h6v2h-6zM417 75h2v2h-2zM319 77h4v2h-4zM327 77h2v2h-2zM339 77h4v2h-4zM377 77h2v2h-2zM381 77h2v2h-2zM401 77h8v2h-8zM417 77h4v2h-4zM303 79h2v2h-2zM315 79h4v2h-4zM321 79h2v2h-2zM325 79h2v2h-2zM341 79h2v2h-2zM377 79h4v2h-4zM405 79h2v2h-2zM299 81h4v2h-4zM305 81h2v2h-2zM309 81h6v2h-6zM339 81h2v2h-2zM307 83h6v2h-6zM341 83h4v2h-4zM405 83h2v2h-2zM311 85h4v2h-4zM319 85h2v2h-2zM341 91h2v2h-2zM339 93h2v2h-2zM351 93h2v2h-2zM303 95h2v2h-2zM341 95h2v2h-2zM301 97h2v2h-2zM305 97h2v2h-2zM345 97h2v2h-2zM349 97h2v2h-2zM299 99h2v2h-2zM305 99h2v2h-2zM309 99h2v2h-2zM345 99h8v2h-8zM303 101h2v2h-2zM309 101h2v2h-2zM347 101h6v2h-6zM363 101h4v2h-4zM301 103h2v2h-2zM305 103h2v2h-2z"/>
<path fill="#2aee80" shape-rendering="crispEdges" d="M303 21h2v2h-2zM307 21h4v2h-4zM315 21h4v2h-4zM321 21h6v2h-6zM335 21h4v2h-4zM341 21h2v2h-2zM353 21h2v2h-2zM363 21h2v2h-2zM371 21h2v2h-2zM375 21h12v2h-12zM389 21h4v2h-4zM401 21h2v2h-2zM299 23h6v2h-6zM311 23h2v2h-2zM315 23h2v2h-2zM321 23h6v2h-6zM333 23h2v2h-2zM337 23h2v2h-2zM349 23h4v2h-4zM361 23h16v2h-16zM379 23h12v2h-12zM399 23h2v2h-2zM411 23h6v2h-6zM301 25h8v2h-8zM325 25h4v2h-4zM331 25h4v2h-4zM341 25h4v2h-4zM349 25h8v2h-8zM365 25h14v2h-14zM381 25h6v2h-6zM389 25h2v2h-2zM395 25h4v2h-4zM409 25h2v2h-2zM413 25h4v2h-4zM299 27h12v2h-12zM323 27h6v2h-6zM343 27h2v2h-2zM349 27h16v2h-16zM369 27h10v2h-10zM381 27h8v2h-8zM391 27h8v2h-8zM413 27h2v2h-2zM421 27h2v2h-2zM303 29h10v2h-10zM321 29h2v2h-2zM325 29h8v2h-8zM339 29h4v2h-4zM347 29h12v2h-12zM361 29h2v2h-2zM371 29h6v2h-6zM381 29h2v2h-2zM385 29h6v2h-6zM393 29h4v2h-4zM401 29h2v2h-2zM411 29h4v2h-4zM417 29h4v2h-4zM299 31h8v2h-8zM311 31h22v2h-22zM335 31h4v2h-4zM345 31h4v2h-4zM351 31h6v2h-6zM359 31h2v2h-2zM367 31h2v2h-2zM371 31h2v2h-2zM375 31h6v2h-6zM385 31h4v2h-4zM395 31h2v2h-2zM401 31h2v2h-2zM411 31h4v2h-4zM299 33h4v2h-4zM305 33h2v2h-2zM321 33h10v2h-10zM333 33h22v2h-22zM357 33h6v2h-6zM367 33h2v2h-2zM379 33h4v2h-4zM385 33h2v2h-2zM399 33h18v2h-18zM305 35h2v2h-2zM323 35h44v2h-44zM373 35h14v2h-14zM399 35h12v2h-12zM415 35h2v2h-2zM323 37h6v2h-6zM331 37h14v2h-14zM349 37h2v2h-2zM353 37h2v2h-2zM361 37h6v2h-6zM373 37h6v2h-6zM383 37h6v2h-6zM397 37h8v2h-8zM407 37h2v2h-2zM415 37h2v2h-2zM323 39h10v2h-10zM339 39h14v2h-14zM357 39h2v2h-2zM361 39h4v2h-4zM367 39h2v2h-2zM375 39h4v2h-4zM381 39h4v2h-4zM387 39h2v2h-2zM397 39h6v2h-6zM405 39h4v2h-4zM413 39h2v2h-2zM417 39h2v2h-2zM299 41h4v2h-4zM325 41h2v2h-2zM345 41h2v2h-2zM361 41h10v2h-10zM375 41h16v2h-16zM393 41h12v2h-12zM407 41h4v2h-4zM413 41h2v2h-2zM299 43h6v2h-6zM357 43h10v2h-10zM369 43h4v2h-4zM377 43h22v2h-22zM401 43h4v2h-4zM409 43h8v2h-8zM301 45h2v2h-2zM357 45h10v2h-10zM369 45h6v2h-6zM377 45h6v2h-6zM387 45h26v2h-26zM419 45h2v2h-2zM301 47h2v2h-2zM355 47h26v2h-26zM387 47h16v2h-16zM405 47h12v2h-12zM299 49h2v2h-2zM351 49h16v2h-16zM369 49h10v2h-10zM381 49h2v2h-2zM385 49h2v2h-2zM389 49h2v2h-2zM393 49h10v2h-10zM407 49h2v2h-2zM413 49h4v2h-4zM351 51h4v2h-4zM361 51h10v2h-10zM373 51h6v2h-6zM383 51h2v2h-2zM389 51h6v2h-6zM399 51h2v2h-2zM405 51h4v2h-4zM417 51h2v2h-2zM421 51h2v2h-2zM331 53h2v2h-2zM347 53h6v2h-6zM361 53h6v2h-6zM375 53h6v2h-6zM383 53h2v2h-2zM387 53h2v2h-2zM391 53h2v2h-2zM401 53h6v2h-6zM409 53h14v2h-14zM327 55h2v2h-2zM343 55h2v2h-2zM347 55h8v2h-8zM361 55h6v2h-6zM371 55h4v2h-4zM377 55h2v2h-2zM381 55h2v2h-2zM385 55h6v2h-6zM401 55h4v2h-4zM409 55h8v2h-8zM419 55h4v2h-4zM327 57h2v2h-2zM337 57h2v2h-2zM343 57h4v2h-4zM349 57h18v2h-18zM371 57h4v2h-4zM377 57h6v2h-6zM387 57h6v2h-6zM397 57h6v2h-6zM405 57h10v2h-10zM307 59h2v2h-2zM311 59h2v2h-2zM325 59h6v2h-6zM333 59h4v2h-4zM343 59h6v2h-6zM351 59h36v2h-36zM389 59h18v2h-18zM411 59h2v2h-2zM415 59h2v2h-2zM305 61h4v2h-4zM311 61h2v2h-2zM325 61h6v2h-6zM335 61h2v2h-2zM343 61h2v2h-2zM349 61h2v2h-2zM353 61h10v2h-10zM369 61h2v2h-2zM373 61h6v2h-6zM381 61h4v2h-4zM387 61h4v2h-4zM395 61h4v2h-4zM401 61h16v2h-16zM309 63h4v2h-4zM323 63h4v2h-4zM329 63h2v2h-2zM333 63h12v2h-12zM349 63h2v2h-2zM353 63h2v2h-2zM363 63h2v2h-2zM369 63h8v2h-8zM379 63h8v2h-8zM391 63h8v2h-8zM401 63h2v2h-2zM405 63h6v2h-6zM325 65h4v2h-4zM337 65h14v2h-14zM353 65h2v2h-2zM365 65h2v2h-2zM369 65h2v2h-2zM373 65h4v2h-4zM381 65h4v2h-4zM387 65h6v2h-6zM395 65h6v2h-6zM325 67h4v2h-4zM337 67h4v2h-4zM347 67h2v2h-2zM353 67h4v2h-4zM369 67h6v2h-6zM389 67h2v2h-2zM399 67h2v2h-2zM409 67h2v2h-2zM413 67h4v2h-4zM323 69h4v2h-4zM353 69h2v2h-2zM357 69h2v2h-2zM383 69h2v2h-2zM413 69h2v2h-2zM325 71h2v2h-2zM357 71h2v2h-2zM367 71h4v2h-4zM375 71h2v2h-2zM383 71h4v2h-4zM389 71h2v2h-2zM413 71h2v2h-2zM321 73h2v2h-2zM325 73h2v2h-2zM347 73h2v2h-2zM355 73h4v2h-4zM365 73h2v2h-2zM369 73h2v2h-2zM411 73h2v2h-2zM299 75h4v2h-4zM311 75h2v2h-2zM317 75h10v2h-10zM359 75h4v2h-4zM379 75h4v2h-4zM299 77h6v2h-6zM309 77h10v2h-10zM323 77h4v2h-4zM379 77h2v2h-2zM299 79h4v2h-4zM305 79h10v2h-10zM323 79h2v2h-2zM307 81h2v2h-2zM303 97h2v2h-2zM343 97h2v2h-2zM301 99h4v2h-4zM299 101h2v2h-2zM361 101h2v2h-2zM299 103h2v2h-2z"/>
<path fill="#30f06a" shape-rendering="crispEdges" d="M327 21h8v2h-8zM339 21h2v2h-2zM349 21h4v2h-4zM387 21h2v2h-2zM409 21h14v2h-14zM327 23h6v2h-6zM335 23h2v2h-2zM339 23h10v2h-10zM377 23h2v2h-2zM401 23h4v2h-4zM409 23h2v2h-2zM419 23h4v2h-4zM299 25h2v2h-2zM329 25h2v2h-2zM337 25h2v2h-2zM345 25h4v2h-4zM379 25h2v2h-2zM387 25h2v2h-2zM399 25h4v2h-4zM411 25h2v2h-2zM417 25h2v2h-2zM421 25h2v2h-2zM329 27h14v2h-14zM345 27h4v2h-4zM365 27h4v2h-4zM399 27h2v2h-2zM403 27h4v2h-4zM409 27h4v2h-4zM415 27h4v2h-4zM323 29h2v2h-2zM333 29h6v2h-6zM343 29h4v2h-4zM359 29h2v2h-2zM363 29h8v2h-8zM397 29h4v2h-4zM403 29h8v2h-8zM415 29h2v2h-2zM421 29h2v2h-2zM307 31h4v2h-4zM333 31h2v2h-2zM339 31h6v2h-6zM349 31h2v2h-2zM357 31h2v2h-2zM361 31h6v2h-6zM369 31h2v2h-2zM373 31h2v2h-2zM399 31h2v2h-2zM403 31h8v2h-8zM415 31h6v2h-6zM303 33h2v2h-2zM307 33h14v2h-14zM355 33h2v2h-2zM363 33h4v2h-4zM369 33h6v2h-6zM417 33h2v2h-2zM299 35h6v2h-6zM307 35h4v2h-4zM313 35h4v2h-4zM319 35h4v2h-4zM367 35h6v2h-6zM417 35h6v2h-6zM299 37h4v2h-4zM305 37h6v2h-6zM315 37h2v2h-2zM319 37h4v2h-4zM345 37h4v2h-4zM355 37h6v2h-6zM367 37h6v2h-6zM379 37h4v2h-4zM405 37h2v2h-2zM417 37h6v2h-6zM299 39h10v2h-10zM317 39h6v2h-6zM333 39h6v2h-6zM353 39h4v2h-4zM359 39h2v2h-2zM365 39h2v2h-2zM369 39h6v2h-6zM379 39h2v2h-2zM403 39h2v2h-2zM421 39h2v2h-2zM303 41h6v2h-6zM319 41h6v2h-6zM327 41h4v2h-4zM335 41h10v2h-10zM349 41h12v2h-12zM373 41h2v2h-2zM405 41h2v2h-2zM417 41h6v2h-6zM305 43h4v2h-4zM319 43h8v2h-8zM337 43h2v2h-2zM341 43h4v2h-4zM353 43h4v2h-4zM367 43h2v2h-2zM373 43h4v2h-4zM405 43h4v2h-4zM417 43h4v2h-4zM303 45h4v2h-4zM321 45h2v2h-2zM345 45h2v2h-2zM349 45h8v2h-8zM367 45h2v2h-2zM375 45h2v2h-2zM383 45h4v2h-4zM413 45h6v2h-6zM421 45h2v2h-2zM303 47h2v2h-2zM309 47h2v2h-2zM321 47h4v2h-4zM339 47h2v2h-2zM349 47h6v2h-6zM381 47h6v2h-6zM403 47h2v2h-2zM417 47h6v2h-6zM301 49h4v2h-4zM309 49h4v2h-4zM327 49h4v2h-4zM337 49h6v2h-6zM349 49h2v2h-2zM367 49h2v2h-2zM379 49h2v2h-2zM383 49h2v2h-2zM387 49h2v2h-2zM391 49h2v2h-2zM403 49h4v2h-4zM409 49h4v2h-4zM417 49h6v2h-6zM299 51h4v2h-4zM313 51h2v2h-2zM317 51h4v2h-4zM325 51h8v2h-8zM339 51h2v2h-2zM345 51h6v2h-6zM379 51h4v2h-4zM385 51h4v2h-4zM401 51h4v2h-4zM409 51h8v2h-8zM419 51h2v2h-2zM299 53h4v2h-4zM311 53h4v2h-4zM317 53h10v2h-10zM329 53h2v2h-2zM333 53h2v2h-2zM337 53h10v2h-10zM381 53h2v2h-2zM385 53h2v2h-2zM389 53h2v2h-2zM407 53h2v2h-2zM299 55h2v2h-2zM303 55h4v2h-4zM319 55h4v2h-4zM325 55h2v2h-2zM329 55h14v2h-14zM345 55h2v2h-2zM379 55h2v2h-2zM383 55h2v2h-2zM405 55h4v2h-4zM299 57h4v2h-4zM305 57h6v2h-6zM319 57h4v2h-4zM325 57h2v2h-2zM329 57h8v2h-8zM339 57h4v2h-4zM347 57h2v2h-2zM383 57h4v2h-4zM301 59h2v2h-2zM305 59h2v2h-2zM309 59h2v2h-2zM313 59h2v2h-2zM317 59h8v2h-8zM331 59h2v2h-2zM337 59h6v2h-6zM387 59h2v2h-2zM407 59h2v2h-2zM299 61h2v2h-2zM309 61h2v2h-2zM313 61h2v2h-2zM317 61h8v2h-8zM337 61h2v2h-2zM341 61h2v2h-2zM363 61h6v2h-6zM385 61h2v2h-2zM391 61h4v2h-4zM399 61h2v2h-2zM303 63h6v2h-6zM313 63h10v2h-10zM355 63h8v2h-8zM365 63h4v2h-4zM387 63h4v2h-4zM399 63h2v2h-2zM303 65h12v2h-12zM319 65h6v2h-6zM355 65h10v2h-10zM367 65h2v2h-2zM385 65h2v2h-2zM305 67h8v2h-8zM319 67h6v2h-6zM357 67h4v2h-4zM363 67h2v2h-2zM367 67h2v2h-2zM383 67h6v2h-6zM303 69h6v2h-6zM321 69h2v2h-2zM359 69h6v2h-6zM367 69h4v2h-4zM373 69h2v2h-2zM385 69h6v2h-6zM411 69h2v2h-2zM303 71h8v2h-8zM321 71h4v2h-4zM361 71h2v2h-2zM365 71h2v2h-2zM371 71h2v2h-2zM387 71h2v2h-2zM311 73h2v2h-2zM319 73h2v2h-2zM323 73h2v2h-2zM359 73h6v2h-6zM367 73h2v2h-2zM303 75h4v2h-4zM309 75h2v2h-2zM315 75h2v2h-2zM305 77h4v2h-4zM301 101h2v2h-2z"/>
<path fill="#37f05c" shape-rendering="crispEdges" d="M343 21h6v2h-6zM403 21h6v2h-6zM405 23h4v2h-4zM417 23h2v2h-2zM335 25h2v2h-2zM339 25h2v2h-2zM403 25h6v2h-6zM419 25h2v2h-2zM401 27h2v2h-2zM407 27h2v2h-2zM419 27h2v2h-2zM421 31h2v2h-2zM419 33h4v2h-4zM311 35h2v2h-2zM317 35h2v2h-2zM303 37h2v2h-2zM311 37h4v2h-4zM317 37h2v2h-2zM309 39h2v2h-2zM313 39h4v2h-4zM419 39h2v2h-2zM309 41h6v2h-6zM331 41h4v2h-4zM347 41h2v2h-2zM371 41h2v2h-2zM309 43h2v2h-2zM313 43h6v2h-6zM327 43h10v2h-10zM339 43h2v2h-2zM345 43h8v2h-8zM421 43h2v2h-2zM307 45h4v2h-4zM315 45h6v2h-6zM323 45h4v2h-4zM329 45h2v2h-2zM335 45h10v2h-10zM347 45h2v2h-2zM305 47h4v2h-4zM311 47h2v2h-2zM315 47h6v2h-6zM325 47h6v2h-6zM335 47h4v2h-4zM341 47h8v2h-8zM305 49h4v2h-4zM313 49h4v2h-4zM319 49h8v2h-8zM333 49h4v2h-4zM343 49h6v2h-6zM303 51h10v2h-10zM315 51h2v2h-2zM321 51h4v2h-4zM333 51h6v2h-6zM341 51h4v2h-4zM303 53h6v2h-6zM315 53h2v2h-2zM327 53h2v2h-2zM335 53h2v2h-2zM301 55h2v2h-2zM307 55h12v2h-12zM323 55h2v2h-2zM303 57h2v2h-2zM311 57h8v2h-8zM323 57h2v2h-2zM299 59h2v2h-2zM303 59h2v2h-2zM315 59h2v2h-2zM301 61h4v2h-4zM315 61h2v2h-2zM339 61h2v2h-2zM299 63h4v2h-4zM299 65h4v2h-4zM315 65h4v2h-4zM301 67h4v2h-4zM315 67h4v2h-4zM361 67h2v2h-2zM365 67h2v2h-2zM301 69h2v2h-2zM309 69h2v2h-2zM319 69h2v2h-2zM365 69h2v2h-2zM371 69h2v2h-2zM301 71h2v2h-2zM311 71h2v2h-2zM315 71h6v2h-6zM359 71h2v2h-2zM363 71h2v2h-2zM299 73h12v2h-12zM313 73h6v2h-6zM307 75h2v2h-2zM313 75h2v2h-2z"/>
<path fill="#20ebab" shape-rendering="crispEdges" d="M313 25h4v2h-4zM313 27h4v2h-4zM395 35h2v2h-2zM395 55h2v2h-2zM419 57h2v2h-2zM329 65h2v2h-2zM403 65h2v2h-2zM413 65h4v2h-4zM401 67h2v2h-2zM333 69h2v2h-2zM347 69h2v2h-2zM397 69h4v2h-4zM329 71h2v2h-2zM333 71h2v2h-2zM351 71h2v2h-2zM401 71h2v2h-2zM331 73h2v2h-2zM337 73h2v2h-2zM343 73h4v2h-4zM351 73h2v2h-2zM375 73h2v2h-2zM379 73h2v2h-2zM409 73h2v2h-2zM413 73h2v2h-2zM417 73h2v2h-2zM329 75h2v2h-2zM339 75h2v2h-2zM351 75h2v2h-2zM363 75h2v2h-2zM387 75h2v2h-2zM397 75h4v2h-4zM419 75h2v2h-2zM343 77h2v2h-2zM355 77h2v2h-2zM327 79h2v2h-2zM337 79h4v2h-4zM415 79h4v2h-4zM303 81h2v2h-2zM315 81h4v2h-4zM323 81h4v2h-4zM343 81h2v2h-2zM405 81h2v2h-2zM409 81h2v2h-2zM413 81h2v2h-2zM299 83h2v2h-2zM319 83h2v2h-2zM339 83h2v2h-2zM399 83h6v2h-6zM417 83h2v2h-2zM317 85h2v2h-2zM331 85h2v2h-2zM343 85h2v2h-2zM401 85h4v2h-4zM419 85h2v2h-2zM339 89h2v2h-2zM343 89h2v2h-2zM419 89h2v2h-2zM305 91h2v2h-2zM337 91h2v2h-2zM343 91h2v2h-2zM351 91h2v2h-2zM299 93h2v2h-2zM305 93h6v2h-6zM341 93h2v2h-2zM349 93h2v2h-2zM301 95h2v2h-2zM305 95h2v2h-2zM339 95h2v2h-2zM351 95h2v2h-2zM355 95h2v2h-2zM347 97h2v2h-2zM351 97h2v2h-2zM311 99h2v2h-2zM343 99h2v2h-2zM363 99h4v2h-4zM305 101h4v2h-4zM343 101h2v2h-2zM303 103h2v2h-2zM363 103h2v2h-2zM303 105h2v2h-2zM345 105h2v2h-2z"/>
<path fill="#20e5b9" shape-rendering="crispEdges" d="M393 33h4v2h-4zM391 37h2v2h-2zM417 61h2v2h-2zM417 63h2v2h-2zM331 65h2v2h-2zM411 65h2v2h-2zM329 67h2v2h-2zM333 67h2v2h-2zM379 67h2v2h-2zM329 69h2v2h-2zM335 69h2v2h-2zM401 69h2v2h-2zM377 71h2v2h-2zM417 71h2v2h-2zM333 73h2v2h-2zM373 73h2v2h-2zM391 73h2v2h-2zM337 75h2v2h-2zM341 75h2v2h-2zM345 75h2v2h-2zM349 75h2v2h-2zM369 75h2v2h-2zM409 75h6v2h-6zM421 75h2v2h-2zM335 77h4v2h-4zM353 77h2v2h-2zM359 77h2v2h-2zM413 77h2v2h-2zM319 79h2v2h-2zM329 79h2v2h-2zM349 79h2v2h-2zM375 79h2v2h-2zM397 79h2v2h-2zM407 79h4v2h-4zM419 79h2v2h-2zM345 81h2v2h-2zM399 81h2v2h-2zM421 81h2v2h-2zM305 83h2v2h-2zM313 83h2v2h-2zM407 83h2v2h-2zM419 83h2v2h-2zM315 85h2v2h-2zM341 85h2v2h-2zM405 85h2v2h-2zM311 87h2v2h-2zM345 87h2v2h-2zM407 87h2v2h-2zM341 89h2v2h-2zM309 91h4v2h-4zM339 91h2v2h-2zM303 93h2v2h-2zM337 93h2v2h-2zM343 93h2v2h-2zM309 95h2v2h-2zM299 97h2v2h-2zM309 97h2v2h-2zM323 97h2v2h-2zM371 97h2v2h-2zM307 99h2v2h-2zM359 99h2v2h-2zM367 99h2v2h-2zM311 101h2v2h-2zM345 101h2v2h-2zM359 101h2v2h-2zM307 103h4v2h-4zM347 103h6v2h-6zM359 103h2v2h-2zM365 103h2v2h-2zM323 105h2v2h-2zM347 105h4v2h-4zM347 109h4v2h-4zM419 113h2v2h-2z"/>
<path fill="#3ff050" shape-rendering="crispEdges" d="M311 39h2v2h-2zM315 41h4v2h-4zM311 43h2v2h-2zM311 45h4v2h-4zM327 45h2v2h-2zM331 45h4v2h-4zM313 47h2v2h-2zM331 47h4v2h-4zM317 49h2v2h-2zM331 49h2v2h-2zM309 53h2v2h-2zM299 67h2v2h-2zM313 67h2v2h-2zM299 69h2v2h-2zM311 69h6v2h-6zM299 71h2v2h-2zM313 71h2v2h-2z"/>
<path fill="#20e0c7" shape-rendering="crispEdges" d="M419 59h2v2h-2zM395 67h2v2h-2zM417 67h2v2h-2zM395 69h2v2h-2zM403 69h2v2h-2zM335 71h2v2h-2zM329 73h2v2h-2zM335 73h2v2h-2zM341 73h2v2h-2zM397 73h2v2h-2zM405 73h2v2h-2zM331 75h2v2h-2zM335 75h2v2h-2zM343 75h2v2h-2zM353 75h2v2h-2zM385 75h2v2h-2zM389 75h2v2h-2zM329 77h2v2h-2zM347 77h2v2h-2zM357 77h2v2h-2zM395 77h2v2h-2zM399 77h2v2h-2zM415 77h2v2h-2zM343 79h4v2h-4zM395 79h2v2h-2zM321 81h2v2h-2zM353 81h2v2h-2zM415 81h2v2h-2zM317 83h2v2h-2zM327 83h4v2h-4zM345 83h2v2h-2zM415 83h2v2h-2zM307 85h2v2h-2zM321 85h2v2h-2zM345 85h4v2h-4zM399 85h2v2h-2zM417 85h2v2h-2zM315 87h2v2h-2zM331 87h2v2h-2zM341 87h2v2h-2zM347 87h4v2h-4zM379 87h2v2h-2zM347 89h2v2h-2zM345 91h2v2h-2zM417 91h2v2h-2zM357 93h2v2h-2zM421 93h2v2h-2zM307 95h2v2h-2zM311 95h2v2h-2zM343 95h4v2h-4zM349 95h2v2h-2zM357 95h2v2h-2zM359 97h2v2h-2zM313 99h2v2h-2zM321 99h2v2h-2zM325 99h2v2h-2zM341 99h2v2h-2zM361 99h2v2h-2zM319 101h2v2h-2zM367 101h4v2h-4zM345 103h2v2h-2zM361 103h2v2h-2zM367 103h2v2h-2zM299 105h2v2h-2zM343 105h2v2h-2zM353 105h2v2h-2zM421 111h2v2h-2zM351 113h2v2h-2zM421 113h2v2h-2zM343 115h2v2h-2zM421 115h2v2h-2z"/>
<path fill="#21d8d5" shape-rendering="crispEdges" d="M421 59h2v2h-2zM419 61h2v2h-2zM403 67h2v2h-2zM393 69h2v2h-2zM379 71h2v2h-2zM393 71h2v2h-2zM403 71h2v2h-2zM393 73h2v2h-2zM415 73h2v2h-2zM421 73h2v2h-2zM373 75h2v2h-2zM383 75h2v2h-2zM393 75h2v2h-2zM407 75h2v2h-2zM415 75h2v2h-2zM349 77h2v2h-2zM375 77h2v2h-2zM387 77h2v2h-2zM393 77h2v2h-2zM409 77h2v2h-2zM421 77h2v2h-2zM347 79h2v2h-2zM357 79h2v2h-2zM365 79h2v2h-2zM401 79h4v2h-4zM411 79h2v2h-2zM421 79h2v2h-2zM329 81h2v2h-2zM337 81h2v2h-2zM341 81h2v2h-2zM375 81h4v2h-4zM393 81h2v2h-2zM401 81h2v2h-2zM417 81h4v2h-4zM301 83h4v2h-4zM315 83h2v2h-2zM321 83h4v2h-4zM331 83h2v2h-2zM347 83h2v2h-2zM409 83h2v2h-2zM309 85h2v2h-2zM325 85h2v2h-2zM335 85h2v2h-2zM379 85h2v2h-2zM309 87h2v2h-2zM313 87h2v2h-2zM317 87h2v2h-2zM321 87h2v2h-2zM333 87h2v2h-2zM343 87h2v2h-2zM417 87h6v2h-6zM305 89h4v2h-4zM311 89h2v2h-2zM331 89h2v2h-2zM337 89h2v2h-2zM345 89h2v2h-2zM377 89h2v2h-2zM421 89h2v2h-2zM307 91h2v2h-2zM349 91h2v2h-2zM353 91h2v2h-2zM415 91h2v2h-2zM301 93h2v2h-2zM353 93h2v2h-2zM319 95h2v2h-2zM337 95h2v2h-2zM347 95h2v2h-2zM353 95h2v2h-2zM307 97h2v2h-2zM311 97h4v2h-4zM317 97h2v2h-2zM335 97h2v2h-2zM341 97h2v2h-2zM355 97h2v2h-2zM369 97h2v2h-2zM315 99h6v2h-6zM323 99h2v2h-2zM357 99h2v2h-2zM371 99h2v2h-2zM313 101h4v2h-4zM311 103h4v2h-4zM317 103h2v2h-2zM321 103h2v2h-2zM357 103h2v2h-2zM369 103h2v2h-2zM301 105h2v2h-2zM305 105h2v2h-2zM315 105h4v2h-4zM327 105h2v2h-2zM327 107h2v2h-2zM345 107h4v2h-4zM351 107h2v2h-2zM327 109h2v2h-2zM351 109h2v2h-2zM421 109h2v2h-2zM343 111h2v2h-2zM349 111h2v2h-2zM345 113h4v2h-4zM347 115h2v2h-2zM417 115h4v2h-4zM343 117h2v2h-2z"/>
<path fill="#28bef4" shape-rendering="crispEdges" d="M421 61h2v2h-2zM419 63h4v2h-4zM419 65h2v2h-2zM419 67h2v2h-2zM421 69h2v2h-2zM421 71h2v2h-2zM395 73h2v2h-2zM371 77h2v2h-2zM385 77h2v2h-2zM389 77h4v2h-4zM331 79h2v2h-2zM361 79h2v2h-2zM367 79h6v2h-6zM383 79h2v2h-2zM387 79h8v2h-8zM331 81h4v2h-4zM349 81h4v2h-4zM357 81h4v2h-4zM363 81h4v2h-4zM371 81h2v2h-2zM381 81h2v2h-2zM391 81h2v2h-2zM397 81h2v2h-2zM333 83h2v2h-2zM353 83h6v2h-6zM361 83h4v2h-4zM371 83h2v2h-2zM375 83h2v2h-2zM379 83h4v2h-4zM389 83h4v2h-4zM395 83h2v2h-2zM411 83h2v2h-2zM323 85h2v2h-2zM337 85h4v2h-4zM355 85h2v2h-2zM359 85h4v2h-4zM373 85h4v2h-4zM381 85h4v2h-4zM389 85h4v2h-4zM395 85h2v2h-2zM409 85h8v2h-8zM301 87h6v2h-6zM323 87h4v2h-4zM335 87h2v2h-2zM339 87h2v2h-2zM357 87h4v2h-4zM363 87h2v2h-2zM367 87h10v2h-10zM383 87h2v2h-2zM391 87h2v2h-2zM397 87h2v2h-2zM409 87h2v2h-2zM413 87h4v2h-4zM299 89h2v2h-2zM315 89h6v2h-6zM325 89h6v2h-6zM333 89h4v2h-4zM355 89h4v2h-4zM363 89h2v2h-2zM369 89h6v2h-6zM381 89h2v2h-2zM403 89h2v2h-2zM407 89h6v2h-6zM415 89h2v2h-2zM303 91h2v2h-2zM313 91h2v2h-2zM317 91h10v2h-10zM335 91h2v2h-2zM359 91h2v2h-2zM365 91h14v2h-14zM381 91h2v2h-2zM407 91h2v2h-2zM411 91h4v2h-4zM313 93h4v2h-4zM319 93h4v2h-4zM333 93h4v2h-4zM345 93h4v2h-4zM361 93h2v2h-2zM367 93h12v2h-12zM381 93h2v2h-2zM413 93h4v2h-4zM321 95h2v2h-2zM325 95h2v2h-2zM333 95h4v2h-4zM361 95h8v2h-8zM371 95h4v2h-4zM381 95h4v2h-4zM413 95h2v2h-2zM417 95h6v2h-6zM321 97h2v2h-2zM325 97h2v2h-2zM329 97h6v2h-6zM337 97h2v2h-2zM365 97h4v2h-4zM375 97h10v2h-10zM413 97h2v2h-2zM417 97h6v2h-6zM327 99h6v2h-6zM337 99h4v2h-4zM355 99h2v2h-2zM373 99h6v2h-6zM385 99h2v2h-2zM391 99h6v2h-6zM409 99h2v2h-2zM413 99h4v2h-4zM321 101h2v2h-2zM339 101h4v2h-4zM355 101h2v2h-2zM377 101h2v2h-2zM387 101h2v2h-2zM393 101h4v2h-4zM409 101h8v2h-8zM329 103h6v2h-6zM337 103h6v2h-6zM355 103h2v2h-2zM371 103h8v2h-8zM383 103h2v2h-2zM387 103h2v2h-2zM393 103h6v2h-6zM411 103h4v2h-4zM421 103h2v2h-2zM321 105h2v2h-2zM331 105h4v2h-4zM357 105h2v2h-2zM367 105h6v2h-6zM375 105h4v2h-4zM381 105h8v2h-8zM393 105h4v2h-4zM401 105h2v2h-2zM419 105h4v2h-4zM301 107h2v2h-2zM305 107h2v2h-2zM309 107h6v2h-6zM325 107h2v2h-2zM331 107h4v2h-4zM337 107h6v2h-6zM353 107h2v2h-2zM359 107h2v2h-2zM367 107h4v2h-4zM373 107h2v2h-2zM379 107h2v2h-2zM383 107h4v2h-4zM393 107h8v2h-8zM403 107h2v2h-2zM415 107h4v2h-4zM421 107h2v2h-2zM299 109h6v2h-6zM311 109h4v2h-4zM317 109h2v2h-2zM321 109h6v2h-6zM329 109h4v2h-4zM335 109h2v2h-2zM339 109h4v2h-4zM355 109h8v2h-8zM367 109h4v2h-4zM385 109h4v2h-4zM393 109h2v2h-2zM397 109h4v2h-4zM403 109h6v2h-6zM417 109h4v2h-4zM305 111h20v2h-20zM327 111h8v2h-8zM337 111h6v2h-6zM355 111h4v2h-4zM361 111h6v2h-6zM391 111h10v2h-10zM405 111h2v2h-2zM409 111h12v2h-12zM311 113h4v2h-4zM317 113h4v2h-4zM329 113h6v2h-6zM339 113h6v2h-6zM355 113h2v2h-2zM361 113h6v2h-6zM369 113h12v2h-12zM389 113h2v2h-2zM393 113h2v2h-2zM397 113h2v2h-2zM401 113h12v2h-12zM415 113h4v2h-4zM313 115h14v2h-14zM331 115h2v2h-2zM335 115h2v2h-2zM339 115h4v2h-4zM353 115h4v2h-4zM365 115h18v2h-18zM391 115h6v2h-6zM399 115h14v2h-14zM309 117h2v2h-2zM313 117h2v2h-2zM319 117h4v2h-4zM329 117h4v2h-4zM339 117h4v2h-4zM347 117h8v2h-8zM359 117h8v2h-8zM369 117h12v2h-12zM393 117h4v2h-4zM403 117h12v2h-12zM319 119h2v2h-2zM323 119h2v2h-2zM343 119h16v2h-16zM361 119h2v2h-2zM367 119h4v2h-4zM373 119h4v2h-4zM379 119h4v2h-4zM413 119h10v2h-10zM335 121h2v2h-2zM383 121h6v2h-6z"/>
<path fill="#25cce5" shape-rendering="crispEdges" d="M417 65h2v2h-2zM421 65h2v2h-2zM331 67h2v2h-2zM421 67h2v2h-2zM331 69h2v2h-2zM419 69h2v2h-2zM331 71h2v2h-2zM395 71h2v2h-2zM407 73h2v2h-2zM333 75h2v2h-2zM371 75h2v2h-2zM391 75h2v2h-2zM395 75h2v2h-2zM331 77h4v2h-4zM345 77h2v2h-2zM351 77h2v2h-2zM361 77h10v2h-10zM373 77h2v2h-2zM383 77h2v2h-2zM397 77h2v2h-2zM411 77h2v2h-2zM333 79h4v2h-4zM351 79h6v2h-6zM359 79h2v2h-2zM363 79h2v2h-2zM373 79h2v2h-2zM381 79h2v2h-2zM399 79h2v2h-2zM413 79h2v2h-2zM319 81h2v2h-2zM327 81h2v2h-2zM335 81h2v2h-2zM347 81h2v2h-2zM355 81h2v2h-2zM361 81h2v2h-2zM379 81h2v2h-2zM395 81h2v2h-2zM403 81h2v2h-2zM407 81h2v2h-2zM411 81h2v2h-2zM325 83h2v2h-2zM335 83h4v2h-4zM349 83h4v2h-4zM377 83h2v2h-2zM393 83h2v2h-2zM397 83h2v2h-2zM413 83h2v2h-2zM421 83h2v2h-2zM299 85h8v2h-8zM327 85h4v2h-4zM333 85h2v2h-2zM349 85h6v2h-6zM357 85h2v2h-2zM377 85h2v2h-2zM393 85h2v2h-2zM397 85h2v2h-2zM407 85h2v2h-2zM421 85h2v2h-2zM299 87h2v2h-2zM307 87h2v2h-2zM319 87h2v2h-2zM327 87h4v2h-4zM337 87h2v2h-2zM351 87h6v2h-6zM377 87h2v2h-2zM381 87h2v2h-2zM399 87h8v2h-8zM411 87h2v2h-2zM301 89h4v2h-4zM309 89h2v2h-2zM313 89h2v2h-2zM321 89h4v2h-4zM349 89h6v2h-6zM367 89h2v2h-2zM375 89h2v2h-2zM379 89h2v2h-2zM405 89h2v2h-2zM413 89h2v2h-2zM417 89h2v2h-2zM299 91h4v2h-4zM315 91h2v2h-2zM347 91h2v2h-2zM355 91h4v2h-4zM379 91h2v2h-2zM419 91h4v2h-4zM311 93h2v2h-2zM317 93h2v2h-2zM355 93h2v2h-2zM359 93h2v2h-2zM417 93h4v2h-4zM299 95h2v2h-2zM313 95h6v2h-6zM323 95h2v2h-2zM359 95h2v2h-2zM369 95h2v2h-2zM415 95h2v2h-2zM315 97h2v2h-2zM319 97h2v2h-2zM339 97h2v2h-2zM353 97h2v2h-2zM357 97h2v2h-2zM361 97h4v2h-4zM373 97h2v2h-2zM415 97h2v2h-2zM353 99h2v2h-2zM369 99h2v2h-2zM317 101h2v2h-2zM323 101h6v2h-6zM353 101h2v2h-2zM357 101h2v2h-2zM371 101h6v2h-6zM315 103h2v2h-2zM319 103h2v2h-2zM323 103h6v2h-6zM343 103h2v2h-2zM353 103h2v2h-2zM307 105h4v2h-4zM313 105h2v2h-2zM319 105h2v2h-2zM325 105h2v2h-2zM329 105h2v2h-2zM341 105h2v2h-2zM351 105h2v2h-2zM355 105h2v2h-2zM359 105h8v2h-8zM373 105h2v2h-2zM299 107h2v2h-2zM303 107h2v2h-2zM307 107h2v2h-2zM315 107h10v2h-10zM329 107h2v2h-2zM343 107h2v2h-2zM349 107h2v2h-2zM355 107h4v2h-4zM361 107h6v2h-6zM419 107h2v2h-2zM305 109h6v2h-6zM319 109h2v2h-2zM343 109h4v2h-4zM353 109h2v2h-2zM363 109h4v2h-4zM395 109h2v2h-2zM345 111h4v2h-4zM351 111h4v2h-4zM315 113h2v2h-2zM349 113h2v2h-2zM353 113h2v2h-2zM367 113h2v2h-2zM391 113h2v2h-2zM399 113h2v2h-2zM311 115h2v2h-2zM345 115h2v2h-2zM349 115h4v2h-4zM413 115h4v2h-4zM311 117h2v2h-2zM345 117h2v2h-2zM367 117h2v2h-2zM415 117h8v2h-8z"/>
<path fill="#4bef45" shape-rendering="crispEdges" d="M317 69h2v2h-2z"/>
<path fill="#23a7f4" shape-rendering="crispEdges" d="M385 79h2v2h-2zM367 81h4v2h-4zM373 81h2v2h-2zM385 81h2v2h-2zM389 81h2v2h-2zM359 83h2v2h-2zM365 83h6v2h-6zM373 83h2v2h-2zM383 83h6v2h-6zM363 85h8v2h-8zM385 85h2v2h-2zM361 87h2v2h-2zM365 87h2v2h-2zM385 87h2v2h-2zM389 87h2v2h-2zM393 87h4v2h-4zM359 89h4v2h-4zM365 89h2v2h-2zM383 89h4v2h-4zM391 89h2v2h-2zM395 89h2v2h-2zM399 89h4v2h-4zM329 91h6v2h-6zM361 91h4v2h-4zM383 91h4v2h-4zM401 91h6v2h-6zM409 91h2v2h-2zM323 93h2v2h-2zM327 93h4v2h-4zM363 93h4v2h-4zM379 93h2v2h-2zM383 93h2v2h-2zM387 93h2v2h-2zM393 93h4v2h-4zM405 93h4v2h-4zM327 95h6v2h-6zM375 95h6v2h-6zM385 95h4v2h-4zM397 95h2v2h-2zM405 95h6v2h-6zM327 97h2v2h-2zM385 97h10v2h-10zM397 97h2v2h-2zM407 97h6v2h-6zM333 99h4v2h-4zM379 99h6v2h-6zM387 99h4v2h-4zM397 99h4v2h-4zM407 99h2v2h-2zM411 99h2v2h-2zM417 99h6v2h-6zM329 101h2v2h-2zM333 101h6v2h-6zM379 101h4v2h-4zM385 101h2v2h-2zM389 101h4v2h-4zM397 101h2v2h-2zM401 101h2v2h-2zM405 101h4v2h-4zM417 101h6v2h-6zM335 103h2v2h-2zM379 103h4v2h-4zM385 103h2v2h-2zM389 103h4v2h-4zM399 103h12v2h-12zM415 103h6v2h-6zM311 105h2v2h-2zM335 105h6v2h-6zM379 105h2v2h-2zM389 105h4v2h-4zM397 105h4v2h-4zM403 105h4v2h-4zM409 105h10v2h-10zM335 107h2v2h-2zM371 107h2v2h-2zM375 107h4v2h-4zM381 107h2v2h-2zM387 107h6v2h-6zM401 107h2v2h-2zM405 107h8v2h-8zM315 109h2v2h-2zM333 109h2v2h-2zM337 109h2v2h-2zM371 109h4v2h-4zM377 109h8v2h-8zM389 109h4v2h-4zM401 109h2v2h-2zM409 109h2v2h-2zM413 109h4v2h-4zM301 111h4v2h-4zM325 111h2v2h-2zM335 111h2v2h-2zM359 111h2v2h-2zM367 111h8v2h-8zM379 111h2v2h-2zM383 111h8v2h-8zM401 111h4v2h-4zM407 111h2v2h-2zM305 113h6v2h-6zM321 113h8v2h-8zM335 113h4v2h-4zM357 113h4v2h-4zM381 113h2v2h-2zM387 113h2v2h-2zM395 113h2v2h-2zM413 113h2v2h-2zM303 115h8v2h-8zM327 115h4v2h-4zM333 115h2v2h-2zM337 115h2v2h-2zM357 115h8v2h-8zM383 115h2v2h-2zM389 115h2v2h-2zM397 115h2v2h-2zM307 117h2v2h-2zM315 117h4v2h-4zM323 117h6v2h-6zM333 117h6v2h-6zM355 117h4v2h-4zM381 117h4v2h-4zM387 117h6v2h-6zM397 117h6v2h-6zM305 119h14v2h-14zM321 119h2v2h-2zM325 119h2v2h-2zM329 119h14v2h-14zM359 119h2v2h-2zM363 119h4v2h-4zM371 119h2v2h-2zM377 119h2v2h-2zM383 119h30v2h-30zM305 121h4v2h-4zM311 121h12v2h-12zM325 121h2v2h-2zM329 121h6v2h-6zM337 121h2v2h-2zM341 121h28v2h-28zM373 121h10v2h-10zM389 121h34v2h-34zM315 123h2v2h-2zM323 123h4v2h-4zM333 123h14v2h-14zM349 123h20v2h-20zM375 123h30v2h-30zM407 123h2v2h-2zM413 123h2v2h-2zM417 123h2v2h-2zM421 123h2v2h-2zM343 125h2v2h-2zM351 125h8v2h-8zM361 125h6v2h-6zM377 125h6v2h-6zM385 125h12v2h-12zM399 125h2v2h-2zM355 127h2v2h-2zM363 127h2v2h-2zM389 127h2v2h-2z"/>
<path fill="#1f90f4" shape-rendering="crispEdges" d="M383 81h2v2h-2zM387 81h2v2h-2zM371 85h2v2h-2zM387 85h2v2h-2zM387 87h2v2h-2zM387 89h4v2h-4zM393 89h2v2h-2zM397 89h2v2h-2zM327 91h2v2h-2zM387 91h4v2h-4zM393 91h6v2h-6zM325 93h2v2h-2zM331 93h2v2h-2zM385 93h2v2h-2zM389 93h4v2h-4zM397 93h2v2h-2zM401 93h2v2h-2zM409 93h4v2h-4zM389 95h8v2h-8zM399 95h6v2h-6zM411 95h2v2h-2zM395 97h2v2h-2zM399 97h8v2h-8zM401 99h6v2h-6zM331 101h2v2h-2zM383 101h2v2h-2zM399 101h2v2h-2zM413 107h2v2h-2zM375 109h2v2h-2zM411 109h2v2h-2zM299 111h2v2h-2zM375 111h4v2h-4zM381 111h2v2h-2zM299 113h6v2h-6zM383 113h4v2h-4zM299 115h2v2h-2zM385 115h4v2h-4zM299 117h8v2h-8zM385 117h2v2h-2zM299 119h6v2h-6zM327 119h2v2h-2zM299 121h6v2h-6zM309 121h2v2h-2zM323 121h2v2h-2zM327 121h2v2h-2zM339 121h2v2h-2zM369 121h4v2h-4zM301 123h14v2h-14zM317 123h6v2h-6zM327 123h6v2h-6zM347 123h2v2h-2zM369 123h6v2h-6zM405 123h2v2h-2zM409 123h4v2h-4zM415 123h2v2h-2zM419 123h2v2h-2zM303 125h4v2h-4zM311 125h32v2h-32zM345 125h6v2h-6zM359 125h2v2h-2zM367 125h10v2h-10zM383 125h2v2h-2zM397 125h2v2h-2zM401 125h8v2h-8zM413 125h2v2h-2zM417 125h6v2h-6zM311 127h6v2h-6zM319 127h6v2h-6zM329 127h16v2h-16zM349 127h6v2h-6zM357 127h6v2h-6zM365 127h10v2h-10zM377 127h12v2h-12zM391 127h12v2h-12zM415 127h2v2h-2zM419 127h2v2h-2zM315 129h4v2h-4zM321 129h2v2h-2zM325 129h2v2h-2zM329 129h8v2h-8zM353 129h6v2h-6zM361 129h6v2h-6zM379 129h4v2h-4zM387 129h14v2h-14zM417 129h2v2h-2zM329 131h8v2h-8zM355 131h2v2h-2zM329 133h6v2h-6zM331 135h2v2h-2z"/>
<path fill="#1a73f3" shape-rendering="crispEdges" d="M391 91h2v2h-2zM399 91h2v2h-2zM399 93h2v2h-2zM403 93h2v2h-2zM403 101h2v2h-2zM407 105h2v2h-2zM301 115h2v2h-2zM299 123h2v2h-2zM299 125h4v2h-4zM307 125h4v2h-4zM409 125h4v2h-4zM415 125h2v2h-2zM299 127h12v2h-12zM317 127h2v2h-2zM325 127h4v2h-4zM345 127h4v2h-4zM375 127h2v2h-2zM403 127h12v2h-12zM417 127h2v2h-2zM421 127h2v2h-2zM299 129h16v2h-16zM319 129h2v2h-2zM323 129h2v2h-2zM327 129h2v2h-2zM337 129h16v2h-16zM359 129h2v2h-2zM367 129h12v2h-12zM383 129h4v2h-4zM401 129h2v2h-2zM407 129h10v2h-10zM419 129h4v2h-4zM299 131h30v2h-30zM337 131h10v2h-10zM351 131h4v2h-4zM357 131h44v2h-44zM403 131h2v2h-2zM407 131h16v2h-16zM299 133h6v2h-6zM307 133h4v2h-4zM317 133h12v2h-12zM335 133h4v2h-4zM351 133h36v2h-36zM389 133h10v2h-10zM401 133h2v2h-2zM411 133h12v2h-12zM299 135h2v2h-2zM321 135h10v2h-10zM333 135h4v2h-4zM351 135h12v2h-12zM365 135h20v2h-20zM391 135h2v2h-2zM395 135h4v2h-4zM415 135h6v2h-6zM325 137h10v2h-10zM339 137h2v2h-2zM355 137h2v2h-2zM365 137h6v2h-6zM373 137h12v2h-12zM397 137h4v2h-4zM417 137h2v2h-2zM327 139h2v2h-2zM375 139h2v2h-2zM415 139h2v2h-2zM421 141h2v2h-2z"/>
<path fill="#1454f2" shape-rendering="crispEdges" d="M403 129h4v2h-4zM347 131h4v2h-4zM401 131h2v2h-2zM405 131h2v2h-2zM305 133h2v2h-2zM311 133h6v2h-6zM339 133h12v2h-12zM387 133h2v2h-2zM399 133h2v2h-2zM403 133h8v2h-8zM301 135h20v2h-20zM337 135h14v2h-14zM363 135h2v2h-2zM385 135h6v2h-6zM393 135h2v2h-2zM399 135h16v2h-16zM421 135h2v2h-2zM299 137h6v2h-6zM307 137h18v2h-18zM335 137h4v2h-4zM341 137h14v2h-14zM357 137h8v2h-8zM371 137h2v2h-2zM385 137h12v2h-12zM401 137h16v2h-16zM419 137h4v2h-4zM307 139h20v2h-20zM329 139h14v2h-14zM345 139h30v2h-30zM377 139h38v2h-38zM417 139h6v2h-6zM305 141h2v2h-2zM309 141h36v2h-36zM349 141h2v2h-2zM355 141h66v2h-66zM321 143h10v2h-10zM335 143h2v2h-2zM361 143h48v2h-48zM413 143h10v2h-10zM317 145h2v2h-2zM327 145h2v2h-2zM361 145h16v2h-16zM383 145h12v2h-12zM397 145h4v2h-4zM415 145h8v2h-8zM327 147h2v2h-2zM361 147h2v2h-2zM365 147h2v2h-2zM389 147h6v2h-6zM397 147h2v2h-2zM417 147h6v2h-6zM385 149h4v2h-4zM391 151h2v2h-2z"/>
<path fill="#0f46f1" shape-rendering="crispEdges" d="M305 137h2v2h-2zM299 139h8v2h-8zM343 139h2v2h-2zM299 141h6v2h-6zM307 141h2v2h-2zM345 141h4v2h-4zM351 141h4v2h-4zM299 143h22v2h-22zM331 143h4v2h-4zM337 143h24v2h-24zM409 143h4v2h-4zM299 145h18v2h-18zM319 145h8v2h-8zM329 145h32v2h-32zM377 145h6v2h-6zM395 145h2v2h-2zM401 145h14v2h-14zM299 147h2v2h-2zM305 147h22v2h-22zM329 147h10v2h-10zM341 147h20v2h-20zM363 147h2v2h-2zM367 147h22v2h-22zM395 147h2v2h-2zM399 147h18v2h-18zM303 149h2v2h-2zM307 149h34v2h-34zM347 149h4v2h-4zM353 149h32v2h-32zM389 149h20v2h-20zM413 149h10v2h-10zM303 151h8v2h-8zM313 151h18v2h-18zM333 151h4v2h-4zM347 151h4v2h-4zM353 151h38v2h-38zM393 151h12v2h-12zM407 151h2v2h-2zM413 151h10v2h-10zM299 153h2v2h-2zM305 153h10v2h-10zM317 153h8v2h-8zM327 153h2v2h-2zM347 153h4v2h-4zM355 153h2v2h-2zM359 153h16v2h-16zM377 153h32v2h-32zM417 153h6v2h-6zM307 155h6v2h-6zM345 155h2v2h-2zM361 155h22v2h-22zM385 155h8v2h-8zM395 155h16v2h-16zM415 155h2v2h-2zM307 157h6v2h-6zM347 157h2v2h-2zM361 157h28v2h-28zM395 157h2v2h-2zM399 157h16v2h-16zM419 157h2v2h-2zM309 159h2v2h-2zM363 159h14v2h-14zM379 159h6v2h-6zM387 159h4v2h-4zM397 159h2v2h-2zM401 159h12v2h-12zM367 161h4v2h-4zM377 161h4v2h-4zM385 161h2v2h-2zM389 161h2v2h-2zM403 161h2v2h-2zM411 161h2v2h-2zM375 163h2v2h-2zM379 163h4v2h-4zM411 163h2v2h-2zM373 165h4v2h-4zM395 165h2v2h-2zM389 167h2v2h-2zM389 169h2v2h-2zM419 173h2v2h-2zM299 181h6v2h-6z"/>
<path fill="#0a38f0" shape-rendering="crispEdges" d="M301 147h4v2h-4zM339 147h2v2h-2zM299 149h4v2h-4zM305 149h2v2h-2zM341 149h6v2h-6zM351 149h2v2h-2zM409 149h4v2h-4zM299 151h4v2h-4zM311 151h2v2h-2zM331 151h2v2h-2zM337 151h10v2h-10zM351 151h2v2h-2zM405 151h2v2h-2zM409 151h4v2h-4zM301 153h4v2h-4zM315 153h2v2h-2zM325 153h2v2h-2zM329 153h18v2h-18zM351 153h4v2h-4zM357 153h2v2h-2zM375 153h2v2h-2zM409 153h8v2h-8zM299 155h8v2h-8zM313 155h32v2h-32zM347 155h14v2h-14zM383 155h2v2h-2zM393 155h2v2h-2zM411 155h4v2h-4zM417 155h6v2h-6zM299 157h8v2h-8zM313 157h34v2h-34zM349 157h6v2h-6zM357 157h4v2h-4zM389 157h6v2h-6zM397 157h2v2h-2zM415 157h4v2h-4zM421 157h2v2h-2zM299 159h10v2h-10zM311 159h24v2h-24zM337 159h26v2h-26zM377 159h2v2h-2zM385 159h2v2h-2zM391 159h6v2h-6zM399 159h2v2h-2zM413 159h10v2h-10zM299 161h28v2h-28zM329 161h4v2h-4zM339 161h28v2h-28zM371 161h6v2h-6zM381 161h4v2h-4zM387 161h2v2h-2zM391 161h12v2h-12zM405 161h6v2h-6zM413 161h10v2h-10zM299 163h30v2h-30zM337 163h24v2h-24zM365 163h10v2h-10zM377 163h2v2h-2zM383 163h28v2h-28zM413 163h6v2h-6zM299 165h12v2h-12zM313 165h2v2h-2zM317 165h10v2h-10zM339 165h34v2h-34zM377 165h18v2h-18zM397 165h24v2h-24zM299 167h4v2h-4zM305 167h14v2h-14zM321 167h6v2h-6zM339 167h26v2h-26zM367 167h22v2h-22zM391 167h30v2h-30zM309 169h8v2h-8zM321 169h6v2h-6zM335 169h2v2h-2zM339 169h50v2h-50zM391 169h32v2h-32zM299 171h6v2h-6zM311 171h4v2h-4zM317 171h2v2h-2zM321 171h12v2h-12zM335 171h20v2h-20zM357 171h10v2h-10zM375 171h48v2h-48zM299 173h12v2h-12zM319 173h16v2h-16zM339 173h28v2h-28zM375 173h20v2h-20zM397 173h22v2h-22zM421 173h2v2h-2zM299 175h8v2h-8zM321 175h10v2h-10zM335 175h20v2h-20zM357 175h10v2h-10zM369 175h2v2h-2zM373 175h2v2h-2zM377 175h16v2h-16zM403 175h20v2h-20zM299 177h6v2h-6zM315 177h4v2h-4zM321 177h8v2h-8zM335 177h38v2h-38zM375 177h16v2h-16zM405 177h4v2h-4zM411 177h12v2h-12zM299 179h10v2h-10zM313 179h4v2h-4zM321 179h6v2h-6zM337 179h6v2h-6zM357 179h16v2h-16zM407 179h2v2h-2zM413 179h10v2h-10zM305 181h4v2h-4zM311 181h6v2h-6zM323 181h2v2h-2zM327 181h2v2h-2zM335 181h2v2h-2zM339 181h6v2h-6zM357 181h10v2h-10zM371 181h2v2h-2zM407 181h4v2h-4zM417 181h6v2h-6zM299 183h10v2h-10zM311 183h6v2h-6zM323 183h2v2h-2zM335 183h8v2h-8zM355 183h14v2h-14zM371 183h2v2h-2zM415 183h8v2h-8zM299 185h8v2h-8zM311 185h2v2h-2zM343 185h2v2h-2zM351 185h4v2h-4zM357 185h14v2h-14zM419 185h4v2h-4zM299 187h6v2h-6zM341 187h2v2h-2zM357 187h4v2h-4zM363 187h4v2h-4zM417 187h6v2h-6zM299 189h4v2h-4zM323 189h4v2h-4zM339 189h2v2h-2zM355 189h4v2h-4zM383 189h2v2h-2zM417 189h4v2h-4zM299 191h4v2h-4zM305 191h2v2h-2zM357 191h2v2h-2zM363 191h2v2h-2zM385 191h2v2h-2z"/>
<path fill="#092dec" shape-rendering="crispEdges" d="M355 157h2v2h-2zM335 159h2v2h-2zM327 161h2v2h-2zM333 161h6v2h-6zM329 163h8v2h-8zM361 163h4v2h-4zM419 163h4v2h-4zM311 165h2v2h-2zM315 165h2v2h-2zM327 165h12v2h-12zM421 165h2v2h-2zM303 167h2v2h-2zM319 167h2v2h-2zM327 167h12v2h-12zM365 167h2v2h-2zM421 167h2v2h-2zM299 169h10v2h-10zM317 169h4v2h-4zM327 169h8v2h-8zM337 169h2v2h-2zM305 171h6v2h-6zM315 171h2v2h-2zM319 171h2v2h-2zM333 171h2v2h-2zM355 171h2v2h-2zM367 171h8v2h-8zM311 173h8v2h-8zM335 173h4v2h-4zM367 173h8v2h-8zM395 173h2v2h-2zM307 175h14v2h-14zM331 175h4v2h-4zM355 175h2v2h-2zM367 175h2v2h-2zM371 175h2v2h-2zM375 175h2v2h-2zM393 175h10v2h-10zM305 177h10v2h-10zM319 177h2v2h-2zM329 177h6v2h-6zM373 177h2v2h-2zM391 177h14v2h-14zM409 177h2v2h-2zM309 179h4v2h-4zM317 179h4v2h-4zM327 179h10v2h-10zM343 179h14v2h-14zM373 179h34v2h-34zM409 179h4v2h-4zM309 181h2v2h-2zM317 181h6v2h-6zM325 181h2v2h-2zM329 181h6v2h-6zM337 181h2v2h-2zM345 181h12v2h-12zM367 181h4v2h-4zM373 181h24v2h-24zM399 181h8v2h-8zM411 181h6v2h-6zM309 183h2v2h-2zM317 183h6v2h-6zM325 183h10v2h-10zM343 183h12v2h-12zM369 183h2v2h-2zM373 183h42v2h-42zM307 185h4v2h-4zM313 185h30v2h-30zM345 185h6v2h-6zM355 185h2v2h-2zM371 185h48v2h-48zM305 187h26v2h-26zM333 187h8v2h-8zM343 187h14v2h-14zM361 187h2v2h-2zM367 187h26v2h-26zM395 187h22v2h-22zM303 189h20v2h-20zM327 189h12v2h-12zM341 189h14v2h-14zM359 189h24v2h-24zM385 189h26v2h-26zM413 189h4v2h-4zM421 189h2v2h-2zM303 191h2v2h-2zM307 191h50v2h-50zM359 191h4v2h-4zM365 191h20v2h-20zM387 191h22v2h-22zM413 191h10v2h-10z"/>
<path fill="#0823e7" shape-rendering="crispEdges" d="M397 181h2v2h-2zM331 187h2v2h-2zM393 187h2v2h-2zM411 189h2v2h-2zM409 191h4v2h-4z"/>
<path fill="#ffffff" shape-rendering="crispEdges" d="M300 21h6v1h-6zM312 21h1v1h-1zM321 21h2v1h-2zM331 21h1v1h-1zM333 21h2v1h-2zM365 21h1v1h-1zM371 21h1v1h-1zM391 21h1v1h-1zM399 21h3v1h-3zM403 21h2v1h-2zM300 22h3v1h-3zM312 22h1v1h-1zM331 22h3v1h-3zM341 22h1v1h-1zM381 22h2v1h-2zM386 22h2v1h-2zM391 22h3v1h-3zM400 22h6v1h-6zM309 23h4v1h-4zM330 23h1v1h-1zM374 23h1v1h-1zM381 23h2v1h-2zM391 23h6v1h-6zM398 23h3v1h-3zM402 23h1v1h-1zM404 23h2v1h-2zM408 23h1v1h-1zM308 24h4v1h-4zM360 24h1v1h-1zM374 24h1v1h-1zM381 24h3v1h-3zM390 24h11v1h-11zM404 24h1v1h-1zM407 24h2v1h-2zM301 25h3v1h-3zM306 25h2v1h-2zM311 25h1v1h-1zM359 25h1v1h-1zM370 25h1v1h-1zM381 25h4v1h-4zM388 25h7v1h-7zM396 25h5v1h-5zM406 25h2v1h-2zM418 25h2v1h-2zM301 26h7v1h-7zM311 26h3v1h-3zM318 26h3v1h-3zM328 26h1v1h-1zM358 26h2v1h-2zM369 26h2v1h-2zM382 26h1v1h-1zM384 26h2v1h-2zM388 26h3v1h-3zM393 26h1v1h-1zM395 26h6v1h-6zM406 26h2v1h-2zM414 26h1v1h-1zM303 27h1v1h-1zM306 27h2v1h-2zM311 27h1v1h-1zM315 27h3v1h-3zM319 27h1v1h-1zM323 27h1v1h-1zM329 27h1v1h-1zM331 27h2v1h-2zM359 27h2v1h-2zM366 27h1v1h-1zM371 27h1v1h-1zM376 27h1v1h-1zM383 27h7v1h-7zM395 27h6v1h-6zM406 27h1v1h-1zM413 27h3v1h-3zM419 27h2v1h-2zM319 28h2v1h-2zM328 28h5v1h-5zM360 28h1v1h-1zM383 28h3v1h-3zM389 28h5v1h-5zM396 28h2v1h-2zM413 28h2v1h-2zM317 29h1v1h-1zM322 29h1v1h-1zM329 29h2v1h-2zM376 29h2v1h-2zM383 29h3v1h-3zM390 29h4v1h-4zM396 29h2v1h-2zM414 29h1v1h-1zM307 30h3v1h-3zM317 30h1v1h-1zM328 30h2v1h-2zM346 30h1v1h-1zM374 30h1v1h-1zM376 30h2v1h-2zM381 30h5v1h-5zM389 30h1v1h-1zM391 30h2v1h-2zM396 30h4v1h-4zM307 31h4v1h-4zM312 31h1v1h-1zM316 31h3v1h-3zM324 31h6v1h-6zM335 31h1v1h-1zM339 31h2v1h-2zM346 31h2v1h-2zM354 31h1v1h-1zM364 31h1v1h-1zM374 31h5v1h-5zM381 31h4v1h-4zM388 31h2v1h-2zM396 31h6v1h-6zM403 31h1v1h-1zM301 32h1v1h-1zM310 32h2v1h-2zM317 32h1v1h-1zM323 32h6v1h-6zM337 32h1v1h-1zM342 32h1v1h-1zM352 32h1v1h-1zM354 32h1v1h-1zM371 32h1v1h-1zM374 32h5v1h-5zM381 32h2v1h-2zM384 32h2v1h-2zM388 32h3v1h-3zM393 32h2v1h-2zM396 32h3v1h-3zM401 32h4v1h-4zM305 33h1v1h-1zM309 33h3v1h-3zM314 33h4v1h-4zM319 33h2v1h-2zM323 33h3v1h-3zM329 33h1v1h-1zM334 33h2v1h-2zM356 33h1v1h-1zM361 33h2v1h-2zM371 33h1v1h-1zM377 33h4v1h-4zM382 33h6v1h-6zM390 33h2v1h-2zM393 33h2v1h-2zM396 33h1v1h-1zM404 33h1v1h-1zM302 34h2v1h-2zM305 34h1v1h-1zM312 34h4v1h-4zM317 34h4v1h-4zM323 34h2v1h-2zM361 34h2v1h-2zM370 34h5v1h-5zM377 34h1v1h-1zM379 34h10v1h-10zM394 34h2v1h-2zM404 34h1v1h-1zM302 35h2v1h-2zM313 35h3v1h-3zM321 35h4v1h-4zM329 35h1v1h-1zM341 35h1v1h-1zM361 35h3v1h-3zM365 35h2v1h-2zM369 35h6v1h-6zM378 35h1v1h-1zM381 35h3v1h-3zM385 35h1v1h-1zM388 35h1v1h-1zM394 35h2v1h-2zM402 35h1v1h-1zM301 36h2v1h-2zM308 36h4v1h-4zM313 36h5v1h-5zM320 36h4v1h-4zM329 36h1v1h-1zM340 36h2v1h-2zM361 36h6v1h-6zM369 36h4v1h-4zM376 36h3v1h-3zM381 36h2v1h-2zM401 36h1v1h-1zM301 37h2v1h-2zM306 37h6v1h-6zM313 37h10v1h-10zM325 37h3v1h-3zM329 37h1v1h-1zM340 37h1v1h-1zM363 37h2v1h-2zM368 37h3v1h-3zM378 37h1v1h-1zM382 37h1v1h-1zM306 38h3v1h-3zM316 38h7v1h-7zM325 38h3v1h-3zM330 38h5v1h-5zM359 38h1v1h-1zM361 38h1v1h-1zM365 38h6v1h-6zM372 38h3v1h-3zM381 38h1v1h-1zM391 38h2v1h-2zM407 38h2v1h-2zM299 39h1v1h-1zM306 39h1v1h-1zM309 39h2v1h-2zM312 39h1v1h-1zM315 39h1v1h-1zM321 39h3v1h-3zM325 39h3v1h-3zM330 39h5v1h-5zM341 39h1v1h-1zM353 39h1v1h-1zM355 39h1v1h-1zM359 39h2v1h-2zM363 39h8v1h-8zM373 39h4v1h-4zM391 39h2v1h-2zM397 39h1v1h-1zM409 39h1v1h-1zM412 39h1v1h-1zM303 40h2v1h-2zM308 40h2v1h-2zM311 40h1v1h-1zM315 40h14v1h-14zM330 40h8v1h-8zM352 40h1v1h-1zM354 40h1v1h-1zM362 40h1v1h-1zM368 40h1v1h-1zM372 40h3v1h-3zM377 40h1v1h-1zM382 40h1v1h-1zM388 40h1v1h-1zM411 40h2v1h-2zM301 41h1v1h-1zM309 41h5v1h-5zM316 41h6v1h-6zM323 41h3v1h-3zM328 41h1v1h-1zM330 41h1v1h-1zM334 41h4v1h-4zM343 41h1v1h-1zM354 41h1v1h-1zM361 41h2v1h-2zM372 41h1v1h-1zM376 41h3v1h-3zM389 41h1v1h-1zM392 41h2v1h-2zM414 41h1v1h-1zM301 42h2v1h-2zM309 42h5v1h-5zM315 42h4v1h-4zM320 42h2v1h-2zM323 42h5v1h-5zM330 42h8v1h-8zM354 42h1v1h-1zM362 42h2v1h-2zM365 42h1v1h-1zM372 42h1v1h-1zM379 42h1v1h-1zM389 42h6v1h-6zM300 43h4v1h-4zM306 43h1v1h-1zM309 43h9v1h-9zM320 43h2v1h-2zM324 43h4v1h-4zM330 43h5v1h-5zM336 43h2v1h-2zM354 43h1v1h-1zM365 43h5v1h-5zM372 43h1v1h-1zM379 43h4v1h-4zM389 43h2v1h-2zM394 43h1v1h-1zM299 44h3v1h-3zM306 44h1v1h-1zM308 44h6v1h-6zM315 44h4v1h-4zM320 44h2v1h-2zM323 44h2v1h-2zM326 44h3v1h-3zM330 44h2v1h-2zM334 44h4v1h-4zM354 44h1v1h-1zM365 44h4v1h-4zM379 44h4v1h-4zM390 44h1v1h-1zM400 44h1v1h-1zM307 45h3v1h-3zM314 45h10v1h-10zM326 45h6v1h-6zM337 45h1v1h-1zM348 45h1v1h-1zM351 45h2v1h-2zM366 45h4v1h-4zM371 45h2v1h-2zM378 45h2v1h-2zM400 45h1v1h-1zM409 45h1v1h-1zM417 45h1v1h-1zM305 46h1v1h-1zM308 46h3v1h-3zM314 46h17v1h-17zM336 46h2v1h-2zM346 46h1v1h-1zM348 46h1v1h-1zM350 46h3v1h-3zM356 46h2v1h-2zM366 46h2v1h-2zM372 46h1v1h-1zM377 46h1v1h-1zM379 46h1v1h-1zM384 46h1v1h-1zM399 46h1v1h-1zM402 46h2v1h-2zM408 46h2v1h-2zM299 47h1v1h-1zM308 47h16v1h-16zM326 47h4v1h-4zM337 47h2v1h-2zM349 47h2v1h-2zM365 47h1v1h-1zM367 47h2v1h-2zM378 47h2v1h-2zM387 47h1v1h-1zM407 47h3v1h-3zM299 48h1v1h-1zM303 48h2v1h-2zM306 48h8v1h-8zM315 48h10v1h-10zM326 48h4v1h-4zM334 48h1v1h-1zM337 48h3v1h-3zM361 48h1v1h-1zM367 48h2v1h-2zM374 48h1v1h-1zM379 48h1v1h-1zM387 48h1v1h-1zM407 48h4v1h-4zM416 48h2v1h-2zM299 49h1v1h-1zM304 49h1v1h-1zM306 49h7v1h-7zM315 49h7v1h-7zM323 49h2v1h-2zM327 49h3v1h-3zM334 49h1v1h-1zM337 49h4v1h-4zM360 49h3v1h-3zM379 49h1v1h-1zM387 49h1v1h-1zM406 49h2v1h-2zM409 49h3v1h-3zM416 49h2v1h-2zM306 50h6v1h-6zM316 50h9v1h-9zM329 50h1v1h-1zM331 50h2v1h-2zM337 50h4v1h-4zM353 50h1v1h-1zM363 50h2v1h-2zM367 50h1v1h-1zM408 50h1v1h-1zM419 50h1v1h-1zM299 51h1v1h-1zM307 51h1v1h-1zM311 51h2v1h-2zM317 51h9v1h-9zM328 51h2v1h-2zM331 51h2v1h-2zM334 51h1v1h-1zM337 51h2v1h-2zM341 51h2v1h-2zM364 51h1v1h-1zM401 51h6v1h-6zM419 51h1v1h-1zM308 52h3v1h-3zM315 52h2v1h-2zM318 52h9v1h-9zM328 52h2v1h-2zM331 52h2v1h-2zM336 52h1v1h-1zM341 52h1v1h-1zM381 52h1v1h-1zM384 52h1v1h-1zM412 52h1v1h-1zM418 52h1v1h-1zM299 53h1v1h-1zM308 53h3v1h-3zM313 53h10v1h-10zM325 53h8v1h-8zM341 53h1v1h-1zM404 53h2v1h-2zM299 54h1v1h-1zM308 54h3v1h-3zM312 54h4v1h-4zM317 54h7v1h-7zM325 54h8v1h-8zM349 54h1v1h-1zM405 54h1v1h-1zM299 55h2v1h-2zM302 55h16v1h-16zM319 55h9v1h-9zM329 55h6v1h-6zM349 55h1v1h-1zM402 55h1v1h-1zM405 55h1v1h-1zM410 55h3v1h-3zM416 55h3v1h-3zM299 56h1v1h-1zM301 56h13v1h-13zM315 56h3v1h-3zM321 56h5v1h-5zM329 56h6v1h-6zM342 56h3v1h-3zM349 56h2v1h-2zM403 56h3v1h-3zM408 56h1v1h-1zM410 56h4v1h-4zM416 56h3v1h-3zM420 56h1v1h-1zM299 57h1v1h-1zM301 57h5v1h-5zM307 57h2v1h-2zM311 57h3v1h-3zM316 57h1v1h-1zM320 57h8v1h-8zM329 57h1v1h-1zM331 57h4v1h-4zM341 57h1v1h-1zM343 57h2v1h-2zM409 57h4v1h-4zM416 57h2v1h-2zM419 57h1v1h-1zM300 58h6v1h-6zM311 58h5v1h-5zM324 58h4v1h-4zM329 58h1v1h-1zM331 58h5v1h-5zM397 58h2v1h-2zM409 58h5v1h-5zM415 58h6v1h-6zM299 59h2v1h-2zM303 59h3v1h-3zM311 59h3v1h-3zM324 59h4v1h-4zM331 59h3v1h-3zM407 59h1v1h-1zM409 59h4v1h-4zM416 59h3v1h-3zM299 60h1v1h-1zM304 60h1v1h-1zM308 60h2v1h-2zM311 60h3v1h-3zM316 60h2v1h-2zM320 60h2v1h-2zM406 60h2v1h-2zM299 61h1v1h-1zM304 61h1v1h-1zM308 61h3v1h-3zM312 61h2v1h-2zM315 61h3v1h-3zM321 61h2v1h-2zM402 61h5v1h-5zM304 62h1v1h-1zM306 62h1v1h-1zM309 62h2v1h-2zM315 62h4v1h-4zM321 62h2v1h-2zM328 62h2v1h-2zM406 62h1v1h-1zM305 63h6v1h-6zM312 63h2v1h-2zM316 63h11v1h-11zM329 63h1v1h-1zM339 63h1v1h-1zM306 64h1v1h-1zM309 64h4v1h-4zM317 64h6v1h-6zM327 64h3v1h-3zM306 65h2v1h-2zM309 65h2v1h-2zM313 65h8v1h-8zM322 65h1v1h-1zM324 65h3v1h-3zM328 65h1v1h-1zM301 66h2v1h-2zM306 66h2v1h-2zM312 66h1v1h-1zM315 66h1v1h-1zM317 66h3v1h-3zM324 66h3v1h-3zM402 66h1v1h-1zM407 66h1v1h-1zM301 67h1v1h-1zM312 67h1v1h-1zM317 67h4v1h-4zM324 67h2v1h-2zM407 67h1v1h-1zM304 68h1v1h-1zM311 68h1v1h-1zM313 68h2v1h-2zM317 68h1v1h-1zM319 68h1v1h-1zM412 68h1v1h-1zM305 69h1v1h-1zM311 69h6v1h-6zM318 69h3v1h-3zM342 69h1v1h-1zM345 69h3v1h-3zM411 69h2v1h-2zM309 70h3v1h-3zM313 70h2v1h-2zM316 70h2v1h-2zM323 70h2v1h-2zM299 71h4v1h-4zM306 71h4v1h-4zM311 71h1v1h-1zM315 71h3v1h-3zM322 71h3v1h-3zM329 71h1v1h-1zM342 71h1v1h-1zM301 72h2v1h-2zM306 72h2v1h-2zM311 72h1v1h-1zM314 72h3v1h-3zM329 72h1v1h-1zM342 72h1v1h-1zM306 73h1v1h-1zM314 73h1v1h-1zM324 73h4v1h-4zM419 73h1v1h-1zM314 74h2v1h-2zM324 74h4v1h-4zM419 74h1v1h-1zM310 75h2v1h-2zM315 75h1v1h-1zM323 75h1v1h-1zM309 76h4v1h-4zM323 76h1v1h-1zM322 77h1v1h-1zM312 78h1v1h-1zM328 78h1v1h-1zM312 79h1v1h-1zM322 80h1v1h-1zM330 80h1v1h-1zM313 81h2v1h-2zM319 81h2v1h-2zM334 81h1v1h-1zM342 81h1v1h-1zM353 81h2v1h-2zM335 82h1v1h-1zM342 82h1v1h-1zM359 82h1v1h-1zM364 82h1v1h-1zM316 83h1v1h-1zM318 83h1v1h-1zM326 83h2v1h-2zM342 83h1v1h-1zM345 83h4v1h-4zM363 83h3v1h-3zM317 84h1v1h-1zM326 84h2v1h-2zM342 84h8v1h-8zM363 84h5v1h-5zM373 84h2v1h-2zM376 84h1v1h-1zM325 85h4v1h-4zM343 85h3v1h-3zM347 85h1v1h-1zM352 85h6v1h-6zM359 85h1v1h-1zM363 85h2v1h-2zM366 85h2v1h-2zM372 85h4v1h-4zM321 86h2v1h-2zM324 86h2v1h-2zM330 86h1v1h-1zM334 86h1v1h-1zM336 86h1v1h-1zM339 86h1v1h-1zM343 86h3v1h-3zM347 86h1v1h-1zM352 86h7v1h-7zM362 86h3v1h-3zM367 86h1v1h-1zM370 86h6v1h-6zM377 86h1v1h-1zM386 86h1v1h-1zM317 87h1v1h-1zM320 87h1v1h-1zM324 87h6v1h-6zM333 87h4v1h-4zM344 87h3v1h-3zM349 87h13v1h-13zM363 87h3v1h-3zM367 87h3v1h-3zM371 87h5v1h-5zM309 88h3v1h-3zM313 88h2v1h-2zM316 88h2v1h-2zM319 88h2v1h-2zM324 88h1v1h-1zM328 88h2v1h-2zM332 88h4v1h-4zM343 88h2v1h-2zM347 88h1v1h-1zM350 88h4v1h-4zM356 88h9v1h-9zM366 88h7v1h-7zM377 88h5v1h-5zM310 89h1v1h-1zM312 89h9v1h-9zM324 89h1v1h-1zM328 89h3v1h-3zM333 89h4v1h-4zM338 89h3v1h-3zM344 89h2v1h-2zM347 89h2v1h-2zM351 89h2v1h-2zM354 89h4v1h-4zM361 89h11v1h-11zM375 89h5v1h-5zM313 90h8v1h-8zM324 90h1v1h-1zM328 90h3v1h-3zM333 90h13v1h-13zM347 90h2v1h-2zM350 90h10v1h-10zM362 90h8v1h-8zM371 90h1v1h-1zM373 90h3v1h-3zM378 90h2v1h-2zM382 90h1v1h-1zM314 91h7v1h-7zM328 91h3v1h-3zM332 91h14v1h-14zM350 91h10v1h-10zM363 91h6v1h-6zM371 91h5v1h-5zM381 91h2v1h-2zM389 91h1v1h-1zM314 92h2v1h-2zM317 92h5v1h-5zM323 92h1v1h-1zM328 92h19v1h-19zM351 92h8v1h-8zM360 92h1v1h-1zM363 92h6v1h-6zM370 92h8v1h-8zM307 93h1v1h-1zM313 93h3v1h-3zM318 93h16v1h-16zM335 93h14v1h-14zM352 93h6v1h-6zM360 93h1v1h-1zM362 93h6v1h-6zM371 93h1v1h-1zM373 93h6v1h-6zM313 94h3v1h-3zM317 94h1v1h-1zM319 94h29v1h-29zM353 94h3v1h-3zM358 94h10v1h-10zM371 94h7v1h-7zM310 95h1v1h-1zM313 95h2v1h-2zM318 95h30v1h-30zM353 95h2v1h-2zM356 95h2v1h-2zM360 95h4v1h-4zM367 95h2v1h-2zM309 96h3v1h-3zM318 96h20v1h-20zM341 96h7v1h-7zM349 96h3v1h-3zM353 96h1v1h-1zM355 96h3v1h-3zM360 96h1v1h-1zM367 96h2v1h-2zM309 97h3v1h-3zM318 97h3v1h-3zM323 97h6v1h-6zM330 97h6v1h-6zM337 97h1v1h-1zM342 97h5v1h-5zM348 97h4v1h-4zM353 97h5v1h-5zM359 97h2v1h-2zM366 97h1v1h-1zM370 97h1v1h-1zM314 98h2v1h-2zM318 98h3v1h-3zM323 98h5v1h-5zM331 98h5v1h-5zM340 98h1v1h-1zM345 98h3v1h-3zM349 98h1v1h-1zM354 98h6v1h-6zM364 98h1v1h-1zM319 99h1v1h-1zM323 99h1v1h-1zM325 99h4v1h-4zM330 99h1v1h-1zM332 99h5v1h-5zM342 99h1v1h-1zM348 99h2v1h-2zM354 99h4v1h-4zM360 99h1v1h-1zM363 99h1v1h-1zM371 99h1v1h-1zM308 100h2v1h-2zM317 100h2v1h-2zM325 100h4v1h-4zM333 100h3v1h-3zM337 100h5v1h-5zM343 100h2v1h-2zM354 100h2v1h-2zM326 101h4v1h-4zM335 101h1v1h-1zM337 101h2v1h-2zM340 101h3v1h-3zM347 101h1v1h-1zM337 102h1v1h-1zM359 102h1v1h-1zM314 103h1v1h-1zM359 103h1v1h-1zM323 105h1v1h-1zM331 105h2v1h-2zM316 106h1v1h-1zM318 106h2v1h-2zM344 106h1v1h-1zM347 106h1v1h-1zM318 107h2v1h-2zM319 108h1v1h-1zM299 141h1v1h-1z"/>
<path fill="#dc40f4" shape-rendering="crispEdges" d="M421 58h2v1h-2zM418 60h1v1h-1zM417 61h1v1h-1zM417 62h1v1h-1zM417 63h1v1h-1zM416 64h1v1h-1zM330 65h2v1h-2zM416 65h1v1h-1zM329 66h1v1h-1zM331 66h2v1h-2zM395 66h1v1h-1zM403 66h1v1h-1zM416 66h1v1h-1zM329 67h1v1h-1zM332 67h1v1h-1zM394 67h2v1h-2zM402 67h2v1h-2zM416 67h2v1h-2zM329 68h1v1h-1zM332 68h1v1h-1zM393 68h3v1h-3zM402 68h2v1h-2zM417 68h1v1h-1zM329 69h1v1h-1zM332 69h1v1h-1zM335 69h1v1h-1zM392 69h1v1h-1zM394 69h2v1h-2zM402 69h2v1h-2zM417 69h2v1h-2zM329 70h1v1h-1zM332 70h1v1h-1zM334 70h2v1h-2zM378 70h2v1h-2zM392 70h1v1h-1zM395 70h2v1h-2zM402 70h2v1h-2zM418 70h2v1h-2zM330 71h1v1h-1zM332 71h1v1h-1zM334 71h2v1h-2zM377 71h3v1h-3zM392 71h1v1h-1zM396 71h1v1h-1zM401 71h3v1h-3zM419 71h2v1h-2zM330 72h2v1h-2zM334 72h2v1h-2zM392 72h1v1h-1zM396 72h2v1h-2zM405 72h4v1h-4zM414 72h3v1h-3zM420 72h1v1h-1zM333 73h1v1h-1zM335 73h1v1h-1zM372 73h2v1h-2zM391 73h1v1h-1zM397 73h1v1h-1zM404 73h2v1h-2zM408 73h1v1h-1zM413 73h1v1h-1zM416 73h1v1h-1zM420 73h1v1h-1zM331 74h2v1h-2zM335 74h2v1h-2zM343 74h2v1h-2zM353 74h1v1h-1zM370 74h2v1h-2zM373 74h1v1h-1zM383 74h3v1h-3zM390 74h1v1h-1zM396 74h1v1h-1zM405 74h2v1h-2zM408 74h1v1h-1zM413 74h1v1h-1zM415 74h1v1h-1zM420 74h2v1h-2zM330 75h1v1h-1zM335 75h2v1h-2zM342 75h4v1h-4zM349 75h5v1h-5zM363 75h2v1h-2zM368 75h2v1h-2zM373 75h2v1h-2zM382 75h1v1h-1zM385 75h2v1h-2zM388 75h2v1h-2zM396 75h1v1h-1zM406 75h10v1h-10zM421 75h1v1h-1zM329 76h1v1h-1zM334 76h1v1h-1zM343 76h6v1h-6zM353 76h1v1h-1zM357 76h1v1h-1zM360 76h3v1h-3zM364 76h4v1h-4zM374 76h2v1h-2zM382 76h1v1h-1zM386 76h2v1h-2zM396 76h4v1h-4zM408 76h1v1h-1zM412 76h1v1h-1zM414 76h2v1h-2zM420 76h1v1h-1zM329 77h1v1h-1zM334 77h3v1h-3zM344 77h1v1h-1zM352 77h8v1h-8zM375 77h1v1h-1zM381 77h1v1h-1zM399 77h1v1h-1zM408 77h2v1h-2zM412 77h2v1h-2zM420 77h1v1h-1zM329 78h1v1h-1zM336 78h1v1h-1zM344 78h1v1h-1zM349 78h1v1h-1zM375 78h1v1h-1zM381 78h1v1h-1zM397 78h1v1h-1zM399 78h5v1h-5zM409 78h1v1h-1zM413 78h1v1h-1zM420 78h1v1h-1zM319 79h2v1h-2zM327 79h3v1h-3zM336 79h1v1h-1zM344 79h2v1h-2zM348 79h2v1h-2zM374 79h2v1h-2zM378 79h3v1h-3zM396 79h2v1h-2zM403 79h1v1h-1zM407 79h1v1h-1zM409 79h1v1h-1zM413 79h1v1h-1zM418 79h2v1h-2zM318 80h1v1h-1zM320 80h2v1h-2zM326 80h1v1h-1zM336 80h2v1h-2zM341 80h1v1h-1zM345 80h1v1h-1zM375 80h3v1h-3zM399 80h2v1h-2zM403 80h2v1h-2zM406 80h4v1h-4zM413 80h1v1h-1zM415 80h3v1h-3zM421 80h1v1h-1zM302 81h2v1h-2zM317 81h1v1h-1zM321 81h1v1h-1zM324 81h2v1h-2zM337 81h1v1h-1zM340 81h2v1h-2zM345 81h1v1h-1zM398 81h1v1h-1zM400 81h2v1h-2zM404 81h1v1h-1zM406 81h1v1h-1zM408 81h2v1h-2zM412 81h3v1h-3zM416 81h1v1h-1zM420 81h2v1h-2zM301 82h1v1h-1zM303 82h2v1h-2zM314 82h10v1h-10zM337 82h2v1h-2zM345 82h1v1h-1zM398 82h1v1h-1zM401 82h3v1h-3zM406 82h4v1h-4zM415 82h5v1h-5zM299 83h2v1h-2zM304 83h2v1h-2zM313 83h2v1h-2zM317 83h1v1h-1zM320 83h1v1h-1zM331 83h1v1h-1zM338 83h3v1h-3zM344 83h1v1h-1zM397 83h2v1h-2zM407 83h1v1h-1zM415 83h2v1h-2zM419 83h1v1h-1zM305 84h5v1h-5zM314 84h2v1h-2zM320 84h1v1h-1zM330 84h2v1h-2zM340 84h1v1h-1zM398 84h2v1h-2zM406 84h1v1h-1zM416 84h2v1h-2zM419 84h1v1h-1zM309 85h1v1h-1zM320 85h1v1h-1zM330 85h2v1h-2zM340 85h1v1h-1zM346 85h1v1h-1zM399 85h1v1h-1zM403 85h3v1h-3zM417 85h3v1h-3zM309 86h2v1h-2zM312 86h9v1h-9zM331 86h1v1h-1zM340 86h1v1h-1zM342 86h1v1h-1zM399 86h4v1h-4zM407 86h1v1h-1zM310 87h2v1h-2zM340 87h4v1h-4zM406 87h2v1h-2zM419 87h1v1h-1zM338 88h3v1h-3zM418 88h3v1h-3zM337 89h1v1h-1zM417 89h4v1h-4zM305 90h2v1h-2zM309 90h3v1h-3zM304 91h1v1h-1zM306 91h3v1h-3zM311 91h1v1h-1zM349 91h1v1h-1zM299 92h2v1h-2zM303 92h2v1h-2zM310 92h1v1h-1zM349 92h1v1h-1zM299 93h4v1h-4zM309 93h1v1h-1zM300 94h1v1h-1zM307 94h4v1h-4zM348 94h2v1h-2zM352 94h1v1h-1zM356 94h2v1h-2zM300 95h1v1h-1zM306 95h1v1h-1zM308 95h1v1h-1zM348 95h2v1h-2zM352 95h1v1h-1zM299 96h1v1h-1zM306 96h1v1h-1zM308 96h1v1h-1zM340 96h1v1h-1zM352 96h1v1h-1zM354 96h1v1h-1zM371 96h1v1h-1zM306 97h1v1h-1zM308 97h1v1h-1zM312 97h1v1h-1zM322 97h1v1h-1zM341 97h1v1h-1zM371 97h1v1h-1zM306 98h2v1h-2zM312 98h1v1h-1zM322 98h1v1h-1zM341 98h1v1h-1zM351 98h2v1h-2zM360 98h1v1h-1zM362 98h2v1h-2zM365 98h3v1h-3zM312 99h1v1h-1zM341 99h1v1h-1zM352 99h1v1h-1zM358 99h1v1h-1zM361 99h1v1h-1zM367 99h1v1h-1zM312 100h1v1h-1zM342 100h1v1h-1zM352 100h1v1h-1zM358 100h1v1h-1zM367 100h1v1h-1zM312 101h1v1h-1zM343 101h1v1h-1zM352 101h1v1h-1zM358 101h1v1h-1zM366 101h2v1h-2zM310 102h2v1h-2zM343 102h3v1h-3zM351 102h1v1h-1zM358 102h1v1h-1zM367 102h1v1h-1zM307 103h3v1h-3zM344 103h2v1h-2zM350 103h2v1h-2zM358 103h1v1h-1zM360 103h7v1h-7zM299 104h3v1h-3zM305 104h2v1h-2zM323 104h1v1h-1zM343 104h1v1h-1zM349 104h1v1h-1zM301 105h4v1h-4zM322 105h1v1h-1zM343 105h1v1h-1zM346 105h4v1h-4zM343 106h1v1h-1zM345 106h1v1h-1zM347 108h3v1h-3zM346 109h4v1h-4zM419 112h1v1h-1zM418 113h2v1h-2z"/>
<path d="M300.7,31.7h1.1v1.1h-1.1zM341,33.9h0.9v0.9h-0.9zM313.9,87.2h0.9v0.9h-0.9zM344.4,78.9h0.9v0.9h-0.9zM332.1,60.5h1.1v1.1h-1.1zM359.8,30h0.8v0.8h-0.8zM356.4,56.7h1v1h-1zM319.8,53.4h1.6v1.6h-1.6zM312.6,40.7h1.3v1.3h-1.3zM332.8,104h1.5v1.5h-1.5zM321.3,39.5h1.5v1.5h-1.5zM359.3,24.6h1.4v1.4h-1.4zM352.1,78h1v1h-1zM347.8,84.8h1v1h-1zM338.5,40.8h0.8v0.8h-0.8zM320.2,50.8h1.1v1.1h-1.1zM338.8,93.9h1.6v1.6h-1.6zM358.6,107.4h1.4v1.4h-1.4zM318.4,37.2h1.3v1.3h-1.3zM332.7,80h0.9v0.9h-0.9zM311.6,101.2h1.3v1.3h-1.3zM341.7,30.2h1.1v1.1h-1.1zM354.6,77.8h1.6v1.6h-1.6zM311.8,61.1h1.4v1.4h-1.4zM326.7,89.8h1.2v1.2h-1.2zM307.1,30.5h1.6v1.6h-1.6zM307.2,38.7h1.1v1.1h-1.1zM342.8,95.5h1.2v1.2h-1.2zM329.9,89.8h1v1h-1zM322.3,74.7h1.3v1.3h-1.3zM302.3,31.6h0.9v0.9h-0.9zM343.5,81.6h1.6v1.6h-1.6zM346.1,43.9h1.4v1.4h-1.4zM359.1,52h0.8v0.8h-0.8zM322.5,46.3h0.9v0.9h-0.9zM302.7,32.7h1.5v1.5h-1.5zM303,74.8h1v1h-1zM311.6,92.6h1v1h-1zM311,61.1h1.4v1.4h-1.4zM331.5,95.9h1.1v1.1h-1.1zM331.4,83.7h1.2v1.2h-1.2zM343,62.2h0.9v0.9h-0.9zM307.4,89.3h1.4v1.4h-1.4zM356.6,81.4h1.3v1.3h-1.3zM310,95.4h0.9v0.9h-0.9zM325.5,34.1h1.1v1.1h-1.1zM318.4,58.6h1.4v1.4h-1.4zM332.5,42.9h1.4v1.4h-1.4zM344.1,93.1h0.8v0.8h-0.8zM336.9,99h1v1h-1zM312.1,92h1.1v1.1h-1.1zM324.1,92.3h1.1v1.1h-1.1zM311.9,40.4h1.1v1.1h-1.1zM341.9,53.7h1.4v1.4h-1.4zM304,43.4h1.3v1.3h-1.3zM328.8,65h1.5v1.5h-1.5zM316.6,37.6h0.8v0.8h-0.8zM328.9,47.6h1.2v1.2h-1.2zM300.3,22h1.1v1.1h-1.1zM345.5,47.8h1.5v1.5h-1.5zM334.8,56.7h1.4v1.4h-1.4zM314,74h1.5v1.5h-1.5zM332.5,49.5h0.9v0.9h-0.9zM334.4,38.1h1.1v1.1h-1.1zM332.5,102.9h1.3v1.3h-1.3zM331.2,95.8h1v1h-1zM323.3,80.2h1.2v1.2h-1.2zM313.3,57.3h1.5v1.5h-1.5zM314.5,82.7h0.8v0.8h-0.8zM357.3,80.8h1.1v1.1h-1.1zM359,90.5h0.8v0.8h-0.8zM314.9,64.3h1.6v1.6h-1.6zM308.4,26.1h1.1v1.1h-1.1zM302.7,57.2h1.2v1.2h-1.2zM326.4,34.2h0.8v0.8h-0.8zM348.2,59.8h1.2v1.2h-1.2zM328.7,81h1.5v1.5h-1.5zM349.6,84.5h1.1v1.1h-1.1zM310.1,29.7h1.5v1.5h-1.5zM303.4,71h1.5v1.5h-1.5zM319.3,55.5h1.1v1.1h-1.1zM356.7,80.8h1.5v1.5h-1.5zM302.3,84.8h1.2v1.2h-1.2zM324.1,92.2h1.4v1.4h-1.4zM354.6,85.5h1.5v1.5h-1.5zM325.7,69.8h1.4v1.4h-1.4zM327.2,33.8h1.3v1.3h-1.3zM352.3,96.9h0.9v0.9h-0.9zM322.9,41.7h1.1v1.1h-1.1zM357.6,58.2h1.1v1.1h-1.1zM316.4,59.9h1.3v1.3h-1.3zM320.6,38h1v1h-1zM315.6,99.9h0.9v0.9h-0.9zM345.2,31.3h1.4v1.4h-1.4zM316,89h1.1v1.1h-1.1zM304.7,30.1h1.4v1.4h-1.4zM332.5,63.8h1.1v1.1h-1.1zM341.5,63.5h0.8v0.8h-0.8zM336.1,49h1.5v1.5h-1.5zM332.9,88.5h0.9v0.9h-0.9zM342.4,74.5h1.5v1.5h-1.5zM353,69.4h1.3v1.3h-1.3zM346,44.7h1.2v1.2h-1.2zM347.2,73.1h1.2v1.2h-1.2zM351.3,105.9h1v1h-1zM304.5,74.8h0.9v0.9h-0.9zM358.2,62.8h1.2v1.2h-1.2zM349,96.8h0.9v0.9h-0.9zM327.2,37.5h1.2v1.2h-1.2zM308,97.4h1.1v1.1h-1.1zM323.4,99.2h1.5v1.5h-1.5zM320.2,65h1.3v1.3h-1.3zM311.3,33.7h1.5v1.5h-1.5zM309.7,82.9h1.4v1.4h-1.4zM335.5,51.7h1.5v1.5h-1.5zM347.2,28.1h1.5v1.5h-1.5zM338.2,46.9h0.9v0.9h-0.9zM305.9,91.8h1.5v1.5h-1.5zM320.9,37.5h0.9v0.9h-0.9zM324.8,47.6h0.8v0.8h-0.8zM317.9,92.6h0.9v0.9h-0.9zM324.2,66.2h0.9v0.9h-0.9zM302.2,28.4h0.9v0.9h-0.9zM358.5,96.1h1.4v1.4h-1.4zM354,50h1v1h-1zM352.2,74.1h1.5v1.5h-1.5zM321.5,57.5h1.4v1.4h-1.4zM352.9,36.2h1v1h-1zM300.8,70.1h1.5v1.5h-1.5zM334.1,34.8h1.4v1.4h-1.4zM339,31h1.5v1.5h-1.5zM339.6,64.2h1.1v1.1h-1.1zM309.6,62.2h1.1v1.1h-1.1zM314,77.6h1.3v1.3h-1.3zM357.3,105.3h1.2v1.2h-1.2zM343,54.3h1.1v1.1h-1.1zM334,106.4h0.8v0.8h-0.8zM327.8,50.9h1.4v1.4h-1.4zM357,62.6h0.9v0.9h-0.9zM335.7,72.5h1.3v1.3h-1.3zM346.6,61.8h1.2v1.2h-1.2zM346,24.4h1v1h-1zM341.3,106.1h1.6v1.6h-1.6zM316.9,105.6h1v1h-1zM327.2,35.7h1.3v1.3h-1.3zM323.5,80.9h1.6v1.6h-1.6zM307.7,78.5h1.3v1.3h-1.3zM316.5,25h1.6v1.6h-1.6zM341.7,75.8h0.9v0.9h-0.9zM354,56.3h1.2v1.2h-1.2zM333.4,60.4h1.6v1.6h-1.6zM328,80.3h1.4v1.4h-1.4zM356,36.7h1.1v1.1h-1.1zM357,74.1h1.1v1.1h-1.1zM352.9,32.2h1v1h-1zM304.1,79.7h1.2v1.2h-1.2zM318.3,59.8h1v1h-1zM342.6,87.3h1.1v1.1h-1.1zM352.1,25.8h1.3v1.3h-1.3zM309.2,32.1h1.2v1.2h-1.2zM305.2,28.4h0.9v0.9h-0.9zM322.6,93.4h1v1h-1zM307.3,88h1.5v1.5h-1.5zM359.8,26.2h0.9v0.9h-0.9zM326,107.3h1.2v1.2h-1.2zM353,41.3h1.2v1.2h-1.2zM341.2,41.5h1.2v1.2h-1.2zM349.5,92.1h1.4v1.4h-1.4zM349.7,107.7h1.3v1.3h-1.3zM315,41.1h0.8v0.8h-0.8zM355.1,71.1h1.3v1.3h-1.3zM352.4,81.4h1.1v1.1h-1.1zM335.1,29.1h1v1h-1zM320.6,90.3h1.3v1.3h-1.3zM336.2,56h1.1v1.1h-1.1zM323.1,26.3h1.1v1.1h-1.1zM354.6,92.1h1v1h-1zM329.9,86h1v1h-1zM321.4,72.4h1v1h-1zM354.6,23.6h1.5v1.5h-1.5zM340.2,56.2h1v1h-1zM352.1,83.2h1v1h-1zM319,30h1.3v1.3h-1.3zM325.4,49.3h1.4v1.4h-1.4zM315.2,34.2h1.4v1.4h-1.4zM353.2,91.4h1.2v1.2h-1.2zM343,96.2h0.8v0.8h-0.8zM318,52.6h1.4v1.4h-1.4zM320.2,87.7h1v1h-1zM356.8,59.4h1.3v1.3h-1.3zM337.7,92.7h1.3v1.3h-1.3zM312.7,59.9h1.3v1.3h-1.3zM304.3,93.3h1v1h-1zM355.2,54h1.6v1.6h-1.6zM343.3,55.8h1.4v1.4h-1.4zM300,29.3h1.3v1.3h-1.3zM318.5,57h1.4v1.4h-1.4zM328.4,74.7h1.4v1.4h-1.4zM350.1,31.1h1.5v1.5h-1.5zM344.6,41.5h0.9v0.9h-0.9zM311.6,29.7h1.3v1.3h-1.3zM359.7,63.8h1v1h-1zM310.2,105.7h1.2v1.2h-1.2zM314.3,100.3h1.1v1.1h-1.1zM359.1,65.9h1v1h-1zM311.2,23.4h1.5v1.5h-1.5zM319.7,84.6h1.5v1.5h-1.5zM324.1,65.9h1.4v1.4h-1.4zM338.6,53.2h1v1h-1zM317.1,23.8h1.3v1.3h-1.3zM338.4,88.5h1.2v1.2h-1.2zM343.9,70.1h1.5v1.5h-1.5zM333,79.9h1.3v1.3h-1.3zM312.2,28.6h1.5v1.5h-1.5zM341.5,65.9h1.5v1.5h-1.5zM310.9,85h1.2v1.2h-1.2zM306.3,33.1h0.8v0.8h-0.8zM311.4,88.8h1.2v1.2h-1.2zM302.8,64.5h1.6v1.6h-1.6zM347.2,47.9h1.2v1.2h-1.2zM322,41.9h1.3v1.3h-1.3zM301.4,62.7h1.5v1.5h-1.5zM345.4,78.4h1.5v1.5h-1.5zM357.1,45.3h1.6v1.6h-1.6zM353.6,64.5h0.9v0.9h-0.9zM332,64.7h1.6v1.6h-1.6zM314.7,83.8h1.4v1.4h-1.4zM336.1,46.4h1.5v1.5h-1.5zM315.3,95.8h1.5v1.5h-1.5zM331.9,26.5h1v1h-1zM304,38h1.1v1.1h-1.1zM334.4,91.2h0.8v0.8h-0.8zM344.7,31.5h1.4v1.4h-1.4zM300.6,52.7h1.5v1.5h-1.5zM352.5,26.6h1.1v1.1h-1.1zM354.8,37.2h1.2v1.2h-1.2zM315.7,47.5h1.2v1.2h-1.2zM308.3,35.3h1.6v1.6h-1.6zM345.7,73.4h0.9v0.9h-0.9zM308,75.4h1.3v1.3h-1.3zM300.6,104.9h1.1v1.1h-1.1zM316.1,76.6h1.5v1.5h-1.5zM321,65.9h0.8v0.8h-0.8zM328,99.2h1.6v1.6h-1.6zM321,96h1.6v1.6h-1.6zM318.2,95.6h1v1h-1zM357.9,99.4h1.6v1.6h-1.6zM324.5,81h1.4v1.4h-1.4zM334.9,26.4h1.3v1.3h-1.3zM348.2,77.3h1.5v1.5h-1.5z" fill="#fff"/>
<path d="M393.3,53h1.4v1.4h-1.4zM416.6,68.8h1.1v1.1h-1.1zM419.8,44.5h1v1h-1zM366,49.1h0.9v0.9h-0.9zM377.3,54.4h1.3v1.3h-1.3zM407.4,26.6h0.8v0.8h-0.8zM376.1,51.3h1.4v1.4h-1.4zM410.4,71.5h1.2v1.2h-1.2zM400.1,37.5h1v1h-1zM373,50.4h1.2v1.2h-1.2zM396.1,42.8h1.1v1.1h-1.1zM375.7,65.2h1.2v1.2h-1.2zM407.2,65h1v1h-1zM367.4,37h1.4v1.4h-1.4zM409.9,43.5h1.3v1.3h-1.3zM381.5,67.9h0.9v0.9h-0.9zM406.7,74h1.1v1.1h-1.1zM389.1,28.9h1v1h-1zM374.7,37.7h0.8v0.8h-0.8zM378.9,27.5h1.2v1.2h-1.2zM385.6,34.1h1.5v1.5h-1.5zM379.5,50.2h1.4v1.4h-1.4zM407.8,73.2h1.2v1.2h-1.2zM414.9,25.5h1.3v1.3h-1.3zM381.2,39h1.3v1.3h-1.3zM406.7,40.1h1.1v1.1h-1.1zM377.6,71.5h1.2v1.2h-1.2zM376.4,50.2h0.8v0.8h-0.8zM377,48.6h1.5v1.5h-1.5zM414.1,51h1.3v1.3h-1.3zM375.9,58.8h1.5v1.5h-1.5zM369.7,71.4h1.5v1.5h-1.5zM383.2,65.1h1.5v1.5h-1.5zM369.3,46.6h1.2v1.2h-1.2zM410,36.1h1.3v1.3h-1.3zM404.4,67.5h1.3v1.3h-1.3zM414.2,54h1.2v1.2h-1.2zM389.1,43.6h1.1v1.1h-1.1zM391.1,42.8h0.9v0.9h-0.9zM385.1,72.1h1v1h-1zM421.9,66.1h1.1v1.1h-1.1zM373.7,68.6h1.5v1.5h-1.5zM379.6,57.4h1.3v1.3h-1.3zM399.1,28.4h1v1h-1zM405.5,55.6h1.3v1.3h-1.3zM377.7,68.6h1.3v1.3h-1.3zM390.6,67.3h1v1h-1zM393.6,49.6h1.5v1.5h-1.5zM419.1,40.1h1.3v1.3h-1.3zM378.7,68.8h1.4v1.4h-1.4zM402.9,23.9h1v1h-1zM370.8,48.7h0.8v0.8h-0.8zM364,27.3h1.4v1.4h-1.4zM397.9,67.9h1.5v1.5h-1.5zM395.8,66.9h1.1v1.1h-1.1zM398.4,30.9h1.1v1.1h-1.1zM366.1,46.5h1.5v1.5h-1.5zM422.5,61.7h0.8v0.8h-0.8zM422.3,50.1h1.3v1.3h-1.3zM385.6,63.1h1v1h-1zM366.9,46.3h0.9v0.9h-0.9zM374.1,32.5h1.3v1.3h-1.3zM402.9,33.7h1.3v1.3h-1.3zM361.8,72.1h1v1h-1zM392.2,41.6h1.4v1.4h-1.4zM387.7,30.9h1.4v1.4h-1.4zM396.7,36.1h1.3v1.3h-1.3zM416.4,61.4h1.4v1.4h-1.4zM382.2,34.5h0.8v0.8h-0.8zM416.5,34.3h1.1v1.1h-1.1zM410.6,27.9h1.5v1.5h-1.5zM395.4,31h1.4v1.4h-1.4zM402.2,25.4h1.1v1.1h-1.1zM404.7,36.4h1v1h-1zM414,29.5h1v1h-1zM367.8,47.9h1.1v1.1h-1.1zM377.3,27h0.9v0.9h-0.9zM407.6,52.8h1.4v1.4h-1.4zM367.1,72.5h1.3v1.3h-1.3zM396.3,65.9h0.9v0.9h-0.9zM398.3,38.1h0.8v0.8h-0.8zM407.6,23.6h1.3v1.3h-1.3zM377.4,66.8h0.8v0.8h-0.8zM390.3,73.9h1.2v1.2h-1.2zM399.1,49.4h1.2v1.2h-1.2zM385.1,36h1v1h-1zM412.8,39.2h1.3v1.3h-1.3zM419.1,71.3h1.4v1.4h-1.4zM416.6,56.4h1.2v1.2h-1.2zM366.6,25.9h1v1h-1zM390.5,48h0.8v0.8h-0.8zM396.8,40.8h1.1v1.1h-1.1zM365.6,63.2h1.4v1.4h-1.4zM407.1,28h0.8v0.8h-0.8zM420.2,54.7h1.5v1.5h-1.5zM385.7,64.2h0.9v0.9h-0.9zM365.1,58.2h1.3v1.3h-1.3zM382.5,50.3h1.2v1.2h-1.2zM374.6,22.2h1.1v1.1h-1.1zM377,72.9h0.9v0.9h-0.9zM393.4,33.8h1.1v1.1h-1.1zM372.7,33.9h1.3v1.3h-1.3zM407,57.1h1.5v1.5h-1.5zM420.3,49.8h1.4v1.4h-1.4zM402.7,63.2h1v1h-1zM418.8,58.8h0.9v0.9h-0.9zM360.1,41.4h1.3v1.3h-1.3zM380.8,42h1.3v1.3h-1.3zM375.7,24.1h1.1v1.1h-1.1zM382.2,56.5h0.9v0.9h-0.9zM413.6,74.2h1.3v1.3h-1.3zM392.4,33h0.8v0.8h-0.8zM402.6,72h1v1h-1zM411.8,73h1.4v1.4h-1.4zM392.7,59.6h1v1h-1zM391,33.3h1.4v1.4h-1.4zM376,66.4h1.3v1.3h-1.3zM374,27h1.3v1.3h-1.3zM381.8,54.6h1.4v1.4h-1.4zM378.1,29.8h1.2v1.2h-1.2z" fill="#fff"/>
<path d="M327.8,179.6h1.2v1.2h-1.2zM316.1,180.2h1.2v1.2h-1.2zM341.4,165.8h1.1v1.1h-1.1zM329.7,175.6h1.3v1.3h-1.3zM326.1,173.8h1.3v1.3h-1.3zM330.4,169.3h0.8v0.8h-0.8zM324.8,161.6h1v1h-1zM334.4,173.2h1.2v1.2h-1.2zM342.1,177.2h1.1v1.1h-1.1zM309.7,161.7h1.3v1.3h-1.3zM316.4,166.6h1.2v1.2h-1.2zM335,163.8h0.8v0.8h-0.8zM314.7,168.5h0.6v0.6h-0.6zM326,169.4h0.9v0.9h-0.9zM312.4,163.4h0.6v0.6h-0.6zM339.9,183.2h1v1h-1zM310,164.6h0.7v0.7h-0.7zM317.7,161.8h0.8v0.8h-0.8zM313.1,166h1.1v1.1h-1.1zM323.3,174.7h0.9v0.9h-0.9zM326.6,184.3h0.8v0.8h-0.8zM307.8,174.9h0.9v0.9h-0.9zM336.2,163.4h1.2v1.2h-1.2zM305.6,176.8h0.9v0.9h-0.9zM317.6,187.6h1.1v1.1h-1.1zM311.5,175.3h1v1h-1zM306.3,162.7h1v1h-1zM334.2,174.3h0.9v0.9h-0.9zM325.3,168.1h1.2v1.2h-1.2zM343.5,174.9h0.6v0.6h-0.6zM320.9,184.9h0.8v0.8h-0.8zM309.2,165.7h1.1v1.1h-1.1zM329.9,168.9h1v1h-1zM335.4,189.9h1.2v1.2h-1.2zM322.4,185.1h1.2v1.2h-1.2zM339.8,183.3h1v1h-1zM325.5,186.4h1v1h-1zM333.8,167.1h0.7v0.7h-0.7zM315.8,178.1h1v1h-1zM312.9,165.8h1.3v1.3h-1.3zM307.9,188.7h1.1v1.1h-1.1zM327.9,190.9h1.1v1.1h-1.1zM305.3,189.1h0.9v0.9h-0.9zM341.7,185.2h0.7v0.7h-0.7zM306.6,160.6h1.1v1.1h-1.1zM336.7,167.1h0.7v0.7h-0.7zM319.7,184.8h1.1v1.1h-1.1zM339.7,190h1.1v1.1h-1.1zM338.4,160.5h0.6v0.6h-0.6zM339.5,179.2h0.8v0.8h-0.8z" fill="#fff"/>
<circle cx="351" cy="165.5" r="1.1" fill="#fff" stroke="none" stroke-width="0"/>
<circle cx="358.9" cy="168.5" r="1" fill="#fff" stroke="none" stroke-width="0"/>
<circle cx="365.2" cy="171.4" r="1.1" fill="#fff" stroke="none" stroke-width="0"/>
<circle cx="370.8" cy="178" r="2.6" fill="#fff" stroke="none" stroke-width="0"/>
<line x1="299.8" y1="124.9" x2="422.6" y2="124.9" stroke="#888" stroke-width="0.5" stroke-dasharray="3,3" stroke-linecap="butt"/>
<line x1="358.7" y1="84.5" x2="358.7" y2="159.2" stroke="#000" stroke-width="3"/>
</g>
<rect x="299.8" y="21.9" width="122.8" height="169.5" fill="none" stroke="#777" stroke-width="0.8"/>
<g clip-path="url(#ccp)">
<path fill="#3ff050" shape-rendering="crispEdges" d="M434 21h8v2h-8zM444 21h4v2h-4zM480 21h4v2h-4zM522 21h4v2h-4zM434 23h14v2h-14zM476 23h2v2h-2zM480 23h2v2h-2zM510 23h2v2h-2zM520 23h4v2h-4zM526 23h2v2h-2zM434 25h10v2h-10zM448 25h2v2h-2zM486 25h2v2h-2zM516 25h2v2h-2zM434 27h10v2h-10zM448 27h4v2h-4zM514 27h4v2h-4zM434 29h2v2h-2zM438 29h8v2h-8zM512 29h6v2h-6zM436 31h2v2h-2zM440 31h4v2h-4zM446 31h4v2h-4zM452 31h4v2h-4zM514 31h4v2h-4zM434 33h4v2h-4zM440 33h2v2h-2zM446 33h4v2h-4zM452 33h6v2h-6zM510 33h2v2h-2zM514 33h2v2h-2zM526 33h2v2h-2zM540 33h4v2h-4zM548 33h8v2h-8zM434 35h22v2h-22zM486 35h2v2h-2zM518 35h8v2h-8zM528 35h2v2h-2zM534 35h22v2h-22zM434 37h8v2h-8zM446 37h2v2h-2zM454 37h2v2h-2zM484 37h2v2h-2zM522 37h2v2h-2zM526 37h4v2h-4zM532 37h26v2h-26zM436 39h10v2h-10zM452 39h6v2h-6zM484 39h4v2h-4zM522 39h8v2h-8zM534 39h24v2h-24zM434 41h8v2h-8zM444 41h12v2h-12zM458 41h2v2h-2zM482 41h10v2h-10zM522 41h12v2h-12zM536 41h18v2h-18zM556 41h2v2h-2zM434 43h6v2h-6zM442 43h2v2h-2zM446 43h14v2h-14zM476 43h8v2h-8zM486 43h8v2h-8zM504 43h2v2h-2zM522 43h4v2h-4zM528 43h2v2h-2zM536 43h4v2h-4zM544 43h10v2h-10zM556 43h2v2h-2zM444 45h6v2h-6zM454 45h6v2h-6zM462 45h18v2h-18zM486 45h12v2h-12zM500 45h2v2h-2zM504 45h6v2h-6zM518 45h6v2h-6zM528 45h6v2h-6zM546 45h2v2h-2zM550 45h2v2h-2zM554 45h4v2h-4zM434 47h2v2h-2zM446 47h4v2h-4zM452 47h6v2h-6zM462 47h18v2h-18zM482 47h2v2h-2zM486 47h26v2h-26zM518 47h8v2h-8zM528 47h6v2h-6zM536 47h6v2h-6zM550 47h8v2h-8zM444 49h8v2h-8zM454 49h4v2h-4zM460 49h28v2h-28zM492 49h26v2h-26zM528 49h18v2h-18zM548 49h10v2h-10zM444 51h4v2h-4zM450 51h2v2h-2zM456 51h2v2h-2zM464 51h8v2h-8zM476 51h18v2h-18zM496 51h10v2h-10zM510 51h8v2h-8zM526 51h14v2h-14zM542 51h8v2h-8zM446 53h6v2h-6zM458 53h2v2h-2zM466 53h4v2h-4zM478 53h4v2h-4zM492 53h14v2h-14zM508 53h6v2h-6zM528 53h10v2h-10zM540 53h8v2h-8zM438 55h2v2h-2zM444 55h10v2h-10zM460 55h12v2h-12zM476 55h28v2h-28zM508 55h4v2h-4zM514 55h2v2h-2zM518 55h2v2h-2zM522 55h2v2h-2zM528 55h22v2h-22zM442 57h2v2h-2zM446 57h22v2h-22zM478 57h4v2h-4zM486 57h16v2h-16zM506 57h8v2h-8zM520 57h6v2h-6zM528 57h6v2h-6zM536 57h6v2h-6zM546 57h4v2h-4zM552 57h2v2h-2zM440 59h8v2h-8zM454 59h10v2h-10zM468 59h2v2h-2zM476 59h30v2h-30zM508 59h20v2h-20zM538 59h4v2h-4zM546 59h2v2h-2zM550 59h6v2h-6zM444 61h6v2h-6zM454 61h4v2h-4zM460 61h4v2h-4zM468 61h6v2h-6zM476 61h6v2h-6zM484 61h2v2h-2zM488 61h32v2h-32zM526 61h2v2h-2zM534 61h8v2h-8zM544 61h2v2h-2zM552 61h4v2h-4zM440 63h12v2h-12zM454 63h6v2h-6zM462 63h4v2h-4zM468 63h50v2h-50zM526 63h2v2h-2zM534 63h8v2h-8zM546 63h12v2h-12zM436 65h12v2h-12zM450 65h18v2h-18zM472 65h10v2h-10zM484 65h2v2h-2zM488 65h18v2h-18zM508 65h10v2h-10zM520 65h2v2h-2zM526 65h22v2h-22zM550 65h8v2h-8zM434 67h14v2h-14zM452 67h4v2h-4zM462 67h2v2h-2zM466 67h18v2h-18zM490 67h14v2h-14zM512 67h6v2h-6zM522 67h2v2h-2zM530 67h4v2h-4zM536 67h8v2h-8zM548 67h10v2h-10zM434 69h14v2h-14zM452 69h2v2h-2zM460 69h2v2h-2zM464 69h2v2h-2zM472 69h2v2h-2zM476 69h6v2h-6zM494 69h10v2h-10zM516 69h4v2h-4zM526 69h12v2h-12zM548 69h10v2h-10zM434 71h12v2h-12zM448 71h2v2h-2zM454 71h4v2h-4zM462 71h2v2h-2zM468 71h10v2h-10zM484 71h2v2h-2zM492 71h14v2h-14zM514 71h2v2h-2zM518 71h2v2h-2zM524 71h20v2h-20zM548 71h6v2h-6zM556 71h2v2h-2zM434 73h10v2h-10zM454 73h6v2h-6zM462 73h2v2h-2zM470 73h4v2h-4zM476 73h2v2h-2zM482 73h6v2h-6zM492 73h4v2h-4zM498 73h4v2h-4zM504 73h24v2h-24zM530 73h14v2h-14zM550 73h2v2h-2zM554 73h4v2h-4zM436 75h10v2h-10zM452 75h6v2h-6zM462 75h16v2h-16zM480 75h6v2h-6zM494 75h26v2h-26zM530 75h2v2h-2zM534 75h2v2h-2zM548 75h2v2h-2zM434 77h8v2h-8zM444 77h4v2h-4zM454 77h4v2h-4zM462 77h4v2h-4zM470 77h2v2h-2zM478 77h6v2h-6zM492 77h6v2h-6zM502 77h2v2h-2zM508 77h10v2h-10zM532 77h4v2h-4zM550 77h2v2h-2zM434 79h8v2h-8zM456 79h10v2h-10zM470 79h2v2h-2zM474 79h4v2h-4zM480 79h4v2h-4zM490 79h6v2h-6zM500 79h6v2h-6zM514 79h4v2h-4zM434 81h8v2h-8zM450 81h2v2h-2zM458 81h10v2h-10zM470 81h12v2h-12zM486 81h10v2h-10zM498 81h4v2h-4zM504 81h4v2h-4zM512 81h6v2h-6zM520 81h2v2h-2zM434 83h6v2h-6zM458 83h22v2h-22zM486 83h2v2h-2zM490 83h16v2h-16zM496 85h4v2h-4z"/>
<path fill="#4bef45" shape-rendering="crispEdges" d="M442 21h2v2h-2zM448 21h2v2h-2zM452 21h2v2h-2zM456 21h6v2h-6zM464 21h16v2h-16zM484 21h8v2h-8zM502 21h20v2h-20zM526 21h10v2h-10zM448 23h28v2h-28zM478 23h2v2h-2zM482 23h10v2h-10zM498 23h4v2h-4zM504 23h6v2h-6zM512 23h8v2h-8zM524 23h2v2h-2zM528 23h8v2h-8zM444 25h4v2h-4zM450 25h12v2h-12zM464 25h22v2h-22zM488 25h4v2h-4zM496 25h20v2h-20zM518 25h16v2h-16zM536 25h4v2h-4zM556 25h2v2h-2zM444 27h4v2h-4zM452 27h18v2h-18zM474 27h40v2h-40zM518 27h20v2h-20zM550 27h2v2h-2zM556 27h2v2h-2zM446 29h16v2h-16zM464 29h2v2h-2zM474 29h8v2h-8zM484 29h28v2h-28zM518 29h20v2h-20zM540 29h6v2h-6zM548 29h2v2h-2zM552 29h2v2h-2zM556 29h2v2h-2zM444 31h2v2h-2zM450 31h2v2h-2zM456 31h4v2h-4zM474 31h6v2h-6zM482 31h32v2h-32zM518 31h20v2h-20zM540 31h18v2h-18zM442 33h4v2h-4zM450 33h2v2h-2zM458 33h6v2h-6zM474 33h26v2h-26zM508 33h2v2h-2zM512 33h2v2h-2zM516 33h10v2h-10zM528 33h12v2h-12zM544 33h4v2h-4zM556 33h2v2h-2zM456 35h4v2h-4zM462 35h4v2h-4zM468 35h2v2h-2zM478 35h8v2h-8zM488 35h10v2h-10zM508 35h10v2h-10zM526 35h2v2h-2zM530 35h4v2h-4zM556 35h2v2h-2zM456 37h2v2h-2zM464 37h2v2h-2zM482 37h2v2h-2zM486 37h10v2h-10zM500 37h2v2h-2zM508 37h14v2h-14zM524 37h2v2h-2zM530 37h2v2h-2zM458 39h2v2h-2zM462 39h2v2h-2zM474 39h2v2h-2zM478 39h6v2h-6zM488 39h10v2h-10zM508 39h14v2h-14zM530 39h4v2h-4zM456 41h2v2h-2zM460 41h10v2h-10zM472 41h10v2h-10zM492 41h12v2h-12zM508 41h14v2h-14zM534 41h2v2h-2zM554 41h2v2h-2zM460 43h16v2h-16zM484 43h2v2h-2zM494 43h10v2h-10zM506 43h16v2h-16zM530 43h6v2h-6zM540 43h4v2h-4zM554 43h2v2h-2zM450 45h4v2h-4zM460 45h2v2h-2zM480 45h6v2h-6zM498 45h2v2h-2zM502 45h2v2h-2zM510 45h8v2h-8zM534 45h12v2h-12zM548 45h2v2h-2zM552 45h2v2h-2zM450 47h2v2h-2zM458 47h4v2h-4zM480 47h2v2h-2zM484 47h2v2h-2zM512 47h6v2h-6zM534 47h2v2h-2zM542 47h8v2h-8zM452 49h2v2h-2zM458 49h2v2h-2zM546 49h2v2h-2zM448 51h2v2h-2zM452 51h4v2h-4zM458 51h6v2h-6zM494 51h2v2h-2zM540 51h2v2h-2zM452 53h6v2h-6zM460 53h6v2h-6zM482 53h10v2h-10zM538 53h2v2h-2zM454 55h6v2h-6zM482 57h4v2h-4zM542 57h4v2h-4zM448 59h6v2h-6zM542 59h4v2h-4zM548 59h2v2h-2zM450 61h4v2h-4zM482 61h2v2h-2zM486 61h2v2h-2zM520 61h6v2h-6zM542 61h2v2h-2zM546 61h6v2h-6zM452 63h2v2h-2zM518 63h8v2h-8zM542 63h4v2h-4zM468 65h4v2h-4zM482 65h2v2h-2zM506 65h2v2h-2zM518 65h2v2h-2zM522 65h4v2h-4zM456 67h6v2h-6zM464 67h2v2h-2zM504 67h8v2h-8zM518 67h4v2h-4zM524 67h6v2h-6zM534 67h2v2h-2zM454 69h6v2h-6zM462 69h2v2h-2zM466 69h6v2h-6zM474 69h2v2h-2zM504 69h2v2h-2zM508 69h8v2h-8zM520 69h6v2h-6zM458 71h4v2h-4zM464 71h4v2h-4zM506 71h8v2h-8zM516 71h2v2h-2zM520 71h4v2h-4zM460 73h2v2h-2zM464 73h6v2h-6zM474 73h2v2h-2zM496 73h2v2h-2zM458 75h4v2h-4zM458 77h4v2h-4zM498 77h4v2h-4zM496 79h4v2h-4zM496 81h2v2h-2z"/>
<path fill="#5eeb3d" shape-rendering="crispEdges" d="M450 21h2v2h-2zM454 21h2v2h-2zM462 21h2v2h-2zM492 21h10v2h-10zM536 21h12v2h-12zM550 21h8v2h-8zM492 23h6v2h-6zM502 23h2v2h-2zM536 23h6v2h-6zM544 23h2v2h-2zM548 23h10v2h-10zM462 25h2v2h-2zM492 25h4v2h-4zM534 25h2v2h-2zM540 25h2v2h-2zM544 25h12v2h-12zM470 27h4v2h-4zM538 27h12v2h-12zM552 27h4v2h-4zM462 29h2v2h-2zM466 29h8v2h-8zM482 29h2v2h-2zM538 29h2v2h-2zM546 29h2v2h-2zM550 29h2v2h-2zM554 29h2v2h-2zM460 31h14v2h-14zM480 31h2v2h-2zM538 31h2v2h-2zM464 33h10v2h-10zM500 33h8v2h-8zM460 35h2v2h-2zM466 35h2v2h-2zM470 35h8v2h-8zM498 35h10v2h-10zM458 37h6v2h-6zM466 37h16v2h-16zM496 37h4v2h-4zM502 37h6v2h-6zM460 39h2v2h-2zM464 39h10v2h-10zM476 39h2v2h-2zM498 39h10v2h-10zM470 41h2v2h-2zM504 41h4v2h-4zM506 69h2v2h-2z"/>
<path fill="#72e834" shape-rendering="crispEdges" d="M548 21h2v2h-2zM542 23h2v2h-2zM546 23h2v2h-2zM542 25h2v2h-2z"/>
<path fill="#37f05c" shape-rendering="crispEdges" d="M436 29h2v2h-2zM434 31h2v2h-2zM438 31h2v2h-2zM438 33h2v2h-2zM442 37h4v2h-4zM448 37h6v2h-6zM434 39h2v2h-2zM446 39h6v2h-6zM442 41h2v2h-2zM440 43h2v2h-2zM444 43h2v2h-2zM526 43h2v2h-2zM434 45h10v2h-10zM524 45h4v2h-4zM436 47h10v2h-10zM526 47h2v2h-2zM434 49h10v2h-10zM488 49h4v2h-4zM518 49h10v2h-10zM434 51h10v2h-10zM472 51h4v2h-4zM506 51h4v2h-4zM518 51h8v2h-8zM550 51h8v2h-8zM434 53h12v2h-12zM470 53h8v2h-8zM506 53h2v2h-2zM514 53h14v2h-14zM548 53h10v2h-10zM434 55h4v2h-4zM440 55h4v2h-4zM472 55h4v2h-4zM504 55h4v2h-4zM512 55h2v2h-2zM516 55h2v2h-2zM520 55h2v2h-2zM524 55h4v2h-4zM550 55h8v2h-8zM434 57h8v2h-8zM444 57h2v2h-2zM468 57h10v2h-10zM502 57h4v2h-4zM514 57h6v2h-6zM526 57h2v2h-2zM534 57h2v2h-2zM550 57h2v2h-2zM554 57h4v2h-4zM434 59h6v2h-6zM464 59h4v2h-4zM470 59h6v2h-6zM506 59h2v2h-2zM528 59h10v2h-10zM556 59h2v2h-2zM434 61h10v2h-10zM458 61h2v2h-2zM464 61h4v2h-4zM474 61h2v2h-2zM528 61h6v2h-6zM556 61h2v2h-2zM434 63h6v2h-6zM460 63h2v2h-2zM466 63h2v2h-2zM528 63h6v2h-6zM434 65h2v2h-2zM448 65h2v2h-2zM486 65h2v2h-2zM548 65h2v2h-2zM448 67h4v2h-4zM484 67h6v2h-6zM544 67h4v2h-4zM448 69h4v2h-4zM482 69h12v2h-12zM538 69h10v2h-10zM446 71h2v2h-2zM450 71h4v2h-4zM478 71h6v2h-6zM486 71h6v2h-6zM544 71h4v2h-4zM554 71h2v2h-2zM444 73h10v2h-10zM478 73h4v2h-4zM488 73h4v2h-4zM502 73h2v2h-2zM528 73h2v2h-2zM544 73h6v2h-6zM552 73h2v2h-2zM434 75h2v2h-2zM446 75h6v2h-6zM478 75h2v2h-2zM486 75h8v2h-8zM520 75h10v2h-10zM532 75h2v2h-2zM536 75h12v2h-12zM550 75h8v2h-8zM442 77h2v2h-2zM448 77h6v2h-6zM466 77h4v2h-4zM472 77h6v2h-6zM484 77h8v2h-8zM504 77h4v2h-4zM518 77h4v2h-4zM524 77h8v2h-8zM536 77h14v2h-14zM552 77h6v2h-6zM442 79h14v2h-14zM466 79h4v2h-4zM472 79h2v2h-2zM478 79h2v2h-2zM484 79h6v2h-6zM506 79h8v2h-8zM518 79h20v2h-20zM544 79h14v2h-14zM442 81h8v2h-8zM452 81h2v2h-2zM456 81h2v2h-2zM468 81h2v2h-2zM482 81h4v2h-4zM502 81h2v2h-2zM508 81h4v2h-4zM518 81h2v2h-2zM522 81h10v2h-10zM546 81h4v2h-4zM440 83h12v2h-12zM456 83h2v2h-2zM480 83h6v2h-6zM488 83h2v2h-2zM506 83h14v2h-14zM466 85h2v2h-2zM470 85h12v2h-12zM488 85h8v2h-8zM500 85h4v2h-4z"/>
<path fill="#30f06a" shape-rendering="crispEdges" d="M522 77h2v2h-2zM538 79h6v2h-6zM454 81h2v2h-2zM532 81h14v2h-14zM550 81h8v2h-8zM452 83h4v2h-4zM520 83h6v2h-6zM528 83h4v2h-4zM438 85h2v2h-2zM458 85h2v2h-2zM462 85h4v2h-4zM468 85h2v2h-2zM482 85h6v2h-6zM504 85h16v2h-16z"/>
<path fill="#2aee80" shape-rendering="crispEdges" d="M526 83h2v2h-2zM532 83h10v2h-10zM544 83h2v2h-2zM548 83h2v2h-2zM434 85h4v2h-4zM440 85h6v2h-6zM448 85h4v2h-4zM456 85h2v2h-2zM460 85h2v2h-2zM520 85h6v2h-6zM470 87h4v2h-4z"/>
<path fill="#24ed96" shape-rendering="crispEdges" d="M542 83h2v2h-2zM546 83h2v2h-2zM550 83h2v2h-2zM446 85h2v2h-2zM452 85h4v2h-4zM526 85h4v2h-4zM532 85h2v2h-2zM466 87h4v2h-4zM474 87h4v2h-4zM492 87h12v2h-12z"/>
<path fill="#20ebab" shape-rendering="crispEdges" d="M552 83h6v2h-6zM530 85h2v2h-2zM536 85h2v2h-2zM464 87h2v2h-2zM478 87h2v2h-2zM488 87h4v2h-4zM516 87h4v2h-4z"/>
<path fill="#20e5b9" shape-rendering="crispEdges" d="M534 85h2v2h-2zM486 87h2v2h-2zM510 87h4v2h-4zM520 87h2v2h-2z"/>
<path fill="#20e0c7" shape-rendering="crispEdges" d="M538 85h2v2h-2zM480 87h4v2h-4zM504 87h2v2h-2zM514 87h2v2h-2z"/>
<path fill="#21d8d5" shape-rendering="crispEdges" d="M540 85h2v2h-2zM544 85h2v2h-2zM436 87h2v2h-2zM462 87h2v2h-2zM506 87h2v2h-2z"/>
<path fill="#25cce5" shape-rendering="crispEdges" d="M542 85h2v2h-2zM546 85h2v2h-2zM434 87h2v2h-2zM438 87h2v2h-2zM456 87h6v2h-6zM484 87h2v2h-2zM508 87h2v2h-2zM522 87h2v2h-2z"/>
<path fill="#28bef4" shape-rendering="crispEdges" d="M548 85h2v2h-2zM440 87h16v2h-16zM524 87h8v2h-8zM434 89h2v2h-2zM464 89h10v2h-10z"/>
<path fill="#23a7f4" shape-rendering="crispEdges" d="M550 85h8v2h-8zM532 87h16v2h-16zM436 89h12v2h-12zM450 89h14v2h-14zM474 89h12v2h-12zM488 89h18v2h-18zM510 89h12v2h-12zM434 91h6v2h-6zM454 91h4v2h-4zM462 91h12v2h-12zM476 91h2v2h-2zM434 93h2v2h-2zM438 93h2v2h-2zM450 93h2v2h-2zM466 93h2v2h-2z"/>
<path fill="#1f90f4" shape-rendering="crispEdges" d="M548 87h6v2h-6zM556 87h2v2h-2zM448 89h2v2h-2zM486 89h2v2h-2zM506 89h4v2h-4zM522 89h10v2h-10zM538 89h2v2h-2zM440 91h14v2h-14zM458 91h4v2h-4zM474 91h2v2h-2zM478 91h10v2h-10zM490 91h14v2h-14zM520 91h2v2h-2zM436 93h2v2h-2zM440 93h10v2h-10zM452 93h14v2h-14zM468 93h18v2h-18zM434 95h8v2h-8zM444 95h42v2h-42zM436 97h36v2h-36zM446 99h26v2h-26zM530 99h2v2h-2zM446 101h22v2h-22zM530 101h2v2h-2zM444 103h10v2h-10zM456 103h2v2h-2zM460 103h2v2h-2zM466 103h2v2h-2z"/>
<path fill="#1a73f3" shape-rendering="crispEdges" d="M554 87h2v2h-2zM532 89h6v2h-6zM540 89h18v2h-18zM488 91h2v2h-2zM504 91h16v2h-16zM522 91h36v2h-36zM486 93h68v2h-68zM556 93h2v2h-2zM442 95h2v2h-2zM486 95h32v2h-32zM520 95h38v2h-38zM434 97h2v2h-2zM472 97h16v2h-16zM492 97h14v2h-14zM508 97h4v2h-4zM514 97h2v2h-2zM520 97h38v2h-38zM434 99h12v2h-12zM472 99h18v2h-18zM492 99h2v2h-2zM496 99h6v2h-6zM518 99h12v2h-12zM532 99h26v2h-26zM434 101h12v2h-12zM468 101h14v2h-14zM484 101h2v2h-2zM488 101h2v2h-2zM494 101h2v2h-2zM518 101h12v2h-12zM532 101h26v2h-26zM434 103h10v2h-10zM454 103h2v2h-2zM458 103h2v2h-2zM462 103h4v2h-4zM468 103h12v2h-12zM482 103h2v2h-2zM486 103h2v2h-2zM522 103h16v2h-16zM542 103h16v2h-16zM434 105h40v2h-40zM484 105h4v2h-4zM494 105h4v2h-4zM528 105h6v2h-6zM544 105h4v2h-4zM556 105h2v2h-2zM434 107h40v2h-40zM486 107h2v2h-2zM490 107h2v2h-2zM494 107h2v2h-2zM530 107h2v2h-2zM434 109h36v2h-36zM434 111h16v2h-16zM452 111h12v2h-12zM488 111h2v2h-2zM434 113h2v2h-2zM442 113h6v2h-6zM454 113h2v2h-2zM458 113h8v2h-8zM434 115h2v2h-2zM434 117h2v2h-2z"/>
<path fill="#1454f2" shape-rendering="crispEdges" d="M554 93h2v2h-2zM518 95h2v2h-2zM488 97h4v2h-4zM506 97h2v2h-2zM512 97h2v2h-2zM516 97h4v2h-4zM490 99h2v2h-2zM494 99h2v2h-2zM502 99h16v2h-16zM482 101h2v2h-2zM486 101h2v2h-2zM490 101h4v2h-4zM496 101h22v2h-22zM480 103h2v2h-2zM484 103h2v2h-2zM488 103h34v2h-34zM538 103h4v2h-4zM474 105h10v2h-10zM488 105h6v2h-6zM498 105h30v2h-30zM534 105h10v2h-10zM548 105h8v2h-8zM474 107h12v2h-12zM488 107h2v2h-2zM492 107h2v2h-2zM496 107h34v2h-34zM532 107h26v2h-26zM470 109h40v2h-40zM512 109h46v2h-46zM450 111h2v2h-2zM464 111h24v2h-24zM490 111h48v2h-48zM540 111h18v2h-18zM436 113h6v2h-6zM448 113h6v2h-6zM456 113h2v2h-2zM466 113h52v2h-52zM526 113h6v2h-6zM540 113h18v2h-18zM436 115h82v2h-82zM526 115h6v2h-6zM540 115h18v2h-18zM436 117h82v2h-82zM528 117h4v2h-4zM540 117h18v2h-18zM434 119h84v2h-84zM528 119h4v2h-4zM542 119h16v2h-16zM434 121h8v2h-8zM448 121h18v2h-18zM476 121h30v2h-30zM508 121h2v2h-2zM528 121h2v2h-2zM542 121h16v2h-16zM434 123h6v2h-6zM446 123h2v2h-2zM480 123h8v2h-8zM504 123h2v2h-2zM546 123h2v2h-2zM552 123h6v2h-6zM434 125h4v2h-4zM480 125h6v2h-6zM506 125h2v2h-2zM538 125h2v2h-2zM546 125h2v2h-2zM554 125h2v2h-2zM434 127h2v2h-2zM544 127h2v2h-2zM532 129h4v2h-4zM542 129h2v2h-2zM530 131h6v2h-6zM544 131h2v2h-2zM530 133h6v2h-6zM538 133h2v2h-2z"/>
<path fill="#0f46f1" shape-rendering="crispEdges" d="M510 109h2v2h-2zM538 111h2v2h-2zM518 113h8v2h-8zM532 113h8v2h-8zM518 115h8v2h-8zM532 115h8v2h-8zM518 117h10v2h-10zM532 117h8v2h-8zM518 119h10v2h-10zM532 119h10v2h-10zM442 121h6v2h-6zM466 121h10v2h-10zM506 121h2v2h-2zM510 121h18v2h-18zM530 121h12v2h-12zM440 123h6v2h-6zM448 123h32v2h-32zM488 123h16v2h-16zM506 123h40v2h-40zM548 123h4v2h-4zM438 125h42v2h-42zM486 125h20v2h-20zM508 125h30v2h-30zM540 125h6v2h-6zM548 125h6v2h-6zM556 125h2v2h-2zM436 127h108v2h-108zM546 127h12v2h-12zM434 129h32v2h-32zM468 129h64v2h-64zM536 129h6v2h-6zM544 129h14v2h-14zM434 131h32v2h-32zM472 131h2v2h-2zM478 131h20v2h-20zM500 131h14v2h-14zM516 131h14v2h-14zM536 131h8v2h-8zM546 131h12v2h-12zM434 133h32v2h-32zM468 133h2v2h-2zM478 133h18v2h-18zM506 133h6v2h-6zM516 133h14v2h-14zM536 133h2v2h-2zM540 133h16v2h-16zM434 135h32v2h-32zM478 135h18v2h-18zM508 135h4v2h-4zM518 135h38v2h-38zM434 137h28v2h-28zM474 137h2v2h-2zM482 137h10v2h-10zM504 137h4v2h-4zM518 137h40v2h-40zM434 139h14v2h-14zM450 139h2v2h-2zM454 139h10v2h-10zM472 139h16v2h-16zM526 139h32v2h-32zM434 141h14v2h-14zM456 141h8v2h-8zM474 141h10v2h-10zM524 141h30v2h-30zM556 141h2v2h-2zM434 143h6v2h-6zM442 143h6v2h-6zM456 143h4v2h-4zM490 143h6v2h-6zM526 143h32v2h-32zM436 145h12v2h-12zM452 145h8v2h-8zM492 145h2v2h-2zM526 145h4v2h-4zM532 145h4v2h-4zM542 145h10v2h-10zM554 145h4v2h-4zM438 147h2v2h-2zM444 147h2v2h-2zM448 147h2v2h-2zM528 147h2v2h-2zM546 147h2v2h-2zM550 147h8v2h-8zM498 149h4v2h-4zM550 149h6v2h-6zM550 151h4v2h-4zM552 153h2v2h-2zM536 155h2v2h-2zM540 155h2v2h-2zM550 155h2v2h-2zM434 157h2v2h-2zM522 157h2v2h-2zM534 157h2v2h-2zM538 157h4v2h-4zM546 157h2v2h-2zM540 159h2v2h-2zM546 159h2v2h-2z"/>
<path fill="#0a38f0" shape-rendering="crispEdges" d="M466 129h2v2h-2zM466 131h6v2h-6zM474 131h4v2h-4zM498 131h2v2h-2zM514 131h2v2h-2zM466 133h2v2h-2zM470 133h8v2h-8zM496 133h10v2h-10zM512 133h4v2h-4zM556 133h2v2h-2zM466 135h12v2h-12zM496 135h12v2h-12zM512 135h6v2h-6zM556 135h2v2h-2zM462 137h12v2h-12zM476 137h6v2h-6zM492 137h12v2h-12zM508 137h10v2h-10zM448 139h2v2h-2zM452 139h2v2h-2zM464 139h8v2h-8zM488 139h38v2h-38zM448 141h8v2h-8zM464 141h10v2h-10zM484 141h40v2h-40zM554 141h2v2h-2zM440 143h2v2h-2zM448 143h8v2h-8zM460 143h30v2h-30zM496 143h30v2h-30zM434 145h2v2h-2zM448 145h4v2h-4zM460 145h32v2h-32zM494 145h32v2h-32zM530 145h2v2h-2zM536 145h6v2h-6zM552 145h2v2h-2zM434 147h4v2h-4zM440 147h4v2h-4zM446 147h2v2h-2zM450 147h78v2h-78zM530 147h16v2h-16zM548 147h2v2h-2zM434 149h32v2h-32zM468 149h30v2h-30zM502 149h48v2h-48zM556 149h2v2h-2zM434 151h116v2h-116zM554 151h4v2h-4zM434 153h118v2h-118zM554 153h4v2h-4zM434 155h102v2h-102zM538 155h2v2h-2zM542 155h8v2h-8zM552 155h6v2h-6zM436 157h28v2h-28zM470 157h52v2h-52zM524 157h10v2h-10zM536 157h2v2h-2zM542 157h4v2h-4zM548 157h10v2h-10zM434 159h28v2h-28zM472 159h68v2h-68zM542 159h4v2h-4zM548 159h10v2h-10zM434 161h28v2h-28zM472 161h86v2h-86zM434 163h24v2h-24zM474 163h84v2h-84zM434 165h24v2h-24zM476 165h22v2h-22zM504 165h54v2h-54zM434 167h22v2h-22zM478 167h24v2h-24zM506 167h52v2h-52zM434 169h22v2h-22zM476 169h20v2h-20zM498 169h4v2h-4zM508 169h26v2h-26zM538 169h20v2h-20zM434 171h20v2h-20zM476 171h22v2h-22zM508 171h28v2h-28zM542 171h16v2h-16zM434 173h4v2h-4zM440 173h12v2h-12zM478 173h18v2h-18zM510 173h26v2h-26zM542 173h8v2h-8zM552 173h6v2h-6zM434 175h4v2h-4zM440 175h14v2h-14zM478 175h8v2h-8zM490 175h2v2h-2zM508 175h28v2h-28zM542 175h8v2h-8zM552 175h6v2h-6zM440 177h16v2h-16zM482 177h2v2h-2zM508 177h28v2h-28zM544 177h8v2h-8zM554 177h2v2h-2zM434 179h10v2h-10zM448 179h10v2h-10zM480 179h4v2h-4zM510 179h30v2h-30zM544 179h2v2h-2zM556 179h2v2h-2zM434 181h10v2h-10zM450 181h6v2h-6zM482 181h2v2h-2zM510 181h26v2h-26zM538 181h4v2h-4zM544 181h2v2h-2zM434 183h6v2h-6zM450 183h2v2h-2zM510 183h28v2h-28zM554 183h2v2h-2zM512 185h16v2h-16zM530 185h8v2h-8zM554 185h2v2h-2zM518 187h12v2h-12zM532 187h6v2h-6zM540 187h2v2h-2zM544 187h2v2h-2zM552 187h4v2h-4zM518 189h6v2h-6zM536 189h4v2h-4zM542 189h2v2h-2zM552 189h2v2h-2zM556 189h2v2h-2zM542 191h4v2h-4zM548 191h10v2h-10z"/>
<path fill="#092dec" shape-rendering="crispEdges" d="M466 149h2v2h-2zM464 157h6v2h-6zM462 159h10v2h-10zM462 161h10v2h-10zM458 163h16v2h-16zM458 165h18v2h-18zM498 165h6v2h-6zM456 167h22v2h-22zM502 167h4v2h-4zM456 169h20v2h-20zM496 169h2v2h-2zM502 169h6v2h-6zM534 169h4v2h-4zM454 171h22v2h-22zM498 171h10v2h-10zM536 171h6v2h-6zM438 173h2v2h-2zM452 173h26v2h-26zM496 173h14v2h-14zM536 173h6v2h-6zM550 173h2v2h-2zM438 175h2v2h-2zM454 175h24v2h-24zM486 175h4v2h-4zM492 175h16v2h-16zM536 175h6v2h-6zM550 175h2v2h-2zM434 177h6v2h-6zM456 177h26v2h-26zM484 177h24v2h-24zM536 177h8v2h-8zM552 177h2v2h-2zM556 177h2v2h-2zM444 179h4v2h-4zM458 179h22v2h-22zM484 179h26v2h-26zM540 179h4v2h-4zM546 179h10v2h-10zM444 181h6v2h-6zM456 181h26v2h-26zM484 181h26v2h-26zM536 181h2v2h-2zM542 181h2v2h-2zM546 181h12v2h-12zM440 183h10v2h-10zM452 183h58v2h-58zM538 183h16v2h-16zM556 183h2v2h-2zM434 185h78v2h-78zM528 185h2v2h-2zM538 185h16v2h-16zM556 185h2v2h-2zM434 187h30v2h-30zM470 187h48v2h-48zM530 187h2v2h-2zM538 187h2v2h-2zM542 187h2v2h-2zM546 187h6v2h-6zM556 187h2v2h-2zM434 189h30v2h-30zM470 189h20v2h-20zM494 189h24v2h-24zM524 189h12v2h-12zM540 189h2v2h-2zM544 189h8v2h-8zM554 189h2v2h-2zM434 191h34v2h-34zM470 191h16v2h-16zM488 191h4v2h-4zM494 191h48v2h-48zM546 191h2v2h-2z"/>
<path fill="#0823e7" shape-rendering="crispEdges" d="M464 187h6v2h-6zM464 189h6v2h-6zM490 189h4v2h-4zM468 191h2v2h-2zM486 191h2v2h-2zM492 191h2v2h-2z"/>
<path fill="#ffffff" shape-rendering="crispEdges" d="M434 24h9v1h-9zM463 24h2v1h-2zM434 25h9v1h-9zM458 25h2v1h-2zM463 25h3v1h-3zM434 26h9v1h-9zM457 26h11v1h-11zM434 27h9v1h-9zM457 27h12v1h-12zM434 28h8v1h-8zM457 28h12v1h-12zM435 29h7v1h-7zM457 29h12v1h-12zM436 30h5v1h-5zM457 30h11v1h-11zM456 31h12v1h-12zM455 32h12v1h-12zM454 33h13v1h-13zM454 34h12v1h-12zM530 34h1v1h-1zM458 35h8v1h-8zM529 35h3v1h-3zM446 36h7v1h-7zM463 36h2v1h-2zM528 36h5v1h-5zM551 36h1v1h-1zM446 37h15v1h-15zM528 37h6v1h-6zM550 37h2v1h-2zM437 38h2v1h-2zM446 38h17v1h-17zM528 38h7v1h-7zM538 38h3v1h-3zM548 38h4v1h-4zM435 39h5v1h-5zM445 39h18v1h-18zM528 39h14v1h-14zM547 39h6v1h-6zM435 40h28v1h-28zM526 40h18v1h-18zM546 40h7v1h-7zM436 41h34v1h-34zM473 41h2v1h-2zM524 41h31v1h-31zM437 42h41v1h-41zM523 42h32v1h-32zM436 43h42v1h-42zM523 43h32v1h-32zM434 44h44v1h-44zM484 44h3v1h-3zM490 44h2v1h-2zM518 44h2v1h-2zM524 44h31v1h-31zM434 45h44v1h-44zM484 45h8v1h-8zM518 45h2v1h-2zM527 45h2v1h-2zM531 45h23v1h-23zM434 46h44v1h-44zM484 46h9v1h-9zM531 46h22v1h-22zM434 47h45v1h-45zM485 47h7v1h-7zM521 47h1v1h-1zM530 47h3v1h-3zM534 47h17v1h-17zM434 48h46v1h-46zM486 48h5v1h-5zM493 48h2v1h-2zM521 48h1v1h-1zM530 48h1v1h-1zM535 48h13v1h-13zM434 49h62v1h-62zM515 49h1v1h-1zM535 49h13v1h-13zM434 50h67v1h-67zM514 50h3v1h-3zM535 50h14v1h-14zM435 51h67v1h-67zM513 51h4v1h-4zM533 51h8v1h-8zM544 51h5v1h-5zM436 52h66v1h-66zM506 52h1v1h-1zM512 52h5v1h-5zM436 53h67v1h-67zM505 53h2v1h-2zM511 53h6v1h-6zM437 54h54v1h-54zM492 54h11v1h-11zM505 54h3v1h-3zM511 54h6v1h-6zM437 55h54v1h-54zM492 55h11v1h-11zM504 55h4v1h-4zM510 55h8v1h-8zM520 55h2v1h-2zM436 56h3v1h-3zM444 56h14v1h-14zM459 56h5v1h-5zM466 56h52v1h-52zM520 56h2v1h-2zM436 57h2v1h-2zM454 57h2v1h-2zM460 57h3v1h-3zM469 57h54v1h-54zM545 57h1v1h-1zM551 57h1v1h-1zM461 58h1v1h-1zM471 58h54v1h-54zM551 58h1v1h-1zM473 59h53v1h-53zM477 60h54v1h-54zM535 60h2v1h-2zM476 61h62v1h-62zM475 62h65v1h-65zM545 62h1v1h-1zM550 62h2v1h-2zM475 63h79v1h-79zM475 64h78v1h-78zM473 65h80v1h-80zM472 66h81v1h-81zM472 67h82v1h-82zM472 68h82v1h-82zM470 69h84v1h-84zM469 70h87v1h-87zM468 71h88v1h-88zM467 72h90v1h-90zM467 73h90v1h-90zM466 74h92v1h-92zM464 75h94v1h-94zM450 76h1v1h-1zM453 76h3v1h-3zM464 76h94v1h-94zM449 77h8v1h-8zM465 77h59v1h-59zM525 77h33v1h-33zM449 78h59v1h-59zM511 78h12v1h-12zM527 78h30v1h-30zM448 79h60v1h-60zM511 79h4v1h-4zM517 79h2v1h-2zM528 79h29v1h-29zM445 80h56v1h-56zM506 80h7v1h-7zM529 80h10v1h-10zM541 80h15v1h-15zM444 81h56v1h-56zM508 81h3v1h-3zM531 81h7v1h-7zM544 81h3v1h-3zM443 82h57v1h-57zM535 82h2v1h-2zM443 83h45v1h-45zM493 83h8v1h-8zM530 83h1v1h-1zM444 84h43v1h-43zM493 84h10v1h-10zM530 84h1v1h-1zM448 85h37v1h-37zM493 85h4v1h-4zM498 85h3v1h-3zM454 86h10v1h-10zM465 86h9v1h-9zM492 86h4v1h-4zM499 86h2v1h-2zM454 87h9v1h-9zM466 87h3v1h-3zM491 87h4v1h-4zM500 87h1v1h-1zM455 88h7v1h-7zM503 91h2v1h-2zM502 92h5v1h-5zM500 93h9v1h-9zM501 94h8v1h-8zM505 95h4v1h-4zM482 96h1v1h-1zM505 96h4v1h-4zM505 97h5v1h-5zM485 98h1v1h-1zM505 98h5v1h-5zM484 99h3v1h-3zM505 99h5v1h-5zM484 100h3v1h-3zM505 100h4v1h-4zM485 101h1v1h-1zM505 101h2v1h-2z"/>
<path d="M464.7,55.1h1.2v1.2h-1.2zM535.2,37.3h1.8v1.8h-1.8zM548,48.2h2.5v2.5h-2.5zM524.2,58.2h1.9v1.9h-1.9zM506.5,45.8h2.5v2.5h-2.5zM484.3,86.9h2.3v2.3h-2.3zM438.5,39h1.7v1.7h-1.7zM534.4,33.7h1.9v1.9h-1.9zM479.8,73.9h2.4v2.4h-2.4zM528,34.8h2.1v2.1h-2.1zM488.5,77.3h1.7v1.7h-1.7zM545.6,87.1h2.2v2.2h-2.2zM535.8,76.1h1.9v1.9h-1.9zM456.3,87.1h1.7v1.7h-1.7zM437,50.7h1.6v1.6h-1.6zM459.5,85.4h1.2v1.2h-1.2zM545.3,58.3h1.3v1.3h-1.3zM478.7,51.7h1.2v1.2h-1.2zM528.1,65h2.5v2.5h-2.5zM536.2,73.9h2.5v2.5h-2.5zM548.7,64.5h1.8v1.8h-1.8zM498.9,75.7h2.4v2.4h-2.4zM536.3,77.4h1v1h-1zM486.3,27.8h1.9v1.9h-1.9zM505.8,59h2.3v2.3h-2.3zM462.4,70.1h1.9v1.9h-1.9zM461,86.6h1.1v1.1h-1.1zM491.7,57.3h1.9v1.9h-1.9zM554.8,58.4h2.3v2.3h-2.3zM470.9,53.8h1.2v1.2h-1.2zM513,49.9h2.2v2.2h-2.2zM448.7,52.6h2.4v2.4h-2.4zM436.4,65.6h2v2h-2zM523.6,58.8h1.8v1.8h-1.8zM552.1,40.7h2.1v2.1h-2.1zM516.6,70.1h1.7v1.7h-1.7zM437.1,73.2h1.4v1.4h-1.4zM530.4,87.1h2.2v2.2h-2.2zM484.2,78.6h1.6v1.6h-1.6zM474,59.7h2v2h-2zM518.7,58.5h1.6v1.6h-1.6zM525.6,43.4h1.9v1.9h-1.9zM435.7,30.6h2.3v2.3h-2.3zM461.3,49.2h1.1v1.1h-1.1zM528.3,43.7h1.1v1.1h-1.1zM468.4,83.4h2.1v2.1h-2.1zM435.4,84.9h1.1v1.1h-1.1zM494.1,57.3h2.2v2.2h-2.2zM452.3,76.4h1.4v1.4h-1.4zM525.1,83.2h1.9v1.9h-1.9zM435.2,66h1.7v1.7h-1.7zM524.1,73.8h1.2v1.2h-1.2zM504.3,64.5h2.4v2.4h-2.4zM509.9,62.6h2.2v2.2h-2.2zM454.5,78.7h1.9v1.9h-1.9zM512.6,32.2h1.8v1.8h-1.8zM484.9,35.6h2.4v2.4h-2.4zM538.2,52.3h1.1v1.1h-1.1zM555,29.8h1.8v1.8h-1.8zM504,78.5h2v2h-2zM508.6,55.9h2.5v2.5h-2.5zM535,45.5h2.2v2.2h-2.2zM550.6,54.1h1.1v1.1h-1.1zM443.2,85.9h1.3v1.3h-1.3zM533.1,34.7h1.3v1.3h-1.3zM454.6,75.8h1.1v1.1h-1.1zM492.5,75.4h1.8v1.8h-1.8zM436.1,23.1h2.2v2.2h-2.2zM471.6,27.5h1.8v1.8h-1.8zM530.7,42h1.2v1.2h-1.2zM457.6,53.3h2.2v2.2h-2.2zM445.1,72.2h2v2h-2zM503.1,47.3h1v1h-1zM496.5,49.2h2v2h-2zM442.6,32.9h1v1h-1zM494.4,25.9h1.8v1.8h-1.8zM488.3,43.8h1.3v1.3h-1.3zM547.3,53.7h1.2v1.2h-1.2zM505.5,72.4h1.7v1.7h-1.7zM543.7,77.3h2v2h-2zM438.2,48.5h1.8v1.8h-1.8zM455.7,55h2v2h-2zM526.8,72.1h2.1v2.1h-2.1zM471.6,62.4h1.8v1.8h-1.8zM527.5,30h1.3v1.3h-1.3zM522.5,69.8h1.3v1.3h-1.3zM528.7,73.2h2v2h-2zM491.3,25.8h1.3v1.3h-1.3zM528.4,83.5h1.2v1.2h-1.2zM439.5,45h2.4v2.4h-2.4zM461.4,83.6h2.2v2.2h-2.2zM537.5,87.4h2v2h-2zM459.1,50.6h1.6v1.6h-1.6zM516.1,45.3h2.1v2.1h-2.1zM438.7,36.7h1.3v1.3h-1.3zM455.8,71.5h2.3v2.3h-2.3zM446.5,53.5h1v1h-1zM465.2,31.5h2v2h-2zM537,77.6h1.4v1.4h-1.4zM485,37.2h2v2h-2zM462.9,72.6h1.7v1.7h-1.7zM502.2,79.5h2.4v2.4h-2.4zM467.7,69.9h1.4v1.4h-1.4zM436.3,78.2h1.3v1.3h-1.3zM469.3,69.4h2.3v2.3h-2.3zM482.4,69.3h1.6v1.6h-1.6zM437.2,58.5h1.3v1.3h-1.3zM460.6,48.9h2v2h-2zM461.8,36.5h1.9v1.9h-1.9zM468.4,59h2v2h-2zM472.4,81.3h2.5v2.5h-2.5zM439.8,26.3h1.2v1.2h-1.2zM495,41.9h2.1v2.1h-2.1zM555.2,51.9h1.4v1.4h-1.4zM461.9,82.1h2.2v2.2h-2.2zM542.2,88h1.7v1.7h-1.7zM526.2,44.2h1.2v1.2h-1.2zM519.5,46.5h1.8v1.8h-1.8zM504.2,38h1v1h-1zM525.8,72.2h2.1v2.1h-2.1zM474.9,44.1h1.9v1.9h-1.9zM480.2,71.2h1.8v1.8h-1.8zM499.5,78.4h1.2v1.2h-1.2zM460.7,56.5h2.3v2.3h-2.3zM547,79.9h1.3v1.3h-1.3zM473.6,38.3h1.3v1.3h-1.3zM456.8,32.1h2.2v2.2h-2.2zM498.8,86.1h1.9v1.9h-1.9zM527.5,83.6h1.8v1.8h-1.8zM463.1,48.9h1.7v1.7h-1.7zM454.7,58.5h2.2v2.2h-2.2zM474.8,23.7h1.2v1.2h-1.2zM479.5,35.1h1.7v1.7h-1.7zM553.2,37.3h1.5v1.5h-1.5zM508.4,32.8h2.3v2.3h-2.3zM554.8,22.9h1.6v1.6h-1.6zM533.5,23.2h1.8v1.8h-1.8zM533.6,84.9h1.3v1.3h-1.3zM548.1,61.4h2.1v2.1h-2.1zM462.8,25.2h1.7v1.7h-1.7zM554.8,38.7h2.5v2.5h-2.5zM554.9,53.1h1.7v1.7h-1.7zM550.1,23.7h1.9v1.9h-1.9zM456,71.1h1.7v1.7h-1.7zM510.1,47.7h2.3v2.3h-2.3zM535.7,23.7h1.8v1.8h-1.8zM461.4,83.5h2.4v2.4h-2.4zM531.6,66.2h2.3v2.3h-2.3zM465.2,41.4h2.4v2.4h-2.4zM514.5,41.3h2.3v2.3h-2.3zM516,22.8h2.4v2.4h-2.4zM525.1,70.3h1.1v1.1h-1.1zM436.9,27.2h2.1v2.1h-2.1zM439.6,41h1.5v1.5h-1.5zM485,40.5h1.1v1.1h-1.1zM498.2,26.4h1.6v1.6h-1.6zM469.7,27.8h1.1v1.1h-1.1zM524.3,26.9h1.8v1.8h-1.8zM510.7,82h1.9v1.9h-1.9zM530.5,79.5h1.2v1.2h-1.2zM441.3,75.5h1.4v1.4h-1.4zM492.8,43.1h1.2v1.2h-1.2zM482.9,53h2.2v2.2h-2.2zM462.3,28.7h1.9v1.9h-1.9zM540.3,49.5h1.4v1.4h-1.4zM542.3,77.1h1v1h-1zM448.7,61h1.6v1.6h-1.6zM494.9,49.1h1.2v1.2h-1.2zM528.2,80.6h1.9v1.9h-1.9zM472.2,68.1h1.4v1.4h-1.4zM448.4,61.6h1.9v1.9h-1.9zM543.9,49.4h1.2v1.2h-1.2zM504.4,25.7h1.4v1.4h-1.4zM553.8,46.7h1.5v1.5h-1.5zM552.2,27.9h2.2v2.2h-2.2zM524.2,82.4h1.2v1.2h-1.2zM490,46.7h1v1h-1zM455.3,31.2h1.1v1.1h-1.1zM520.7,68.8h1.6v1.6h-1.6zM535,76.9h2.3v2.3h-2.3zM460,45.6h1.2v1.2h-1.2zM440.3,87.2h1.8v1.8h-1.8zM516.2,58.1h1.4v1.4h-1.4zM436.9,41.4h1.6v1.6h-1.6zM442.2,38.9h2.3v2.3h-2.3zM443.3,61.5h1.6v1.6h-1.6zM521.4,61.4h1.6v1.6h-1.6zM556.9,73.4h1.6v1.6h-1.6zM538.6,73.3h2.5v2.5h-2.5zM488,35.4h1.7v1.7h-1.7zM514.8,51.4h1.1v1.1h-1.1zM496,25.3h1.1v1.1h-1.1zM518.5,38.5h2.4v2.4h-2.4zM544.5,71.8h1.2v1.2h-1.2zM462.8,55h1.8v1.8h-1.8zM491.3,22.1h1.3v1.3h-1.3zM547.9,49.1h1.8v1.8h-1.8zM547.2,37.3h1.6v1.6h-1.6zM514.7,38.8h1.6v1.6h-1.6zM528.2,74.7h2.1v2.1h-2.1zM532.1,22.8h1.1v1.1h-1.1zM507.5,70.6h1.1v1.1h-1.1zM485,58.9h1.5v1.5h-1.5zM437.6,58h1.9v1.9h-1.9zM503.9,33.6h1.5v1.5h-1.5zM439.1,57.3h1.3v1.3h-1.3zM495.7,81.4h1.7v1.7h-1.7zM467.6,67.4h2.1v2.1h-2.1zM467.4,57.6h2.1v2.1h-2.1zM454.6,68.9h1.4v1.4h-1.4zM485,59.5h2.5v2.5h-2.5zM464,40.2h2.5v2.5h-2.5zM445.4,37.7h2v2h-2zM493.5,74.1h1.3v1.3h-1.3zM533.4,41.3h1.2v1.2h-1.2zM503.5,38.7h1.6v1.6h-1.6zM542,77.3h2v2h-2zM503.6,23h1.5v1.5h-1.5zM529.2,72.8h1v1h-1zM489.1,67.6h1.9v1.9h-1.9zM489.1,41.7h1.7v1.7h-1.7zM438.8,82h1.1v1.1h-1.1zM457.9,85h1.9v1.9h-1.9zM451.1,37.9h1.7v1.7h-1.7zM448,22.4h1.1v1.1h-1.1zM442.4,39h1.9v1.9h-1.9zM457.6,54.3h1.5v1.5h-1.5zM492.3,54.2h1.4v1.4h-1.4zM511.4,83.8h1.9v1.9h-1.9zM549.7,55.3h1.8v1.8h-1.8zM481.2,50.6h1.7v1.7h-1.7zM556.1,54.1h2v2h-2zM528.5,28.1h1v1h-1zM485.2,35.4h1.7v1.7h-1.7zM461.6,58.6h1.6v1.6h-1.6zM461.6,71h2.4v2.4h-2.4zM469.3,56.8h1.5v1.5h-1.5zM546.7,37.3h1v1h-1zM545.2,70.7h1.7v1.7h-1.7zM440.3,43.6h1.7v1.7h-1.7zM504.1,35.5h1.5v1.5h-1.5zM451.5,34.3h1.3v1.3h-1.3zM485,59.3h2.2v2.2h-2.2zM453.3,80.1h1.4v1.4h-1.4zM439.1,63.3h2.3v2.3h-2.3zM550.1,54.6h2.4v2.4h-2.4zM545.7,53.3h2v2h-2zM525.1,75.5h1.1v1.1h-1.1zM483.9,23.2h1.1v1.1h-1.1zM490.1,30.4h1.1v1.1h-1.1zM555.5,29.1h2.2v2.2h-2.2zM492,50.6h1.8v1.8h-1.8zM512.7,31.2h2.4v2.4h-2.4zM548.3,73.2h1.7v1.7h-1.7zM509.2,24.7h1.6v1.6h-1.6zM514.8,63.4h2.3v2.3h-2.3zM459.1,84.7h1.1v1.1h-1.1zM450.7,75.5h1v1h-1zM556,66.9h1.4v1.4h-1.4zM487.9,28.4h1.7v1.7h-1.7zM452.6,71.9h2.4v2.4h-2.4zM501.3,49.7h2.2v2.2h-2.2zM547.2,42h2.1v2.1h-2.1zM551.5,65.3h1.2v1.2h-1.2zM541.7,31.7h1.5v1.5h-1.5zM467,46.7h2.2v2.2h-2.2zM455.2,50.9h1.6v1.6h-1.6zM536.4,50.6h1.6v1.6h-1.6zM462,59.4h2.2v2.2h-2.2zM467.1,69.9h1.3v1.3h-1.3zM456.9,27.3h1.3v1.3h-1.3zM481,40.8h1.7v1.7h-1.7zM514.8,67.7h1v1h-1zM460.2,64.6h2.4v2.4h-2.4zM450.5,59.5h1.2v1.2h-1.2zM551.9,87.1h2.1v2.1h-2.1zM503,74.8h2.3v2.3h-2.3zM472.7,81.7h1.8v1.8h-1.8zM454.8,27.7h1.7v1.7h-1.7zM435.5,72.4h1.5v1.5h-1.5zM538.4,75.9h1.7v1.7h-1.7zM553.4,48.1h1.4v1.4h-1.4zM516.4,83.6h2.2v2.2h-2.2zM479,34.6h1.8v1.8h-1.8zM553.9,45.2h1.4v1.4h-1.4zM554.7,76.2h1.7v1.7h-1.7zM508.5,28.5h1.9v1.9h-1.9zM499.2,36.5h1.4v1.4h-1.4zM455.9,28h1.8v1.8h-1.8zM477.1,58.8h2.2v2.2h-2.2zM446.6,72.9h1.5v1.5h-1.5zM535.9,29.8h2.4v2.4h-2.4zM499.9,67h1.7v1.7h-1.7zM492.4,22.4h1.2v1.2h-1.2zM543.6,55h1.4v1.4h-1.4zM541.3,79.5h2.2v2.2h-2.2zM480.3,44h2.1v2.1h-2.1zM481.5,67.4h1.2v1.2h-1.2zM456.4,45.7h2.3v2.3h-2.3zM468.1,56.6h1.1v1.1h-1.1zM507.5,31.7h1.7v1.7h-1.7zM500.2,73.5h2.1v2.1h-2.1zM495.4,86.4h1.6v1.6h-1.6zM485.5,78.7h2.2v2.2h-2.2zM452.3,45.9h2.3v2.3h-2.3zM553.1,47.9h1.1v1.1h-1.1zM538.3,43.4h1.7v1.7h-1.7zM530.7,37.8h2.3v2.3h-2.3zM474.7,48.4h1.3v1.3h-1.3zM508.7,33.4h2.5v2.5h-2.5zM522.9,24.7h1v1h-1zM458.8,70.9h1.9v1.9h-1.9zM523.5,59.2h1.7v1.7h-1.7zM500.7,70h1.5v1.5h-1.5zM528.6,83.8h2.1v2.1h-2.1zM475.3,57h1.7v1.7h-1.7zM494.4,25.2h1.1v1.1h-1.1zM512.8,46.2h1.6v1.6h-1.6zM531.5,41.5h1.6v1.6h-1.6zM445.1,28.9h2.4v2.4h-2.4zM541.3,58.5h2.1v2.1h-2.1zM497.5,56.2h2.5v2.5h-2.5zM446.6,65.5h1.7v1.7h-1.7zM521.5,36.9h1.4v1.4h-1.4zM451.9,76.3h1.1v1.1h-1.1zM460.3,47.4h2.3v2.3h-2.3zM519.3,72.1h1.4v1.4h-1.4zM488,78.1h1.4v1.4h-1.4zM478.2,40.6h1.6v1.6h-1.6zM435.5,27.4h1.1v1.1h-1.1zM487.6,66.3h2.3v2.3h-2.3zM542.3,35.5h1.7v1.7h-1.7zM499.6,69.6h2.1v2.1h-2.1zM485.4,75.1h2v2h-2zM512.5,84.6h2.2v2.2h-2.2zM450.4,70.1h1v1h-1zM490.9,45.3h2v2h-2zM517.8,42.7h1.3v1.3h-1.3zM437.3,79h2.2v2.2h-2.2zM474.2,39.1h1.2v1.2h-1.2zM537.6,51h1.2v1.2h-1.2zM470.4,60.7h1.2v1.2h-1.2zM497.2,28.3h1.2v1.2h-1.2zM501.1,65.6h2v2h-2zM544.1,33.6h1.4v1.4h-1.4zM451.2,70.4h1.2v1.2h-1.2zM456.4,69.6h2.1v2.1h-2.1zM464.3,48.8h2.3v2.3h-2.3zM494.9,64.2h1.6v1.6h-1.6zM544.6,59h2.2v2.2h-2.2z" fill="#fff"/>
<path d="M519,87.2h1.8v1.8h-1.8zM496.3,106.7h1.4v1.4h-1.4zM516.3,89.5h2.2v2.2h-2.2zM493,90h1.3v1.3h-1.3zM503,86.8h1.3v1.3h-1.3zM474.5,87.5h1v1h-1zM484.6,92h1.9v1.9h-1.9zM493.1,104.9h2.1v2.1h-2.1zM515.2,106.8h1.6v1.6h-1.6zM504.9,105.4h1.6v1.6h-1.6zM480.5,97.4h1.5v1.5h-1.5zM482.3,88h1.1v1.1h-1.1zM506.1,103.9h1.7v1.7h-1.7zM493.6,86.6h0.8v0.8h-0.8zM504.1,97.7h1.4v1.4h-1.4zM481.9,88.7h1.1v1.1h-1.1zM479.9,99.2h1.2v1.2h-1.2zM499.5,95.4h1.6v1.6h-1.6zM508.2,103.2h1v1h-1zM518.1,104.8h1.9v1.9h-1.9zM494.8,106.9h1.9v1.9h-1.9zM485,101.1h2v2h-2zM508.6,105.8h1.5v1.5h-1.5zM504.9,87.7h1.7v1.7h-1.7zM480.7,101.9h2.1v2.1h-2.1zM491.1,87.5h0.9v0.9h-0.9zM497.8,89.4h1.8v1.8h-1.8zM502,97h1.7v1.7h-1.7zM480.9,96.1h0.9v0.9h-0.9zM499.2,103.5h1v1h-1zM505.7,107.9h1.3v1.3h-1.3zM483.6,91.6h2v2h-2zM477.7,103.1h1.2v1.2h-1.2zM508.8,105.5h2v2h-2zM482.8,98.1h1.2v1.2h-1.2zM514.3,92.5h1v1h-1zM492.7,87.9h1.1v1.1h-1.1zM506.3,93.2h1.1v1.1h-1.1zM517,91.7h1.9v1.9h-1.9zM505.5,98.2h1.7v1.7h-1.7zM500.7,104.5h1.8v1.8h-1.8zM486.3,100.4h1.5v1.5h-1.5zM516.4,88.6h1.4v1.4h-1.4zM518.5,87.5h1.8v1.8h-1.8zM515.4,99.4h0.9v0.9h-0.9zM509.7,91.8h1.5v1.5h-1.5zM511.6,92.9h1.1v1.1h-1.1zM479.4,93.5h0.9v0.9h-0.9zM506,104.3h0.9v0.9h-0.9zM498.3,103.4h1.9v1.9h-1.9zM486.2,97.7h1.8v1.8h-1.8zM497.9,108h2.1v2.1h-2.1zM518.4,88.8h0.8v0.8h-0.8zM501.1,98.7h1.2v1.2h-1.2zM485.2,103.3h1.9v1.9h-1.9zM474.6,88.7h1.8v1.8h-1.8zM493.4,89.4h2.1v2.1h-2.1zM489.2,87.7h1.4v1.4h-1.4zM492.7,100.2h1.9v1.9h-1.9zM477.8,96.4h2.1v2.1h-2.1zM496.4,105.5h2.1v2.1h-2.1zM511,100.3h1v1h-1zM519.2,92.6h1.2v1.2h-1.2zM497.2,97.8h1.9v1.9h-1.9zM498.8,106.3h1.9v1.9h-1.9zM503.7,92h1.7v1.7h-1.7zM497,102.7h1.2v1.2h-1.2zM510.5,101.7h1.1v1.1h-1.1zM517.2,96.7h1.4v1.4h-1.4zM489.5,94.5h1.9v1.9h-1.9zM516.4,96.3h1.5v1.5h-1.5zM495.6,88.7h2v2h-2zM493.3,86.6h1.1v1.1h-1.1zM487.8,103.3h1v1h-1zM481.2,105.9h1.2v1.2h-1.2zM516.8,86.2h0.9v0.9h-0.9zM483.7,94.6h1.6v1.6h-1.6zM489.1,107.2h2.1v2.1h-2.1zM500.1,107.7h2v2h-2zM518.9,98.9h0.9v0.9h-0.9zM500.1,87.1h1.4v1.4h-1.4zM519.7,94.7h1.8v1.8h-1.8zM517.7,101.6h1.3v1.3h-1.3zM497.6,88.7h1.9v1.9h-1.9zM503.8,93.1h1.4v1.4h-1.4zM513.2,87.1h1.1v1.1h-1.1zM502.9,103.4h1.6v1.6h-1.6zM503,86.2h1.6v1.6h-1.6zM499.5,87.6h1.5v1.5h-1.5zM485.7,93.6h1.9v1.9h-1.9zM512.5,86.3h0.9v0.9h-0.9zM503.3,106.3h1.7v1.7h-1.7zM489.7,102.4h2.1v2.1h-2.1zM477,86.8h1.4v1.4h-1.4zM506.8,97.5h1.5v1.5h-1.5zM481.3,89.6h0.9v0.9h-0.9zM495.4,91.8h1.6v1.6h-1.6zM495.5,93h1.9v1.9h-1.9zM489.5,96.2h1.4v1.4h-1.4zM506.2,107.6h1.8v1.8h-1.8zM474,102.5h1.5v1.5h-1.5zM503.4,86.7h0.8v0.8h-0.8zM474.7,88.6h1v1h-1zM506.7,102.8h1.4v1.4h-1.4zM483.9,95.7h1v1h-1zM485.3,95.8h2.1v2.1h-2.1zM507.4,88.5h1.9v1.9h-1.9zM519,105.5h1v1h-1zM501,106.8h1.2v1.2h-1.2zM500.4,99.9h2.1v2.1h-2.1zM512,96.3h1.6v1.6h-1.6zM483.4,104.1h1.1v1.1h-1.1zM504.5,89.1h1.8v1.8h-1.8zM511.1,88.4h1.4v1.4h-1.4zM481.3,97.5h1.1v1.1h-1.1zM517,104.3h0.9v0.9h-0.9zM485.3,91.8h1v1h-1zM499.5,101.9h1.5v1.5h-1.5zM497.4,89.7h1.4v1.4h-1.4zM512.8,87.7h1.1v1.1h-1.1zM498,97h1.1v1.1h-1.1zM508.7,107.7h1.5v1.5h-1.5zM519.5,106.7h1.9v1.9h-1.9zM487.7,98.3h2.1v2.1h-2.1zM513,96.4h1.1v1.1h-1.1zM485.8,94.6h1.9v1.9h-1.9zM492.9,97.4h1.1v1.1h-1.1zM494.2,89.5h0.9v0.9h-0.9zM483.6,97.9h1.7v1.7h-1.7zM508.6,94.7h1.7v1.7h-1.7zM516.6,86.9h1.6v1.6h-1.6zM484.4,107.1h1v1h-1zM489,94h1.9v1.9h-1.9zM505.1,87.1h1.5v1.5h-1.5zM490,89.3h0.8v0.8h-0.8zM495.7,103.9h2.2v2.2h-2.2zM484.2,92.3h1.7v1.7h-1.7zM500.7,94.2h1v1h-1zM512.3,94.3h1.2v1.2h-1.2zM497.6,88h1.5v1.5h-1.5zM479.2,93.2h1.7v1.7h-1.7zM507.6,107.5h1.8v1.8h-1.8zM478.3,99.8h1.2v1.2h-1.2zM484.5,100.5h1.3v1.3h-1.3zM514.8,97.5h1v1h-1zM480.1,87.1h2.1v2.1h-2.1zM516.6,96.1h2.1v2.1h-2.1zM507.5,101.9h1.7v1.7h-1.7zM507.9,87.7h1.7v1.7h-1.7zM495.3,94.6h1.1v1.1h-1.1zM503.5,103.1h1.7v1.7h-1.7zM476.7,87.1h1.7v1.7h-1.7zM504,87.9h0.9v0.9h-0.9zM514.4,107.8h2v2h-2zM502.2,87.5h1.2v1.2h-1.2zM487.5,95.6h2.1v2.1h-2.1zM516.9,89.7h1.6v1.6h-1.6zM514.5,107.9h1.5v1.5h-1.5zM483.1,101.3h0.9v0.9h-0.9zM508.8,104.8h2v2h-2zM508.6,90.2h1.5v1.5h-1.5zM484.8,86.9h1.9v1.9h-1.9zM477,99.1h1.2v1.2h-1.2zM501.9,93.6h1.7v1.7h-1.7zM517.1,88.7h1.8v1.8h-1.8zM497.2,106.2h1.2v1.2h-1.2zM517.6,99.1h0.8v0.8h-0.8zM481.3,97.5h1.6v1.6h-1.6zM515.9,97h2v2h-2zM500.4,95.1h2v2h-2z" fill="#fff"/>
<circle cx="485" cy="165.7" r="1.1" fill="#fff" stroke="none" stroke-width="0"/>
<circle cx="492.9" cy="168.9" r="1" fill="#fff" stroke="none" stroke-width="0"/>
<circle cx="499.2" cy="171.4" r="1.1" fill="#fff" stroke="none" stroke-width="0"/>
<circle cx="504.8" cy="179" r="2.6" fill="#fff" stroke="none" stroke-width="0"/>
<line x1="434.5" y1="73.1" x2="556.8" y2="73.1" stroke="#888" stroke-width="0.5" stroke-dasharray="3,3" stroke-linecap="butt"/>
<line x1="492.6" y1="58.6" x2="492.6" y2="159.7" stroke="#000" stroke-width="3"/>
</g>
<rect x="434.5" y="21.9" width="122.3" height="169.5" fill="none" stroke="#777" stroke-width="0.8"/>
<line x1="39.5" y1="73.1" x2="43.6" y2="73.1" stroke="#555" stroke-width="0.8" stroke-linecap="butt"/>
<text x="36" y="77" font-size="10.8" text-anchor="end" font-weight="normal" fill="#231f20" font-family='"Liberation Sans", sans-serif'>40° N</text>
<line x1="556.8" y1="73.1" x2="561" y2="73.1" stroke="#555" stroke-width="0.8" stroke-linecap="butt"/>
<text x="565.5" y="77" font-size="10.8" text-anchor="start" font-weight="normal" fill="#231f20" font-family='"Liberation Sans", sans-serif'>40° N</text>
<line x1="39.5" y1="124.9" x2="43.6" y2="124.9" stroke="#555" stroke-width="0.8" stroke-linecap="butt"/>
<text x="36" y="128.8" font-size="10.8" text-anchor="end" font-weight="normal" fill="#231f20" font-family='"Liberation Sans", sans-serif'>30° N</text>
<line x1="556.8" y1="124.9" x2="561" y2="124.9" stroke="#555" stroke-width="0.8" stroke-linecap="butt"/>
<text x="565.5" y="128.8" font-size="10.8" text-anchor="start" font-weight="normal" fill="#231f20" font-family='"Liberation Sans", sans-serif'>30° N</text>
<line x1="39.5" y1="176.1" x2="43.6" y2="176.1" stroke="#555" stroke-width="0.8" stroke-linecap="butt"/>
<text x="36" y="180" font-size="10.8" text-anchor="end" font-weight="normal" fill="#231f20" font-family='"Liberation Sans", sans-serif'>20° N</text>
<line x1="556.8" y1="176.1" x2="561" y2="176.1" stroke="#555" stroke-width="0.8" stroke-linecap="butt"/>
<text x="565.5" y="180" font-size="10.8" text-anchor="start" font-weight="normal" fill="#231f20" font-family='"Liberation Sans", sans-serif'>20° N</text>
<line x1="68.4" y1="191.4" x2="68.4" y2="195.5" stroke="#555" stroke-width="0.8" stroke-linecap="butt"/>
<text x="74.9" y="206" font-size="10.8" text-anchor="end" font-weight="normal" fill="#231f20" font-family='"Liberation Sans", sans-serif' transform="rotate(-45 74.9 206)">165° W</text>
<line x1="141.4" y1="191.4" x2="141.4" y2="195.5" stroke="#555" stroke-width="0.8" stroke-linecap="butt"/>
<text x="147.9" y="206" font-size="10.8" text-anchor="end" font-weight="normal" fill="#231f20" font-family='"Liberation Sans", sans-serif' transform="rotate(-45 147.9 206)">150° W</text>
<line x1="214.3" y1="191.4" x2="214.3" y2="195.5" stroke="#555" stroke-width="0.8" stroke-linecap="butt"/>
<text x="220.8" y="206" font-size="10.8" text-anchor="end" font-weight="normal" fill="#231f20" font-family='"Liberation Sans", sans-serif' transform="rotate(-45 220.8 206)">135° W</text>
<line x1="349.2" y1="191.4" x2="349.2" y2="195.5" stroke="#555" stroke-width="0.8" stroke-linecap="butt"/>
<text x="355.7" y="206" font-size="10.8" text-anchor="end" font-weight="normal" fill="#231f20" font-family='"Liberation Sans", sans-serif' transform="rotate(-45 355.7 206)">160° W</text>
<line x1="397.8" y1="191.4" x2="397.8" y2="195.5" stroke="#555" stroke-width="0.8" stroke-linecap="butt"/>
<text x="404.3" y="206" font-size="10.8" text-anchor="end" font-weight="normal" fill="#231f20" font-family='"Liberation Sans", sans-serif' transform="rotate(-45 404.3 206)">150° W</text>
<line x1="483.4" y1="191.4" x2="483.4" y2="195.5" stroke="#555" stroke-width="0.8" stroke-linecap="butt"/>
<text x="489.9" y="206" font-size="10.8" text-anchor="end" font-weight="normal" fill="#231f20" font-family='"Liberation Sans", sans-serif' transform="rotate(-45 489.9 206)">160° W</text>
<line x1="532.2" y1="191.4" x2="532.2" y2="195.5" stroke="#555" stroke-width="0.8" stroke-linecap="butt"/>
<text x="538.7" y="206" font-size="10.8" text-anchor="end" font-weight="normal" fill="#231f20" font-family='"Liberation Sans", sans-serif' transform="rotate(-45 538.7 206)">150° W</text>
<text x="0" y="9.5" font-size="12" text-anchor="start" font-weight="bold" fill="#000" font-family='"Liberation Sans", sans-serif'>a</text>
<text x="299.5" y="10" font-size="12" text-anchor="start" font-weight="bold" fill="#000" font-family='"Liberation Sans", sans-serif'>b</text>
<text x="435" y="10" font-size="12" text-anchor="start" font-weight="bold" fill="#000" font-family='"Liberation Sans", sans-serif'>c</text>
<text x="165.6" y="13.7" font-size="11" text-anchor="middle" font-weight="normal" fill="#231f20" font-family='"Liberation Sans", sans-serif'>March 2015</text>
<text x="361.3" y="13.7" font-size="11" text-anchor="middle" font-weight="normal" fill="#231f20" font-family='"Liberation Sans", sans-serif'>April 2016</text>
<text x="495.2" y="13.7" font-size="11" text-anchor="middle" font-weight="normal" fill="#231f20" font-family='"Liberation Sans", sans-serif'>June 2017</text>
<rect x="607" y="39.5" width="7.3" height="125.3" fill="url(#cb)"/>
<line x1="614.3" y1="39.5" x2="617.8" y2="39.5" stroke="#555" stroke-width="0.8" stroke-linecap="butt"/>
<text x="621.5" y="43.4" font-size="10.8" text-anchor="start" font-weight="normal" fill="#231f20" font-family='"Liberation Sans", sans-serif'>20</text>
<line x1="614.3" y1="62.3" x2="617.8" y2="62.3" stroke="#555" stroke-width="0.8" stroke-linecap="butt"/>
<text x="621.5" y="66.2" font-size="10.8" text-anchor="start" font-weight="normal" fill="#231f20" font-family='"Liberation Sans", sans-serif'>5</text>
<line x1="614.3" y1="88.5" x2="617.8" y2="88.5" stroke="#555" stroke-width="0.8" stroke-linecap="butt"/>
<text x="621.5" y="92.4" font-size="10.8" text-anchor="start" font-weight="normal" fill="#231f20" font-family='"Liberation Sans", sans-serif'>1</text>
<line x1="614.3" y1="126.3" x2="617.8" y2="126.3" stroke="#555" stroke-width="0.8" stroke-linecap="butt"/>
<text x="621.5" y="130.2" font-size="10.8" text-anchor="start" font-weight="normal" fill="#231f20" font-family='"Liberation Sans", sans-serif'>0.10</text>
<line x1="614.3" y1="164.3" x2="617.8" y2="164.3" stroke="#555" stroke-width="0.8" stroke-linecap="butt"/>
<text x="621.5" y="168.2" font-size="10.8" text-anchor="start" font-weight="normal" fill="#231f20" font-family='"Liberation Sans", sans-serif'>0.01</text>
<text x="651.5" y="102" font-size="11" text-anchor="middle" font-weight="normal" fill="#231f20" font-family='"Liberation Sans", sans-serif' transform="rotate(90 651.5 102)">Chlorophyll (mg m<tspan dy="-4" font-size="7.5">−3</tspan><tspan dy="4">)</tspan></text>
<rect x="599.8" y="185.8" width="21.7" height="4.8" fill="#000"/>
<text x="626.9" y="192" font-size="11" text-anchor="start" font-weight="normal" fill="#231f20" font-family='"Liberation Sans", sans-serif'>Cruise track</text>
<line x1="599.8" y1="207.6" x2="621.5" y2="207.6" stroke="#dd22ee" stroke-width="1.2" stroke-linecap="butt"/>
<text x="626.9" y="212" font-size="11" text-anchor="start" font-weight="normal" fill="#231f20" font-family='"Liberation Sans", sans-serif'>0.2 mg m<tspan dy="-4" font-size="7.5">−3</tspan></text>
<text x="626.9" y="224.7" font-size="11" text-anchor="start" font-weight="normal" fill="#231f20" font-family='"Liberation Sans", sans-serif'>chlorophyll</text>
</svg></body></html>
